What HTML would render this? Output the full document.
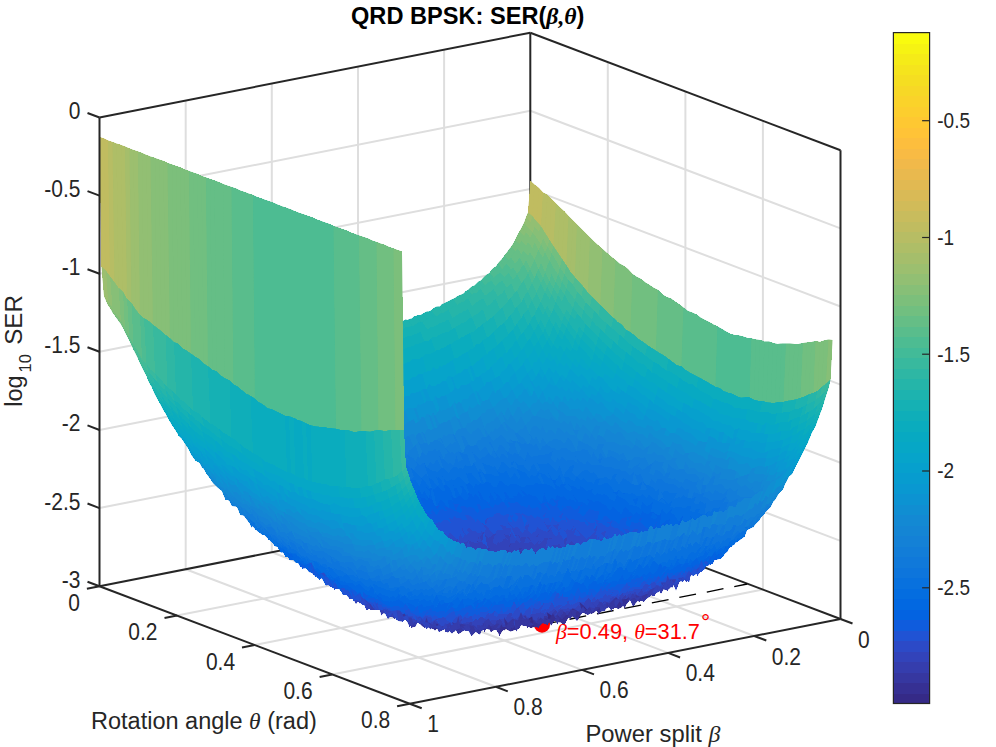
<!DOCTYPE html>
<html><head><meta charset="utf-8"><style>
html,body{margin:0;padding:0;background:#fff;width:996px;height:747px;overflow:hidden}
svg{display:block}

</style></head><body>
<svg width="996" height="747" viewBox="0 0 996 747">
<rect width="996" height="747" fill="#fff"/>
<line x1="444.1" y1="518.4" x2="444.1" y2="49.7" stroke="#dedede" stroke-width="2"/>
<line x1="358.0" y1="535.3" x2="358.0" y2="66.6" stroke="#dedede" stroke-width="2"/>
<line x1="271.8" y1="552.3" x2="271.8" y2="83.6" stroke="#dedede" stroke-width="2"/>
<line x1="185.7" y1="569.2" x2="185.7" y2="100.5" stroke="#dedede" stroke-width="2"/>
<line x1="99.5" y1="508.1" x2="530.3" y2="423.3" stroke="#dedede" stroke-width="2"/>
<line x1="99.5" y1="430.0" x2="530.3" y2="345.2" stroke="#dedede" stroke-width="2"/>
<line x1="99.5" y1="351.8" x2="530.3" y2="267.0" stroke="#dedede" stroke-width="2"/>
<line x1="99.5" y1="273.7" x2="530.3" y2="188.9" stroke="#dedede" stroke-width="2"/>
<line x1="99.5" y1="195.6" x2="530.3" y2="110.8" stroke="#dedede" stroke-width="2"/>
<line x1="607.8" y1="530.8" x2="607.8" y2="62.1" stroke="#dedede" stroke-width="2"/>
<line x1="685.4" y1="560.2" x2="685.4" y2="91.5" stroke="#dedede" stroke-width="2"/>
<line x1="762.9" y1="589.6" x2="762.9" y2="120.9" stroke="#dedede" stroke-width="2"/>
<line x1="530.3" y1="423.3" x2="840.5" y2="540.9" stroke="#dedede" stroke-width="2"/>
<line x1="530.3" y1="345.2" x2="840.5" y2="462.8" stroke="#dedede" stroke-width="2"/>
<line x1="530.3" y1="267.0" x2="840.5" y2="384.6" stroke="#dedede" stroke-width="2"/>
<line x1="530.3" y1="188.9" x2="840.5" y2="306.5" stroke="#dedede" stroke-width="2"/>
<line x1="530.3" y1="110.8" x2="840.5" y2="228.4" stroke="#dedede" stroke-width="2"/>
<line x1="444.1" y1="518.4" x2="754.3" y2="636.0" stroke="#dedede" stroke-width="2"/>
<line x1="358.0" y1="535.3" x2="668.2" y2="652.9" stroke="#dedede" stroke-width="2"/>
<line x1="271.8" y1="552.3" x2="582.0" y2="669.9" stroke="#dedede" stroke-width="2"/>
<line x1="185.7" y1="569.2" x2="495.9" y2="686.8" stroke="#dedede" stroke-width="2"/>
<line x1="607.8" y1="530.8" x2="177.0" y2="615.6" stroke="#dedede" stroke-width="2"/>
<line x1="685.4" y1="560.2" x2="254.6" y2="645.0" stroke="#dedede" stroke-width="2"/>
<line x1="762.9" y1="589.6" x2="332.1" y2="674.4" stroke="#dedede" stroke-width="2"/>
<line x1="99.5" y1="117.5" x2="530.3" y2="32.7" stroke="#262626" stroke-width="2"/>
<line x1="530.3" y1="32.7" x2="840.5" y2="150.3" stroke="#262626" stroke-width="2"/>
<line x1="530.3" y1="501.4" x2="530.3" y2="32.7" stroke="#262626" stroke-width="2"/>
<line x1="840.5" y1="619.0" x2="840.5" y2="150.3" stroke="#262626" stroke-width="2"/>
<line x1="99.5" y1="586.2" x2="530.3" y2="501.4" stroke="#262626" stroke-width="2"/>
<line x1="530.3" y1="501.4" x2="840.5" y2="619.0" stroke="#262626" stroke-width="2"/>
<line x1="542.0" y1="624.7" x2="747.2" y2="584.0" stroke="#000" stroke-width="1.3" stroke-dasharray="17 11"/>
<circle cx="542" cy="624.7" r="8" fill="#ff0000"/>
<g class="s" shape-rendering="crispEdges" transform="scale(0.5)">
<path fill="#87bf77" d="M1048 446l-5 10 9 8 4-9z"/>
<path fill="#92bf73" d="M1052 435l-4 11 8 9 5-11z"/>
<path fill="#87bf77" d="M1043 456l-4 7 9 9 4-8z"/>
<path fill="#9cbf6f" d="M1056 425l-4 10 9 9 4-12z"/>
<path fill="#7cbf7b" d="M1039 463l-4 7 8 11 5-9zM1035 470l-5 11 9 7 4-7z"/>
<path fill="#71bf80" d="M1030 481l-4 7 9 9 4-9zM1026 488l-4 6 8 8 5-5z"/>
<path fill="#65be86" d="M1022 494l-4 5 8 9 4-6zM1018 499l-5 7 9 9 4-7zM1013 506l-4 5 8 10 5-6z"/>
<path fill="#59bd8c" d="M1009 511l-4 6 8 10 4-6z"/>
<path fill="#87bf77" d="M1056 455l-4 9 8 11 5-10z"/>
<path fill="#59bd8c" d="M1005 517l-5 5 9 10 4-5z"/>
<path fill="#7cbf7b" d="M1052 464l-4 8 8 12 4-9z"/>
<path fill="#92bf73" d="M1061 444l-5 11 9 10 4-11z"/>
<path fill="#c0bc60" d="M1061 362l-5 63 9 7 4-63z"/>
<path fill="#7cbf7b" d="M1048 472l-5 9 9 11 4-8z"/>
<path fill="#92bf73" d="M1065 432l-4 12 8 10 4-12z"/>
<path fill="#71bf80" d="M1043 481l-4 7 8 13 5-9z"/>
<path fill="#59bd8c" d="M1000 522l-4 5 8 12 5-7z"/>
<path fill="#71bf80" d="M1039 488l-4 9 8 11 4-7z"/>
<path fill="#65be86" d="M1035 497l-5 5 9 13 4-7z"/>
<path fill="#4dbc92" d="M996 527l-4 6 8 11 4-5z"/>
<path fill="#65be86" d="M1030 502l-4 6 9 14 4-7z"/>
<path fill="#4dbc92" d="M992 533l-5 3 9 12 4-4z"/>
<path fill="#65be86" d="M1026 508l-4 7 8 12 5-5z"/>
<path fill="#59bd8c" d="M1022 515l-5 6 9 14 4-8z"/>
<path fill="#4dbc92" d="M987 536l-4 4 9 10 4-2z"/>
<path fill="#59bd8c" d="M1017 521l-4 6 9 12 4-4z"/>
<path fill="#4dbc92" d="M983 540l-4 6 8 9 5-5zM1013 527l-4 5 8 14 5-7z"/>
<path fill="#7cbf7b" d="M1060 475l-4 9 9 12 4-11zM1065 465l-5 10 9 10 4-10z"/>
<path fill="#71bf80" d="M1056 484l-4 8 8 13 5-9z"/>
<path fill="#87bf77" d="M1069 454l-4 11 8 10 5-11z"/>
<path fill="#71bf80" d="M1052 492l-5 9 9 11 4-7z"/>
<path fill="#4dbc92" d="M1009 532l-5 7 9 12 4-5z"/>
<path fill="#92bf73" d="M1073 442l-4 12 9 10 4-12z"/>
<path fill="#65be86" d="M1047 501l-4 7 9 13 4-9z"/>
<path fill="#42bb98" d="M979 546l-5 3 9 13 4-7z"/>
<path fill="#c0bc60" d="M1069 369l-4 63 8 10 5-66z"/>
<path fill="#65be86" d="M1043 508l-4 7 8 14 5-8z"/>
<path fill="#4dbc92" d="M1004 539l-4 5 9 10 4-3z"/>
<path fill="#59bd8c" d="M1039 515l-4 7 8 12 4-5z"/>
<path fill="#42bb98" d="M974 549l-4 3 9 11 4-1z"/>
<path fill="#59bd8c" d="M1035 522l-5 5 9 16 4-9z"/>
<path fill="#42bb98" d="M1000 544l-4 4 8 13 5-7z"/>
<path fill="#59bd8c" d="M1030 527l-4 8 8 12 5-4z"/>
<path fill="#42bb98" d="M970 552l-4 4 8 11 5-4z"/>
<path fill="#4dbc92" d="M1026 535l-4 4 8 17 4-9z"/>
<path fill="#42bb98" d="M996 548l-4 2 8 14 4-3zM966 556l-4 5 8 10 4-4z"/>
<path fill="#4dbc92" d="M1022 539l-5 7 9 13 4-3z"/>
<path fill="#71bf80" d="M1065 496l-5 9 9 14 4-9zM1069 485l-4 11 8 14 4-10z"/>
<path fill="#42bb98" d="M992 550l-5 5 9 12 4-3z"/>
<path fill="#7cbf7b" d="M1073 475l-4 10 8 15 5-11z"/>
<path fill="#65be86" d="M1060 505l-4 7 9 16 4-9z"/>
<path fill="#87bf77" d="M1078 464l-5 11 9 14 4-12z"/>
<path fill="#42bb98" d="M1017 546l-4 5 9 15 4-7z"/>
<path fill="#65be86" d="M1056 512l-4 9 8 16 5-9z"/>
<path fill="#38b99e" d="M962 561l-5 2 9 13 4-5z"/>
<path fill="#59bd8c" d="M1052 521l-5 8 9 17 4-9z"/>
<path fill="#87bf77" d="M1082 452l-4 12 8 13 4-12z"/>
<path fill="#42bb98" d="M987 555l-4 7 8 11 5-6z"/>
<path fill="#4dbc92" d="M1047 529l-4 5 9 20 4-8z"/>
<path fill="#42bb98" d="M1013 551l-4 3 8 18 5-6z"/>
<path fill="#4dbc92" d="M1043 534l-4 9 8 18 5-7z"/>
<path fill="#c0bc60" d="M1078 376l-5 66 9 10 4-67z"/>
<path fill="#38b99e" d="M957 563l-4 4 8 11 5-2zM983 562l-4 1 8 15 4-5z"/>
<path fill="#4dbc92" d="M1039 543l-5 4 9 20 4-6z"/>
<path fill="#42bb98" d="M1009 554l-5 7 9 14 4-3zM1034 547l-4 9 9 16 4-5z"/>
<path fill="#38b99e" d="M979 563l-5 4 9 15 4-4zM953 567l-4 4 8 10 4-3zM1004 561l-4 3 9 16 4-5z"/>
<path fill="#42bb98" d="M1030 556l-4 3 8 22 5-9z"/>
<path fill="#59bd8c" d="M1069 519l-4 9 8 19 4-9z"/>
<path fill="#65be86" d="M1073 510l-4 9 8 19 5-12z"/>
<path fill="#59bd8c" d="M1065 528l-5 9 9 20 4-10z"/>
<path fill="#65be86" d="M1077 500l-4 10 9 16 4-10z"/>
<path fill="#4dbc92" d="M1060 537l-4 9 8 20 5-9z"/>
<path fill="#38b99e" d="M1000 564l-4 3 8 20 5-7zM974 567l-4 4 9 13 4-2z"/>
<path fill="#42bb98" d="M1026 559l-4 7 8 18 4-3z"/>
<path fill="#38b99e" d="M949 571l-5 2 9 12 4-4z"/>
<path fill="#71bf80" d="M1082 489l-5 11 9 16 4-12z"/>
<path fill="#42bb98" d="M1056 546l-4 8 8 20 4-8z"/>
<path fill="#7cbf7b" d="M1086 477l-4 12 8 15 5-11z"/>
<path fill="#42bb98" d="M1052 554l-5 7 9 22 4-9z"/>
<path fill="#38b99e" d="M1022 566l-5 6 9 18 4-6zM996 567l-5 6 9 15 4-1z"/>
<path fill="#87bf77" d="M1090 465l-4 12 9 16 4-14z"/>
<path fill="#38b99e" d="M970 571l-4 5 8 13 5-5zM1047 561l-4 6 8 20 5-4zM944 573l-4 3 8 9 5 0zM1017 572l-4 3 8 20 5-5zM1043 567l-4 5 8 23 4-8zM991 573l-4 5 9 15 4-5zM966 576l-5 2 9 13 4-2zM1039 572l-5 9 9 22 4-8zM1013 575l-4 5 8 21 4-6z"/>
<path fill="#b7bd64" d="M1086 385l-4 67 8 13 5-75z"/>
<path fill="#38b99e" d="M940 576l-4 4 8 10 4-5z"/>
<path fill="#2eb7a4" d="M1034 581l-4 3 9 24 4-5zM987 578l-4 4 8 16 5-5z"/>
<path fill="#4dbc92" d="M1077 538l-4 9 9 20 4-10z"/>
<path fill="#42bb98" d="M1073 547l-4 10 8 18 5-8zM1069 557l-5 9 9 19 4-10z"/>
<path fill="#59bd8c" d="M1082 526l-5 12 9 19 4-13z"/>
<path fill="#38b99e" d="M1064 566l-4 8 9 20 4-9z"/>
<path fill="#2eb7a4" d="M1009 580l-5 7 9 18 4-4zM961 578l-4 3 9 16 4-6z"/>
<path fill="#65be86" d="M1086 516l-4 10 8 18 4-11z"/>
<path fill="#38b99e" d="M1060 574l-4 9 8 18 5-7z"/>
<path fill="#2eb7a4" d="M1030 584l-4 6 8 24 5-6zM936 580l-5 3 9 10 4-3z"/>
<path fill="#65be86" d="M1090 504l-4 12 8 17 5-12z"/>
<path fill="#2eb7a4" d="M983 582l-4 2 8 17 4-3zM1056 583l-5 4 9 21 4-7zM1004 587l-4 1 9 22 4-5z"/>
<path fill="#71bf80" d="M1095 493l-5 11 9 17 4-15z"/>
<path fill="#2eb7a4" d="M957 581l-4 4 8 14 5-2zM1026 590l-5 5 9 22 4-3zM1051 587l-4 8 9 23 4-10z"/>
<path fill="#25b5a9" d="M1047 595l-4 8 8 22 5-7z"/>
<path fill="#2eb7a4" d="M931 583l-4 4 9 10 4-4z"/>
<path fill="#7cbf7b" d="M1099 479l-4 14 8 13 4-14z"/>
<path fill="#2eb7a4" d="M979 584l-5 5 9 16 4-4z"/>
<path fill="#25b5a9" d="M1021 595l-4 6 9 24 4-8z"/>
<path fill="#2eb7a4" d="M1000 588l-4 5 8 21 5-4z"/>
<path fill="#25b5a9" d="M1043 603l-4 5 8 20 4-3z"/>
<path fill="#2eb7a4" d="M953 585l-5 0 9 17 4-3z"/>
<path fill="#25b5a9" d="M1017 601l-4 4 8 25 5-5z"/>
<path fill="#2eb7a4" d="M927 587l-4 2 8 10 5-2zM974 589l-4 2 8 19 5-5z"/>
<path fill="#25b5a9" d="M1039 608l-5 6 9 23 4-9z"/>
<path fill="#2eb7a4" d="M996 593l-5 5 9 20 4-4z"/>
<path fill="#42bb98" d="M1086 557l-4 10 8 17 4-11z"/>
<path fill="#38b99e" d="M1082 567l-5 8 9 18 4-9zM1077 575l-4 10 8 18 5-10z"/>
<path fill="#2eb7a4" d="M1073 585l-4 9 8 19 4-10z"/>
<path fill="#4dbc92" d="M1090 544l-4 13 8 16 5-11z"/>
<path fill="#2eb7a4" d="M1069 594l-5 7 9 19 4-7z"/>
<path fill="#25b5a9" d="M1013 605l-4 5 8 25 4-5z"/>
<path fill="#2eb7a4" d="M948 585l-4 5 9 15 4-3z"/>
<path fill="#1db3af" d="M1034 614l-4 3 8 24 5-4z"/>
<path fill="#2eb7a4" d="M970 591l-4 6 8 15 4-2z"/>
<path fill="#25b5a9" d="M1064 601l-4 7 9 22 4-10z"/>
<path fill="#59bd8c" d="M1094 533l-4 11 9 18 4-14z"/>
<path fill="#25b5a9" d="M991 598l-4 3 9 22 4-5z"/>
<path fill="#2eb7a4" d="M923 589l-5 2 9 12 4-4z"/>
<path fill="#b7bd64" d="M1095 390l-5 75 9 14 4-81z"/>
<path fill="#25b5a9" d="M1060 608l-4 10 8 18 5-6z"/>
<path fill="#59bd8c" d="M1099 521l-5 12 9 15 4-13z"/>
<path fill="#1db3af" d="M1056 618l-5 7 9 20 4-9zM1030 617l-4 8 8 22 4-6z"/>
<path fill="#25b5a9" d="M1009 610l-5 4 9 25 4-4z"/>
<path fill="#2eb7a4" d="M944 590l-4 3 8 16 5-4z"/>
<path fill="#25b5a9" d="M987 601l-4 4 8 22 5-4z"/>
<path fill="#1db3af" d="M1051 625l-4 3 9 23 4-6z"/>
<path fill="#25b5a9" d="M966 597l-5 2 9 14 4-1z"/>
<path fill="#65be86" d="M1103 506l-4 15 8 14 5-14z"/>
<path fill="#1db3af" d="M1026 625l-5 5 9 23 4-6z"/>
<path fill="#2eb7a4" d="M918 591l-4 2 9 11 4-1z"/>
<path fill="#1db3af" d="M1004 614l-4 4 8 27 5-6z"/>
<path fill="#15b1b4" d="M1047 628l-4 9 8 21 5-7zM1021 630l-4 5 9 24 4-6z"/>
<path fill="#2eb7a4" d="M940 593l-4 4 8 15 4-3z"/>
<path fill="#25b5a9" d="M983 605l-5 5 9 21 4-4z"/>
<path fill="#71bf80" d="M1107 492l-4 14 9 15 4-16z"/>
<path fill="#15b1b4" d="M1043 637l-5 4 9 23 4-6z"/>
<path fill="#25b5a9" d="M961 599l-4 3 9 17 4-6z"/>
<path fill="#1db3af" d="M1000 618l-4 5 8 26 4-4z"/>
<path fill="#2eb7a4" d="M1086 593l-5 10 9 18 4-10z"/>
<path fill="#25b5a9" d="M1081 603l-4 10 9 16 4-8z"/>
<path fill="#15b1b4" d="M1017 635l-4 4 8 24 5-4z"/>
<path fill="#2eb7a4" d="M914 593l-4 3 8 11 5-3zM1090 584l-4 9 8 18 5-13z"/>
<path fill="#1db3af" d="M1077 613l-4 7 8 19 5-10z"/>
<path fill="#25b5a9" d="M978 610l-4 2 9 24 4-5z"/>
<path fill="#38b99e" d="M1094 573l-4 11 9 14 4-9z"/>
<path fill="#1db3af" d="M1073 620l-4 10 8 18 4-9z"/>
<path fill="#15b1b4" d="M1038 641l-4 6 9 21 4-4z"/>
<path fill="#25b5a9" d="M936 597l-5 2 9 15 4-2z"/>
<path fill="#42bb98" d="M1099 562l-5 11 9 16 4-13z"/>
<path fill="#15b1b4" d="M1069 630l-5 6 9 18 4-6z"/>
<path fill="#1db3af" d="M996 623l-5 4 9 24 4-2z"/>
<path fill="#25b5a9" d="M957 602l-4 3 8 17 5-3z"/>
<path fill="#15b1b4" d="M1013 639l-5 6 9 24 4-6z"/>
<path fill="#4dbc92" d="M1103 548l-4 14 8 14 4-12z"/>
<path fill="#15b1b4" d="M1064 636l-4 9 8 17 5-8z"/>
<path fill="#0faeb9" d="M1034 647l-4 6 8 21 5-6z"/>
<path fill="#2eb7a4" d="M910 596l-4 2 8 12 4-3z"/>
<path fill="#0faeb9" d="M1060 645l-4 6 8 19 4-8z"/>
<path fill="#25b5a9" d="M974 612l-4 1 8 25 5-2z"/>
<path fill="#59bd8c" d="M1107 535l-4 13 8 16 5-15z"/>
<path fill="#1db3af" d="M991 627l-4 4 8 26 5-6z"/>
<path fill="#25b5a9" d="M931 599l-4 4 8 14 5-3z"/>
<path fill="#0faeb9" d="M1008 645l-4 4 9 25 4-5zM1030 653l-4 6 8 22 4-7z"/>
<path fill="#25b5a9" d="M953 605l-5 4 9 17 4-4z"/>
<path fill="#0faeb9" d="M1056 651l-5 7 9 19 4-7z"/>
<path fill="#b7bd64" d="M1103 398l-4 81 8 13 5-85z"/>
<path fill="#65be86" d="M1112 521l-5 14 9 14 4-14z"/>
<path fill="#0faeb9" d="M1051 658l-4 6 8 18 5-5z"/>
<path fill="#25b5a9" d="M906 598l-5 2 9 13 4-3z"/>
<path fill="#0aacbe" d="M1026 659l-5 4 9 20 4-2z"/>
<path fill="#15b1b4" d="M987 631l-4 5 8 23 4-2z"/>
<path fill="#25b5a9" d="M970 613l-4 6 8 23 4-4z"/>
<path fill="#0faeb9" d="M1004 649l-4 2 8 25 5-2z"/>
<path fill="#25b5a9" d="M927 603l-4 1 8 17 4-4zM948 609l-4 3 9 17 4-3z"/>
<path fill="#0aacbe" d="M1047 664l-4 4 8 21 4-7zM1021 663l-4 6 8 22 5-8z"/>
<path fill="#71bf80" d="M1116 505l-4 16 8 14 4-18z"/>
<path fill="#25b5a9" d="M1094 611l-4 10 8 16 5-11z"/>
<path fill="#1db3af" d="M1090 621l-4 8 8 17 4-9z"/>
<path fill="#15b1b4" d="M1081 639l-4 9 9 18 4-10z"/>
<path fill="#1db3af" d="M1086 629l-5 10 9 17 4-10zM966 619l-5 3 9 23 4-3z"/>
<path fill="#15b1b4" d="M983 636l-5 2 9 26 4-5z"/>
<path fill="#2eb7a4" d="M1099 598l-5 13 9 15 4-9z"/>
<path fill="#0faeb9" d="M1000 651l-5 6 9 25 4-6z"/>
<path fill="#25b5a9" d="M901 600l-4 3 8 11 5-1z"/>
<path fill="#0aacbe" d="M1043 668l-5 6 9 21 4-6z"/>
<path fill="#2eb7a4" d="M1103 589l-4 9 8 19 4-13z"/>
<path fill="#0faeb9" d="M1077 648l-4 6 8 18 5-6z"/>
<path fill="#0aacbe" d="M1017 669l-4 5 8 21 4-4z"/>
<path fill="#25b5a9" d="M944 612l-4 2 8 17 5-2zM923 604l-5 3 9 14 4 0z"/>
<path fill="#0faeb9" d="M1073 654l-5 8 9 19 4-9z"/>
<path fill="#38b99e" d="M1107 576l-4 13 8 15 5-14z"/>
<path fill="#0aacbe" d="M1038 674l-4 7 9 19 4-5zM1068 662l-4 8 9 17 4-6z"/>
<path fill="#15b1b4" d="M978 638l-4 4 9 26 4-4z"/>
<path fill="#1db3af" d="M961 622l-4 4 8 22 5-3z"/>
<path fill="#0faeb9" d="M995 657l-4 2 9 25 4-2z"/>
<path fill="#42bb98" d="M1111 564l-4 12 9 14 4-13z"/>
<path fill="#0aacbe" d="M1013 674l-5 2 9 25 4-6z"/>
<path fill="#25b5a9" d="M897 603l-4 1 8 13 4-3z"/>
<path fill="#0aacbe" d="M1064 670l-4 7 8 17 5-7z"/>
<path fill="#25b5a9" d="M940 614l-5 3 9 18 4-4z"/>
<path fill="#07a9c2" d="M1034 681l-4 2 8 23 5-6z"/>
<path fill="#25b5a9" d="M918 607l-4 3 9 15 4-4z"/>
<path fill="#07a9c2" d="M1060 677l-5 5 9 22 4-10z"/>
<path fill="#4dbc92" d="M1116 549l-5 15 9 13 4-14z"/>
<path fill="#15b1b4" d="M974 642l-4 3 8 28 5-5z"/>
<path fill="#0faeb9" d="M991 659l-4 5 8 26 5-6z"/>
<path fill="#1db3af" d="M957 626l-4 3 8 23 4-4z"/>
<path fill="#0aacbe" d="M1008 676l-4 6 9 23 4-4z"/>
<path fill="#07a9c2" d="M1030 683l-5 8 9 21 4-6zM1055 682l-4 7 9 20 4-5z"/>
<path fill="#25b5a9" d="M893 604l-5 3 9 13 4-3z"/>
<path fill="#59bd8c" d="M1120 535l-4 14 8 14 5-15z"/>
<path fill="#1db3af" d="M935 617l-4 4 9 15 4-1z"/>
<path fill="#aebe67" d="M1112 407l-5 85 9 13 4-90z"/>
<path fill="#25b5a9" d="M914 610l-4 3 8 13 5-1z"/>
<path fill="#0aacbe" d="M987 664l-4 4 8 26 4-4z"/>
<path fill="#07a9c2" d="M1051 689l-4 6 8 21 5-7zM1025 691l-4 4 9 21 4-4z"/>
<path fill="#15b1b4" d="M970 645l-5 3 9 27 4-2z"/>
<path fill="#07a9c2" d="M1004 682l-4 2 8 23 5-2z"/>
<path fill="#0faeb9" d="M1090 656l-4 10 8 15 4-6z"/>
<path fill="#1db3af" d="M953 629l-5 2 9 23 4-2z"/>
<path fill="#15b1b4" d="M1094 646l-4 10 8 19 5-13zM1098 637l-4 9 9 16 4-10z"/>
<path fill="#1db3af" d="M1103 626l-5 11 9 15 4-9zM1107 617l-4 9 8 17 5-12z"/>
<path fill="#0aacbe" d="M1086 666l-5 6 9 17 4-8z"/>
<path fill="#06a7c6" d="M1047 695l-4 5 8 18 4-2z"/>
<path fill="#65be86" d="M1124 517l-4 18 9 13 4-18z"/>
<path fill="#06a7c6" d="M1021 695l-4 6 8 21 5-6z"/>
<path fill="#25b5a9" d="M888 607l-4 1 8 14 5-2zM1111 604l-4 13 9 14 4-14z"/>
<path fill="#0aacbe" d="M1081 672l-4 9 8 17 5-9zM983 668l-5 5 9 23 4-2z"/>
<path fill="#1db3af" d="M931 621l-4 0 8 19 5-4z"/>
<path fill="#25b5a9" d="M910 613l-5 1 9 16 4-4z"/>
<path fill="#07a9c2" d="M1077 681l-4 6 8 19 4-8zM1000 684l-5 6 9 23 4-6z"/>
<path fill="#0faeb9" d="M965 648l-4 4 9 26 4-3z"/>
<path fill="#1db3af" d="M948 631l-4 4 9 23 4-4z"/>
<path fill="#06a7c6" d="M1043 700l-5 6 9 20 4-8z"/>
<path fill="#07a9c2" d="M1073 687l-5 7 9 21 4-9z"/>
<path fill="#2eb7a4" d="M1116 590l-5 14 9 13 4-14z"/>
<path fill="#06a7c6" d="M1017 701l-4 4 8 22 4-5zM1068 694l-4 10 9 19 4-8z"/>
<path fill="#0aacbe" d="M978 673l-4 2 8 26 5-5z"/>
<path fill="#06a7c6" d="M1038 706l-4 6 8 22 5-8z"/>
<path fill="#25b5a9" d="M884 608l-4 5 8 12 4-3z"/>
<path fill="#1db3af" d="M927 621l-4 4 8 19 4-4z"/>
<path fill="#07a9c2" d="M995 690l-4 4 9 21 4-2z"/>
<path fill="#38b99e" d="M1120 577l-4 13 8 13 5-14z"/>
<path fill="#25b5a9" d="M905 614l-4 3 9 16 4-3z"/>
<path fill="#0faeb9" d="M961 652l-4 2 8 27 5-3z"/>
<path fill="#06a7c6" d="M1064 704l-4 5 8 15 5-1z"/>
<path fill="#15b1b4" d="M944 635l-4 1 8 27 5-5z"/>
<path fill="#06a4ca" d="M1034 712l-4 4 8 21 4-3z"/>
<path fill="#06a7c6" d="M1013 705l-5 2 9 20 4 0z"/>
<path fill="#42bb98" d="M1124 563l-4 14 9 12 4-12z"/>
<path fill="#06a7c6" d="M1060 709l-5 7 9 20 4-12z"/>
<path fill="#0aacbe" d="M974 675l-4 3 8 25 4-2z"/>
<path fill="#07a9c2" d="M991 694l-4 2 8 25 5-6z"/>
<path fill="#25b5a9" d="M880 613l-5 0 9 13 4-1z"/>
<path fill="#0faeb9" d="M957 654l-4 4 8 28 4-5z"/>
<path fill="#1db3af" d="M923 625l-5 1 9 19 4-1z"/>
<path fill="#25b5a9" d="M901 617l-4 3 8 15 5-2z"/>
<path fill="#06a4ca" d="M1055 716l-4 2 9 22 4-4zM1030 716l-5 6 9 20 4-5z"/>
<path fill="#15b1b4" d="M940 636l-5 4 9 24 4-1z"/>
<path fill="#06a7c6" d="M1008 707l-4 6 8 24 5-10z"/>
<path fill="#4dbc92" d="M1129 548l-5 15 9 14 4-17z"/>
<path fill="#0faeb9" d="M1103 662l-5 13 9 14 4-12z"/>
<path fill="#0aacbe" d="M1098 675l-4 6 9 15 4-7z"/>
<path fill="#15b1b4" d="M1111 643l-4 9 9 17 4-11z"/>
<path fill="#06a7c6" d="M987 696l-5 5 9 25 4-5z"/>
<path fill="#0faeb9" d="M1107 652l-4 10 8 15 5-8z"/>
<path fill="#0aacbe" d="M970 678l-5 3 9 29 4-7z"/>
<path fill="#1db3af" d="M1116 631l-5 12 9 15 4-14z"/>
<path fill="#07a9c2" d="M1094 681l-4 8 8 15 5-8z"/>
<path fill="#aebe67" d="M1120 415l-4 90 8 12 5-94z"/>
<path fill="#06a4ca" d="M1051 718l-4 8 8 20 5-6z"/>
<path fill="#0faeb9" d="M953 658l-5 5 9 25 4-2z"/>
<path fill="#06a4ca" d="M1025 722l-4 5 9 18 4-3zM1004 713l-4 2 8 26 4-4z"/>
<path fill="#07a9c2" d="M1090 689l-5 9 9 17 4-11z"/>
<path fill="#06a7c6" d="M1085 698l-4 8 9 16 4-7z"/>
<path fill="#1db3af" d="M918 626l-4 4 8 16 5-1z"/>
<path fill="#06a0cd" d="M1047 726l-5 8 9 19 4-7z"/>
<path fill="#1db3af" d="M897 620l-5 2 9 14 4-1z"/>
<path fill="#25b5a9" d="M875 613l-4 1 9 13 4-1z"/>
<path fill="#15b1b4" d="M935 640l-4 4 9 22 4-2z"/>
<path fill="#59bd8c" d="M1133 530l-4 18 8 12 4-17z"/>
<path fill="#25b5a9" d="M1120 617l-4 14 8 13 4-14z"/>
<path fill="#06a7c6" d="M1081 706l-4 9 8 12 5-5z"/>
<path fill="#07a9c2" d="M965 681l-4 5 9 24 4 0z"/>
<path fill="#06a7c6" d="M982 701l-4 2 9 24 4-1z"/>
<path fill="#06a4ca" d="M1077 715l-4 8 8 11 4-7zM1000 715l-5 6 9 22 4-2z"/>
<path fill="#2eb7a4" d="M1124 603l-4 14 8 13 5-11z"/>
<path fill="#06a0cd" d="M1021 727l-4 0 8 23 5-5zM1042 734l-4 3 9 18 4-2z"/>
<path fill="#0faeb9" d="M948 663l-4 1 8 25 5-1z"/>
<path fill="#1db3af" d="M914 630l-4 3 8 17 4-4z"/>
<path fill="#06a4ca" d="M1073 723l-5 1 9 21 4-11z"/>
<path fill="#1db3af" d="M892 622l-4 3 9 14 4-3z"/>
<path fill="#15b1b4" d="M931 644l-4 1 8 23 5-2z"/>
<path fill="#25b5a9" d="M871 614l-4 3 8 14 5-4z"/>
<path fill="#06a7c6" d="M978 703l-4 7 8 22 5-5z"/>
<path fill="#06a4ca" d="M995 721l-4 5 8 25 5-8z"/>
<path fill="#2eb7a4" d="M1129 589l-5 14 9 16 4-15z"/>
<path fill="#06a4ca" d="M1068 724l-4 12 8 17 5-8z"/>
<path fill="#07a9c2" d="M961 686l-4 2 8 26 5-4z"/>
<path fill="#06a0cd" d="M1017 727l-5 10 9 18 4-5zM1038 737l-4 5 8 22 5-9zM1064 736l-4 4 8 19 4-6z"/>
<path fill="#0faeb9" d="M944 664l-4 2 8 30 4-7z"/>
<path fill="#06a0cd" d="M1012 737l-4 4 9 23 4-9z"/>
<path fill="#38b99e" d="M1133 577l-4 12 8 15 4-17z"/>
<path fill="#06a7c6" d="M974 710l-4 0 8 29 4-7z"/>
<path fill="#1db3af" d="M910 633l-5 2 9 17 4-2z"/>
<path fill="#06a4ca" d="M991 726l-4 1 8 26 4-2z"/>
<path fill="#06a0cd" d="M1034 742l-4 3 8 23 4-4z"/>
<path fill="#1db3af" d="M888 625l-4 1 8 15 5-2z"/>
<path fill="#25b5a9" d="M867 617l-5 4 9 11 4-1z"/>
<path fill="#06a0cd" d="M1060 740l-5 6 9 17 4-4z"/>
<path fill="#15b1b4" d="M927 645l-5 1 9 25 4-3z"/>
<path fill="#07a9c2" d="M957 688l-5 1 9 30 4-5z"/>
<path fill="#06a0cd" d="M1008 741l-4 2 8 21 5 0z"/>
<path fill="#0aacbe" d="M940 666l-5 2 9 30 4-2zM1111 677l-4 12 8 10 5-9z"/>
<path fill="#07a9c2" d="M1107 689l-4 7 8 13 4-10z"/>
<path fill="#0aacbe" d="M1116 669l-5 8 9 13 4-10z"/>
<path fill="#0faeb9" d="M1120 658l-4 11 8 11 4-11z"/>
<path fill="#42bb98" d="M1137 560l-4 17 8 10 5-17z"/>
<path fill="#06a7c6" d="M970 710l-5 4 9 26 4-1z"/>
<path fill="#07a9c2" d="M1103 696l-5 8 9 13 4-8z"/>
<path fill="#079ccf" d="M1030 745l-5 5 9 20 4-2z"/>
<path fill="#1db3af" d="M905 635l-4 1 9 19 4-3z"/>
<path fill="#06a4ca" d="M987 727l-5 5 9 23 4-2z"/>
<path fill="#079ccf" d="M1055 746l-4 7 9 8 4 2z"/>
<path fill="#15b1b4" d="M1124 644l-4 14 8 11 5-14z"/>
<path fill="#07a9c2" d="M952 689l-4 7 9 25 4-2z"/>
<path fill="#06a7c6" d="M1098 704l-4 11 8 8 5-6z"/>
<path fill="#1db3af" d="M862 621l-4 2 9 11 4-2z"/>
<path fill="#06a4ca" d="M1094 715l-4 7 8 13 4-12z"/>
<path fill="#15b1b4" d="M922 646l-4 4 9 24 4-3z"/>
<path fill="#1db3af" d="M884 626l-4 1 8 17 4-3z"/>
<path fill="#06a0cd" d="M1004 743l-5 8 9 19 4-6z"/>
<path fill="#aebe67" d="M1129 423l-5 94 9 13 4-98z"/>
<path fill="#06a4ca" d="M1090 722l-5 5 9 15 4-7z"/>
<path fill="#1db3af" d="M1128 630l-4 14 9 11 4-12z"/>
<path fill="#06a4ca" d="M965 714l-4 5 8 26 5-5z"/>
<path fill="#079ccf" d="M1025 750l-4 5 8 21 5-6zM1051 753l-4 2 8 18 5-12z"/>
<path fill="#0aacbe" d="M935 668l-4 3 8 28 5-1z"/>
<path fill="#59bd8c" d="M1141 543l-4 17 9 10 4-16z"/>
<path fill="#06a0cd" d="M982 732l-4 7 9 18 4-2z"/>
<path fill="#06a4ca" d="M1085 727l-4 7 9 15 4-7z"/>
<path fill="#07a9c2" d="M948 696l-4 2 8 26 5-3z"/>
<path fill="#1db3af" d="M901 636l-4 3 8 19 5-3z"/>
<path fill="#079ccf" d="M999 751l-4 2 9 22 4-5z"/>
<path fill="#25b5a9" d="M1133 619l-5 11 9 13 4-13z"/>
<path fill="#06a0cd" d="M1081 734l-4 11 8 12 5-8z"/>
<path fill="#079ccf" d="M1047 755l-5 9 9 13 4-4zM1021 755l-4 9 8 16 4-4z"/>
<path fill="#15b1b4" d="M918 650l-4 2 8 23 5-1z"/>
<path fill="#1db3af" d="M858 623l-4 0 8 13 5-2zM880 627l-5 4 9 14 4-1z"/>
<path fill="#079ccf" d="M1077 745l-5 8 9 8 4-4z"/>
<path fill="#2eb7a4" d="M1137 604l-4 15 8 11 5-15z"/>
<path fill="#06a4ca" d="M961 719l-4 2 8 25 4-1z"/>
<path fill="#06a0cd" d="M978 739l-4 1 8 22 5-5z"/>
<path fill="#0aacbe" d="M931 671l-4 3 8 29 4-4z"/>
<path fill="#0998d1" d="M1042 764l-4 4 9 12 4-3z"/>
<path fill="#079ccf" d="M1072 753l-4 6 9 10 4-8zM995 753l-4 2 8 23 5-3z"/>
<path fill="#15b1b4" d="M897 639l-5 2 9 20 4-3z"/>
<path fill="#07a9c2" d="M944 698l-5 1 9 29 4-4z"/>
<path fill="#0998d1" d="M1017 764l-5 0 9 17 4-1z"/>
<path fill="#15b1b4" d="M914 652l-4 3 8 24 4-4z"/>
<path fill="#079ccf" d="M1068 759l-4 4 8 13 5-7z"/>
<path fill="#38b99e" d="M1141 587l-4 17 9 11 4-15z"/>
<path fill="#1db3af" d="M875 631l-4 1 8 14 5-1z"/>
<path fill="#06a4ca" d="M957 721l-5 3 9 27 4-5z"/>
<path fill="#1db3af" d="M854 623l-4 2 8 11 4 0z"/>
<path fill="#0998d1" d="M1038 768l-4 2 8 19 5-9z"/>
<path fill="#06a0cd" d="M974 740l-5 5 9 20 4-3z"/>
<path fill="#0aacbe" d="M927 674l-5 1 9 31 4-3z"/>
<path fill="#0998d1" d="M1012 764l-4 6 9 21 4-10z"/>
<path fill="#07a9c2" d="M939 699l-4 4 9 30 4-5z"/>
<path fill="#15b1b4" d="M892 641l-4 3 9 20 4-3z"/>
<path fill="#079ccf" d="M991 755l-4 2 8 23 4-2z"/>
<path fill="#0aacbe" d="M1124 680l-4 10 8 13 5-9z"/>
<path fill="#07a9c2" d="M1115 699l-4 10 9 15 4-12zM1120 690l-5 9 9 13 4-9z"/>
<path fill="#06a7c6" d="M1111 709l-4 8 8 15 5-8z"/>
<path fill="#0aacbe" d="M1128 669l-4 11 9 14 4-14z"/>
<path fill="#0faeb9" d="M910 655l-5 3 9 22 4-1z"/>
<path fill="#0998d1" d="M1064 763l-4-2 8 18 4-3zM1034 770l-5 6 9 14 4-1z"/>
<path fill="#42bb98" d="M1146 570l-5 17 9 13 4-17z"/>
<path fill="#0998d1" d="M1008 770l-4 5 8 20 5-4z"/>
<path fill="#06a4ca" d="M952 724l-4 4 9 26 4-3zM1107 717l-5 6 9 17 4-8z"/>
<path fill="#1db3af" d="M871 632l-4 2 8 16 4-4z"/>
<path fill="#06a4ca" d="M1102 723l-4 12 9 12 4-7z"/>
<path fill="#1db3af" d="M850 625l-5 3 9 11 4-3z"/>
<path fill="#0faeb9" d="M1133 655l-5 14 9 11 4-12z"/>
<path fill="#06a0cd" d="M969 745l-4 1 9 17 4 2z"/>
<path fill="#079ccf" d="M1060 761l-5 12 9 19 4-13z"/>
<path fill="#0aacbe" d="M922 675l-4 4 9 28 4-1z"/>
<path fill="#079ccf" d="M987 757l-5 5 9 24 4-6z"/>
<path fill="#06a7c6" d="M935 703l-4 3 8 26 5 1z"/>
<path fill="#06a0cd" d="M1098 735l-4 7 8 10 5-5z"/>
<path fill="#0998d1" d="M1055 773l-4 4 8 16 5-1zM1029 776l-4 4 9 17 4-7z"/>
<path fill="#a5be6b" d="M1137 432l-4 98 8 13 5-102z"/>
<path fill="#15b1b4" d="M1137 643l-4 12 8 13 4-13zM888 644l-4 1 8 18 5 1z"/>
<path fill="#06a0cd" d="M1094 742l-4 7 8 17 4-14z"/>
<path fill="#0998d1" d="M1004 775l-5 3 9 19 4-2z"/>
<path fill="#0faeb9" d="M905 658l-4 3 8 22 5-3z"/>
<path fill="#079ccf" d="M1090 749l-5 8 9 15 4-6z"/>
<path fill="#06a4ca" d="M948 728l-4 5 8 21 5 0z"/>
<path fill="#4dbc92" d="M1150 554l-4 16 8 13 4-20z"/>
<path fill="#1db3af" d="M867 634l-5 2 9 15 4-1z"/>
<path fill="#06a0cd" d="M965 746l-4 5 8 20 5-8z"/>
<path fill="#1db3af" d="M1141 630l-4 13 8 12 5-15zM845 628l-4 2 8 11 5-2z"/>
<path fill="#079ccf" d="M1085 757l-4 4 8 17 5-6z"/>
<path fill="#0aacbe" d="M918 679l-4 1 8 31 5-4z"/>
<path fill="#0998d1" d="M982 762l-4 3 8 16 5 5z"/>
<path fill="#0c93d2" d="M1025 780l-4 1 8 18 5-2z"/>
<path fill="#06a7c6" d="M931 706l-4 1 8 31 4-6z"/>
<path fill="#0c93d2" d="M1051 777l-4 3 8 12 4 1z"/>
<path fill="#25b5a9" d="M1146 615l-5 15 9 10 4-14z"/>
<path fill="#0faeb9" d="M901 661l-4 3 8 22 4-3z"/>
<path fill="#0c93d2" d="M999 778l-4 2 9 19 4-2z"/>
<path fill="#06a0cd" d="M944 733l-5-1 9 31 4-9z"/>
<path fill="#079ccf" d="M961 751l-4 3 8 20 4-3z"/>
<path fill="#15b1b4" d="M884 645l-5 1 9 20 4-3z"/>
<path fill="#079ccf" d="M1081 761l-4 8 8 13 4-4z"/>
<path fill="#0c93d2" d="M1021 781l-4 10 8 17 4-9zM1047 780l-5 9 9 16 4-13z"/>
<path fill="#1db3af" d="M862 636l-4 0 9 18 4-3z"/>
<path fill="#0998d1" d="M1077 769l-5 7 9 15 4-9z"/>
<path fill="#1db3af" d="M841 630l-4 0 8 14 4-3z"/>
<path fill="#0aacbe" d="M914 680l-5 3 9 30 4-2z"/>
<path fill="#06a7c6" d="M927 707l-5 4 9 26 4 1z"/>
<path fill="#2eb7a4" d="M1150 600l-4 15 8 11 4-15z"/>
<path fill="#0c93d2" d="M1017 791l-5 4 9 15 4-2z"/>
<path fill="#0998d1" d="M978 765l-4-2 8 24 4-6z"/>
<path fill="#0c93d2" d="M995 780l-4 6 8 16 5-3z"/>
<path fill="#06a4ca" d="M939 732l-4 6 9 24 4 1z"/>
<path fill="#0998d1" d="M1072 776l-4 3 9 19 4-7z"/>
<path fill="#079ccf" d="M957 754l-5 0 9 24 4-4z"/>
<path fill="#0c93d2" d="M1042 789l-4 1 8 12 5 3z"/>
<path fill="#0faeb9" d="M897 664l-5-1 9 25 4-2z"/>
<path fill="#15b1b4" d="M879 646l-4 4 9 17 4-1z"/>
<path fill="#06a4ca" d="M1120 724l-5 8 9 16 4-14z"/>
<path fill="#06a7c6" d="M1128 703l-4 9 8 13 5-9z"/>
<path fill="#0c93d2" d="M1068 779l-4 13 8 13 5-7z"/>
<path fill="#07a9c2" d="M1133 694l-5 9 9 13 4-13z"/>
<path fill="#06a4ca" d="M1115 732l-4 8 9 13 4-5z"/>
<path fill="#06a7c6" d="M1124 712l-4 12 8 10 4-9z"/>
<path fill="#0aacbe" d="M1137 680l-4 14 8 9 4-7z"/>
<path fill="#06a0cd" d="M1111 740l-4 7 8 18 5-12z"/>
<path fill="#0aacbe" d="M909 683l-4 3 9 31 4-4z"/>
<path fill="#0998d1" d="M974 763l-5 8 9 26 4-10z"/>
<path fill="#108ed2" d="M1012 795l-4 2 8 18 5-5z"/>
<path fill="#1db3af" d="M858 636l-4 3 8 15 5 0z"/>
<path fill="#38b99e" d="M1154 583l-4 17 8 11 5-19z"/>
<path fill="#1db3af" d="M837 630l-5 2 9 12 4 0z"/>
<path fill="#06a7c6" d="M922 711l-4 2 8 28 5-4z"/>
<path fill="#079ccf" d="M952 754l-4 9 8 21 5-6z"/>
<path fill="#06a0cd" d="M1107 747l-5 5 9 18 4-5z"/>
<path fill="#0faeb9" d="M1141 668l-4 12 8 16 5-17z"/>
<path fill="#0c93d2" d="M1064 792l-5 1 9 12 4 0z"/>
<path fill="#06a0cd" d="M935 738l-4-1 8 29 5-4z"/>
<path fill="#0c93d2" d="M991 786l-5-5 9 25 4-4zM1038 790l-4 7 8 11 4-6z"/>
<path fill="#0998d1" d="M969 771l-4 3 9 26 4-3z"/>
<path fill="#15b1b4" d="M875 650l-4 1 8 18 5-2z"/>
<path fill="#0faeb9" d="M892 663l-4 3 8 24 5-2z"/>
<path fill="#079ccf" d="M1102 752l-4 14 9 6 4-2z"/>
<path fill="#15b1b4" d="M1145 655l-4 13 9 11 4-12z"/>
<path fill="#108ed2" d="M1008 797l-4 2 8 22 4-6z"/>
<path fill="#0aacbe" d="M905 686l-4 2 8 28 5 1z"/>
<path fill="#06a7c6" d="M918 713l-4 4 8 29 4-5z"/>
<path fill="#0998d1" d="M1098 766l-4 6 8 9 5-9z"/>
<path fill="#a5be6b" d="M1146 441l-5 102 9 11 4-105z"/>
<path fill="#108ed2" d="M1034 797l-5 2 9 14 4-5z"/>
<path fill="#1db3af" d="M854 639l-5 2 9 16 4-3z"/>
<path fill="#079ccf" d="M948 763l-4-1 8 19 4 3z"/>
<path fill="#0998d1" d="M1094 772l-5 6 9 14 4-11z"/>
<path fill="#1db3af" d="M832 632l-4 1 8 12 5-1zM1150 640l-5 15 9 12 4-14z"/>
<path fill="#4dbc92" d="M1158 563l-4 20 9 9 4-19z"/>
<path fill="#0c93d2" d="M986 781l-4 6 9 25 4-6z"/>
<path fill="#0998d1" d="M965 774l-4 4 8 23 5-1zM1089 778l-4 4 9 22 4-12z"/>
<path fill="#06a0cd" d="M931 737l-5 4 9 27 4-2z"/>
<path fill="#108ed2" d="M1004 799l-5 3 9 30 4-11z"/>
<path fill="#0c93d2" d="M1059 793l-4-1 9 16 4-3z"/>
<path fill="#15b1b4" d="M871 651l-4 3 8 17 4-2z"/>
<path fill="#0faeb9" d="M888 666l-4 1 8 26 4-3z"/>
<path fill="#108ed2" d="M1029 799l-4 9 9 7 4-2z"/>
<path fill="#0c93d2" d="M1085 782l-4 9 8 13 5 0zM982 787l-4 10 8 17 5-2z"/>
<path fill="#1db3af" d="M1154 626l-4 14 8 13 5-16z"/>
<path fill="#06a7c6" d="M914 717l-5-1 9 30 4 0z"/>
<path fill="#07a9c2" d="M901 688l-5 2 9 30 4-4z"/>
<path fill="#0c93d2" d="M1055 792l-4 13 8 12 5-9z"/>
<path fill="#1db3af" d="M849 641l-4 3 9 14 4-1z"/>
<path fill="#06a0cd" d="M926 741l-4 5 9 25 4-3z"/>
<path fill="#108ed2" d="M1025 808l-4 2 8 17 5-12z"/>
<path fill="#0998d1" d="M961 778l-5 6 9 17 4 0z"/>
<path fill="#1db3af" d="M828 633l-4 4 8 11 4-3z"/>
<path fill="#079ccf" d="M944 762l-5 4 9 19 4-4z"/>
<path fill="#0c93d2" d="M1081 791l-4 7 8 11 4-5z"/>
<path fill="#108ed2" d="M999 802l-4 4 8 16 5 10zM978 797l-4 3 8 18 4-4zM1051 805l-5-3 9 19 4-4z"/>
<path fill="#0faeb9" d="M884 667l-5 2 9 26 4-2z"/>
<path fill="#15b1b4" d="M867 654l-5 0 9 21 4-4z"/>
<path fill="#2eb7a4" d="M1158 611l-4 15 9 11 4-17z"/>
<path fill="#108ed2" d="M1021 810l-5 5 9 17 4-5zM1077 798l-5 7 9 12 4-8z"/>
<path fill="#07a9c2" d="M896 690l-4 3 9 29 4-2z"/>
<path fill="#06a7c6" d="M909 716l-4 4 9 29 4-3z"/>
<path fill="#06a4ca" d="M1128 734l-4 14 8 9 5-13z"/>
<path fill="#06a0cd" d="M1124 748l-4 5 8 10 4-6z"/>
<path fill="#06a7c6" d="M1137 716l-5 9 9 13 4-13z"/>
<path fill="#0c93d2" d="M956 784l-4-3 9 31 4-11z"/>
<path fill="#06a4ca" d="M1132 725l-4 9 9 10 4-6z"/>
<path fill="#07a9c2" d="M1141 703l-4 13 8 9 5-9z"/>
<path fill="#0998d1" d="M939 766l-4 2 8 20 5-3z"/>
<path fill="#15b1b4" d="M845 644l-4 0 8 16 5-2z"/>
<path fill="#079ccf" d="M1120 753l-5 12 9 8 4-10z"/>
<path fill="#1db3af" d="M824 637l-5 1 9 13 4-3z"/>
<path fill="#06a0cd" d="M922 746l-4 0 8 24 5 1z"/>
<path fill="#07a9c2" d="M1145 696l-4 7 9 13 4-13z"/>
<path fill="#108ed2" d="M1046 802l-4 6 9 16 4-3zM1072 805l-4 0 8 17 5-5z"/>
<path fill="#079ccf" d="M1115 765l-4 5 8 8 5-5z"/>
<path fill="#108ed2" d="M974 800l-5 1 9 17 4 0z"/>
<path fill="#1389d3" d="M1016 815l-4 6 9 9 4 2z"/>
<path fill="#38b99e" d="M1163 592l-5 19 9 9 4-15z"/>
<path fill="#108ed2" d="M995 806l-4 6 8 14 4-4z"/>
<path fill="#0aacbe" d="M1150 679l-5 17 9 7 4-11z"/>
<path fill="#0faeb9" d="M879 669l-4 2 9 24 4 0z"/>
<path fill="#15b1b4" d="M862 654l-4 3 8 16 5 2z"/>
<path fill="#07a9c2" d="M892 693l-4 2 8 31 5-4z"/>
<path fill="#0998d1" d="M1111 770l-4 2 8 19 4-13z"/>
<path fill="#06a4ca" d="M905 720l-4 2 8 30 5-3z"/>
<path fill="#0998d1" d="M935 768l-4 3 8 22 4-5z"/>
<path fill="#1389d3" d="M1012 821l-4 11 8 9 5-11z"/>
<path fill="#108ed2" d="M1042 808l-4 5 8 16 5-5zM1068 805l-4 3 8 23 4-9z"/>
<path fill="#0998d1" d="M952 781l-4 4 8 22 5 5z"/>
<path fill="#0faeb9" d="M1154 667l-4 12 8 13 4-15z"/>
<path fill="#108ed2" d="M991 812l-5 2 9 19 4-7z"/>
<path fill="#1db3af" d="M819 638l-4 2 9 11 4 0z"/>
<path fill="#15b1b4" d="M841 644l-5 1 9 16 4-1z"/>
<path fill="#0998d1" d="M1107 772l-5 9 9 11 4-1z"/>
<path fill="#06a0cd" d="M918 746l-4 3 8 21 4 0z"/>
<path fill="#0c93d2" d="M1098 792l-4 12 8 5 4-6z"/>
<path fill="#0998d1" d="M1102 781l-4 11 8 11 5-11z"/>
<path fill="#9cbf6f" d="M1154 449l-4 105 8 9 5-105z"/>
<path fill="#15b1b4" d="M1158 653l-4 14 8 10 5-13z"/>
<path fill="#1485d4" d="M1008 832l-5-10 9 26 4-7z"/>
<path fill="#108ed2" d="M969 801l-4 0 8 18 5-1z"/>
<path fill="#0faeb9" d="M875 671l-4 4 8 24 5-4z"/>
<path fill="#108ed2" d="M1064 808l-5 9 9 15 4-1z"/>
<path fill="#42bb98" d="M1167 573l-4 19 8 13 5-20z"/>
<path fill="#15b1b4" d="M858 657l-4 1 8 20 4-5z"/>
<path fill="#06a4ca" d="M901 722l-5 4 9 29 4-3z"/>
<path fill="#07a9c2" d="M888 695l-4 0 8 34 4-3z"/>
<path fill="#0998d1" d="M931 771l-5-1 9 28 4-5z"/>
<path fill="#1389d3" d="M1038 813l-4 2 8 17 4-3z"/>
<path fill="#108ed2" d="M1094 804l-5 0 9 14 4-9z"/>
<path fill="#1389d3" d="M986 814l-4 4 9 18 4-3z"/>
<path fill="#0c93d2" d="M948 785l-5 3 9 22 4-3z"/>
<path fill="#1db3af" d="M1163 637l-5 16 9 11 4-16z"/>
<path fill="#108ed2" d="M965 801l-4 11 8 15 4-8z"/>
<path fill="#1389d3" d="M1034 815l-5 12 9 14 4-9z"/>
<path fill="#06a0cd" d="M914 749l-5 3 9 25 4-7z"/>
<path fill="#15b1b4" d="M836 645l-4 3 9 16 4-3z"/>
<path fill="#1db3af" d="M815 640l-4-1 8 15 5-3z"/>
<path fill="#1389d3" d="M1059 817l-4 4 9 12 4-1zM1029 827l-4 5 8 13 5-4z"/>
<path fill="#108ed2" d="M1089 804l-4 5 9 10 4-1z"/>
<path fill="#15b1b4" d="M854 658l-5 2 9 21 4-3z"/>
<path fill="#0faeb9" d="M871 675l-5-2 9 26 4 0z"/>
<path fill="#1389d3" d="M982 818l-4 0 8 25 5-7z"/>
<path fill="#06a4ca" d="M896 726l-4 3 9 24 4 2z"/>
<path fill="#07a9c2" d="M884 695l-5 4 9 30 4 0z"/>
<path fill="#0c93d2" d="M943 788l-4 5 9 22 4-5z"/>
<path fill="#1389d3" d="M1003 822l-4 4 9 17 4 5z"/>
<path fill="#0998d1" d="M926 770l-4 0 9 28 4 0z"/>
<path fill="#1389d3" d="M1055 821l-4 3 8 18 5-9z"/>
<path fill="#108ed2" d="M961 812l-5-5 9 19 4 1z"/>
<path fill="#06a0cd" d="M909 752l-4 3 8 22 5 0z"/>
<path fill="#25b5a9" d="M1167 620l-4 17 8 11 4-18z"/>
<path fill="#15b1b4" d="M832 648l-4 3 8 15 5-2z"/>
<path fill="#108ed2" d="M1085 809l-4 8 8 5 5-3z"/>
<path fill="#06a0cd" d="M1141 738l-4 6 8 16 4-14zM1137 744l-5 13 9 9 4-6z"/>
<path fill="#079ccf" d="M1132 757l-4 6 9 13 4-10z"/>
<path fill="#06a4ca" d="M1145 725l-4 13 8 8 5-10z"/>
<path fill="#1db3af" d="M811 639l-5 3 9 12 4 0z"/>
<path fill="#06a7c6" d="M1150 716l-5 9 9 11 4-8z"/>
<path fill="#1485d4" d="M1025 832l-4-2 8 15 4 0z"/>
<path fill="#079ccf" d="M1128 763l-4 10 8 11 5-8z"/>
<path fill="#1389d3" d="M1081 817l-5 5 9 14 4-14z"/>
<path fill="#0c93d2" d="M939 793l-4 5 8 18 5-1z"/>
<path fill="#07a9c2" d="M1154 703l-4 13 8 12 4-14z"/>
<path fill="#1389d3" d="M1051 824l-5 5 9 16 4-3z"/>
<path fill="#15b1b4" d="M849 660l-4 1 9 21 4-1z"/>
<path fill="#07a9c2" d="M879 699l-4 0 8 36 5-6z"/>
<path fill="#1389d3" d="M978 818l-5 1 9 23 4 1z"/>
<path fill="#0faeb9" d="M866 673l-4 5 9 24 4-3z"/>
<path fill="#1389d3" d="M999 826l-4 7 8 14 5-4z"/>
<path fill="#0998d1" d="M1124 773l-5 5 9 12 4-6zM922 770l-4 7 8 21 5 0z"/>
<path fill="#1389d3" d="M1076 822l-4 9 9 4 4 1z"/>
<path fill="#06a4ca" d="M892 729l-4 0 8 23 5 1z"/>
<path fill="#0998d1" d="M1119 778l-4 13 9 12 4-13z"/>
<path fill="#2eb7a4" d="M1171 605l-4 15 8 10 5-17z"/>
<path fill="#1485d4" d="M1021 830l-5 11 9 18 4-14z"/>
<path fill="#07a9c2" d="M1158 692l-4 11 8 11 5-15z"/>
<path fill="#108ed2" d="M956 807l-4 3 9 22 4-6z"/>
<path fill="#15b1b4" d="M828 651l-4 0 8 17 4-2z"/>
<path fill="#079ccf" d="M905 755l-4-2 8 23 4 1z"/>
<path fill="#1485d4" d="M1016 841l-4 7 9 9 4 2z"/>
<path fill="#0c93d2" d="M1115 791l-4 1 8 11 5 0z"/>
<path fill="#1485d4" d="M995 833l-4 3 8 18 4-7z"/>
<path fill="#1389d3" d="M1046 829l-4 3 9 18 4-5z"/>
<path fill="#1db3af" d="M806 642l-4 2 9 10 4 0z"/>
<path fill="#0aacbe" d="M862 678l-4 3 8 24 5-3z"/>
<path fill="#1389d3" d="M973 819l-4 8 9 19 4-4z"/>
<path fill="#0aacbe" d="M1162 677l-4 15 9 7 4-13z"/>
<path fill="#1485d4" d="M1072 831l-4 1 8 13 5-10z"/>
<path fill="#0998d1" d="M918 777l-5 0 9 29 4-8z"/>
<path fill="#0c93d2" d="M1111 792l-5 11 9 15 4-15z"/>
<path fill="#06a4ca" d="M888 729l-5 6 9 26 4-9z"/>
<path fill="#15b1b4" d="M845 661l-4 3 8 18 5 0z"/>
<path fill="#07a9c2" d="M875 699l-4 3 8 29 4 4z"/>
<path fill="#108ed2" d="M952 810l-4 5 8 21 5-4z"/>
<path fill="#0c93d2" d="M935 798l-4 0 8 13 4 5z"/>
<path fill="#1485d4" d="M1042 832l-4 9 8 16 5-7zM991 836l-5 7 9 15 4-4z"/>
<path fill="#108ed2" d="M1106 803l-4 6 9 5 4 4z"/>
<path fill="#42bb98" d="M1176 585l-5 20 9 8 4-20z"/>
<path fill="#0faeb9" d="M1167 664l-5 13 9 9 4-14z"/>
<path fill="#9cbf6f" d="M1163 458l-5 105 9 10 4-107z"/>
<path fill="#1485d4" d="M1068 832l-4 1 8 19 4-7z"/>
<path fill="#15b1b4" d="M824 651l-5 3 9 15 4-1z"/>
<path fill="#1481d6" d="M1012 848l-4-5 8 20 5-6z"/>
<path fill="#108ed2" d="M1102 809l-4 9 8 14 5-18z"/>
<path fill="#1389d3" d="M969 827l-4-1 8 21 5-1z"/>
<path fill="#06a0cd" d="M901 753l-5-1 9 31 4-7z"/>
<path fill="#1485d4" d="M1038 841l-5 4 9 12 4 0z"/>
<path fill="#0aacbe" d="M858 681l-4 1 8 25 4-2z"/>
<path fill="#1db3af" d="M802 644l-4 1 8 13 5-4z"/>
<path fill="#06a4ca" d="M883 735l-4-4 9 30 4 0z"/>
<path fill="#1389d3" d="M1098 818l-4 1 8 15 4-2z"/>
<path fill="#108ed2" d="M948 815l-5 1 9 24 4-4z"/>
<path fill="#07a9c2" d="M871 702l-5 3 9 34 4-8z"/>
<path fill="#0faeb9" d="M841 664l-5 2 9 19 4-3z"/>
<path fill="#15b1b4" d="M1171 648l-4 16 8 8 5-15z"/>
<path fill="#0998d1" d="M913 777l-4-1 9 27 4 3z"/>
<path fill="#0c93d2" d="M931 798l-5 0 9 24 4-11z"/>
<path fill="#1485d4" d="M1064 833l-5 9 9 9 4 1zM986 843l-4-1 8 14 5 2z"/>
<path fill="#1389d3" d="M965 826l-4 6 8 25 4-10z"/>
<path fill="#06a0cd" d="M896 752l-4 9 9 22 4 0z"/>
<path fill="#15b1b4" d="M819 654l-4 0 8 18 5-3z"/>
<path fill="#0c93d2" d="M926 798l-4 8 8 19 5-3z"/>
<path fill="#1485d4" d="M1033 845l-4 0 9 16 4-4zM1008 843l-5 4 9 15 4 1z"/>
<path fill="#1389d3" d="M1094 819l-5 3 9 18 4-6z"/>
<path fill="#1db3af" d="M798 645l-4 2 8 11 4 0z"/>
<path fill="#0aacbe" d="M854 682l-5 0 9 27 4-2z"/>
<path fill="#07a9c2" d="M866 705l-4 2 9 31 4 1z"/>
<path fill="#25b5a9" d="M1175 630l-4 18 9 9 4-17z"/>
<path fill="#079ccf" d="M1145 760l-4 6 8 12 5-10z"/>
<path fill="#1485d4" d="M1059 842l-4 3 8 12 5-6z"/>
<path fill="#06a4ca" d="M879 731l-4 8 8 24 5-2z"/>
<path fill="#079ccf" d="M1141 766l-4 10 8 11 4-9z"/>
<path fill="#0faeb9" d="M836 666l-4 2 9 17 4 0z"/>
<path fill="#06a0cd" d="M1149 746l-4 14 9 8 4-14z"/>
<path fill="#0998d1" d="M909 776l-4 7 8 25 5-5zM1137 776l-5 8 9 11 4-8z"/>
<path fill="#06a4ca" d="M1158 728l-4 8 8 12 5-13z"/>
<path fill="#108ed2" d="M943 816l-4-5 9 29 4 0z"/>
<path fill="#06a4ca" d="M1154 736l-5 10 9 8 4-6z"/>
<path fill="#1485d4" d="M982 842l-4 4 8 18 4-8zM1029 845l-4 14 8 6 5-4z"/>
<path fill="#079ccf" d="M892 761l-4 0 8 27 5-5z"/>
<path fill="#1389d3" d="M1089 822l-4 14 8 2 5 2z"/>
<path fill="#06a7c6" d="M1162 714l-4 14 9 7 4-10z"/>
<path fill="#1485d4" d="M961 832l-5 4 9 11 4 10z"/>
<path fill="#0998d1" d="M1132 784l-4 6 8 13 5-8z"/>
<path fill="#1485d4" d="M1055 845l-4 5 8 18 4-11z"/>
<path fill="#0c93d2" d="M1128 790l-4 13 8 5 4-5z"/>
<path fill="#1481d6" d="M1003 847l-4 7 9 9 4-1z"/>
<path fill="#108ed2" d="M922 806l-4-3 8 23 4-1z"/>
<path fill="#15b1b4" d="M815 654l-4 0 8 17 4 1z"/>
<path fill="#06a4ca" d="M875 739l-4-1 8 31 4-6z"/>
<path fill="#07a9c2" d="M1167 699l-5 15 9 11 4-16z"/>
<path fill="#2eb7a4" d="M1180 613l-5 17 9 10 4-19z"/>
<path fill="#1485d4" d="M1085 836l-4-1 8 13 4-10z"/>
<path fill="#0aacbe" d="M849 682l-4 3 8 23 5 1z"/>
<path fill="#1481d6" d="M1025 859l-4-2 8 8 4 0z"/>
<path fill="#108ed2" d="M1124 803l-5 0 9 12 4-7z"/>
<path fill="#1481d6" d="M1051 850l-5 7 9 6 4 5z"/>
<path fill="#0faeb9" d="M832 668l-4 1 8 20 5-4z"/>
<path fill="#1485d4" d="M978 846l-5 1 9 15 4 2z"/>
<path fill="#07a9c2" d="M862 707l-4 2 8 25 5 4z"/>
<path fill="#108ed2" d="M939 811l-4 11 8 22 5-4z"/>
<path fill="#0998d1" d="M905 783l-4 0 8 19 4 6z"/>
<path fill="#079ccf" d="M888 761l-5 2 9 27 4-2z"/>
<path fill="#1485d4" d="M956 836l-4 4 8 19 5-12z"/>
<path fill="#108ed2" d="M1119 803l-4 15 9 6 4-9z"/>
<path fill="#1481d6" d="M999 854l-4 4 8 11 5-6z"/>
<path fill="#1485d4" d="M1081 835l-5 10 9 7 4-4z"/>
<path fill="#0aacbe" d="M1171 686l-4 13 8 10 5-15z"/>
<path fill="#1481d6" d="M1021 857l-5 6 9 19 4-17z"/>
<path fill="#1389d3" d="M935 822l-5 3 9 22 4-3z"/>
<path fill="#1485d4" d="M1076 845l-4 7 9 8 4-8z"/>
<path fill="#1389d3" d="M1115 818l-4-4 8 15 5-5z"/>
<path fill="#1485d4" d="M973 847l-4 10 9 13 4-8z"/>
<path fill="#15b1b4" d="M811 654l-5 4 9 14 4-1z"/>
<path fill="#108ed2" d="M918 803l-5 5 9 20 4-2z"/>
<path fill="#9cbf6f" d="M1171 466l-4 107 9 12 4-110z"/>
<path fill="#06a4ca" d="M871 738l-5-4 9 33 4 2z"/>
<path fill="#108ed2" d="M1111 814l-5 18 9 9 4-12z"/>
<path fill="#0faeb9" d="M1175 672l-4 14 9 8 4-13zM828 669l-5 3 9 16 4 1z"/>
<path fill="#38b99e" d="M1184 593l-4 20 8 8 5-19z"/>
<path fill="#0aacbe" d="M845 685l-4 0 8 24 4-1z"/>
<path fill="#1485d4" d="M952 840l-4 0 8 15 4 4z"/>
<path fill="#079ccf" d="M883 763l-4 6 9 23 4-2z"/>
<path fill="#0998d1" d="M901 783l-5 5 9 21 4-7z"/>
<path fill="#07a9c2" d="M858 709l-5-1 9 34 4-8z"/>
<path fill="#1389d3" d="M1106 832l-4 2 9 8 4-1z"/>
<path fill="#1481d6" d="M1046 857l-4 0 8 6 5 0zM995 858l-5-2 9 16 4-3zM1016 863l-4-1 8 15 5 5zM1072 852l-4-1 8 10 5-1z"/>
<path fill="#15b1b4" d="M1180 657l-5 15 9 9 4-15z"/>
<path fill="#108ed2" d="M913 808l-4-6 9 36 4-10z"/>
<path fill="#1481d6" d="M969 857l-4-10 8 27 5-4z"/>
<path fill="#1389d3" d="M930 825l-4 1 9 20 4 1z"/>
<path fill="#15b1b4" d="M806 658l-4 0 9 16 4-2z"/>
<path fill="#0998d1" d="M896 788l-4 2 8 25 5-6z"/>
<path fill="#1485d4" d="M1102 834l-4 6 8 8 5-6z"/>
<path fill="#1481d6" d="M1042 857l-4 4 8 13 4-11z"/>
<path fill="#06a4ca" d="M866 734l-4 8 8 30 5-5z"/>
<path fill="#1481d6" d="M990 856l-4 8 9 12 4-4z"/>
<path fill="#0aacbe" d="M841 685l-5 4 9 24 4-4z"/>
<path fill="#0faeb9" d="M823 672l-4-1 9 20 4-3z"/>
<path fill="#1481d6" d="M1068 851l-5 6 9 16 4-12z"/>
<path fill="#07a9c2" d="M853 708l-4 1 9 33 4 0z"/>
<path fill="#079ccf" d="M879 769l-4-2 8 24 5 1z"/>
<path fill="#1485d4" d="M948 840l-5 4 9 16 4-5z"/>
<path fill="#1481d6" d="M1063 857l-4 11 9 11 4-6z"/>
<path fill="#1db3af" d="M1184 640l-4 17 8 9 4-15z"/>
<path fill="#1481d6" d="M1012 862l-4 1 8 23 4-9z"/>
<path fill="#079ccf" d="M1154 768l-5 10 9 7 4-8z"/>
<path fill="#0998d1" d="M1149 778l-4 9 9 9 4-11z"/>
<path fill="#1485d4" d="M1098 840l-5-2 9 21 4-11z"/>
<path fill="#06a0cd" d="M1158 754l-4 14 8 9 5-7zM1162 748l-4 6 9 16 4-15z"/>
<path fill="#1481d6" d="M1038 861l-5 4 9 9 4 0z"/>
<path fill="#0998d1" d="M1145 787l-4 8 8 7 5-6z"/>
<path fill="#1389d3" d="M926 826l-4 2 8 27 5-9z"/>
<path fill="#0c93d2" d="M1141 795l-5 8 9 14 4-15zM909 802l-4 7 8 25 5 4z"/>
<path fill="#1485d4" d="M965 847l-5 12 9 15 4 0z"/>
<path fill="#0c93d2" d="M892 790l-4 2 8 23 4 0z"/>
<path fill="#06a4ca" d="M1167 735l-5 13 9 7 4-14z"/>
<path fill="#15b1b4" d="M802 658l-4 1 8 18 5-3z"/>
<path fill="#1481d6" d="M986 864l-4-2 8 16 5-2z"/>
<path fill="#06a4ca" d="M862 742l-4 0 8 29 4 1z"/>
<path fill="#0c93d2" d="M1136 803l-4 5 9 12 4-3z"/>
<path fill="#0aacbe" d="M836 689l-4-1 8 29 5-4z"/>
<path fill="#06a7c6" d="M1171 725l-4 10 8 6 4-6z"/>
<path fill="#1485d4" d="M943 844l-4 3 8 15 5-2zM1093 838l-4 10 9 11 4 0z"/>
<path fill="#079ccf" d="M875 767l-5 5 9 25 4-6z"/>
<path fill="#07a9c2" d="M1175 709l-4 16 8 10 5-13z"/>
<path fill="#1389d3" d="M922 828l-4 10 8 17 4 0z"/>
<path fill="#07a9c2" d="M849 709l-4 4 8 30 5-1z"/>
<path fill="#127dd8" d="M1059 868l-4-5 8 13 5 3z"/>
<path fill="#0faeb9" d="M819 671l-4 1 8 20 5-1z"/>
<path fill="#108ed2" d="M1132 808l-4 7 8 17 5-12z"/>
<path fill="#1481d6" d="M1008 863l-5 6 9 11 4 6z"/>
<path fill="#25b5a9" d="M1188 621l-4 19 8 11 5-20z"/>
<path fill="#127dd8" d="M1033 865l-4 0 9 19 4-10z"/>
<path fill="#1485d4" d="M1089 848l-4 4 8 15 5-8z"/>
<path fill="#108ed2" d="M1128 815l-4 9 8 7 4 1z"/>
<path fill="#1481d6" d="M982 862l-4 8 8 12 4-4z"/>
<path fill="#108ed2" d="M905 809l-5 6 9 17 4 2z"/>
<path fill="#1481d6" d="M960 859l-4-4 9 18 4 1z"/>
<path fill="#0c93d2" d="M888 792l-5-1 9 28 4-4z"/>
<path fill="#15b1b4" d="M798 659l-5 6 9 11 4 1z"/>
<path fill="#1481d6" d="M1029 865l-4 17 8 0 5 2z"/>
<path fill="#0aacbe" d="M1180 694l-5 15 9 13 4-17z"/>
<path fill="#1485d4" d="M939 847l-4-1 8 22 4-6z"/>
<path fill="#0aacbe" d="M832 688l-4 3 8 26 4 0z"/>
<path fill="#06a4ca" d="M858 742l-5 1 9 28 4 0z"/>
<path fill="#079ccf" d="M870 772l-4-1 9 25 4 1z"/>
<path fill="#1485d4" d="M918 838l-5-4 9 23 4-2z"/>
<path fill="#06a7c6" d="M845 713l-5 4 9 26 4 0z"/>
<path fill="#1389d3" d="M1124 824l-5 5 9 11 4-9z"/>
<path fill="#0faeb9" d="M815 672l-4 2 8 21 4-3z"/>
<path fill="#1481d6" d="M1085 852l-4 8 8 6 4 1z"/>
<path fill="#127dd8" d="M978 870l-5 4 9 11 4-3zM1003 869l-4 3 9 11 4-3z"/>
<path fill="#1481d6" d="M1055 863l-5 0 9 23 4-10z"/>
<path fill="#1389d3" d="M1119 829l-4 12 8 6 5-7z"/>
<path fill="#92bf73" d="M1180 475l-4 110 8 8 4-110z"/>
<path fill="#1079da" d="M1025 882l-5-5 9 13 4-8z"/>
<path fill="#0faeb9" d="M1184 681l-4 13 8 11 4-14z"/>
<path fill="#38b99e" d="M1193 602l-5 19 9 10 4-21z"/>
<path fill="#1485d4" d="M1115 841l-4 1 8 15 4-10z"/>
<path fill="#1481d6" d="M956 855l-4 5 8 21 5-8z"/>
<path fill="#0c93d2" d="M883 791l-4 6 8 22 5 0z"/>
<path fill="#1485d4" d="M935 846l-5 9 9 12 4 1z"/>
<path fill="#108ed2" d="M900 815l-4 0 9 20 4-3z"/>
<path fill="#1481d6" d="M1050 863l-4 11 9 14 4-2zM1081 860l-5 1 9 14 4-9z"/>
<path fill="#0aacbe" d="M828 691l-5 1 9 25 4 0z"/>
<path fill="#1481d6" d="M1076 861l-4 12 8 16 5-14z"/>
<path fill="#127dd8" d="M999 872l-4 4 8 13 5-6z"/>
<path fill="#06a7c6" d="M840 717l-4 0 9 31 4-5z"/>
<path fill="#15b1b4" d="M1188 666l-4 15 8 10 5-18z"/>
<path fill="#0faeb9" d="M811 674l-5 3 9 17 4 1z"/>
<path fill="#06a4ca" d="M853 743l-4 0 9 25 4 3z"/>
<path fill="#127dd8" d="M973 874l-4 0 8 10 5 1zM1020 877l-4 9 9 1 4 3z"/>
<path fill="#1485d4" d="M1111 842l-5 6 9 7 4 2z"/>
<path fill="#127dd8" d="M1072 873l-4 6 8 5 4 5z"/>
<path fill="#1481d6" d="M952 860l-5 2 9 18 4 1z"/>
<path fill="#079ccf" d="M866 771l-4 0 8 21 5 4z"/>
<path fill="#1389d3" d="M913 834l-4-2 8 25 5 0z"/>
<path fill="#108ed2" d="M896 815l-4 4 8 21 5-5z"/>
<path fill="#0c93d2" d="M879 797l-4-1 8 26 4-3z"/>
<path fill="#1481d6" d="M930 855l-4 0 9 12 4 0z"/>
<path fill="#1485d4" d="M1106 848l-4 11 9 9 4-13z"/>
<path fill="#127dd8" d="M1046 874l-4 0 8 12 5 2z"/>
<path fill="#079ccf" d="M1167 770l-5 7 9 10 4-11z"/>
<path fill="#06a0cd" d="M1171 755l-4 15 8 6 4-7z"/>
<path fill="#127dd8" d="M995 876l-5 2 9 11 4 0z"/>
<path fill="#1481d6" d="M1102 859l-4 0 8 19 5-10z"/>
<path fill="#1db3af" d="M1192 651l-4 15 9 7 4-16z"/>
<path fill="#0998d1" d="M1162 777l-4 8 8 9 5-7z"/>
<path fill="#0c93d2" d="M1154 796l-5 6 9 14 4-13z"/>
<path fill="#0998d1" d="M1158 785l-4 11 8 7 4-9z"/>
<path fill="#0aacbe" d="M823 692l-4 3 9 22 4 0z"/>
<path fill="#06a7c6" d="M836 717l-4 0 8 30 5 1z"/>
<path fill="#1481d6" d="M947 862l-4 6 9 21 4-9z"/>
<path fill="#0c93d2" d="M1149 802l-4 15 8 1 5-2z"/>
<path fill="#06a4ca" d="M849 743l-4 5 8 30 5-10zM1175 741l-4 14 8 14 5-15z"/>
<path fill="#127dd8" d="M969 874l-4-1 8 24 4-13z"/>
<path fill="#0faeb9" d="M806 677l-4-1 8 21 5-3z"/>
<path fill="#1079da" d="M1016 886l-4-6 8 14 5-7z"/>
<path fill="#108ed2" d="M1145 817l-4 3 8 11 4-13zM892 819l-5 0 9 22 4-1z"/>
<path fill="#1481d6" d="M1098 859l-5 8 9 16 4-5z"/>
<path fill="#06a4ca" d="M1179 735l-4 6 9 13 4-12z"/>
<path fill="#127dd8" d="M990 878l-4 4 9 18 4-11z"/>
<path fill="#1389d3" d="M909 832l-4 3 8 27 4-5z"/>
<path fill="#079ccf" d="M862 771l-4-3 8 35 4-11z"/>
<path fill="#1481d6" d="M926 855l-4 2 8 17 5-7z"/>
<path fill="#127dd8" d="M1042 874l-4 10 8 5 4-3zM1068 879l-5-3 9 10 4-2z"/>
<path fill="#108ed2" d="M1141 820l-5 12 9-1 4 0z"/>
<path fill="#06a7c6" d="M1184 722l-5 13 9 7 4-16z"/>
<path fill="#1481d6" d="M943 868l-4-1 8 25 5-3z"/>
<path fill="#25b5a9" d="M1197 631l-5 20 9 6 4-17z"/>
<path fill="#06a0cd" d="M845 748l-5-1 9 32 4-1z"/>
<path fill="#127dd8" d="M965 873l-5 8 9 12 4 4z"/>
<path fill="#0c93d2" d="M875 796l-5-4 9 26 4 4z"/>
<path fill="#1389d3" d="M905 835l-5 5 9 30 4-8z"/>
<path fill="#127dd8" d="M986 882l-4 3 8 19 5-4zM1012 880l-4 3 8 21 4-10z"/>
<path fill="#0aacbe" d="M819 695l-4-1 8 26 5-3z"/>
<path fill="#1079da" d="M1038 884l-5-2 9 15 4-8z"/>
<path fill="#1389d3" d="M1136 832l-4-1 9 10 4-10z"/>
<path fill="#0faeb9" d="M802 676l-4 4 8 19 4-2z"/>
<path fill="#1481d6" d="M1093 867l-4-1 9 16 4 1z"/>
<path fill="#079ccf" d="M858 768l-5 10 9 23 4 2z"/>
<path fill="#06a7c6" d="M832 717l-4 0 8 32 4-2z"/>
<path fill="#07a9c2" d="M1188 705l-4 17 8 4 5-11z"/>
<path fill="#127dd8" d="M1063 876l-4 10 9 6 4-6z"/>
<path fill="#108ed2" d="M887 819l-4 3 9 23 4-4z"/>
<path fill="#1481d6" d="M922 857l-5 0 9 15 4 2z"/>
<path fill="#1389d3" d="M1132 831l-4 9 8 10 5-9z"/>
<path fill="#127dd8" d="M1033 882l-4 8 8 18 5-11z"/>
<path fill="#1485d4" d="M1128 840l-5 7 9 15 4-12zM1123 847l-4 10 9 9 4-4zM900 840l-4 1 9 27 4 2z"/>
<path fill="#127dd8" d="M1008 883l-5 6 9 12 4 3z"/>
<path fill="#1079da" d="M1059 886l-4 2 8 8 5-4z"/>
<path fill="#0aacbe" d="M1192 691l-4 14 9 10 4-16z"/>
<path fill="#127dd8" d="M960 881l-4-1 9 17 4-4z"/>
<path fill="#0998d1" d="M870 792l-4 11 9 22 4-7z"/>
<path fill="#1481d6" d="M939 867l-4 0 8 24 4 1z"/>
<path fill="#92bf73" d="M1188 483l-4 110 9 9 4-111z"/>
<path fill="#1481d6" d="M1089 866l-4 9 8 13 5-6z"/>
<path fill="#0aacbe" d="M815 694l-5 3 9 28 4-5z"/>
<path fill="#06a0cd" d="M840 747l-4 2 9 28 4 2z"/>
<path fill="#2eb7a4" d="M1201 610l-4 21 8 9 5-22z"/>
<path fill="#0998d1" d="M853 778l-4 1 8 24 5-2z"/>
<path fill="#127dd8" d="M1085 875l-5 14 9 4 4-5z"/>
<path fill="#0faeb9" d="M798 680l-5 0 9 20 4-1z"/>
<path fill="#06a7c6" d="M828 717l-5 3 9 33 4-4z"/>
<path fill="#1079da" d="M982 885l-5-1 9 14 4 6zM1029 890l-4-3 8 21 4 0z"/>
<path fill="#0c93d2" d="M866 803l-4-2 8 30 5-6z"/>
<path fill="#108ed2" d="M883 822l-4-4 8 26 5 1z"/>
<path fill="#1481d6" d="M1119 857l-4-2 8 14 5-3z"/>
<path fill="#127dd8" d="M956 880l-4 9 8 13 5-5z"/>
<path fill="#0faeb9" d="M1197 673l-5 18 9 8 4-16z"/>
<path fill="#1481d6" d="M917 857l-4 5 9 9 4 1z"/>
<path fill="#1079da" d="M1003 889l-4 0 8 19 5-7zM1055 888l-5-2 9 14 4-4z"/>
<path fill="#127dd8" d="M977 884l-4 13 9 14 4-13z"/>
<path fill="#1079da" d="M1080 889l-4-5 9 8 4 1z"/>
<path fill="#0aacbe" d="M810 697l-4 2 9 25 4 1z"/>
<path fill="#1481d6" d="M1115 855l-4 13 8 11 4-10z"/>
<path fill="#1485d4" d="M896 841l-4 4 8 22 5 1z"/>
<path fill="#1481d6" d="M935 867l-5 7 9 17 4 0z"/>
<path fill="#06a0cd" d="M836 749l-4 4 8 29 5-5z"/>
<path fill="#1481d6" d="M913 862l-4 8 8 16 5-15z"/>
<path fill="#06a7c6" d="M823 720l-4 5 8 28 5 0z"/>
<path fill="#1481d6" d="M1111 868l-5 10 9 1 4 0z"/>
<path fill="#079ccf" d="M1175 776l-4 11 8 9 5-9zM1179 769l-4 7 9 11 4-12z"/>
<path fill="#0998d1" d="M1171 787l-5 7 9 11 4-9zM849 779l-4-2 8 24 4 2z"/>
<path fill="#1079da" d="M999 889l-4 11 8 8 4 0zM1025 887l-5 7 9 12 4 2z"/>
<path fill="#0c93d2" d="M1162 803l-4 13 8 9 5-12z"/>
<path fill="#108ed2" d="M1158 816l-5 2 9 18 4-11z"/>
<path fill="#15b1b4" d="M1201 657l-4 16 8 10 4-17z"/>
<path fill="#0c93d2" d="M1166 794l-4 9 9 10 4-8z"/>
<path fill="#108ed2" d="M879 818l-4 7 8 22 4-3z"/>
<path fill="#1079da" d="M973 897l-4-4 8 13 5 5zM952 889l-5 3 9 1 4 9z"/>
<path fill="#06a0cd" d="M1184 754l-5 15 9 6 4-14z"/>
<path fill="#127dd8" d="M909 870l-4-2 8 18 4 0z"/>
<path fill="#0c93d2" d="M862 801l-5 2 9 21 4 7z"/>
<path fill="#127dd8" d="M1106 878l-4 5 8 5 5-9z"/>
<path fill="#108ed2" d="M1153 818l-4 13 9 9 4-4z"/>
<path fill="#1079da" d="M1050 886l-4 3 9 15 4-4zM995 900l-5 4 9 13 4-9z"/>
<path fill="#06a0cd" d="M832 753l-5 0 9 31 4-2z"/>
<path fill="#06a4ca" d="M1188 742l-4 12 8 7 4-10z"/>
<path fill="#127dd8" d="M1076 884l-4 2 8 15 5-9z"/>
<path fill="#0aacbe" d="M806 699l-4 1 8 27 5-3z"/>
<path fill="#1079da" d="M1046 889l-4 8 8 21 5-14z"/>
<path fill="#06a7c6" d="M819 725l-4-1 8 32 4-3z"/>
<path fill="#1485d4" d="M892 845l-5-1 9 25 4-2z"/>
<path fill="#1079da" d="M1020 894l-4 10 9 6 4-4z"/>
<path fill="#127dd8" d="M930 874l-4-2 8 18 5 1z"/>
<path fill="#1079da" d="M1042 897l-5 11 9 14 4-4z"/>
<path fill="#1389d3" d="M1149 831l-4 0 8 15 5-6z"/>
<path fill="#108ed2" d="M875 825l-5 6 9 16 4 0z"/>
<path fill="#127dd8" d="M1102 883l-4-1 8 13 4-7z"/>
<path fill="#1079da" d="M1072 886l-4 6 8 19 4-10z"/>
<path fill="#06a7c6" d="M1192 726l-4 16 8 9 5-17z"/>
<path fill="#079ccf" d="M845 777l-5 5 9 23 4-4z"/>
<path fill="#0d75dc" d="M1016 904l-4-3 8 26 5-17z"/>
<path fill="#25b5a9" d="M1205 640l-4 17 8 9 5-19z"/>
<path fill="#1389d3" d="M1145 831l-4 10 8 19 4-14z"/>
<path fill="#1079da" d="M947 892l-4-1 9 12 4-10z"/>
<path fill="#1485d4" d="M1141 841l-5 9 9 8 4 2z"/>
<path fill="#1079da" d="M969 893l-4 4 8 14 4-5z"/>
<path fill="#0c93d2" d="M857 803l-4-2 9 31 4-8z"/>
<path fill="#1079da" d="M1068 892l-5 4 9 17 4-2z"/>
<path fill="#06a0cd" d="M827 753l-4 3 9 29 4-1z"/>
<path fill="#0d75dc" d="M990 904l-4-6 8 16 5 3z"/>
<path fill="#07a9c2" d="M1197 715l-5 11 9 8 4-11z"/>
<path fill="#1485d4" d="M1136 850l-4 12 8 8 5-12z"/>
<path fill="#06a7c6" d="M815 724l-5 3 9 32 4-3z"/>
<path fill="#1481d6" d="M905 868l-5-1 9 16 4 3z"/>
<path fill="#1485d4" d="M887 844l-4 3 9 25 4-3z"/>
<path fill="#127dd8" d="M1098 882l-5 6 9 7 4 0z"/>
<path fill="#0d75dc" d="M1037 908l-4 0 9 5 4 9z"/>
<path fill="#0aacbe" d="M802 700l-4-1 8 28 4 0z"/>
<path fill="#1481d6" d="M1132 862l-4 4 8 9 4-5z"/>
<path fill="#1389d3" d="M870 831l-4-7 8 32 5-9z"/>
<path fill="#0998d1" d="M840 782l-4 2 9 23 4-2z"/>
<path fill="#127dd8" d="M926 872l-4-1 8 23 4-4z"/>
<path fill="#1079da" d="M1012 901l-5 7 9 8 4 11z"/>
<path fill="#0aacbe" d="M1201 699l-4 16 8 8 4-15z"/>
<path fill="#1079da" d="M965 897l-5 5 9 11 4-2zM943 891l-4 0 8 16 5-4z"/>
<path fill="#1481d6" d="M922 871l-5 15 9 21 4-13z"/>
<path fill="#92bf73" d="M1197 491l-4 111 8 8 4-112z"/>
<path fill="#1079da" d="M1093 888l-4 5 8 14 5-12z"/>
<path fill="#2eb7a4" d="M1210 618l-5 22 9 7 4-20z"/>
<path fill="#1481d6" d="M1128 866l-5 3 9 13 4-7z"/>
<path fill="#1079da" d="M1063 896l-4 4 8 12 5 1z"/>
<path fill="#06a0cd" d="M823 756l-4 3 8 27 5-1z"/>
<path fill="#0c93d2" d="M853 801l-4 4 8 23 5 4z"/>
<path fill="#1079da" d="M986 898l-4 13 8 5 4-2z"/>
<path fill="#127dd8" d="M917 886l-4 0 9 19 4 2z"/>
<path fill="#06a7c6" d="M810 727l-4 0 9 32 4 0z"/>
<path fill="#108ed2" d="M866 824l-4 8 8 24 4 0z"/>
<path fill="#1481d6" d="M900 867l-4 2 8 19 5-5z"/>
<path fill="#0faeb9" d="M1205 683l-4 16 8 9 5-16z"/>
<path fill="#0d75dc" d="M1033 908l-4-2 8 24 5-17z"/>
<path fill="#0998d1" d="M836 784l-4 1 8 26 5-4z"/>
<path fill="#1485d4" d="M883 847l-4 0 8 23 5 2z"/>
<path fill="#1481d6" d="M1123 869l-4 10 9 8 4-5z"/>
<path fill="#1079da" d="M1089 893l-4-1 8 16 4-1z"/>
<path fill="#0d75dc" d="M1007 908l-4 0 9 9 4-1z"/>
<path fill="#127dd8" d="M1119 879l-4 0 8 17 5-9z"/>
<path fill="#1079da" d="M960 902l-4-9 8 22 5-2zM1059 900l-4 4 8 11 4-3zM939 891l-5-1 9 11 4 6z"/>
<path fill="#108ed2" d="M1166 825l-4 11 9 6 4-10z"/>
<path fill="#0d75dc" d="M982 911l-5-5 9 10 4 0z"/>
<path fill="#079ccf" d="M1188 775l-4 12 8 6 4-9z"/>
<path fill="#0d75dc" d="M1029 906l-4 4 8 16 4 4z"/>
<path fill="#1485d4" d="M879 847l-5 9 9 22 4-8z"/>
<path fill="#0998d1" d="M1184 787l-5 9 9 4 4-7z"/>
<path fill="#15b1b4" d="M1209 666l-4 17 9 9 4-16z"/>
<path fill="#06a0cd" d="M819 759l-4 0 8 27 4 0z"/>
<path fill="#108ed2" d="M1171 813l-5 12 9 7 4-11z"/>
<path fill="#1389d3" d="M1162 836l-4 4 8 8 5-6z"/>
<path fill="#0c93d2" d="M849 805l-4 2 8 20 4 1zM1179 796l-4 9 8 4 5-9z"/>
<path fill="#1481d6" d="M896 869l-4 3 8 14 4 2z"/>
<path fill="#0c93d2" d="M1175 805l-4 8 8 8 4-12z"/>
<path fill="#1389d3" d="M862 832l-5-4 9 30 4-2z"/>
<path fill="#06a7c6" d="M806 727l-4 3 8 30 5-1z"/>
<path fill="#1079da" d="M1085 892l-5 9 9 8 4-1z"/>
<path fill="#06a0cd" d="M1192 761l-4 14 8 9 5-13z"/>
<path fill="#0d75dc" d="M1055 904l-5 14 9 0 4-3z"/>
<path fill="#127dd8" d="M1115 879l-5 9 9 12 4-4z"/>
<path fill="#0998d1" d="M832 785l-5 1 9 22 4 3z"/>
<path fill="#0d75dc" d="M1003 908l-4 9 8 7 5-7z"/>
<path fill="#127dd8" d="M913 886l-4-3 8 19 5 3z"/>
<path fill="#1389d3" d="M1158 840l-5 6 9 11 4-9z"/>
<path fill="#06a0cd" d="M1196 751l-4 10 9 10 4-15z"/>
<path fill="#1079da" d="M956 893l-4 10 8 17 4-5z"/>
<path fill="#1485d4" d="M874 856l-4 0 9 19 4 3z"/>
<path fill="#0d75dc" d="M1050 918l-4 4 8-3 5-1z"/>
<path fill="#1079da" d="M1080 901l-4 10 9-2 4 0z"/>
<path fill="#127dd8" d="M1110 888l-4 7 9 6 4-1z"/>
<path fill="#1485d4" d="M1153 846l-4 14 9-1 4-2z"/>
<path fill="#0d75dc" d="M1025 910l-5 17 9-7 4 6z"/>
<path fill="#0c93d2" d="M845 807l-5 4 9 25 4-9z"/>
<path fill="#0d75dc" d="M977 906l-4 5 9 10 4-5z"/>
<path fill="#1079da" d="M934 890l-4 4 9 12 4-5z"/>
<path fill="#06a7c6" d="M1201 734l-5 17 9 5 4-9z"/>
<path fill="#06a0cd" d="M815 759l-5 1 9 32 4-6z"/>
<path fill="#1db3af" d="M1214 647l-5 19 9 10 4-21z"/>
<path fill="#1481d6" d="M1149 860l-4-2 8 16 5-15z"/>
<path fill="#0d75dc" d="M999 917l-5-3 9 10 4 0z"/>
<path fill="#06a7c6" d="M802 730l-5-2 9 35 4-3z"/>
<path fill="#1481d6" d="M892 872l-5-2 9 21 4-5z"/>
<path fill="#0998d1" d="M827 786l-4 0 9 29 4-7z"/>
<path fill="#108ed2" d="M857 828l-4-1 9 33 4-2z"/>
<path fill="#0d75dc" d="M1076 911l-4 2 8 4 5-8z"/>
<path fill="#1079da" d="M930 894l-4 13 8 1 5-2z"/>
<path fill="#06a7c6" d="M1205 723l-4 11 8 13 5-15z"/>
<path fill="#1079da" d="M952 903l-5 4 9 9 4 4z"/>
<path fill="#0d75dc" d="M973 911l-4 2 8 17 5-9z"/>
<path fill="#1079da" d="M1106 895l-4 0 8 14 5-8z"/>
<path fill="#1485d4" d="M1145 858l-5 12 9 1 4 3z"/>
<path fill="#127dd8" d="M909 883l-5 5 9 16 4-2z"/>
<path fill="#0871de" d="M1020 927l-4-11 8 17 5-13z"/>
<path fill="#1485d4" d="M870 856l-4 2 8 21 5-4z"/>
<path fill="#0c93d2" d="M840 811l-4-3 8 25 5 3z"/>
<path fill="#1481d6" d="M1140 870l-4 5 9 10 4-14zM887 870l-4 8 8 18 5-5z"/>
<path fill="#06a0cd" d="M810 760l-4 3 8 28 5 1z"/>
<path fill="#0d75dc" d="M1072 913l-5-1 9 15 4-10z"/>
<path fill="#0871de" d="M1046 922l-4-9 8 9 4-3z"/>
<path fill="#0d75dc" d="M926 907l-4-2 8 10 4-7z"/>
<path fill="#07a9c2" d="M1209 708l-4 15 9 9 4-18z"/>
<path fill="#0d75dc" d="M994 914l-4 2 9 19 4-11z"/>
<path fill="#127dd8" d="M1136 875l-4 7 8 9 5-6z"/>
<path fill="#0998d1" d="M823 786l-4 6 8 23 5 0z"/>
<path fill="#87bf77" d="M1205 498l-4 112 9 8 4-112z"/>
<path fill="#0d75dc" d="M969 913l-5 2 9 15 4 0z"/>
<path fill="#2eb7a4" d="M1218 627l-4 20 8 8 5-20z"/>
<path fill="#108ed2" d="M853 827l-4 9 8 22 5 2z"/>
<path fill="#1079da" d="M1102 895l-5 12 9-6 4 8z"/>
<path fill="#127dd8" d="M904 888l-4-2 9 22 4-4zM1132 882l-4 5 8 12 4-8z"/>
<path fill="#0d75dc" d="M1016 916l-4 1 8 20 4-4zM947 907l-4-6 9 22 4-7zM1042 913l-5 17 9-1 4-7zM990 916l-4 0 8 26 5-7z"/>
<path fill="#1485d4" d="M866 858l-4 2 8 19 4 0z"/>
<path fill="#0c93d2" d="M836 808l-4 7 8 25 4-7z"/>
<path fill="#0aacbe" d="M1214 692l-5 16 9 6 4-15z"/>
<path fill="#0d75dc" d="M1097 907l-4 1 9 8 4-15zM922 905l-5-3 9 17 4-4z"/>
<path fill="#0871de" d="M1037 930l-4-4 9 10 4-7z"/>
<path fill="#127dd8" d="M883 878l-4-3 8 15 4 6z"/>
<path fill="#0d75dc" d="M1067 912l-4 3 9 5 4 7z"/>
<path fill="#06a0cd" d="M806 763l-4 0 8 29 4-1z"/>
<path fill="#127dd8" d="M1128 887l-5 9 9 0 4 3z"/>
<path fill="#0998d1" d="M819 792l-5-1 9 24 4 0z"/>
<path fill="#0d75dc" d="M1093 908l-4 1 8 16 5-9zM964 915l-4 5 9 8 4 2z"/>
<path fill="#1389d3" d="M849 836l-5-3 9 26 4-1z"/>
<path fill="#0c93d2" d="M1183 809l-4 12 9 13 4-8z"/>
<path fill="#0998d1" d="M1196 784l-4 9 9 10 4-10z"/>
<path fill="#108ed2" d="M832 815l-5 0 9 29 4-4z"/>
<path fill="#0d75dc" d="M1012 917l-5 7 9 10 4 3z"/>
<path fill="#079ccf" d="M1201 771l-5 13 9 9 4-9z"/>
<path fill="#108ed2" d="M1179 821l-4 11 8 7 5-5z"/>
<path fill="#1079da" d="M943 901l-4 5 8 19 5-2z"/>
<path fill="#127dd8" d="M900 886l-4 5 8 13 5 4z"/>
<path fill="#0c93d2" d="M1188 800l-5 9 9 17 4-16z"/>
<path fill="#15b1b4" d="M1218 676l-4 16 8 7 5-18z"/>
<path fill="#0998d1" d="M1192 793l-4 7 8 10 5-7z"/>
<path fill="#1389d3" d="M1175 832l-4 10 8 5 4-8z"/>
<path fill="#1079da" d="M1123 896l-4 4 8 8 5-12z"/>
<path fill="#1389d3" d="M1171 842l-5 6 9 10 4-11z"/>
<path fill="#0d75dc" d="M986 916l-4 5 8 10 4 11z"/>
<path fill="#1485d4" d="M862 860l-5-2 9 25 4-4zM1166 848l-4 9 8 8 5-7z"/>
<path fill="#06a0cd" d="M1205 756l-4 15 8 13 4-18z"/>
<path fill="#1079da" d="M917 902l-4 2 8 18 5-3z"/>
<path fill="#06a0cd" d="M802 763l-5 2 9 31 4-4z"/>
<path fill="#0d75dc" d="M1063 915l-4 3 8 9 5-7zM1089 909l-4 0 8 18 4-2z"/>
<path fill="#1389d3" d="M844 833l-4 7 9 28 4-9z"/>
<path fill="#0871de" d="M1033 926l-4-6 8 20 5-4z"/>
<path fill="#1079da" d="M1119 900l-4 1 8 12 4-5zM939 906l-5 2 9 25 4-8z"/>
<path fill="#1485d4" d="M1162 857l-4 2 8 16 4-10z"/>
<path fill="#0871de" d="M1007 924l-4 0 9 17 4-7z"/>
<path fill="#0998d1" d="M814 791l-4 1 9 23 4 0z"/>
<path fill="#1485d4" d="M1158 859l-5 15 9 9 4-8z"/>
<path fill="#0c93d2" d="M827 815l-4 0 8 31 5-2z"/>
<path fill="#1481d6" d="M879 875l-5 4 9 7 4 4z"/>
<path fill="#06a4ca" d="M1209 747l-4 9 8 10 5-13z"/>
<path fill="#127dd8" d="M896 891l-5 5 9 10 4-2z"/>
<path fill="#1079da" d="M1115 901l-5 8 9 16 4-12z"/>
<path fill="#0d75dc" d="M960 920l-4-4 8 9 5 3z"/>
<path fill="#1db3af" d="M1222 655l-4 21 9 5 4-19z"/>
<path fill="#0d75dc" d="M1059 918l-5 1 9 13 4-5zM982 921l-5 9 9 4 4-3z"/>
<path fill="#06a7c6" d="M1214 732l-5 15 9 6 4-13z"/>
<path fill="#1389d3" d="M840 840l-4 4 8 19 5 5z"/>
<path fill="#0871de" d="M1003 924l-4 11 8 10 5-4z"/>
<path fill="#0d75dc" d="M934 908l-4 7 9 18 4 0z"/>
<path fill="#1079da" d="M913 904l-4 4 8 15 4-1z"/>
<path fill="#1485d4" d="M857 858l-4 1 8 25 5-1z"/>
<path fill="#0d75dc" d="M1085 909l-5 8 9 11 4-1z"/>
<path fill="#1481d6" d="M1153 874l-4-3 8 11 5 1z"/>
<path fill="#0d75dc" d="M1029 920l-5 13 9 5 4 2z"/>
<path fill="#127dd8" d="M1145 885l-5 6 9 12 4-1z"/>
<path fill="#0871de" d="M977 930l-4 0 8 17 5-13z"/>
<path fill="#127dd8" d="M874 879l-4 0 9 20 4-13z"/>
<path fill="#1481d6" d="M1149 871l-4 14 8 17 4-20z"/>
<path fill="#0d75dc" d="M1054 919l-4 3 9 21 4-11z"/>
<path fill="#0998d1" d="M810 792l-4 4 8 21 5-2z"/>
<path fill="#0871de" d="M999 935l-5 7 9 4 4-1z"/>
<path fill="#0d75dc" d="M956 916l-4 7 8 14 4-12z"/>
<path fill="#07a9c2" d="M1218 714l-4 18 8 8 4-16z"/>
<path fill="#0d75dc" d="M1080 917l-4 10 8 1 5 0z"/>
<path fill="#1485d4" d="M853 859l-4 9 8 23 4-7z"/>
<path fill="#0871de" d="M1024 933l-4 4 9 8 4-7z"/>
<path fill="#1079da" d="M891 896l-4-6 9 16 4 0z"/>
<path fill="#0d75dc" d="M930 915l-4 4 8 13 5 1z"/>
<path fill="#87bf77" d="M1214 506l-4 112 8 9 4-114z"/>
<path fill="#0c93d2" d="M823 815l-4 0 8 23 4 8z"/>
<path fill="#0d75dc" d="M952 923l-5 2 9 18 4-6z"/>
<path fill="#127dd8" d="M870 879l-4 4 8 20 5-4zM1140 891l-4 8 9 6 4-2z"/>
<path fill="#1389d3" d="M836 844l-5 2 9 21 4-4z"/>
<path fill="#25b5a9" d="M1227 635l-5 20 9 7 4-19z"/>
<path fill="#0d75dc" d="M1050 922l-4 7 8 11 5 3z"/>
<path fill="#0871de" d="M973 930l-4-2 8 20 4-1z"/>
<path fill="#0998d1" d="M806 796l-4-1 8 27 4-5z"/>
<path fill="#0871de" d="M1020 937l-4-3 8 19 5-8zM1076 927l-4-7 8 19 4-11z"/>
<path fill="#0aacbe" d="M1222 699l-4 15 8 10 5-16z"/>
<path fill="#1079da" d="M909 908l-5-4 9 8 4 11z"/>
<path fill="#0871de" d="M947 925l-4 8 8 14 5-4z"/>
<path fill="#046de0" d="M994 942l-4-11 9 22 4-7z"/>
<path fill="#0d75dc" d="M1102 916l-5 9 9 10 4-10z"/>
<path fill="#1481d6" d="M849 868l-5-5 9 24 4 4z"/>
<path fill="#0871de" d="M1046 929l-4 7 8 9 4-5z"/>
<path fill="#1079da" d="M1106 901l-4 15 8 9 5-10z"/>
<path fill="#108ed2" d="M1192 826l-4 8 8 9 4-14z"/>
<path fill="#1389d3" d="M1188 834l-5 5 9 11 4-7z"/>
<path fill="#1079da" d="M1136 899l-4-3 8 10 5-1z"/>
<path fill="#0d75dc" d="M926 919l-5 3 9 8 4 2z"/>
<path fill="#0998d1" d="M1205 793l-4 10 8 8 4-9z"/>
<path fill="#127dd8" d="M866 883l-5 1 9 13 4 6z"/>
<path fill="#0871de" d="M1016 934l-4 7 8 15 4-3z"/>
<path fill="#0c93d2" d="M1196 810l-4 16 8 3 5-10z"/>
<path fill="#0d75dc" d="M1072 920l-5 7 9 17 4-5z"/>
<path fill="#079ccf" d="M1209 784l-4 9 8 9 5-15z"/>
<path fill="#0c93d2" d="M1201 803l-5 7 9 9 4-8z"/>
<path fill="#0871de" d="M1097 925l-4 2 9 8 4 0z"/>
<path fill="#0c93d2" d="M819 815l-5 2 9 23 4-2z"/>
<path fill="#127dd8" d="M887 890l-4-4 8 23 5-3z"/>
<path fill="#1389d3" d="M831 846l-4-8 9 28 4 1z"/>
<path fill="#0faeb9" d="M1227 681l-5 18 9 9 4-18z"/>
<path fill="#1389d3" d="M1183 839l-4 8 9 8 4-5z"/>
<path fill="#0998d1" d="M802 795l-5-1 9 29 4-1z"/>
<path fill="#1079da" d="M1132 896l-5 12 9 12 4-14z"/>
<path fill="#1485d4" d="M1175 858l-5 7 9 10 4-8z"/>
<path fill="#0871de" d="M969 928l-5-3 9 23 4 0z"/>
<path fill="#1481d6" d="M1170 865l-4 10 9 13 4-13z"/>
<path fill="#1389d3" d="M1179 847l-4 11 8 9 5-12z"/>
<path fill="#0871de" d="M1042 936l-5 4 9 4 4 1z"/>
<path fill="#06a0cd" d="M1213 766l-4 18 9 3 4-9z"/>
<path fill="#0871de" d="M1067 927l-4 5 9 20 4-8z"/>
<path fill="#1079da" d="M1127 908l-4 5 9 9 4-2zM904 904l-4 2 9 20 4-14z"/>
<path fill="#1481d6" d="M1166 875l-4 8 8 4 5 1z"/>
<path fill="#0871de" d="M990 931l-4 3 8 18 5 1z"/>
<path fill="#127dd8" d="M883 886l-4 13 8 18 4-8z"/>
<path fill="#0871de" d="M943 933l-4 0 8-1 4 15z"/>
<path fill="#0d75dc" d="M921 922l-4 1 9 15 4-8z"/>
<path fill="#046de0" d="M1012 941l-5 4 9 10 4 1z"/>
<path fill="#0871de" d="M1093 927l-4 1 8 18 5-11z"/>
<path fill="#1485d4" d="M844 863l-4 4 9 18 4 2z"/>
<path fill="#0871de" d="M1063 932l-4 11 8 9 5 0z"/>
<path fill="#127dd8" d="M861 884l-4 7 9 10 4-4z"/>
<path fill="#0c93d2" d="M814 817l-4 5 9 20 4-2z"/>
<path fill="#06a4ca" d="M1218 753l-5 13 9 12 4-19z"/>
<path fill="#1079da" d="M900 906l-4 0 8 29 5-9zM879 899l-5 4 9 15 4-1z"/>
<path fill="#0d75dc" d="M1123 913l-4 12 8-5 5 2zM964 925l-4 12 9 11 4 0z"/>
<path fill="#046de0" d="M1037 940l-4-2 8 15 5-9z"/>
<path fill="#127dd8" d="M1162 883l-5-1 9 16 4-11z"/>
<path fill="#1389d3" d="M827 838l-4 2 8 34 5-8z"/>
<path fill="#1db3af" d="M1231 662l-4 19 8 9 4-21z"/>
<path fill="#0871de" d="M986 934l-5 13 9 6 4-1z"/>
<path fill="#127dd8" d="M1157 882l-4 20 9-1 4-3z"/>
<path fill="#06a7c6" d="M1222 740l-4 13 8 6 5-12z"/>
<path fill="#1079da" d="M1153 902l-4 1 8 3 5-5z"/>
<path fill="#0871de" d="M1089 928l-5 0 9 13 4 5z"/>
<path fill="#108ed2" d="M810 822l-4 1 8 22 5-3z"/>
<path fill="#0871de" d="M1033 938l-4 7 8 13 4-5z"/>
<path fill="#127dd8" d="M857 891l-4-4 8 14 5 0z"/>
<path fill="#0871de" d="M939 933l-5-1 9 15 4-15z"/>
<path fill="#1481d6" d="M840 867l-4-1 8 23 5-4z"/>
<path fill="#046de0" d="M1007 945l-4 1 8 8 5 1zM1059 943l-5-3 9 9 4 3zM981 947l-4 1 9 7 4-2z"/>
<path fill="#0d75dc" d="M917 923l-4-11 8 23 5 3z"/>
<path fill="#0871de" d="M960 937l-4 6 8 0 5 5z"/>
<path fill="#07a9c2" d="M1226 724l-4 16 9 7 4-17z"/>
<path fill="#0d75dc" d="M1119 925l-4-10 8 11 4-6z"/>
<path fill="#1079da" d="M896 906l-5 3 9 15 4 11z"/>
<path fill="#87bf77" d="M1222 513l-4 114 9 8 4-115z"/>
<path fill="#1389d3" d="M823 840l-4 2 8 25 4 7z"/>
<path fill="#1079da" d="M1149 903l-4 2 8 12 4-11z"/>
<path fill="#046de0" d="M1003 946l-4 7 8 13 4-12z"/>
<path fill="#0871de" d="M1084 928l-4 11 9 10 4-8z"/>
<path fill="#1079da" d="M874 903l-4-6 8 13 5 8z"/>
<path fill="#046de0" d="M1029 945l-5 8 9-1 4 6z"/>
<path fill="#25b5a9" d="M1235 643l-4 19 8 7 5-20z"/>
<path fill="#108ed2" d="M806 823l-5 3 9 23 4-4z"/>
<path fill="#0871de" d="M934 932l-4-2 8 16 5 1z"/>
<path fill="#1481d6" d="M836 866l-5 8 9 13 4 2z"/>
<path fill="#0871de" d="M1054 940l-4 5 9 11 4-7z"/>
<path fill="#046de0" d="M956 943l-5 4 9 0 4-4z"/>
<path fill="#0d75dc" d="M1115 915l-5 10 9 6 4-5z"/>
<path fill="#0aacbe" d="M1231 708l-5 16 9 6 4-17z"/>
<path fill="#0d75dc" d="M1110 925l-4 10 8 8 5-12z"/>
<path fill="#0871de" d="M1080 939l-4 5 8 3 5 2z"/>
<path fill="#046de0" d="M977 948l-4 0 8 10 5-3zM1024 953l-4 3 9 14 4-18z"/>
<path fill="#0d75dc" d="M913 912l-4 14 8 11 4-2z"/>
<path fill="#127dd8" d="M853 887l-4-2 8 17 4-1z"/>
<path fill="#1079da" d="M891 909l-4 8 9 11 4-4z"/>
<path fill="#046de0" d="M999 953l-5-1 9 10 4 4z"/>
<path fill="#0c93d2" d="M1209 811l-4 8 8 13 5-11zM1205 819l-5 10 9 12 4-9z"/>
<path fill="#1079da" d="M1145 905l-5 1 9 2 4 9z"/>
<path fill="#0998d1" d="M1213 802l-4 9 9 10 4-16z"/>
<path fill="#1485d4" d="M1188 855l-5 12 9 14 4-12z"/>
<path fill="#108ed2" d="M1200 829l-4 14 9 0 4-2z"/>
<path fill="#1389d3" d="M819 842l-5 3 9 23 4-1zM1196 843l-4 7 8 3 5-10z"/>
<path fill="#1485d4" d="M1192 850l-4 5 8 14 4-16z"/>
<path fill="#1481d6" d="M1183 867l-4 8 8 6 5 0z"/>
<path fill="#0d75dc" d="M909 926l-5 9 9-1 4 3z"/>
<path fill="#0871de" d="M1106 935l-4 0 8 4 4 4z"/>
<path fill="#046de0" d="M1050 945l-4-1 8 15 5-3z"/>
<path fill="#108ed2" d="M801 826l-4-2 9 25 4 0z"/>
<path fill="#0871de" d="M930 930l-4 8 8 10 4-2z"/>
<path fill="#046de0" d="M1020 956l-4-1 8 13 5 2z"/>
<path fill="#1079da" d="M870 897l-4 4 8 18 4-9z"/>
<path fill="#079ccf" d="M1218 787l-5 15 9 3 4-9z"/>
<path fill="#0faeb9" d="M1235 690l-4 18 8 5 5-15z"/>
<path fill="#1481d6" d="M1179 875l-4 13 8 6 4-13z"/>
<path fill="#046de0" d="M1076 944l-4 8 8-6 4 1z"/>
<path fill="#079ccf" d="M1222 778l-4 9 8 9 5-12z"/>
<path fill="#0871de" d="M1102 935l-5 11 9 15 4-22z"/>
<path fill="#127dd8" d="M849 885l-5 4 9 22 4-9z"/>
<path fill="#0d75dc" d="M887 917l-4 1 8 8 5 2zM1136 920l-4 2 8 10 4-13z"/>
<path fill="#127dd8" d="M1175 888l-5-1 9 12 4-5z"/>
<path fill="#1079da" d="M1140 906l-4 14 8-1 5-11z"/>
<path fill="#1481d6" d="M831 874l-4-7 9 17 4 3z"/>
<path fill="#046de0" d="M1046 944l-5 9 9 12 4-6z"/>
<path fill="#06a4ca" d="M1226 759l-4 19 9 6 4-12z"/>
<path fill="#1079da" d="M866 901l-5 0 9 23 4-5z"/>
<path fill="#046de0" d="M1097 946l-4-5 8 16 5 4z"/>
<path fill="#1389d3" d="M814 845l-4 4 8 22 5-3z"/>
<path fill="#046de0" d="M994 952l-4 1 8 10 5-1z"/>
<path fill="#0d75dc" d="M1132 922l-5-2 9 21 4-9z"/>
<path fill="#046de0" d="M1072 952l-5 0 9 2 4-8z"/>
<path fill="#127dd8" d="M1170 887l-4 11 9 3 4-2z"/>
<path fill="#0871de" d="M926 938l-5-3 9 7 4 6z"/>
<path fill="#15b1b4" d="M1239 669l-4 21 9 8 4-21z"/>
<path fill="#127dd8" d="M844 889l-4-2 8 21 5 3z"/>
<path fill="#046de0" d="M1016 955l-5-1 9 15 4-1z"/>
<path fill="#06a4ca" d="M1231 747l-5 12 9 13 4-18z"/>
<path fill="#046de0" d="M1041 953l-4 5 9 2 4 5z"/>
<path fill="#0d75dc" d="M883 918l-5-8 9 27 4-11z"/>
<path fill="#1079da" d="M1166 898l-4 3 8 8 5-8zM861 901l-4 1 9 27 4-5z"/>
<path fill="#0871de" d="M947 932l-4 15 8 10 5-12z"/>
<path fill="#046de0" d="M990 953l-4 2 8 18 4-10z"/>
<path fill="#0d75dc" d="M1127 920l-4 6 9 16 4-1z"/>
<path fill="#046de0" d="M1067 952l-4-3 8 16 5-11z"/>
<path fill="#1389d3" d="M810 849l-4 0 8 23 4-1z"/>
<path fill="#1485d4" d="M827 867l-4 1 8 22 5-6z"/>
<path fill="#046de0" d="M969 948l-5-5 9 20 4-15z"/>
<path fill="#0871de" d="M1093 941l-4 8 8 7 4 1z"/>
<path fill="#046de0" d="M943 947l-5-1 9 10 4 1z"/>
<path fill="#06a7c6" d="M1235 730l-4 17 8 7 4-14z"/>
<path fill="#046de0" d="M1011 954l-4 12 9 7 4-4z"/>
<path fill="#0d75dc" d="M1123 926l-4 5 8 22 5-11z"/>
<path fill="#1079da" d="M1162 901l-5 5 9 6 4-3z"/>
<path fill="#046de0" d="M1063 949l-4 7 8 13 4-4z"/>
<path fill="#7cbf7b" d="M1231 520l-4 115 8 8 4-116z"/>
<path fill="#046de0" d="M986 955l-5 3 9 15 4 0z"/>
<path fill="#1079da" d="M878 910l-4 9 9 16 4 2z"/>
<path fill="#046de0" d="M1037 958l-4-6 8 21 5-13z"/>
<path fill="#1079da" d="M1157 906l-4 11 9 7 4-12z"/>
<path fill="#0871de" d="M921 935l-4 2 9 10 4-5z"/>
<path fill="#1079da" d="M857 902l-4 9 8 12 5 6z"/>
<path fill="#25b5a9" d="M1244 649l-5 20 9 8 4-18z"/>
<path fill="#1485d4" d="M823 868l-5 3 9 23 4-4z"/>
<path fill="#0871de" d="M964 943l-4 4 8 20 5-4z"/>
<path fill="#1389d3" d="M806 849l-5 3 9 25 4-5z"/>
<path fill="#046de0" d="M1089 949l-5-2 9 22 4-13z"/>
<path fill="#0268e1" d="M1007 966l-4-4 8 18 5-7z"/>
<path fill="#0871de" d="M1119 931l-5 12 9 4 4 6z"/>
<path fill="#0d75dc" d="M900 924l-4 4 8 9 4-3z"/>
<path fill="#0aacbe" d="M1239 713l-4 17 8 10 5-17z"/>
<path fill="#046de0" d="M1033 952l-4 18 8 1 4 2z"/>
<path fill="#127dd8" d="M840 887l-4-3 8 18 4 6z"/>
<path fill="#0d75dc" d="M874 919l-4 5 8 18 5-7z"/>
<path fill="#046de0" d="M1059 956l-5 3 9 12 4-2z"/>
<path fill="#0d75dc" d="M1153 917l-4-9 8 21 5-5z"/>
<path fill="#1481d6" d="M1196 869l-4 12 8 6 5-13z"/>
<path fill="#046de0" d="M938 946l-4 2 9 10 4-2z"/>
<path fill="#108ed2" d="M1213 832l-4 9 9 9 4-19z"/>
<path fill="#0871de" d="M917 937l-4-3 8 22 5-9z"/>
<path fill="#1389d3" d="M1209 841l-4 2 8 14 5-7zM1200 853l-4 16 9 5 4-5z"/>
<path fill="#0c93d2" d="M1218 821l-5 11 9-1 4-4z"/>
<path fill="#1481d6" d="M818 871l-4 1 9 26 4-4z"/>
<path fill="#1079da" d="M853 911l-5-3 9 22 4-7z"/>
<path fill="#046de0" d="M960 947l-4-2 8 26 4-4z"/>
<path fill="#1481d6" d="M1192 881l-5 0 9 8 4-2z"/>
<path fill="#1389d3" d="M1205 843l-5 10 9 16 4-12z"/>
<path fill="#0998d1" d="M1222 805l-4 16 8 6 4-13z"/>
<path fill="#046de0" d="M1084 947l-4-1 9 22 4 1z"/>
<path fill="#0d75dc" d="M896 928l-5-2 9 16 4-5zM870 924l-4 5 8 15 4-2z"/>
<path fill="#1389d3" d="M801 852l-4-1 9 26 4 0z"/>
<path fill="#0998d1" d="M1226 796l-4 9 8 9 5-8z"/>
<path fill="#046de0" d="M1054 959l-4 6 9 10 4-4z"/>
<path fill="#0268e1" d="M1029 970l-5-2 9 0 4 3z"/>
<path fill="#0871de" d="M1114 943l-4-4 9 10 4-2z"/>
<path fill="#0faeb9" d="M1244 698l-5 15 9 10 4-19z"/>
<path fill="#1481d6" d="M836 884l-5 6 9 26 4-14z"/>
<path fill="#046de0" d="M981 958l-4-10 9 25 4 0z"/>
<path fill="#0268e1" d="M1003 962l-5 1 9 15 4 2z"/>
<path fill="#1481d6" d="M1187 881l-4 13 9 7 4-12z"/>
<path fill="#079ccf" d="M1231 784l-5 12 9 10 4-17z"/>
<path fill="#127dd8" d="M1183 894l-4 5 8 5 5-3z"/>
<path fill="#0871de" d="M1110 939l-4 22 8-3 5-9z"/>
<path fill="#0268e1" d="M1106 961l-5-4 9 11 4-10z"/>
<path fill="#1079da" d="M1149 908l-5 11 9 6 4 4z"/>
<path fill="#1481d6" d="M814 872l-4 5 8 24 5-3z"/>
<path fill="#0d75dc" d="M891 926l-4 11 9 9 4-4z"/>
<path fill="#046de0" d="M934 948l-4-6 8 22 5-6z"/>
<path fill="#06a0cd" d="M1235 772l-4 12 8 5 4-9z"/>
<path fill="#127dd8" d="M831 890l-4 4 8 19 5 3z"/>
<path fill="#0871de" d="M913 934l-5 0 9 20 4 2zM956 945l-5 12 9 9 4 5zM1140 932l-4 9 8 4 5-15z"/>
<path fill="#0d75dc" d="M1144 919l-4 13 9-2 4-5z"/>
<path fill="#0871de" d="M1080 946l-4 8 8 13 5 1z"/>
<path fill="#1079da" d="M848 908l-4-6 9 32 4-4z"/>
<path fill="#127dd8" d="M1179 899l-4 2 8 13 4-10z"/>
<path fill="#0268e1" d="M1024 968l-4 1 8 7 5-8z"/>
<path fill="#15b1b4" d="M1248 677l-4 21 8 6 4-19z"/>
<path fill="#0d75dc" d="M866 929l-5-6 9 18 4 3z"/>
<path fill="#1481d6" d="M810 877l-4 0 8 32 4-8z"/>
<path fill="#0268e1" d="M998 963l-4 10 9-1 4 6z"/>
<path fill="#06a4ca" d="M1239 754l-4 18 8 8 5-21z"/>
<path fill="#046de0" d="M977 948l-4 15 8 4 5 6z"/>
<path fill="#0871de" d="M887 937l-4-2 8 11 5 0zM1136 941l-4 1 8-3 4 6z"/>
<path fill="#127dd8" d="M827 894l-4 4 8 25 4-10z"/>
<path fill="#0871de" d="M930 942l-4 5 8 23 4-6z"/>
<path fill="#1079da" d="M1175 901l-5 8 9 7 4-2z"/>
<path fill="#0268e1" d="M1020 969l-4 4 8 18 4-15z"/>
<path fill="#046de0" d="M1076 954l-5 11 9 4 4-2zM951 957l-4-1 9 16 4-6zM1101 957l-4-1 9 8 4 4z"/>
<path fill="#0871de" d="M908 934l-4 3 9 18 4-1z"/>
<path fill="#0268e1" d="M973 963l-5 4 9 9 4-9zM994 973l-4 0 8 13 5-14z"/>
<path fill="#0871de" d="M1132 942l-5 11 9 0 4-14z"/>
<path fill="#0268e1" d="M1071 965l-4 4 9 7 4-7z"/>
<path fill="#0871de" d="M883 935l-5 7 9 15 4-11z"/>
<path fill="#1079da" d="M844 902l-4 14 8 9 5 9z"/>
<path fill="#06a7c6" d="M1243 740l-4 14 9 5 4-13z"/>
<path fill="#1079da" d="M1170 909l-4 3 8 10 5-6z"/>
<path fill="#0871de" d="M926 947l-5 9 9 8 4 6z"/>
<path fill="#0268e1" d="M1016 973l-5 7 9 0 4 11z"/>
<path fill="#1481d6" d="M806 877l-5 3 9 22 4 7z"/>
<path fill="#127dd8" d="M823 898l-5 3 9 16 4 6z"/>
<path fill="#046de0" d="M1046 960l-5 13 9 0 4-3z"/>
<path fill="#0d75dc" d="M861 923l-4 7 8 14 5-3z"/>
<path fill="#046de0" d="M1097 956l-4 13 8 2 5-7zM1127 953l-4-6 8 12 5-6z"/>
<path fill="#1db3af" d="M1252 659l-4 18 8 8 5-21z"/>
<path fill="#7cbf7b" d="M1239 527l-4 116 9 6 4-117z"/>
<path fill="#1079da" d="M1166 912l-4 12 8 5 4-7z"/>
<path fill="#0d75dc" d="M1162 924l-5 5 9 13 4-13z"/>
<path fill="#0268e1" d="M968 967l-4 4 9 6 4-1z"/>
<path fill="#0871de" d="M904 937l-4 5 8 18 5-5z"/>
<path fill="#046de0" d="M947 956l-4 2 8 9 5 5z"/>
<path fill="#0268e1" d="M1067 969l-4 2 8 7 5-2z"/>
<path fill="#07a9c2" d="M1248 723l-5 17 9 6 4-16z"/>
<path fill="#0268e1" d="M1041 973l-4-2 9 11 4-9zM990 973l-4 0 8 8 4 5z"/>
<path fill="#0871de" d="M878 942l-4 2 9 4 4 9z"/>
<path fill="#0268e1" d="M1093 969l-4-1 8 3 4 0z"/>
<path fill="#0d75dc" d="M1157 929l-4-4 8 21 5-4z"/>
<path fill="#1079da" d="M840 916l-5-3 9 13 4-1z"/>
<path fill="#046de0" d="M921 956l-4-2 8 17 5-7z"/>
<path fill="#1389d3" d="M1218 850l-5 7 9 6 4-10z"/>
<path fill="#0871de" d="M1123 947l-4 2 8 20 4-10z"/>
<path fill="#0d75dc" d="M857 930l-4 4 8 5 4 5z"/>
<path fill="#1485d4" d="M1213 857l-4 12 8 0 5-6z"/>
<path fill="#0871de" d="M900 942l-4 4 8 15 4-1z"/>
<path fill="#127dd8" d="M818 901l-4 8 9 6 4 2z"/>
<path fill="#1485d4" d="M1209 869l-4 5 8 9 4-14z"/>
<path fill="#1481d6" d="M1205 874l-5 13 9 1 4-5z"/>
<path fill="#108ed2" d="M1222 831l-4 19 8 3 4-10z"/>
<path fill="#046de0" d="M943 958l-5 6 9 13 4-10z"/>
<path fill="#108ed2" d="M1226 827l-4 4 8 12 5-8z"/>
<path fill="#0c93d2" d="M1230 814l-4 13 9 8 4-16z"/>
<path fill="#127dd8" d="M1200 887l-4 2 8 10 5-11z"/>
<path fill="#0363e1" d="M1011 980l-4-2 9 0 4 2z"/>
<path fill="#0aacbe" d="M1252 704l-4 19 8 7 5-19z"/>
<path fill="#046de0" d="M1119 949l-5 9 9 9 4 2z"/>
<path fill="#0998d1" d="M1235 806l-5 8 9 5 4-11z"/>
<path fill="#127dd8" d="M1196 889l-4 12 8 4 4-6z"/>
<path fill="#0268e1" d="M1037 971l-4-3 8 12 5 2z"/>
<path fill="#127dd8" d="M1192 901l-5 3 9 16 4-15z"/>
<path fill="#1079da" d="M835 913l-4 10 9 7 4-4z"/>
<path fill="#0268e1" d="M1089 968l-5-1 9 10 4-6z"/>
<path fill="#0d75dc" d="M1153 925l-4 5 8 21 4-5z"/>
<path fill="#046de0" d="M917 954l-4 1 8 17 4-1z"/>
<path fill="#0268e1" d="M986 973l-5-6 9 18 4-4z"/>
<path fill="#079ccf" d="M1239 789l-4 17 8 2 5-15z"/>
<path fill="#0871de" d="M896 946l-5 0 9 19 4-4zM874 944l-4-3 8 13 5-6z"/>
<path fill="#0268e1" d="M938 964l-4 6 9-1 4 8z"/>
<path fill="#046de0" d="M1114 958l-4 10 9 6 4-7z"/>
<path fill="#0871de" d="M853 934l-5-9 9 30 4-16z"/>
<path fill="#0d75dc" d="M1149 930l-5 15 9 8 4-2z"/>
<path fill="#1079da" d="M814 909l-4-7 8 18 5-5z"/>
<path fill="#079ccf" d="M1243 780l-4 9 9 4 4-7z"/>
<path fill="#1079da" d="M1187 904l-4 10 9-1 4 7z"/>
<path fill="#0268e1" d="M1110 968l-4-4 8 18 5-8z"/>
<path fill="#0871de" d="M1144 945l-4-6 9 26 4-12z"/>
<path fill="#15b1b4" d="M1256 685l-4 19 9 7 4-19z"/>
<path fill="#0268e1" d="M1033 968l-5 8 9 7 4-3z"/>
<path fill="#06a4ca" d="M1248 759l-5 21 9 6 4-17z"/>
<path fill="#0d75dc" d="M831 923l-4-6 8 13 5 0z"/>
<path fill="#0871de" d="M891 946l-4 11 8 6 5 2z"/>
<path fill="#0268e1" d="M1007 978l-4-6 8 12 5-6zM1028 976l-4 15 9 2 4-10z"/>
<path fill="#1079da" d="M1183 914l-4 2 8 14 5-17z"/>
<path fill="#0268e1" d="M960 966l-4 6 8 8 4-11zM1084 967l-4 2 8 6 5 2z"/>
<path fill="#0871de" d="M870 941l-5 3 9 13 4-3z"/>
<path fill="#0268e1" d="M934 970l-4-6 8 21 5-16zM981 967l-4 9 8 4 5 5z"/>
<path fill="#046de0" d="M913 955l-5 5 9 6 4 6z"/>
<path fill="#0d75dc" d="M848 925l-4 1 9 22 4 7z"/>
<path fill="#1079da" d="M1179 916l-5 6 9 7 4 1z"/>
<path fill="#0268e1" d="M1080 969l-4 7 8 12 4-13z"/>
<path fill="#0871de" d="M1140 939l-4 14 8 7 5 5z"/>
<path fill="#0363e1" d="M1024 991l-4-11 8 15 5-2z"/>
<path fill="#0268e1" d="M956 972l-5-5 9 17 4-4z"/>
<path fill="#046de0" d="M930 964l-5 7 9 18 4-4z"/>
<path fill="#127dd8" d="M810 902l-5-4 9 22 4 0z"/>
<path fill="#0268e1" d="M1003 972l-5 14 9-3 4 1z"/>
<path fill="#046de0" d="M1106 964l-5 7 9 7 4 4z"/>
<path fill="#06a7c6" d="M1252 746l-4 13 8 10 4-16z"/>
<path fill="#046de0" d="M1136 953l-5 6 9 13 4-12zM887 957l-4-9 8 21 4-6z"/>
<path fill="#0268e1" d="M1054 970l-4 3 8 15 5-17z"/>
<path fill="#7cbf7b" d="M1248 532l-4 117 8 10 4-121z"/>
<path fill="#0d75dc" d="M1174 922l-4 7 9 6 4-6z"/>
<path fill="#046de0" d="M908 960l-4 1 9 16 4-11z"/>
<path fill="#1db3af" d="M1261 664l-5 21 9 7 4-22z"/>
<path fill="#1079da" d="M827 917l-4-2 8 20 4-5z"/>
<path fill="#0268e1" d="M977 976l-4 1 8 9 4-6zM1050 973l-4 9 8 8 4-2z"/>
<path fill="#0d75dc" d="M1170 929l-4 13 8-3 5-4z"/>
<path fill="#046de0" d="M1131 959l-4 10 9-1 4 4z"/>
<path fill="#07a9c2" d="M1256 730l-4 16 8 7 5-17z"/>
<path fill="#0d75dc" d="M844 926l-4 4 8 20 5-2z"/>
<path fill="#0363e1" d="M998 986l-4-5 9 3 4-1z"/>
<path fill="#0268e1" d="M951 967l-4 10 8 3 5 4z"/>
<path fill="#0871de" d="M1166 942l-5 4 9 0 4-7z"/>
<path fill="#1389d3" d="M1230 843l-4 10 9 10 4-10z"/>
<path fill="#0268e1" d="M1101 971l-4 0 9 9 4-2z"/>
<path fill="#108ed2" d="M1235 835l-5 8 9 10 4-12z"/>
<path fill="#0268e1" d="M925 971l-4 1 9 7 4 10z"/>
<path fill="#046de0" d="M904 961l-4 4 8 10 5 2z"/>
<path fill="#1389d3" d="M1226 853l-4 10 8 6 5-6z"/>
<path fill="#1079da" d="M823 915l-5 5 9 20 4-5z"/>
<path fill="#1481d6" d="M1209 888l-5 11 9 16 4-15z"/>
<path fill="#127dd8" d="M805 898l-4 0 9 26 4-4z"/>
<path fill="#0268e1" d="M973 977l-5-8 9 29 4-12z"/>
<path fill="#0871de" d="M883 948l-5 6 9 18 4-3z"/>
<path fill="#1485d4" d="M1222 863l-5 6 9 14 4-14z"/>
<path fill="#0871de" d="M1161 946l-4 5 9 5 4-10z"/>
<path fill="#127dd8" d="M1204 899l-4 6 9 11 4-1z"/>
<path fill="#1485d4" d="M1217 869l-4 14 9 2 4-2z"/>
<path fill="#0363e1" d="M1046 982l-5-2 9 12 4-2z"/>
<path fill="#0c93d2" d="M1239 819l-4 16 8 6 4-12z"/>
<path fill="#0268e1" d="M1020 980l-4-2 8 18 4-1z"/>
<path fill="#1481d6" d="M1213 883l-4 5 8 12 5-15z"/>
<path fill="#0268e1" d="M1097 971l-4 6 8 18 5-15z"/>
<path fill="#0871de" d="M861 939l-4 16 8 5 5-13z"/>
<path fill="#0268e1" d="M1127 969l-4-2 8 2 5-1z"/>
<path fill="#0aacbe" d="M1261 711l-5 19 9 6 4-18z"/>
<path fill="#0d75dc" d="M840 930l-5 0 9 26 4-6z"/>
<path fill="#0998d1" d="M1243 808l-4 11 8 10 5-13z"/>
<path fill="#0268e1" d="M1071 978l-4-4 9 24 4-27z"/>
<path fill="#0871de" d="M1157 951l-4 2 8 8 5-5z"/>
<path fill="#1079da" d="M1200 905l-4 15 8-4 5 0z"/>
<path fill="#0268e1" d="M994 981l-4 4 8 6 5-7zM947 977l-4-8 8 18 4-7z"/>
<path fill="#046de0" d="M857 955l-4-7 8 12 4 0zM1153 953l-4 12 8 5 4-9z"/>
<path fill="#079ccf" d="M1248 793l-5 15 9 8 4-13z"/>
<path fill="#1079da" d="M818 920l-4 0 8 16 5 4z"/>
<path fill="#0268e1" d="M1041 980l-4 3 8 10 5-1zM1016 978l-5 6 9 13 4-1z"/>
<path fill="#0d75dc" d="M1196 920l-4-7 8 16 4-13z"/>
<path fill="#0268e1" d="M968 969l-4 11 9 3 4 15z"/>
<path fill="#079ccf" d="M1252 786l-4 7 8 10 4-12z"/>
<path fill="#0d75dc" d="M835 930l-4 5 9 22 4-1z"/>
<path fill="#0268e1" d="M943 969l-5 16 9 9 4-7z"/>
<path fill="#046de0" d="M878 954l-4 3 8 1 5 14z"/>
<path fill="#0268e1" d="M1123 967l-4 7 8-1 4-4zM1067 974l-4-3 8 22 5 5zM1093 977l-5-2 9 6 4 14zM921 972l-4-6 8 14 5-1z"/>
<path fill="#0363e1" d="M990 985l-5-5 9 13 4-2z"/>
<path fill="#0faeb9" d="M1265 692l-4 19 8 7 4-20z"/>
<path fill="#1079da" d="M1192 913l-5 17 9 1 4-2z"/>
<path fill="#06a0cd" d="M1256 769l-4 17 8 5 5-18z"/>
<path fill="#0268e1" d="M1119 974l-5 8 9-6 4-3z"/>
<path fill="#0363e1" d="M938 985l-4 4 8-2 5 7zM1037 983l-4 10 8 1 4-1z"/>
<path fill="#0268e1" d="M964 980l-4 4 8 15 5-16z"/>
<path fill="#0363e1" d="M1011 984l-4-1 8 20 5-6z"/>
<path fill="#0d75dc" d="M1187 930l-4-1 8 7 5-5z"/>
<path fill="#046de0" d="M917 966l-4 11 8 14 4-11z"/>
<path fill="#1079da" d="M814 920l-4 4 8 10 4 2z"/>
<path fill="#0268e1" d="M1063 971l-5 17 9 4 4 1z"/>
<path fill="#0871de" d="M853 948l-5 2 9 5 4 5z"/>
<path fill="#0363e1" d="M960 984l-5-4 9 26 4-7z"/>
<path fill="#0d75dc" d="M831 935l-4 5 8 7 5 10z"/>
<path fill="#0268e1" d="M985 980l-4 6 9 15 4-8zM1088 975l-4 13 9-3 4-4z"/>
<path fill="#06a7c6" d="M1260 753l-4 16 9 4 4-15z"/>
<path fill="#0268e1" d="M1114 982l-4-4 8 4 5-6z"/>
<path fill="#0363e1" d="M981 986l-4 12 8 10 5-7z"/>
<path fill="#046de0" d="M895 963l-4 6 9 8 4-19z"/>
<path fill="#7cbf7b" d="M1256 538l-4 121 9 5 4-116z"/>
<path fill="#0268e1" d="M913 977l-5-2 9 16 4 0z"/>
<path fill="#046de0" d="M1144 960l-4 12 8 1 5-8z"/>
<path fill="#0363e1" d="M1058 988l-4 2 9 9 4-7zM1033 993l-5 2 9-2 4 1z"/>
<path fill="#046de0" d="M874 957l-4-10 8 22 4-11z"/>
<path fill="#0d75dc" d="M1183 929l-4 6 8 8 4-7z"/>
<path fill="#1db3af" d="M1269 670l-4 22 8 6 5-20z"/>
<path fill="#0268e1" d="M891 969l-4 3 8 3 5 2z"/>
<path fill="#0871de" d="M848 950l-4 6 8 10 5-11z"/>
<path fill="#0268e1" d="M1140 972l-4-4 8 11 4-6zM1007 983l-4 1 8 12 4 7z"/>
<path fill="#07a9c2" d="M1265 736l-5 17 9 5 4-15z"/>
<path fill="#0d75dc" d="M810 924l-5 3 9 7 4 0z"/>
<path fill="#0363e1" d="M934 989l-4-10 8 13 4-5z"/>
<path fill="#0871de" d="M827 940l-5-4 9 28 4-17z"/>
<path fill="#0d75dc" d="M1179 935l-5 4 9 8 4-4z"/>
<path fill="#0871de" d="M870 947l-5 13 9 12 4-3z"/>
<path fill="#0268e1" d="M1110 978l-4 2 8 10 4-8zM955 980l-4 7 9 12 4 7z"/>
<path fill="#1389d3" d="M1239 853l-4 10 8 2 4-6z"/>
<path fill="#0268e1" d="M1106 980l-5 15 9 7 4-12z"/>
<path fill="#0363e1" d="M1054 990l-4 2 8 7 5 0zM1028 995l-4 1 9 7 4-10z"/>
<path fill="#108ed2" d="M1243 841l-4 12 8 6 5-12z"/>
<path fill="#0363e1" d="M1084 988l-4-17 8 17 5-3z"/>
<path fill="#1079da" d="M1213 915l-4 1 8 9 5-13z"/>
<path fill="#1485d4" d="M1230 869l-4 14 8 4 5-14z"/>
<path fill="#127dd8" d="M1217 900l-4 15 9-3 4-10z"/>
<path fill="#0c93d2" d="M1247 829l-4 12 9 6 4-8z"/>
<path fill="#0363e1" d="M1076 998l-5-5 9 14 4 0z"/>
<path fill="#1485d4" d="M1235 863l-5 6 9 4 4-8z"/>
<path fill="#0268e1" d="M1080 971l-4 27 8 9 4-19z"/>
<path fill="#0871de" d="M1174 939l-4 7 9 7 4-6z"/>
<path fill="#046de0" d="M844 956l-4 1 8 4 4 5zM865 960l-4 0 9 18 4-6z"/>
<path fill="#1481d6" d="M1226 883l-4 2 8 1 4 1z"/>
<path fill="#0c93d2" d="M1252 816l-5 13 9 10 4-14z"/>
<path fill="#0871de" d="M1170 946l-4 10 8 8 5-11z"/>
<path fill="#0268e1" d="M1003 984l-5 7 9 13 4-8z"/>
<path fill="#0aacbe" d="M1269 718l-4 18 8 7 5-17z"/>
<path fill="#0363e1" d="M1050 992l-5 1 9 21 4-15z"/>
<path fill="#046de0" d="M1136 968l-5 1 9 13 4-3z"/>
<path fill="#1481d6" d="M1222 885l-5 15 9 2 4-16z"/>
<path fill="#046de0" d="M1166 956l-5 5 9 7 4-4z"/>
<path fill="#0363e1" d="M1024 996l-4 1 8 9 5-3z"/>
<path fill="#0268e1" d="M908 975l-4-17 8 38 5-5zM930 979l-5 1 9 20 4-8zM887 972l-5-14 9 23 4-6z"/>
<path fill="#1079da" d="M1209 916l-5 0 9 7 4 2z"/>
<path fill="#0998d1" d="M1256 803l-4 13 8 9 5-15z"/>
<path fill="#0363e1" d="M951 987l-4 7 8 4 5 1z"/>
<path fill="#0d75dc" d="M822 936l-4-2 9 20 4 10zM805 927l-4-8 9 18 4-3z"/>
<path fill="#046de0" d="M1161 961l-4 9 9 5 4-7z"/>
<path fill="#0363e1" d="M998 991l-4 2 9 11 4 0z"/>
<path fill="#079ccf" d="M1260 791l-4 12 9 7 4-12z"/>
<path fill="#0268e1" d="M925 980l-4 11 9 10 4-1z"/>
<path fill="#1079da" d="M1204 916l-4 13 9 4 4-10z"/>
<path fill="#046de0" d="M861 960l-4-5 8 24 5-1z"/>
<path fill="#0268e1" d="M973 983l-5 16 9 8 4-7z"/>
<path fill="#0363e1" d="M1020 997l-5 6 9 4 4-1z"/>
<path fill="#046de0" d="M1131 969l-4 4 9 7 4 2z"/>
<path fill="#0363e1" d="M1045 993l-4 1 9 8 4 12zM1071 993l-4-1 8 10 5 5z"/>
<path fill="#0d75dc" d="M1200 929l-4 2 8 8 5-6z"/>
<path fill="#0faeb9" d="M1273 698l-4 20 9 8 4-22z"/>
<path fill="#046de0" d="M904 958l-4 19 8 20 4-1z"/>
<path fill="#0363e1" d="M947 994l-5-7 9 21 4-10z"/>
<path fill="#046de0" d="M882 958l-4 11 9 13 4-1z"/>
<path fill="#0363e1" d="M994 993l-4 8 8 9 5-6z"/>
<path fill="#06a0cd" d="M1265 773l-5 18 9 7 4-20z"/>
<path fill="#0268e1" d="M1157 970l-4-5 8 10 5 0z"/>
<path fill="#0363e1" d="M968 999l-4 7 8-5 5 6z"/>
<path fill="#046de0" d="M840 957l-5-10 9 12 4 2z"/>
<path fill="#0363e1" d="M921 991l-4 0 8 12 5-2z"/>
<path fill="#0d75dc" d="M818 934l-4 0 8 26 5-6z"/>
<path fill="#0268e1" d="M1127 973l-4 3 8 13 5-9zM900 977l-5-2 9 19 4 3z"/>
<path fill="#0871de" d="M857 955l-5 11 9 12 4 1z"/>
<path fill="#0363e1" d="M990 1001l-5 7 9 2 4 0z"/>
<path fill="#0d75dc" d="M1196 931l-5 5 9 1 4 2z"/>
<path fill="#0268e1" d="M1097 981l-4 4 8 12 4-1z"/>
<path fill="#0f5cdd" d="M1015 1003l-4-7 9 18 4-7z"/>
<path fill="#0871de" d="M835 947l-4 17 8 9 5-14z"/>
<path fill="#0363e1" d="M1041 994l-4-1 8 27 5-18z"/>
<path fill="#046de0" d="M878 969l-4 3 8 8 5 2z"/>
<path fill="#71bf80" d="M1265 548l-4 116 8 6 5-116z"/>
<path fill="#06a4ca" d="M1269 758l-4 15 8 5 5-13z"/>
<path fill="#0363e1" d="M1067 992l-4 7 8 3 4 0z"/>
<path fill="#0d75dc" d="M1191 936l-4 7 9 12 4-18z"/>
<path fill="#0268e1" d="M1123 976l-5 6 9 10 4-3z"/>
<path fill="#046de0" d="M1153 965l-5 8 9 6 4-4z"/>
<path fill="#1db3af" d="M1278 678l-5 20 9 6 4-21z"/>
<path fill="#0871de" d="M1187 943l-4 4 8 12 5-4z"/>
<path fill="#0363e1" d="M917 991l-5 5 9 7 4 0zM942 987l-4 5 9 7 4 9z"/>
<path fill="#0268e1" d="M1093 985l-5 3 9 18 4-9z"/>
<path fill="#0363e1" d="M1037 993l-4 10 8 8 4 9z"/>
<path fill="#0d75dc" d="M814 934l-4 3 8 20 4 3z"/>
<path fill="#0363e1" d="M1063 999l-5 0 9 17 4-14z"/>
<path fill="#06a7c6" d="M1273 743l-4 15 9 7 4-14z"/>
<path fill="#0363e1" d="M1011 996l-4 8 8 11 5-1z"/>
<path fill="#0268e1" d="M1148 973l-4 6 9 3 4-3zM874 972l-4 6 8 9 4-7zM1118 982l-4 8 9 5 4-3z"/>
<path fill="#0363e1" d="M1088 988l-4 19 9-3 4 2z"/>
<path fill="#046de0" d="M852 966l-4-5 9 17 4 0z"/>
<path fill="#0871de" d="M1183 947l-4 6 8 15 4-9z"/>
<path fill="#0363e1" d="M1058 999l-4 15 9 6 4-4z"/>
<path fill="#1389d3" d="M1247 859l-4 6 9 14 4-13z"/>
<path fill="#1485d4" d="M1243 865l-4 8 8 16 5-10zM1239 873l-5 14 9 5 4-3z"/>
<path fill="#108ed2" d="M1252 847l-5 12 9 7 4-14z"/>
<path fill="#0268e1" d="M895 975l-4 6 9 4 4 9z"/>
<path fill="#0363e1" d="M1114 990l-4 12 8-3 5-4z"/>
<path fill="#108ed2" d="M1256 839l-4 8 8 5 4-9z"/>
<path fill="#1481d6" d="M1234 887l-4-1 9 23 4-17z"/>
<path fill="#0268e1" d="M1144 979l-4 3 8 10 5-10z"/>
<path fill="#0f5cdd" d="M1084 1007l-4 0 8 1 5-4z"/>
<path fill="#0871de" d="M1179 953l-5 11 9-1 4 5z"/>
<path fill="#0c93d2" d="M1260 825l-4 14 8 4 5-15z"/>
<path fill="#0363e1" d="M938 992l-4 8 8-3 5 2z"/>
<path fill="#0f5cdd" d="M1033 1003l-5 3 9 9 4-4z"/>
<path fill="#0268e1" d="M870 978l-5 1 9 8 4 0z"/>
<path fill="#1481d6" d="M1230 886l-4 16 8 4 5 3z"/>
<path fill="#1079da" d="M1222 912l-5 13 9 2 4-11z"/>
<path fill="#0363e1" d="M960 999l-5-1 9 22 4-20zM912 996l-4 1 9-1 4 7z"/>
<path fill="#0aacbe" d="M1278 726l-5 17 9 8 4-23z"/>
<path fill="#0f5cdd" d="M1110 1002l-5-6 9 16 4-13z"/>
<path fill="#127dd8" d="M1226 902l-4 10 8 4 4-10z"/>
<path fill="#0f5cdd" d="M1007 1004l-4 0 8 8 4 3z"/>
<path fill="#046de0" d="M1174 964l-4 4 8 12 5-17z"/>
<path fill="#1079da" d="M1217 925l-4-2 8 10 5-6z"/>
<path fill="#0268e1" d="M891 981l-4 1 8 19 5-16z"/>
<path fill="#046de0" d="M1170 968l-4 7 8 8 4-3z"/>
<path fill="#0998d1" d="M1265 810l-5 15 9 3 4-16z"/>
<path fill="#0363e1" d="M981 1000l-4 7 8 10 5-10zM934 1000l-4 1 8 5 4-9z"/>
<path fill="#0f5cdd" d="M1028 1006l-4 1 8 18 5-10z"/>
<path fill="#0363e1" d="M955 998l-4 10 9 0 4 12z"/>
<path fill="#0871de" d="M827 954l-5 6 9 1 4 5z"/>
<path fill="#0268e1" d="M1140 982l-4-2 8 6 4 6z"/>
<path fill="#0f5cdd" d="M1080 1007l-5-5 9 13 4-7z"/>
<path fill="#046de0" d="M848 961l-4-2 8 15 5 4z"/>
<path fill="#079ccf" d="M1269 798l-4 12 8 2 4-10z"/>
<path fill="#0363e1" d="M908 997l-4-3 8 18 5-16z"/>
<path fill="#0268e1" d="M865 979l-4-1 8 12 5-3z"/>
<path fill="#0363e1" d="M1105 996l-4 1 9 14 4 1z"/>
<path fill="#1079da" d="M1213 923l-4 10 8 1 4-1z"/>
<path fill="#0268e1" d="M1166 975l-5 0 9 14 4-6z"/>
<path fill="#0d75dc" d="M1209 933l-5 6 9 15 4-20z"/>
<path fill="#0f5cdd" d="M1003 1004l-5 6 9 4 4-2z"/>
<path fill="#0363e1" d="M930 1001l-5 2 9 10 4-7z"/>
<path fill="#0faeb9" d="M1282 704l-4 22 8 2 4-17z"/>
<path fill="#0f5cdd" d="M977 1007l-5-6 9 15 4 1z"/>
<path fill="#0268e1" d="M887 982l-5-2 9 9 4 12z"/>
<path fill="#06a0cd" d="M1273 778l-4 20 8 4 5-14z"/>
<path fill="#0d75dc" d="M1204 939l-4-2 8 18 5-1z"/>
<path fill="#046de0" d="M844 959l-5 14 9 8 4-7z"/>
<path fill="#0268e1" d="M1136 980l-5 9 9 9 4-12z"/>
<path fill="#0f5cdd" d="M1024 1007l-4 7 8-4 4 15z"/>
<path fill="#0363e1" d="M1075 1002l-4 0 9 19 4-6zM1050 1002l-5 18 9-3 4-9z"/>
<path fill="#046de0" d="M822 960l-4-3 9 11 4-7z"/>
<path fill="#0f5cdd" d="M951 1008l-4-9 8 18 5-9z"/>
<path fill="#0268e1" d="M1131 989l-4 3 8 8 5-2z"/>
<path fill="#0f5cdd" d="M998 1010l-4 0 8 9 5-5z"/>
<path fill="#0363e1" d="M1101 997l-4 9 8 5 5 0z"/>
<path fill="#046de0" d="M839 973l-4-7 9 24 4-9z"/>
<path fill="#0268e1" d="M1161 975l-4 4 9 8 4 2z"/>
<path fill="#0d75dc" d="M1200 937l-4 18 8 2 4-2z"/>
<path fill="#06a4ca" d="M1278 765l-5 13 9 10 4-15z"/>
<path fill="#0363e1" d="M904 994l-4-9 8 23 4 4z"/>
<path fill="#71bf80" d="M1274 554l-5 116 9 8 4-120z"/>
<path fill="#0268e1" d="M882 980l-4 7 9 17 4-15z"/>
<path fill="#0871de" d="M818 957l-4-1 8 26 5-14z"/>
<path fill="#0363e1" d="M1127 992l-4 3 8 18 4-13zM1071 1002l-4 14 8-2 5 7z"/>
<path fill="#0871de" d="M1196 955l-5 4 9-1 4-1z"/>
<path fill="#1db3af" d="M1286 683l-4 21 8 7 5-21z"/>
<path fill="#0f5cdd" d="M1067 1016l-4 4 8 17 4-23zM1097 1006l-4-2 8 16 4-9zM1020 1014l-5 1 9 8 4-13z"/>
<path fill="#06a7c6" d="M1282 751l-4 14 8 8 4-18z"/>
<path fill="#1485d4" d="M1252 879l-5 10 9 3 4-11z"/>
<path fill="#0363e1" d="M972 1001l-4-1 9 16 4 0z"/>
<path fill="#0f5cdd" d="M994 1010l-4-3 8 19 4-7z"/>
<path fill="#0268e1" d="M1157 979l-4 3 8 9 5-4z"/>
<path fill="#046de0" d="M1191 959l-4 9 9 1 4-11z"/>
<path fill="#0268e1" d="M878 987l-4 0 8 12 5 5z"/>
<path fill="#0f5cdd" d="M1015 1015l-4-3 9 23 4-12z"/>
<path fill="#1389d3" d="M1256 866l-4 13 8 2 4-17z"/>
<path fill="#0268e1" d="M1153 982l-5 10 9 11 4-12z"/>
<path fill="#1481d6" d="M1247 889l-4 3 8 0 5 0z"/>
<path fill="#108ed2" d="M1264 843l-4 9 9 10 4-10z"/>
<path fill="#127dd8" d="M1239 909l-5-3 9 12 4-13z"/>
<path fill="#108ed2" d="M1260 852l-4 14 8-2 5-2z"/>
<path fill="#1481d6" d="M1243 892l-4 17 8-4 4-13z"/>
<path fill="#0363e1" d="M1123 995l-5 4 9 2 4 12zM968 1000l-4 20 8-4 5 0z"/>
<path fill="#046de0" d="M1187 968l-4-5 8 13 5-7z"/>
<path fill="#0268e1" d="M900 985l-5 16 9-1 4 8z"/>
<path fill="#0363e1" d="M1093 1004l-5 4 9 11 4 1z"/>
<path fill="#0f5cdd" d="M1041 1011l-4 4 8 11 5-12z"/>
<path fill="#0c93d2" d="M1269 828l-5 15 9 9 4-14z"/>
<path fill="#046de0" d="M835 966l-4-5 8 19 5 10z"/>
<path fill="#0363e1" d="M947 999l-5-2 9 3 4 17z"/>
<path fill="#0f5cdd" d="M990 1007l-5 10 9 9 4 0zM1037 1015l-5 10 9 5 4-4z"/>
<path fill="#0aacbe" d="M1286 728l-4 23 8 4 5-18z"/>
<path fill="#127dd8" d="M1234 906l-4 10 9 7 4-5z"/>
<path fill="#0f5cdd" d="M964 1020l-4-12 8 25 4-17z"/>
<path fill="#0363e1" d="M1148 992l-4-6 9 19 4-2zM921 1003l-4-7 8 15 4-9z"/>
<path fill="#046de0" d="M1183 963l-5 17 9-3 4-1z"/>
<path fill="#0268e1" d="M857 978l-5-4 9 10 4-9z"/>
<path fill="#0363e1" d="M1118 999l-4 13 9 0 4-11z"/>
<path fill="#0268e1" d="M874 987l-5 3 9 13 4-4z"/>
<path fill="#1079da" d="M1230 916l-4 11 8-3 5-1z"/>
<path fill="#0998d1" d="M1273 812l-4 16 8 10 5-15z"/>
<path fill="#0f5cdd" d="M1011 1012l-4 2 8 14 5 7z"/>
<path fill="#0268e1" d="M1178 980l-4 3 9 1 4-7z"/>
<path fill="#0363e1" d="M895 1001l-4-12 8 26 5-15z"/>
<path fill="#1079da" d="M1226 927l-5 6 9 6 4-15z"/>
<path fill="#0d75dc" d="M1217 934l-4 20 8 8 5-12z"/>
<path fill="#0f5cdd" d="M1088 1008l-4 7 8 4 5 0z"/>
<path fill="#0363e1" d="M917 996l-5 16 9 2 4-3z"/>
<path fill="#0f5cdd" d="M985 1017l-4-1 8 12 5-2z"/>
<path fill="#046de0" d="M852 974l-4 7 9 15 4-12z"/>
<path fill="#0d75dc" d="M1221 933l-4 1 9 16 4-11z"/>
<path fill="#0363e1" d="M942 997l-4 9 9 10 4-16z"/>
<path fill="#0871de" d="M1213 954l-5 1 9 3 4 4z"/>
<path fill="#079ccf" d="M1277 802l-4 10 9 11 4-14z"/>
<path fill="#0268e1" d="M1174 983l-4 6 8 4 5-9z"/>
<path fill="#0f5cdd" d="M1084 1015l-4 6 8 7 4-9zM960 1008l-5 9 9 6 4 10z"/>
<path fill="#0363e1" d="M938 1006l-4 7 8 1 5 2z"/>
<path fill="#0268e1" d="M891 989l-4 15 8 11 4 0z"/>
<path fill="#046de0" d="M831 961l-4 7 8 13 4-1z"/>
<path fill="#0268e1" d="M1144 986l-4 12 8 3 5 4z"/>
<path fill="#0faeb9" d="M1290 711l-4 17 9 9 4-20z"/>
<path fill="#0268e1" d="M848 981l-4 9 8 0 5 6z"/>
<path fill="#046de0" d="M827 968l-5 14 9 7 4-8z"/>
<path fill="#0268e1" d="M869 990l-4-15 9 39 4-11z"/>
<path fill="#06a0cd" d="M1282 788l-5 14 9 7 4-18z"/>
<path fill="#0f5cdd" d="M1058 1008l-4 9 8 13 5-6zM1007 1014l-5 5 9 10 4-1zM981 1016l-4 0 8 19 4-7z"/>
<path fill="#0268e1" d="M1170 989l-4-2 8 11 4-5z"/>
<path fill="#0871de" d="M1208 955l-4 2 9 8 4-7z"/>
<path fill="#0363e1" d="M1140 998l-5 2 9 5 4-4z"/>
<path fill="#0f5cdd" d="M1080 1021l-5-7 9 18 4-4z"/>
<path fill="#0363e1" d="M887 1004l-5-5 9 15 4 1z"/>
<path fill="#06a4ca" d="M1286 773l-4 15 8 3 5-14z"/>
<path fill="#0f5cdd" d="M1110 1011l-5 0 9 2 4-6zM1054 1017l-4-3 8 18 4-2zM1002 1019l-4 7 9 6 4-3z"/>
<path fill="#0363e1" d="M1135 1000l-4 13 9-1 4-7z"/>
<path fill="#71bf80" d="M1282 558l-4 120 8 5 5-118z"/>
<path fill="#0f5cdd" d="M934 1013l-5-11 9 15 4-3z"/>
<path fill="#0268e1" d="M844 990l-5-10 9 16 4-6z"/>
<path fill="#0f5cdd" d="M1105 1011l-4 9 9 5 4-12z"/>
<path fill="#046de0" d="M865 975l-4 9 8 30 5 0z"/>
<path fill="#15b1b4" d="M1295 690l-5 21 9 6 4-22z"/>
<path fill="#0f5cdd" d="M1028 1010l-4 13 8 4 5-1z"/>
<path fill="#0268e1" d="M1166 987l-5 4 9 4 4 3z"/>
<path fill="#0f5cdd" d="M1075 1014l-4 23 9-11 4 6z"/>
<path fill="#0871de" d="M1204 957l-4 1 8 9 5-2z"/>
<path fill="#0f5cdd" d="M977 1016l-5 0 9 17 4 2z"/>
<path fill="#06a7c6" d="M1290 755l-4 18 9 4 4-13z"/>
<path fill="#0f5cdd" d="M908 1008l-4-8 8 22 5-13zM955 1017l-4-17 8 23 5 0z"/>
<path fill="#1485d4" d="M1260 881l-4 11 8 6 5-8z"/>
<path fill="#0f5cdd" d="M1131 1013l-4-12 8 19 5-8zM1024 1023l-4 12 8-9 4 1zM1101 1020l-4-1 8 5 5 1zM1050 1014l-5 12 9 5 4 1z"/>
<path fill="#127dd8" d="M1247 905l-4 13 8 4 5 3z"/>
<path fill="#0268e1" d="M1161 991l-4 12 8 1 5-9z"/>
<path fill="#108ed2" d="M1273 852l-4 10 8 5 5-14z"/>
<path fill="#2053d4" d="M998 1026l-4 0 8 3 5 3z"/>
<path fill="#1389d3" d="M1264 864l-4 17 9 9 4-14z"/>
<path fill="#1481d6" d="M1251 892l-4 13 9 20 4-22zM1256 892l-5 0 9 11 4-5z"/>
<path fill="#1389d3" d="M1269 862l-5 2 9 12 4-9z"/>
<path fill="#0871de" d="M1200 958l-4 11 8 0 4-2z"/>
<path fill="#0f5cdd" d="M972 1016l-4 17 9 1 4-1z"/>
<path fill="#0363e1" d="M882 999l-4 4 8 8 5 3zM904 1000l-5 15 9 6 4 1z"/>
<path fill="#0268e1" d="M861 984l-4 12 8 4 4 14z"/>
<path fill="#0363e1" d="M1157 1003l-4 2 8 4 4-5z"/>
<path fill="#0c93d2" d="M1277 838l-4 14 9 1 4-13z"/>
<path fill="#1079da" d="M1243 918l-4 5 8 8 4-9z"/>
<path fill="#0363e1" d="M929 1002l-4 9 9 4 4 2z"/>
<path fill="#07a9c2" d="M1295 737l-5 18 9 9 4-19z"/>
<path fill="#046de0" d="M1196 969l-5 7 9-1 4-6z"/>
<path fill="#0268e1" d="M839 980l-4 1 9 15 4 0z"/>
<path fill="#2053d4" d="M1045 1026l-4 4 8 2 5-1zM1020 1035l-5-7 9 9 4-11z"/>
<path fill="#0363e1" d="M951 1000l-4 16 8 10 4-3z"/>
<path fill="#0f5cdd" d="M1097 1019l-5 0 9 17 4-12z"/>
<path fill="#0998d1" d="M1282 823l-5 15 9 2 4-10z"/>
<path fill="#1079da" d="M1239 923l-5 1 9 17 4-10z"/>
<path fill="#0f5cdd" d="M925 1011l-4 3 8 16 5-15z"/>
<path fill="#0363e1" d="M878 1003l-4 11 8 3 4-6zM1127 1001l-4 11 8 4 4 4z"/>
<path fill="#046de0" d="M1191 976l-4 1 8 9 5-11z"/>
<path fill="#0f5cdd" d="M899 1015l-4 0 9 5 4 1z"/>
<path fill="#2053d4" d="M994 1026l-5 2 9 6 4-5z"/>
<path fill="#079ccf" d="M1286 809l-4 14 8 7 4-12z"/>
<path fill="#1079da" d="M1234 924l-4 15 8-1 5 3z"/>
<path fill="#0363e1" d="M1153 1005l-5-4 9 12 4-4zM857 996l-5-6 9 20 4-10z"/>
<path fill="#0871de" d="M1226 950l-5 12 9-5 4-10z"/>
<path fill="#046de0" d="M1187 977l-4 7 8 7 4-5z"/>
<path fill="#0f5cdd" d="M1067 1024l-5 6 9 7 4-5zM947 1016l-5-2 9 11 4 1z"/>
<path fill="#0d75dc" d="M1230 939l-4 11 8-3 4-9z"/>
<path fill="#0268e1" d="M835 981l-4 8 8 3 5 4zM1183 984l-5 9 9 11 4-13z"/>
<path fill="#0faeb9" d="M1299 717l-4 20 8 8 4-21z"/>
<path fill="#2053d4" d="M989 1028l-4 7 9 2 4-3z"/>
<path fill="#0f5cdd" d="M1092 1019l-4 9 9-7 4 15zM921 1014l-4-5 8 12 4 9z"/>
<path fill="#0871de" d="M1221 962l-4-4 9 4 4-5z"/>
<path fill="#06a0cd" d="M1290 791l-4 18 8 9 5-19z"/>
<path fill="#0f5cdd" d="M1123 1012l-5-5 9 8 4 1z"/>
<path fill="#0268e1" d="M1178 993l-4 5 9 2 4 4z"/>
<path fill="#0f5cdd" d="M895 1015l-4-1 8 9 5-3z"/>
<path fill="#0268e1" d="M831 989l-5-3 9 23 4-17z"/>
<path fill="#0363e1" d="M1148 1001l-4 4 8 13 5-5z"/>
<path fill="#2053d4" d="M1062 1030l-4 2 9 5 4 0z"/>
<path fill="#0268e1" d="M852 990l-4 6 8 5 5 9z"/>
<path fill="#0871de" d="M1217 958l-4 7 8 7 5-10z"/>
<path fill="#0f5cdd" d="M964 1023l-5 0 9 21 4-20z"/>
<path fill="#2053d4" d="M1037 1026l-5 1 9 19 4-17z"/>
<path fill="#0f5cdd" d="M942 1014l-4 3 8 6 5 2z"/>
<path fill="#2053d4" d="M985 1035l-4-2 8 4 5 0z"/>
<path fill="#06a4ca" d="M1295 777l-5 14 9 8 4-16z"/>
<path fill="#046de0" d="M1213 965l-5 2 9 16 4-11z"/>
<path fill="#0363e1" d="M1144 1005l-4 7 8 8 4-2z"/>
<path fill="#2053d4" d="M1011 1029l-4 3 8 10 4-15zM1088 1028l-4 4 8-7 5-4z"/>
<path fill="#71bf80" d="M1291 565l-5 118 9 7 4-120z"/>
<path fill="#0363e1" d="M917 1009l-5 13 9 4 4-5zM1118 1007l-4 6 8 10 5-8z"/>
<path fill="#15b1b4" d="M1303 695l-4 22 8 7 5-23z"/>
<path fill="#0f5cdd" d="M1114 1013l-4 12 8 7 4-9zM869 1014l-4-14 9 23 4-13z"/>
<path fill="#0363e1" d="M1174 998l-4-3 8 9 5-4z"/>
<path fill="#0f5cdd" d="M1140 1012l-5 8 9 7 4-7z"/>
<path fill="#2053d4" d="M1058 1032l-4-1 8 7 5-1z"/>
<path fill="#0f5cdd" d="M891 1014l-5-3 9 11 4 1zM938 1017l-4-2 8 23 4-15z"/>
<path fill="#1481d6" d="M1269 890l-5 8 9 6 4-10z"/>
<path fill="#06a7c6" d="M1299 764l-4 13 8 6 4-18z"/>
<path fill="#0f5cdd" d="M959 1023l-4 3 9 3 4 15z"/>
<path fill="#1481d6" d="M1260 903l-4 22 8-5 5-7z"/>
<path fill="#0f5cdd" d="M912 1022l-4-1 8 8 5-3z"/>
<path fill="#2053d4" d="M1007 1032l-5-3 9 13 4 0z"/>
<path fill="#1485d4" d="M1273 876l-4 14 8 4 4-12z"/>
<path fill="#0363e1" d="M848 996l-4 0 8 11 4-6z"/>
<path fill="#046de0" d="M1208 967l-4 2 9 9 4 5z"/>
<path fill="#1481d6" d="M1264 898l-4 5 9 10 4-9z"/>
<path fill="#2053d4" d="M1084 1032l-4-6 8 10 4-11zM1032 1027l-4-1 9 8 4 12zM981 1033l-4 1 8 7 4-4z"/>
<path fill="#0268e1" d="M1170 995l-5 9 9 8 4-8z"/>
<path fill="#0f5cdd" d="M1110 1025l-5-1 9 1 4 7z"/>
<path fill="#1389d3" d="M1277 867l-4 9 8 6 5-14z"/>
<path fill="#0f5cdd" d="M934 1015l-5 15 9 1 4 7z"/>
<path fill="#108ed2" d="M1282 853l-5 14 9 1 4-11z"/>
<path fill="#07a9c2" d="M1303 745l-4 19 8 1 5-17z"/>
<path fill="#0f5cdd" d="M1080 1026l-5 6 9 11 4-7z"/>
<path fill="#1079da" d="M1247 931l-4 10 8 1 5-7z"/>
<path fill="#0c93d2" d="M1286 840l-4 13 8 4 4-7z"/>
<path fill="#0f5cdd" d="M1105 1024l-4 12 9 6 4-17z"/>
<path fill="#0363e1" d="M865 1000l-4 10 8 0 5 13z"/>
<path fill="#2053d4" d="M1054 1031l-5 1 9 8 4-2z"/>
<path fill="#1079da" d="M1251 922l-4 9 9 4 4-15z"/>
<path fill="#0c93d2" d="M1290 830l-4 10 8 10 5-12z"/>
<path fill="#0f5cdd" d="M908 1021l-4-1 8 16 4-7z"/>
<path fill="#046de0" d="M1204 969l-4 6 8 12 5-9z"/>
<path fill="#0363e1" d="M886 1011l-4 6 9 6 4-1zM1165 1004l-4 5 9-3 4 6zM844 996l-5-4 9 21 4-6z"/>
<path fill="#0f5cdd" d="M955 1026l-4-1 8 19 5-15z"/>
<path fill="#2053d4" d="M1002 1029l-4 5 9 9 4-1z"/>
<path fill="#0f5cdd" d="M1028 1026l-4 11 8 7 5-10z"/>
<path fill="#046de0" d="M1200 975l-5 11 9 6 4-5z"/>
<path fill="#0d75dc" d="M1243 941l-5-3 9 18 4-14z"/>
<path fill="#0998d1" d="M1294 818l-4 12 9 8 4-19z"/>
<path fill="#2053d4" d="M929 1030l-4-9 9 18 4-8zM977 1034l-5-10 9 18 4-1z"/>
<path fill="#0d75dc" d="M1238 938l-4 9 9 15 4-6z"/>
<path fill="#2053d4" d="M1024 1037l-5-10 9 29 4-12z"/>
<path fill="#0268e1" d="M839 992l-4 17 9 1 4 3z"/>
<path fill="#2053d4" d="M1075 1032l-4 5 8-4 5 10zM998 1034l-4 3 8 13 5-7z"/>
<path fill="#0d75dc" d="M1234 947l-4 10 8 12 5-7z"/>
<path fill="#0268e1" d="M1195 986l-4 5 9-3 4 4z"/>
<path fill="#0aacbe" d="M1307 724l-4 21 9 3 4-20z"/>
<path fill="#0363e1" d="M1161 1009l-4 4 8-3 5-4z"/>
<path fill="#0f5cdd" d="M904 1020l-5 3 9 9 4 4z"/>
<path fill="#2053d4" d="M1049 1032l-4-3 9 12 4-1z"/>
<path fill="#0f5cdd" d="M882 1017l-4-7 8 16 5-3zM1131 1016l-4-1 8 11 5-3zM951 1025l-5-2 9 15 4 6z"/>
<path fill="#079ccf" d="M1299 799l-5 19 9 1 4-12z"/>
<path fill="#0363e1" d="M861 1010l-5-9 9 17 4-8z"/>
<path fill="#0268e1" d="M1191 991l-4 13 8-3 5-13z"/>
<path fill="#0f5cdd" d="M1045 1029l-4 17 8 7 5-12z"/>
<path fill="#0871de" d="M1230 957l-4 5 8 3 4 4z"/>
<path fill="#0363e1" d="M1187 1004l-4-4 8 9 4-8z"/>
<path fill="#0f5cdd" d="M925 1021l-4 5 8 13 5 0zM972 1024l-4 20 8-9 5 7zM1019 1027l-4 15 9 3 4 11zM1157 1013l-5 5 9-5 4-3z"/>
<path fill="#046de0" d="M1221 972l-4 11 8 1 5 1z"/>
<path fill="#0871de" d="M1226 962l-5 10 9 13 4-20z"/>
<path fill="#2053d4" d="M1071 1037l-4 0 8 6 4-10z"/>
<path fill="#0f5cdd" d="M1127 1015l-5 8 9 9 4-6z"/>
<path fill="#2053d4" d="M994 1037l-5 0 9 10 4 3z"/>
<path fill="#0363e1" d="M835 1009l-4-13 8 16 5-2z"/>
<path fill="#0f5cdd" d="M899 1023l-4-1 9 22 4-12zM946 1023l-4 15 9 7 4-7z"/>
<path fill="#06a4ca" d="M1303 783l-4 16 8 8 5-17z"/>
<path fill="#0363e1" d="M856 1001l-4 6 9 18 4-7z"/>
<path fill="#0f5cdd" d="M1152 1018l-4 2 9 5 4-12z"/>
<path fill="#0363e1" d="M878 1010l-4 13 8-4 4 7z"/>
<path fill="#71bf80" d="M1299 570l-4 120 8 5 5-119z"/>
<path fill="#0363e1" d="M1183 1000l-5 4 9 8 4-3z"/>
<path fill="#0f5cdd" d="M1097 1021l-5 4 9 20 4-11z"/>
<path fill="#15b1b4" d="M1312 701l-5 23 9 4 4-22z"/>
<path fill="#2c4ac7" d="M968 1044l-4-15 8 21 4-15z"/>
<path fill="#0f5cdd" d="M921 1026l-5 3 9 12 4-2z"/>
<path fill="#2053d4" d="M1067 1037l-5 1 9 10 4-5z"/>
<path fill="#0f5cdd" d="M1122 1023l-4 9 9-9 4 9z"/>
<path fill="#1481d6" d="M1277 894l-4 10 8 13 5-17z"/>
<path fill="#2053d4" d="M1015 1042l-4 0 8 7 5-4z"/>
<path fill="#0f5cdd" d="M1148 1020l-4 7 8 0 5-2z"/>
<path fill="#2053d4" d="M989 1037l-4 4 9 15 4-9z"/>
<path fill="#1485d4" d="M1281 882l-4 12 9 6 4-4z"/>
<path fill="#0363e1" d="M1178 1004l-4 8 8 9 5-9z"/>
<path fill="#1481d6" d="M1273 904l-4 9 8 0 4 4z"/>
<path fill="#06a7c6" d="M1307 765l-4 18 9 7 4-17z"/>
<path fill="#0f5cdd" d="M895 1022l-4 1 8 13 5 8z"/>
<path fill="#0363e1" d="M852 1007l-4 6 8 3 5 9z"/>
<path fill="#1389d3" d="M1286 868l-5 14 9 14 4-18z"/>
<path fill="#0f5cdd" d="M1092 1025l-4 11 9 0 4 9z"/>
<path fill="#127dd8" d="M1269 913l-5 7 9 11 4-18z"/>
<path fill="#0f5cdd" d="M964 1029l-5 15 9 5 4 1zM916 1029l-4 7 9-1 4 6z"/>
<path fill="#127dd8" d="M1264 920l-4 0 8 12 5-1z"/>
<path fill="#2053d4" d="M1118 1032l-4-7 8 15 5-17zM1062 1038l-4 2 9 8 4 0z"/>
<path fill="#0f5cdd" d="M874 1023l-5-13 9 13 4-4z"/>
<path fill="#108ed2" d="M1290 857l-4 11 8 10 5-13z"/>
<path fill="#2053d4" d="M1088 1036l-4 7 8 6 5-13z"/>
<path fill="#046de0" d="M1213 978l-5 9 9 7 4-14z"/>
<path fill="#0f5cdd" d="M1114 1025l-4 17 8 2 4-4z"/>
<path fill="#108ed2" d="M1294 850l-4 7 9 8 4-13z"/>
<path fill="#0363e1" d="M1174 1012l-4-6 8 12 4 3z"/>
<path fill="#2053d4" d="M1011 1042l-4 1 8 2 4 4z"/>
<path fill="#0c93d2" d="M1299 838l-5 12 9 2 4-10z"/>
<path fill="#0d75dc" d="M1251 942l-4 14 8 5 5-11z"/>
<path fill="#2053d4" d="M985 1041l-4 1 8 3 5 11z"/>
<path fill="#07a9c2" d="M1312 748l-5 17 9 8 4-19z"/>
<path fill="#1079da" d="M1256 935l-5 7 9 8 4-12z"/>
<path fill="#0268e1" d="M1208 987l-4 5 8 1 5 1z"/>
<path fill="#0871de" d="M1247 956l-4 6 8 1 4-2z"/>
<path fill="#127dd8" d="M1260 920l-4 15 8 3 4-6z"/>
<path fill="#2053d4" d="M938 1031l-4 8 8 9 4-12z"/>
<path fill="#0363e1" d="M848 1013l-4-3 8 15 4-9z"/>
<path fill="#2053d4" d="M1037 1034l-5 10 9 0 4-6zM1032 1044l-4 12 8-2 5-10zM1110 1042l-5-8 9 12 4-2z"/>
<path fill="#0998d1" d="M1303 819l-4 19 8 4 4-20z"/>
<path fill="#0363e1" d="M869 1010l-4 8 8 12 5-7z"/>
<path fill="#0f5cdd" d="M891 1023l-5 3 9 1 4 9z"/>
<path fill="#2053d4" d="M912 1036l-4-4 8 8 5-5zM1058 1040l-4 1 8 6 5 1z"/>
<path fill="#0871de" d="M1243 962l-5 7 9-3 4-3z"/>
<path fill="#2053d4" d="M1007 1043l-5 7 9 2 4-7zM934 1039l-5 0 9 5 4 4z"/>
<path fill="#0f5cdd" d="M1140 1023l-5 3 9 12 4-16z"/>
<path fill="#0871de" d="M1238 969l-4-4 9 23 4-22z"/>
<path fill="#0aacbe" d="M1316 728l-4 20 8 6 5-19z"/>
<path fill="#0363e1" d="M1170 1006l-5 4 9 13 4-5z"/>
<path fill="#0268e1" d="M1204 992l-4-4 8 11 4-6z"/>
<path fill="#0f5cdd" d="M865 1018l-4 7 8 4 4 1z"/>
<path fill="#2053d4" d="M955 1038l-4 7 8 14 5-13z"/>
<path fill="#0f5cdd" d="M1135 1026l-4 6 8 8 5-2z"/>
<path fill="#079ccf" d="M1307 807l-4 12 8 3 5-11z"/>
<path fill="#0871de" d="M1234 965l-4 20 8-5 5 8z"/>
<path fill="#0363e1" d="M844 1010l-5 2 9 6 4 7z"/>
<path fill="#2c4ac7" d="M1002 1050l-4-3 8 12 5-7z"/>
<path fill="#2053d4" d="M1105 1034l-4 11 8 6 5-5zM1054 1041l-5 12 9-5 4-1zM981 1042l-5-7 9 14 4-4zM908 1032l-4 12 8-7 4 3z"/>
<path fill="#0268e1" d="M1200 988l-5 13 9 6 4-8z"/>
<path fill="#0363e1" d="M1195 1001l-4 8 9 6 4-8zM1165 1010l-4 3 9 16 4-6z"/>
<path fill="#06a0cd" d="M1312 790l-5 17 9 4 4-15z"/>
<path fill="#0268e1" d="M1230 985l-5-1 9 6 4-10z"/>
<path fill="#2053d4" d="M1079 1033l-4 10 9 5 4-5zM976 1035l-4 15 9 12 4-13zM929 1039l-4 2 8 5 5-2z"/>
<path fill="#0f5cdd" d="M886 1026l-4-7 9 13 4-5z"/>
<path fill="#2c4ac7" d="M1049 1053l-4-15 9 31 4-21z"/>
<path fill="#2053d4" d="M998 1047l-4 9 8 5 4-2z"/>
<path fill="#0363e1" d="M1161 1013l-4 12 8 8 5-4z"/>
<path fill="#71bf80" d="M1308 576l-5 119 9 6 4-121z"/>
<path fill="#2053d4" d="M1075 1043l-4 5 8 9 5-9zM1131 1032l-4-9 8 23 4-6z"/>
<path fill="#0363e1" d="M1191 1009l-4 3 8-1 5 4z"/>
<path fill="#2053d4" d="M1024 1045l-5 4 9 8 4-3z"/>
<path fill="#15b1b4" d="M1320 706l-4 22 9 7 4-24z"/>
<path fill="#2053d4" d="M1101 1045l-4-9 8 14 4 1z"/>
<path fill="#1481d6" d="M1286 900l-5 17 9-3 4-6z"/>
<path fill="#0f5cdd" d="M861 1025l-5-9 9 12 4 1z"/>
<path fill="#2c4ac7" d="M972 1050l-4-1 8 6 5 7z"/>
<path fill="#046de0" d="M1225 984l-4-4 9 20 4-10z"/>
<path fill="#06a4ca" d="M1316 773l-4 17 8 6 4-17z"/>
<path fill="#1481d6" d="M1290 896l-4 4 8 8 4-16z"/>
<path fill="#127dd8" d="M1281 917l-4-4 9 11 4-10z"/>
<path fill="#0f5cdd" d="M1157 1025l-5 2 9 5 4 1z"/>
<path fill="#1389d3" d="M1294 878l-4 18 8-4 5-8z"/>
<path fill="#0363e1" d="M1187 1012l-5 9 9 1 4-11z"/>
<path fill="#0f5cdd" d="M882 1019l-4 4 8 18 5-9z"/>
<path fill="#046de0" d="M1221 980l-4 14 8 13 5-7z"/>
<path fill="#2053d4" d="M1071 1048l-4 0 8 6 4 3zM1045 1038l-4 6 8 16 5 9z"/>
<path fill="#1389d3" d="M1299 865l-5 13 9 6 4-11z"/>
<path fill="#0f5cdd" d="M1127 1023l-5 17 9 1 4 5z"/>
<path fill="#127dd8" d="M1277 913l-4 18 8-7 5 0z"/>
<path fill="#2c4ac7" d="M994 1056l-5-11 9 14 4 2z"/>
<path fill="#2053d4" d="M925 1041l-4-6 8 9 4 2z"/>
<path fill="#0f5cdd" d="M878 1023l-5 7 9 16 4-5z"/>
<path fill="#108ed2" d="M1303 852l-4 13 8 8 4-11z"/>
<path fill="#2053d4" d="M1097 1036l-5 13 9 2 4-1z"/>
<path fill="#2c4ac7" d="M1019 1049l-4-4 9 10 4 2z"/>
<path fill="#1079da" d="M1273 931l-5 1 9 1 4-9z"/>
<path fill="#07a9c2" d="M1320 754l-4 19 8 6 5-20z"/>
<path fill="#2053d4" d="M946 1036l-4 12 9 3 4-1z"/>
<path fill="#0363e1" d="M856 1016l-4 9 9 3 4 0z"/>
<path fill="#1079da" d="M1268 932l-4 6 9 12 4-17z"/>
<path fill="#0268e1" d="M1217 994l-5-1 9 6 4 8z"/>
<path fill="#0f5cdd" d="M1152 1027l-4-5 9 17 4-7z"/>
<path fill="#2053d4" d="M1041 1044l-5 10 9 14 4-8z"/>
<path fill="#2c4ac7" d="M968 1049l-4-3 8 12 4-3z"/>
<path fill="#2053d4" d="M1122 1040l-4 4 9-4 4 1zM899 1036l-4-9 8 22 5-9z"/>
<path fill="#0871de" d="M1255 961l-4 2 9 8 4-3z"/>
<path fill="#0c93d2" d="M1307 842l-4 10 8 10 5-22z"/>
<path fill="#0d75dc" d="M1260 950l-5 11 9 7 4-24z"/>
<path fill="#1079da" d="M1264 938l-4 12 8-6 5 6z"/>
<path fill="#2053d4" d="M1067 1048l-5-1 9 16 4-9z"/>
<path fill="#2c4ac7" d="M1092 1049l-4-6 8 17 5-9z"/>
<path fill="#2053d4" d="M1118 1044l-4 2 8 17 5-23z"/>
<path fill="#0f5cdd" d="M873 1030l-4-1 9 14 4 3zM852 1025l-4-7 8 25 5-15z"/>
<path fill="#2053d4" d="M942 1048l-4-4 8 14 5-7zM921 1035l-5 5 9 9 4-5zM964 1046l-5 13 9 8 4-9zM1015 1045l-4 7 8 12 5-9z"/>
<path fill="#0f5cdd" d="M1148 1022l-4 16 8 2 5-1z"/>
<path fill="#2c4ac7" d="M1036 1054l-4 0 9 12 4 2z"/>
<path fill="#0f5cdd" d="M1178 1018l-4 5 8 2 5-4z"/>
<path fill="#2053d4" d="M989 1045l-4 4 8 13 5-3z"/>
<path fill="#0998d1" d="M1311 822l-4 20 9-2 4-11z"/>
<path fill="#2053d4" d="M1144 1038l-5 2 9 11 4-11z"/>
<path fill="#0aacbe" d="M1325 735l-5 19 9 5 4-18z"/>
<path fill="#2053d4" d="M1088 1043l-4 5 8 21 4-9z"/>
<path fill="#0268e1" d="M1212 993l-4 6 9 4 4-4z"/>
<path fill="#2053d4" d="M1062 1047l-4 1 8 17 5-2z"/>
<path fill="#0871de" d="M1247 966l-4 22 8-3 4-18z"/>
<path fill="#2053d4" d="M1114 1046l-5 5 9-4 4 16z"/>
<path fill="#0871de" d="M1251 963l-4 3 8 1 5 4z"/>
<path fill="#2053d4" d="M985 1049l-4 13 8 8 4-8zM916 1040l-4-3 9 23 4-11z"/>
<path fill="#0268e1" d="M1243 988l-5-8 9 9 4-4z"/>
<path fill="#0f5cdd" d="M895 1027l-4 5 8 13 4 4z"/>
<path fill="#2c4ac7" d="M1011 1052l-5 7 9-3 4 8z"/>
<path fill="#079ccf" d="M1316 811l-5 11 9 7 4-12z"/>
<path fill="#0268e1" d="M1208 999l-4 8 8 4 5-8z"/>
<path fill="#0f5cdd" d="M1174 1023l-4 6 8 0 4-4z"/>
<path fill="#2053d4" d="M1058 1048l-4 21 8-1 4-3zM1139 1040l-4 6 9 6 4-1z"/>
<path fill="#0363e1" d="M1204 1007l-4 8 8 4 4-8z"/>
<path fill="#2053d4" d="M1084 1048l-5 9 9 6 4 6z"/>
<path fill="#0363e1" d="M848 1018l-5 1 9 15 4 9z"/>
<path fill="#2053d4" d="M938 1044l-5 2 9 7 4 5z"/>
<path fill="#06a0cd" d="M1320 796l-4 15 8 6 5-16z"/>
<path fill="#0f5cdd" d="M1170 1029l-5 4 9 8 4-12z"/>
<path fill="#2c4ac7" d="M1032 1054l-4 3 8 8 5 1zM981 1062l-5-7 9 14 4 1z"/>
<path fill="#0f5cdd" d="M869 1029l-4-1 8 7 5 8z"/>
<path fill="#046de0" d="M1238 980l-4 10 8 5 5-6z"/>
<path fill="#2c4ac7" d="M1006 1059l-4 2 9 9 4-14z"/>
<path fill="#0363e1" d="M1200 1015l-5-4 9 20 4-12z"/>
<path fill="#65be86" d="M1316 580l-4 121 8 5 5-117z"/>
<path fill="#0268e1" d="M1234 990l-4 10 8 3 4-8z"/>
<path fill="#2c4ac7" d="M1109 1051l-4-1 9 13 4-16z"/>
<path fill="#2053d4" d="M1135 1046l-4-5 8 22 5-11z"/>
<path fill="#0f5cdd" d="M891 1032l-5 9 9-2 4 6z"/>
<path fill="#15b1b4" d="M1329 711l-4 24 8 6 4-24z"/>
<path fill="#2053d4" d="M912 1037l-4 3 8 8 5 12z"/>
<path fill="#127dd8" d="M1290 914l-4 10 8 8 4-1z"/>
<path fill="#1481d6" d="M1294 908l-4 6 8 17 5-23z"/>
<path fill="#06a4ca" d="M1324 779l-4 17 9 5 4-16z"/>
<path fill="#0f5cdd" d="M1165 1033l-4-1 8 5 5 4z"/>
<path fill="#2053d4" d="M886 1041l-4 5 8 11 5-18z"/>
<path fill="#0268e1" d="M1230 1000l-5 7 9-8 4 4z"/>
<path fill="#2053d4" d="M955 1050l-4 1 8 21 4-10z"/>
<path fill="#1485d4" d="M1298 892l-4 16 9 0 4-5z"/>
<path fill="#2c4ac7" d="M1079 1057l-4-3 9 7 4 2zM1002 1061l-4-2 8 8 5 3z"/>
<path fill="#0363e1" d="M1195 1011l-4 11 8 0 5 9z"/>
<path fill="#2053d4" d="M933 1046l-4-2 9 11 4-2z"/>
<path fill="#0f5cdd" d="M865 1028l-4 0 8 21 4-14z"/>
<path fill="#1485d4" d="M1303 884l-5 8 9 11 4-17z"/>
<path fill="#2c4ac7" d="M1028 1057l-4-2 8 10 4 0z"/>
<path fill="#127dd8" d="M1286 924l-5 0 9 13 4-5z"/>
<path fill="#2c4ac7" d="M976 1055l-4 3 9 15 4-4z"/>
<path fill="#1389d3" d="M1307 873l-4 11 8 2 5-8z"/>
<path fill="#2053d4" d="M1105 1050l-4 1 8 3 5 9z"/>
<path fill="#0f5cdd" d="M1161 1032l-4 7 8 11 4-13z"/>
<path fill="#2053d4" d="M1131 1041l-4-1 8 18 4 5z"/>
<path fill="#108ed2" d="M1311 862l-4 11 9 5 4-18z"/>
<path fill="#2053d4" d="M882 1046l-4-3 8 8 4 6z"/>
<path fill="#2c4ac7" d="M1049 1060l-4 8 9 1 4-6z"/>
<path fill="#2053d4" d="M908 1040l-5 9 9 1 4-2z"/>
<path fill="#07a9c2" d="M1329 759l-5 20 9 6 4-20z"/>
<path fill="#2053d4" d="M951 1051l-5 7 9 8 4 6z"/>
<path fill="#0f5cdd" d="M1191 1022l-4-1 8 18 4-17zM861 1028l-5 15 9-5 4 11z"/>
<path fill="#2c4ac7" d="M998 1059l-5 3 9 19 4-14z"/>
<path fill="#1079da" d="M1268 944l-4 24 9 3 4-1z"/>
<path fill="#2c4ac7" d="M972 1058l-4 9 8 9 5-3z"/>
<path fill="#0d75dc" d="M1273 950l-5-6 9 26 4-22z"/>
<path fill="#127dd8" d="M1281 924l-4 9 8 7 5-3z"/>
<path fill="#2053d4" d="M929 1044l-4 5 8 11 5-5z"/>
<path fill="#1079da" d="M1277 933l-4 17 8-2 4-8z"/>
<path fill="#2c4ac7" d="M1024 1055l-5 9 9 7 4-6z"/>
<path fill="#0871de" d="M1264 968l-4 3 8 5 5-5z"/>
<path fill="#0c93d2" d="M1316 840l-5 22 9-2 4-5z"/>
<path fill="#0363e1" d="M1225 1007l-4-8 9 4 4-4z"/>
<path fill="#2053d4" d="M1127 1040l-5 23 9-1 4-4z"/>
<path fill="#2c4ac7" d="M1075 1054l-4 9 8-6 5 4z"/>
<path fill="#2053d4" d="M1157 1039l-5 1 9 4 4 6z"/>
<path fill="#0f5cdd" d="M1187 1021l-5 4 9 14 4 0z"/>
<path fill="#2053d4" d="M903 1049l-4-4 9 13 4-8zM1101 1051l-5 9 9-7 4 1z"/>
<path fill="#3243ba" d="M1045 1068l-4-2 8 1 5 2z"/>
<path fill="#2c4ac7" d="M993 1062l-4 8 9-2 4 13z"/>
<path fill="#0998d1" d="M1320 829l-4 11 8 15 5-20z"/>
<path fill="#2053d4" d="M925 1049l-4 11 8-6 4 6z"/>
<path fill="#0871de" d="M1260 971l-5-4 9 18 4-9z"/>
<path fill="#3243ba" d="M968 1067l-5-5 9 13 4 1z"/>
<path fill="#2c4ac7" d="M1071 1063l-5 2 9 1 4-9z"/>
<path fill="#0aacbe" d="M1333 741l-4 18 8 6 5-21z"/>
<path fill="#0268e1" d="M1221 999l-4 4 8 10 5-10z"/>
<path fill="#2c4ac7" d="M1096 1060l-4 9 9-12 4-4z"/>
<path fill="#2053d4" d="M856 1043l-4-9 8 6 5-2z"/>
<path fill="#0268e1" d="M1217 1003l-5 8 9 14 4-12z"/>
<path fill="#2053d4" d="M1152 1040l-4 11 8-5 5-2z"/>
<path fill="#0871de" d="M1255 967l-4 18 9 4 4-4z"/>
<path fill="#079ccf" d="M1324 817l-4 12 9 6 4-12z"/>
<path fill="#0f5cdd" d="M1182 1025l-4 4 9 10 4 0z"/>
<path fill="#2c4ac7" d="M1066 1065l-4 3 9 5 4-7z"/>
<path fill="#0363e1" d="M1212 1011l-4 8 9 1 4 5z"/>
<path fill="#2053d4" d="M1148 1051l-4 1 8 4 4-10z"/>
<path fill="#3243ba" d="M1092 1069l-4-6 8 6 5-12z"/>
<path fill="#046de0" d="M1251 985l-4 4 8-3 5 3z"/>
<path fill="#2c4ac7" d="M1041 1066l-5-1 9 9 4-7z"/>
<path fill="#06a0cd" d="M1329 801l-5 16 9 6 4-13z"/>
<path fill="#0f5cdd" d="M1178 1029l-4 12 8 6 5-8z"/>
<path fill="#2c4ac7" d="M921 1060l-5-12 9 12 4-6z"/>
<path fill="#0363e1" d="M1208 1019l-4 12 8 0 5-11z"/>
<path fill="#65be86" d="M1325 589l-5 117 9 5 4-117z"/>
<path fill="#2c4ac7" d="M963 1062l-4 10 9-1 4 4z"/>
<path fill="#046de0" d="M1247 989l-5 6 9 4 4-13z"/>
<path fill="#2053d4" d="M1144 1052l-5 11 9-12 4 5z"/>
<path fill="#0faeb9" d="M1337 717l-4 24 9 3 4-20z"/>
<path fill="#2053d4" d="M1174 1041l-5-4 9 12 4-2z"/>
<path fill="#2c4ac7" d="M1015 1056l-4 14 8 1 4-15z"/>
<path fill="#06a4ca" d="M1333 785l-4 16 8 9 4-20z"/>
<path fill="#1481d6" d="M1303 908l-5 23 9-7 4-4z"/>
<path fill="#0268e1" d="M1242 995l-4 8 9 1 4-5z"/>
<path fill="#1079da" d="M1298 931l-4 1 9 1 4-9z"/>
<path fill="#2053d4" d="M1118 1047l-4 16 8-7 4 0z"/>
<path fill="#1481d6" d="M1307 903l-4 5 8 12 4-11z"/>
<path fill="#2053d4" d="M942 1053l-4 2 8 8 5-1z"/>
<path fill="#3243ba" d="M1011 1070l-5-3 9 12 4-8z"/>
<path fill="#2c4ac7" d="M1036 1065l-4 0 9 10 4-1z"/>
<path fill="#0f5cdd" d="M873 1035l-4 14 9-6 4 4zM1204 1031l-5-9 9 11 4-2z"/>
<path fill="#2053d4" d="M895 1039l-5 18 9 0 4-9z"/>
<path fill="#1079da" d="M1294 932l-4 5 8 9 5-13z"/>
<path fill="#1485d4" d="M1311 886l-4 17 8 6 5-15z"/>
<path fill="#2c4ac7" d="M1088 1063l-4-2 8 2 4 6z"/>
<path fill="#3243ba" d="M985 1069l-4 4 8 0 4-5z"/>
<path fill="#0f5cdd" d="M1169 1037l-4 13 9 3 4-4z"/>
<path fill="#2c4ac7" d="M1139 1063l-4-5 9 5 4-12z"/>
<path fill="#0268e1" d="M1238 1003l-4-4 8 9 5-4z"/>
<path fill="#1389d3" d="M1316 878l-5 8 9 8 4-12z"/>
<path fill="#2c4ac7" d="M1114 1063l-5-9 9 8 4-6z"/>
<path fill="#1079da" d="M1290 937l-5 3 9 9 4-3z"/>
<path fill="#2c4ac7" d="M1006 1067l-4 14 9-5 4 3z"/>
<path fill="#2053d4" d="M869 1049l-4-11 8 23 5-18z"/>
<path fill="#2c4ac7" d="M938 1055l-5 5 9 9 4-6z"/>
<path fill="#0d75dc" d="M1281 948l-4 22 8-8 5 6z"/>
<path fill="#0363e1" d="M1199 1022l-4 17 9 0 4-6z"/>
<path fill="#2053d4" d="M916 1048l-4 2 8 3 5 7z"/>
<path fill="#1079da" d="M1285 940l-4 8 9 20 4-19z"/>
<path fill="#0871de" d="M1277 970l-4 1 8 8 4-17z"/>
<path fill="#06a7c6" d="M1337 765l-4 20 8 5 5-19z"/>
<path fill="#108ed2" d="M1320 860l-4 18 8 4 4-12z"/>
<path fill="#3243ba" d="M981 1073l-5 3 9-1 4-2z"/>
<path fill="#2c4ac7" d="M1058 1063l-4 6 8 2 4-1zM1032 1065l-4 6 8-2 5 6z"/>
<path fill="#0f5cdd" d="M1195 1039l-4 0 8 3 5-3z"/>
<path fill="#2c4ac7" d="M1135 1058l-4 4 8 3 5-2z"/>
<path fill="#108ed2" d="M1324 855l-4 5 8 10 5-13z"/>
<path fill="#0871de" d="M1273 971l-5 5 9 4 4-1z"/>
<path fill="#2053d4" d="M912 1050l-4 8 8 14 4-19z"/>
<path fill="#2c4ac7" d="M1084 1061l-5-4 9 18 4-12z"/>
<path fill="#0998d1" d="M1329 835l-5 20 9 2 4-14z"/>
<path fill="#2053d4" d="M1109 1054l-4-1 9 19 4-10z"/>
<path fill="#0f5cdd" d="M865 1038l-5 2 9 19 4 2z"/>
<path fill="#0871de" d="M1268 976l-4 9 8 6 5-11z"/>
<path fill="#0268e1" d="M1234 999l-4 4 8 3 4 2z"/>
<path fill="#3243ba" d="M1002 1081l-4-13 8 13 5-5z"/>
<path fill="#0363e1" d="M1225 1013l-4 12 8 7 5-10z"/>
<path fill="#2c4ac7" d="M933 1060l-4-6 9 11 4 4zM1079 1057l-4 9 8 16 5-7z"/>
<path fill="#046de0" d="M1264 985l-4 4 8 10 4-8z"/>
<path fill="#3243ba" d="M976 1076l-4-1 8 5 5-5z"/>
<path fill="#0268e1" d="M1230 1003l-5 10 9 9 4-16z"/>
<path fill="#2c4ac7" d="M1054 1069l-5-2 9 8 4-4z"/>
<path fill="#2053d4" d="M1191 1039l-4 0 8 7 4-4z"/>
<path fill="#2c4ac7" d="M955 1066l-4-4 8 14 4-10z"/>
<path fill="#0aacbe" d="M1342 744l-5 21 9 6 4-22z"/>
<path fill="#2c4ac7" d="M1131 1062l-5-6 9 15 4-6z"/>
<path fill="#079ccf" d="M1333 823l-4 12 8 8 4-15z"/>
<path fill="#2053d4" d="M886 1051l-4-4 8 11 5-8zM1105 1053l-4 4 8 14 5 1z"/>
<path fill="#3243ba" d="M1028 1071l-5-15 9 17 4-4z"/>
<path fill="#06a0cd" d="M1337 810l-4 13 8 5 5-16z"/>
<path fill="#046de0" d="M1260 989l-5-3 9 11 4 2z"/>
<path fill="#2c4ac7" d="M1075 1066l-4 7 8-8 4 17z"/>
<path fill="#2053d4" d="M1161 1044l-5 2 9 4 4-5zM929 1054l-4 6 8 11 5-6z"/>
<path fill="#3243ba" d="M972 1075l-4-4 8 15 4-6z"/>
<path fill="#0f5cdd" d="M1187 1039l-5 8 9-3 4 2z"/>
<path fill="#2c4ac7" d="M1049 1067l-4 7 8-1 5 2zM998 1068l-5 0 9 16 4-3zM951 1062l-5 1 9 9 4 4zM1101 1057l-5 12 9 1 4 1z"/>
<path fill="#2053d4" d="M1126 1056l-4 0 9 20 4-5zM1023 1056l-4 15 9 16 4-14zM1156 1046l-4 10 9 2 4-8z"/>
<path fill="#65be86" d="M1333 594l-4 117 8 6 5-120z"/>
<path fill="#2053d4" d="M1182 1047l-4 2 8 14 5-19zM882 1047l-4-4 8 19 4-4z"/>
<path fill="#046de0" d="M1255 986l-4 13 8 10 5-12z"/>
<path fill="#2053d4" d="M903 1048l-4 9 9 22 4-23z"/>
<path fill="#0363e1" d="M1217 1020l-5 11 9 9 4-20z"/>
<path fill="#0faeb9" d="M1346 724l-4 20 8 5 4-19z"/>
<path fill="#0f5cdd" d="M1212 1031l-4 2 9 11 4-4z"/>
<path fill="#3243ba" d="M1045 1074l-4 1 8 10 4-12z"/>
<path fill="#06a4ca" d="M1341 790l-4 20 9 2 4-17z"/>
<path fill="#0268e1" d="M1251 999l-4 5 8 5 4 0z"/>
<path fill="#1481d6" d="M1315 909l-4 11 9 5 4-16z"/>
<path fill="#2c4ac7" d="M946 1063l-4 6 8 21 5-18z"/>
<path fill="#127dd8" d="M1311 920l-4 4 8 5 5-4z"/>
<path fill="#2053d4" d="M1122 1056l-4 6 8 21 5-7z"/>
<path fill="#2c4ac7" d="M993 1068l-4 5 9 14 4-3z"/>
<path fill="#2053d4" d="M878 1043l-5 18 9 4 4-3zM1152 1056l-4-5 8 11 5-4z"/>
<path fill="#127dd8" d="M1303 933l-5 13 9 5 4-11z"/>
<path fill="#2c4ac7" d="M925 1060l-5-7 9 16 4 2z"/>
<path fill="#2053d4" d="M1178 1049l-4 4 8-1 4 11z"/>
<path fill="#1079da" d="M1294 949l-4 19 8 3 4-13z"/>
<path fill="#1485d4" d="M1320 894l-5 15 9 0 4-9z"/>
<path fill="#3243ba" d="M1071 1073l-5-3 9 4 4-9z"/>
<path fill="#1079da" d="M1298 946l-4 3 8 9 5-7z"/>
<path fill="#127dd8" d="M1307 924l-4 9 8 7 4-11z"/>
<path fill="#2053d4" d="M899 1057l-4-7 8 18 5 11z"/>
<path fill="#0871de" d="M1290 968l-5-6 9 16 4-7z"/>
<path fill="#1389d3" d="M1324 882l-4 12 8 6 5-7z"/>
<path fill="#2c4ac7" d="M942 1069l-4-4 8 24 4 1z"/>
<path fill="#3243ba" d="M1041 1075l-5-6 9 23 4-7z"/>
<path fill="#2c4ac7" d="M968 1071l-5-5 9 14 4 6z"/>
<path fill="#0268e1" d="M1247 1004l-5 4 9 6 4-5z"/>
<path fill="#0f5cdd" d="M1208 1033l-4 6 8 4 5 1z"/>
<path fill="#2053d4" d="M920 1053l-4 19 9 9 4-12z"/>
<path fill="#108ed2" d="M1328 870l-4 12 9 11 4-21z"/>
<path fill="#2c4ac7" d="M1066 1070l-4 1 9 18 4-15zM1118 1062l-4 10 8-3 4 14z"/>
<path fill="#06a7c6" d="M1346 771l-5 19 9 5 4-19z"/>
<path fill="#0d75dc" d="M1285 962l-4 17 9 1 4-2z"/>
<path fill="#2053d4" d="M1148 1051l-4 12 8-7 4 6z"/>
<path fill="#0c93d2" d="M1333 857l-5 13 9 2 4-6z"/>
<path fill="#3243ba" d="M1015 1079l-4-3 8 8 4-21z"/>
<path fill="#0871de" d="M1281 979l-4 1 8 7 5-7z"/>
<path fill="#2c4ac7" d="M1092 1063l-4 12 8 2 5-12zM1062 1071l-4 4 8 16 5-2z"/>
<path fill="#0268e1" d="M1242 1008l-4-2 9 13 4-5z"/>
<path fill="#3243ba" d="M1088 1075l-5 7 9-1 4-4z"/>
<path fill="#2c4ac7" d="M1036 1069l-4 4 8 21 5-2z"/>
<path fill="#3243ba" d="M1011 1076l-5 5 9 13 4-10z"/>
<path fill="#0f5cdd" d="M1204 1039l-5 3 9 2 4-1z"/>
<path fill="#0998d1" d="M1337 843l-4 14 8 9 5-20z"/>
<path fill="#2053d4" d="M1174 1053l-5-8 9 15 4-8z"/>
<path fill="#0268e1" d="M1238 1006l-4 16 8 8 5-11z"/>
<path fill="#2c4ac7" d="M1144 1063l-5 2 9 4 4-13z"/>
<path fill="#0871de" d="M1277 980l-5 11 9 2 4-6z"/>
<path fill="#2c4ac7" d="M938 1065l-5 6 9 12 4 6z"/>
<path fill="#2053d4" d="M895 1050l-5 8 9 8 4 2z"/>
<path fill="#2c4ac7" d="M1114 1072l-5-1 9 9 4-11z"/>
<path fill="#0363e1" d="M1234 1022l-5 10 9-9 4 7z"/>
<path fill="#046de0" d="M1272 991l-4 8 9-4 4-2z"/>
<path fill="#0aacbe" d="M1350 749l-4 22 8 5 5-21z"/>
<path fill="#2c4ac7" d="M1139 1065l-4 6 8-3 5 1zM1032 1073l-4 14 8 0 4 7z"/>
<path fill="#3243ba" d="M985 1075l-5 5 9-9 4 18z"/>
<path fill="#0998d1" d="M1341 828l-4 15 9 3 4-13z"/>
<path fill="#2c4ac7" d="M963 1066l-4 10 9-14 4 18z"/>
<path fill="#3243ba" d="M1006 1081l-4 3 8 4 5 6z"/>
<path fill="#0f5cdd" d="M1199 1042l-4 4 9 1 4-3z"/>
<path fill="#2053d4" d="M890 1058l-4 4 9 12 4-8z"/>
<path fill="#0268e1" d="M1268 999l-4-2 8 14 5-16z"/>
<path fill="#3243ba" d="M1058 1075l-5-2 9 11 4 7z"/>
<path fill="#2053d4" d="M912 1056l-4 23 8 6 4-18z"/>
<path fill="#2c4ac7" d="M1109 1071l-4-1 8 7 5 3z"/>
<path fill="#046de0" d="M1264 997l-5 12 9 3 4-1z"/>
<path fill="#3243ba" d="M959 1076l-4-4 8 20 5-30z"/>
<path fill="#06a0cd" d="M1346 812l-5 16 9 5 4-16z"/>
<path fill="#2053d4" d="M1169 1045l-4 5 9-1 4 11z"/>
<path fill="#2c4ac7" d="M1135 1071l-4 5 8-2 4-6z"/>
<path fill="#2053d4" d="M1195 1046l-4-2 8 15 5-12z"/>
<path fill="#2c4ac7" d="M933 1071l-4-2 8 11 5 3z"/>
<path fill="#3243ba" d="M980 1080l-4 6 9 0 4-15z"/>
<path fill="#2c4ac7" d="M955 1072l-5 18 9-14 4 16z"/>
<path fill="#65be86" d="M1342 597l-5 120 9 7 4-121z"/>
<path fill="#2c4ac7" d="M886 1062l-4 3 8 6 5 3z"/>
<path fill="#0268e1" d="M1259 1009l-4 0 9 7 4-4z"/>
<path fill="#0faeb9" d="M1354 730l-4 19 9 6 4-23z"/>
<path fill="#0f5cdd" d="M1191 1044l-5 19 9-14 4 10z"/>
<path fill="#3243ba" d="M1131 1076l-5 7 9-9 4 0zM1002 1084l-4 3 8-3 4 4z"/>
<path fill="#0f5cdd" d="M1221 1040l-4 4 8-2 4-1z"/>
<path fill="#2c4ac7" d="M1053 1073l-4 12 9 0 4-1z"/>
<path fill="#0363e1" d="M1225 1020l-4 20 8 1 5-14z"/>
<path fill="#2053d4" d="M1165 1050l-4 8 8 4 5-13z"/>
<path fill="#06a4ca" d="M1350 795l-4 17 8 5 4-15z"/>
<path fill="#2053d4" d="M1161 1058l-5 4 9 8 4-8z"/>
<path fill="#2c4ac7" d="M929 1069l-4 12 8 5 4-6z"/>
<path fill="#1079da" d="M1307 951l-5 7 9 8 4-9z"/>
<path fill="#1481d6" d="M1324 909l-4 16 8-2 5-4z"/>
<path fill="#0d75dc" d="M1302 958l-4 13 9 4 4-9z"/>
<path fill="#1079da" d="M1311 940l-4 11 8 6 5-15z"/>
<path fill="#127dd8" d="M1320 925l-5 4 9 5 4-11z"/>
<path fill="#0871de" d="M1298 971l-4 7 8 3 5-6z"/>
<path fill="#1485d4" d="M1328 900l-4 9 9 10 4-14z"/>
<path fill="#353dad" d="M950 1090l-4-1 9-4 4-9z"/>
<path fill="#3243ba" d="M1049 1085l-4 7 8-6 5-1z"/>
<path fill="#2c4ac7" d="M1079 1065l-4 9 8 11 5-7z"/>
<path fill="#1485d4" d="M1333 893l-5 7 9 5 4-12z"/>
<path fill="#127dd8" d="M1315 929l-4 11 9 2 4-8z"/>
<path fill="#0268e1" d="M1255 1009l-4 5 8 9 5-7z"/>
<path fill="#2c4ac7" d="M1186 1063l-4-11 9 14 4-17zM1105 1070l-4-5 8 12 4 0z"/>
<path fill="#2053d4" d="M1217 1044l-5-1 9 7 4-8z"/>
<path fill="#3243ba" d="M1126 1083l-4-14 9 21 4-16z"/>
<path fill="#108ed2" d="M1337 872l-4 21 8 0 4-9z"/>
<path fill="#0363e1" d="M1251 1014l-4 5 8 16 4-12z"/>
<path fill="#3243ba" d="M998 1087l-5 2 9 1 4-6z"/>
<path fill="#0871de" d="M1294 978l-4 2 8 8 4-7z"/>
<path fill="#2c4ac7" d="M1075 1074l-4 15 8-9 4 5z"/>
<path fill="#06a7c6" d="M1354 776l-4 19 8 7 5-20z"/>
<path fill="#0363e1" d="M1247 1019l-5 11 9 10 4-5z"/>
<path fill="#2c4ac7" d="M903 1068l-4-2 8 18 5-8zM1156 1062l-4-6 9 15 4-1z"/>
<path fill="#108ed2" d="M1341 866l-4 6 8 12 5-17z"/>
<path fill="#3243ba" d="M925 1081l-5-14 9 18 4 1z"/>
<path fill="#0871de" d="M1290 980l-5 7 9 10 4-9z"/>
<path fill="#2053d4" d="M1182 1052l-4 8 8 7 5-1z"/>
<path fill="#3243ba" d="M1071 1089l-5 2 9-3 4-8z"/>
<path fill="#0f5cdd" d="M1212 1043l-4 1 8 13 5-7z"/>
<path fill="#3243ba" d="M946 1089l-4-6 8 3 5-1z"/>
<path fill="#2c4ac7" d="M1023 1063l-4 21 9 7 4-11zM1101 1065l-5 12 9-1 4 1z"/>
<path fill="#0998d1" d="M1346 846l-5 20 9 1 4-11z"/>
<path fill="#3243ba" d="M1019 1084l-4 10 8-9 5 6z"/>
<path fill="#2c4ac7" d="M1122 1069l-4 11 8 2 5 8z"/>
<path fill="#046de0" d="M1285 987l-4 6 8 3 5 1z"/>
<path fill="#2053d4" d="M1152 1056l-4 13 8 4 5-2z"/>
<path fill="#2c4ac7" d="M899 1066l-4 8 8 4 4 6z"/>
<path fill="#3243ba" d="M972 1080l-4-18 8 34 4-15z"/>
<path fill="#0f5cdd" d="M1242 1030l-4-7 8 13 5 4z"/>
<path fill="#2c4ac7" d="M920 1067l-4 18 9 8 4-8z"/>
<path fill="#07a9c2" d="M1359 755l-5 21 9 6 4-21z"/>
<path fill="#3243ba" d="M1096 1077l-4 4 8-2 5-3z"/>
<path fill="#2053d4" d="M968 1062l-5 30 9 5 4-1z"/>
<path fill="#0998d1" d="M1350 833l-4 13 8 10 4-18z"/>
<path fill="#0f5cdd" d="M1208 1044l-4 3 8 6 4 4z"/>
<path fill="#2053d4" d="M1178 1060l-4-11 8 22 4-4z"/>
<path fill="#3243ba" d="M1066 1091l-4-7 8 6 5-2z"/>
<path fill="#046de0" d="M1277 995l-5 16 9 7 4-14zM1281 993l-4 2 8 9 4-8z"/>
<path fill="#2c4ac7" d="M1148 1069l-5-1 9 9 4-4z"/>
<path fill="#353dad" d="M1015 1094l-5-6 9 6 4-9z"/>
<path fill="#3243ba" d="M942 1083l-5-3 9 9 4-3z"/>
<path fill="#0268e1" d="M1272 1011l-4 1 9 2 4 4z"/>
<path fill="#079ccf" d="M1354 817l-4 16 8 5 5-14z"/>
<path fill="#2053d4" d="M1204 1047l-5 12 9-1 4-5zM1174 1049l-5 13 9 17 4-8z"/>
<path fill="#2c4ac7" d="M895 1074l-5-3 9 9 4-2z"/>
<path fill="#3243ba" d="M1062 1084l-4 1 8 23 4-18z"/>
<path fill="#65be86" d="M1350 603l-4 121 8 6 5-121z"/>
<path fill="#3243ba" d="M1010 1088l-4-4 9 27 4-17z"/>
<path fill="#0363e1" d="M1238 1023l-4 4 8 11 4-2z"/>
<path fill="#2c4ac7" d="M1143 1068l-4 6 9 7 4-4z"/>
<path fill="#2053d4" d="M1169 1062l-4 8 8 7 5 2z"/>
<path fill="#0363e1" d="M1234 1027l-5 14 9 7 4-10z"/>
<path fill="#0faeb9" d="M1363 732l-4 23 8 6 4-22z"/>
<path fill="#0268e1" d="M1268 1012l-4 4 8 8 5-10z"/>
<path fill="#2c4ac7" d="M989 1071l-4 15 8 4 4-6z"/>
<path fill="#06a4ca" d="M1358 802l-4 15 9 7 4-18z"/>
<path fill="#0d75dc" d="M1311 966l-4 9 8 12 4-14z"/>
<path fill="#0f5cdd" d="M1229 1041l-4 1 9 14 4-8z"/>
<path fill="#3243ba" d="M937 1080l-4 6 9 3 4 0z"/>
<path fill="#2053d4" d="M1199 1059l-4-10 8 17 5-8z"/>
<path fill="#0d75dc" d="M1315 957l-4 9 8 7 5-14z"/>
<path fill="#3243ba" d="M1088 1078l-5 7 9 8 4-17z"/>
<path fill="#127dd8" d="M1324 934l-4 8 8 11 4-6z"/>
<path fill="#0268e1" d="M1264 1016l-5 7 9 7 4-6z"/>
<path fill="#1485d4" d="M1337 905l-4 14 8 0 4-4z"/>
<path fill="#1079da" d="M1320 942l-5 15 9 2 4-6z"/>
<path fill="#3243ba" d="M1058 1085l-5 1 9 9 4 13z"/>
<path fill="#0871de" d="M1307 975l-5 6 9 3 4 3z"/>
<path fill="#1481d6" d="M1328 923l-4 11 8 13 5-19z"/>
<path fill="#3243ba" d="M1006 1084l-4 6 8 11 5 10z"/>
<path fill="#2c4ac7" d="M1139 1074l-4 0 8 8 5-1z"/>
<path fill="#3243ba" d="M985 1086l-5-5 9 17 4-8z"/>
<path fill="#1481d6" d="M1333 919l-5 4 9 5 4-9z"/>
<path fill="#1389d3" d="M1341 893l-4 12 8 10 5-17z"/>
<path fill="#2053d4" d="M1195 1049l-4 17 8 6 4-6z"/>
<path fill="#2c4ac7" d="M1113 1077l-4 0 9 10 4-15z"/>
<path fill="#3243ba" d="M1036 1087l-4-7 8 6 5-3z"/>
<path fill="#0f5cdd" d="M1225 1042l-4 8 8 6 5 0z"/>
<path fill="#0363e1" d="M1259 1023l-4 12 9-4 4-1z"/>
<path fill="#2c4ac7" d="M1165 1070l-4 1 8 6 4 0z"/>
<path fill="#3243ba" d="M1083 1085l-4-5 9 17 4-4z"/>
<path fill="#2c4ac7" d="M912 1076l-5 8 9-7 4 13z"/>
<path fill="#0871de" d="M1302 981l-4 7 9 10 4-14z"/>
<path fill="#1389d3" d="M1345 884l-4 9 9 5 4-10z"/>
<path fill="#0f5cdd" d="M1255 1035l-4 5 8 2 5-11z"/>
<path fill="#2c4ac7" d="M1135 1074l-4 16 8-3 4-5z"/>
<path fill="#06a7c6" d="M1363 782l-5 20 9 4 4-21z"/>
<path fill="#3243ba" d="M980 1081l-4 15 9 0 4 2zM1032 1080l-4 11 8 6 4-11z"/>
<path fill="#2c4ac7" d="M1109 1077l-4-1 8 15 5-4z"/>
<path fill="#046de0" d="M1298 988l-4 9 8-3 5 4z"/>
<path fill="#2053d4" d="M1221 1050l-5 7 9 4 4-5z"/>
<path fill="#108ed2" d="M1350 867l-5 17 9 4 4-17z"/>
<path fill="#2c4ac7" d="M959 1076l-4 9 8-1 4 3z"/>
<path fill="#3243ba" d="M1131 1090l-5-8 9 17 4-12z"/>
<path fill="#2c4ac7" d="M1161 1071l-5 2 9 8 4-4z"/>
<path fill="#3243ba" d="M907 1084l-4-6 9 19 4-20zM1053 1086l-4 3 9 8 4-2z"/>
<path fill="#046de0" d="M1294 997l-5-1 9 14 4-16z"/>
<path fill="#3243ba" d="M1002 1090l-5-6 9 20 4-3z"/>
<path fill="#0c93d2" d="M1354 856l-4 11 8 4 5-14z"/>
<path fill="#2c4ac7" d="M1079 1080l-4 8 8-2 5 11z"/>
<path fill="#3243ba" d="M929 1085l-4 8 8-1 4-10zM955 1085l-5 1 9 3 4-5z"/>
<path fill="#046de0" d="M1289 996l-4 8 9 9 4-3z"/>
<path fill="#2c4ac7" d="M1105 1076l-5 3 9 11 4 1z"/>
<path fill="#07a9c2" d="M1367 761l-4 21 8 3 5-18z"/>
<path fill="#0998d1" d="M1358 838l-4 18 9 1 4-11z"/>
<path fill="#2c4ac7" d="M903 1078l-4 2 8 17 5 0z"/>
<path fill="#3243ba" d="M1019 1094l-4 17 8 2 4-3z"/>
<path fill="#2c4ac7" d="M1156 1073l-4 4 9 5 4-1z"/>
<path fill="#3243ba" d="M925 1093l-5-3 9 12 4-10z"/>
<path fill="#2c4ac7" d="M1186 1067l-4 4 9-2 4-13z"/>
<path fill="#0268e1" d="M1285 1004l-4 14 8-7 5 2z"/>
<path fill="#3243ba" d="M1075 1088l-5 2 9 12 4-16zM1023 1085l-4 9 8 16 5-22z"/>
<path fill="#2c4ac7" d="M1182 1071l-4 8 8-5 5-5z"/>
<path fill="#3243ba" d="M1126 1082l-4-10 8 19 5 8zM950 1086l-4 3 9 3 4-3z"/>
<path fill="#353dad" d="M972 1097l-5-10 9 19 4-11z"/>
<path fill="#079ccf" d="M1363 824l-5 14 9 8 4-20z"/>
<path fill="#0f5cdd" d="M1246 1036l-4 2 9 11 4-16z"/>
<path fill="#3243ba" d="M1070 1090l-4 18 9-17 4 11zM997 1084l-4 6 9 4 4 10z"/>
<path fill="#0268e1" d="M1281 1018l-4-4 8 8 4-11z"/>
<path fill="#0f5cdd" d="M1242 1038l-4 10 8 4 5-3z"/>
<path fill="#65be86" d="M1359 609l-5 121 9 2 4-117z"/>
<path fill="#2c4ac7" d="M1100 1079l-4-3 9 14 4 0zM1152 1077l-4 4 8-1 5 2z"/>
<path fill="#2053d4" d="M1212 1053l-4 5 8 5 5-9z"/>
<path fill="#0f5cdd" d="M1238 1048l-4 8 8 8 4-12z"/>
<path fill="#0faeb9" d="M1371 739l-4 22 9 6 4-22z"/>
<path fill="#0268e1" d="M1277 1014l-5 10 9 6 4-8z"/>
<path fill="#0363e1" d="M1272 1024l-4 6 8 10 5-10z"/>
<path fill="#2053d4" d="M1234 1056l-5 0 9 12 4-4z"/>
<path fill="#2c4ac7" d="M1096 1076l-4 17 8 6 5-9z"/>
<path fill="#06a0cd" d="M1367 806l-4 18 8 2 5-16z"/>
<path fill="#3243ba" d="M946 1089l-4 0 8 3 5 0z"/>
<path fill="#0d75dc" d="M1319 973l-4 14 9-1 4-14z"/>
<path fill="#2c4ac7" d="M1122 1072l-4 15 8 11 4-7z"/>
<path fill="#2053d4" d="M1208 1058l-5 8 9-5 4 2z"/>
<path fill="#1079da" d="M1332 947l-4 6 9 2 4-11z"/>
<path fill="#3243ba" d="M1092 1093l-4 4 8 7 4-5z"/>
<path fill="#1079da" d="M1328 953l-4 6 8 7 5-11z"/>
<path fill="#2c4ac7" d="M1148 1081l-5 1 9 9 4-11z"/>
<path fill="#0d75dc" d="M1324 959l-5 14 9-1 4-6z"/>
<path fill="#127dd8" d="M1337 928l-5 19 9-3 4-9z"/>
<path fill="#2c4ac7" d="M1203 1066l-4 6 9 5 4-16z"/>
<path fill="#1485d4" d="M1350 898l-5 17 9 0 4-9z"/>
<path fill="#1481d6" d="M1345 915l-4 4 9 4 4-8z"/>
<path fill="#3243ba" d="M993 1090l-4 8 8-8 5 4z"/>
<path fill="#1481d6" d="M1341 919l-4 9 8 7 5-12z"/>
<path fill="#0363e1" d="M1268 1030l-4 1 8 7 4 2z"/>
<path fill="#3243ba" d="M1118 1087l-5 4 9 2 4 5zM1045 1083l-5 3 9 6 4-3z"/>
<path fill="#2c4ac7" d="M1173 1077l-4 0 9 11 4-17z"/>
<path fill="#1389d3" d="M1354 888l-4 10 8 8 4-17z"/>
<path fill="#3243ba" d="M1143 1082l-4 5 9 5 4-1zM942 1089l-5-7 9 23 4-13z"/>
<path fill="#06a7c6" d="M1371 785l-4 21 9 4 4-18z"/>
<path fill="#2053d4" d="M1229 1056l-4 5 8 2 5 5z"/>
<path fill="#0871de" d="M1311 984l-4 14 8 6 4-29z"/>
<path fill="#2c4ac7" d="M916 1077l-4 20 8 5 4-6z"/>
<path fill="#0363e1" d="M1264 1031l-5 11 9 3 4-7z"/>
<path fill="#3243ba" d="M1040 1086l-4 11 9-2 4-3z"/>
<path fill="#108ed2" d="M1358 871l-4 17 8 1 5-10z"/>
<path fill="#353dad" d="M1010 1101l-4 3 9 5 4-9z"/>
<path fill="#3243ba" d="M1139 1087l-4 12 8-2 5-5z"/>
<path fill="#2c4ac7" d="M1169 1077l-4 4 8-3 5 10zM937 1082l-4 10 9 16 4-3z"/>
<path fill="#3243ba" d="M1113 1091l-4-1 9 5 4-2z"/>
<path fill="#0c93d2" d="M1363 857l-5 14 9 8 4-15z"/>
<path fill="#0268e1" d="M1298 1010l-4 3 8 11 4-20z"/>
<path fill="#046de0" d="M1302 994l-4 16 8-6 5-4z"/>
<path fill="#353dad" d="M1036 1097l-4-9 8 13 5-6z"/>
<path fill="#3243ba" d="M933 1092l-4 10 8 6 5 0zM963 1084l-4 5 8 11 5-9z"/>
<path fill="#0f5cdd" d="M1259 1042l-4-9 8 12 5 0z"/>
<path fill="#3243ba" d="M985 1096l-5-1 9 15 4-18zM1032 1088l-5 22 9 5 4-14z"/>
<path fill="#0998d1" d="M1367 846l-4 11 8 7 4-15z"/>
<path fill="#3243ba" d="M1083 1086l-4 16 8 3 5-1z"/>
<path fill="#0268e1" d="M1294 1013l-5-2 9 16 4-3z"/>
<path fill="#07a9c2" d="M1376 767l-5 18 9 7 4-25z"/>
<path fill="#3243ba" d="M980 1095l-4 11 8 4 5 0z"/>
<path fill="#2c4ac7" d="M1165 1081l-4 1 8 2 4-6z"/>
<path fill="#3243ba" d="M959 1089l-4 3 8 11 4-3zM1109 1090l-4 0 8 12 5-7z"/>
<path fill="#0363e1" d="M1255 1033l-4 16 8 5 4-9z"/>
<path fill="#2053d4" d="M1195 1056l-4 13 8 10 4-12z"/>
<path fill="#079ccf" d="M1371 826l-4 20 8 3 5-14z"/>
<path fill="#0f5cdd" d="M1251 1049l-5 3 9 7 4-5z"/>
<path fill="#0268e1" d="M1289 1011l-4 11 9 7 4-2z"/>
<path fill="#59bd8c" d="M1367 615l-4 117 8 7 5-117z"/>
<path fill="#2053d4" d="M1221 1054l-5 9 9 8 4-10z"/>
<path fill="#0363e1" d="M1285 1022l-4 8 8 6 5-7z"/>
<path fill="#2c4ac7" d="M1191 1069l-5 5 9-4 4 9z"/>
<path fill="#3243ba" d="M1105 1090l-5 9 9 0 4 3zM1130 1091l-4 7 9 2 4-6z"/>
<path fill="#2053d4" d="M1216 1063l-4-2 9 25 4-15z"/>
<path fill="#0f5cdd" d="M1246 1052l-4 12 9-6 4 1z"/>
<path fill="#2c4ac7" d="M1161 1082l-5-2 9 5 4-1z"/>
<path fill="#0faeb9" d="M1380 745l-4 22 8 0 4-18z"/>
<path fill="#3243ba" d="M955 1092l-5 0 9 6 4 5z"/>
<path fill="#06a0cd" d="M1376 810l-5 16 9 9 4-19z"/>
<path fill="#0363e1" d="M1281 1030l-5 10 9-6 4 2z"/>
<path fill="#1481d6" d="M1350 923l-5 12 9 6 4-2z"/>
<path fill="#127dd8" d="M1345 935l-4 9 8 12 5-15zM1341 944l-4 11 8 4 4-3z"/>
<path fill="#3243ba" d="M1053 1089l-4 3 8 19 5-20zM1075 1091l-5 6 9 23 4-17z"/>
<path fill="#1079da" d="M1337 955l-5 11 9 2 4-9z"/>
<path fill="#1485d4" d="M1354 915l-4 8 8 16 4-22z"/>
<path fill="#2c4ac7" d="M1156 1080l-4 11 8 1 5-7zM1186 1074l-4-3 8 17 5-18z"/>
<path fill="#2053d4" d="M1212 1061l-4 16 8-6 5 15z"/>
<path fill="#1389d3" d="M1362 889l-4 17 9 5 4-6z"/>
<path fill="#0d75dc" d="M1332 966l-4 6 9 5 4-9z"/>
<path fill="#3243ba" d="M1002 1094l-5-4 9 12 4 0z"/>
<path fill="#1485d4" d="M1358 906l-4 9 8 2 5-6z"/>
<path fill="#3243ba" d="M950 1092l-4 13 8 1 5-8z"/>
<path fill="#2c4ac7" d="M1182 1071l-4 17 8-1 4 1z"/>
<path fill="#0d75dc" d="M1328 972l-4 14 8-5 5-4z"/>
<path fill="#0f5cdd" d="M1276 1040l-4-2 9 5 4-9z"/>
<path fill="#3243ba" d="M1049 1092l-4 3 8 14 4 2z"/>
<path fill="#06a7c6" d="M1380 792l-4 18 8 6 4-19z"/>
<path fill="#108ed2" d="M1367 879l-5 10 9 16 4-24z"/>
<path fill="#0871de" d="M1324 986l-5-11 9 23 4-17z"/>
<path fill="#3243ba" d="M972 1091l-5 9 9 20 4-16z"/>
<path fill="#0d75dc" d="M1319 975l-4 29 9-8 4 2z"/>
<path fill="#3243ba" d="M1070 1097l-4-2 9 11 4 14z"/>
<path fill="#0363e1" d="M1272 1038l-4 7 8 0 5-2z"/>
<path fill="#046de0" d="M1315 1004l-4-4 8 3 5-7z"/>
<path fill="#2c4ac7" d="M1208 1077l-5-10 9 12 4-8z"/>
<path fill="#3243ba" d="M1122 1093l-4 2 8 9 4-5zM1019 1100l-4 9 8-2 4-4zM997 1090l-4 2 9 10 4 0z"/>
<path fill="#0c93d2" d="M1371 864l-4 15 8 2 5-15z"/>
<path fill="#0f5cdd" d="M1268 1045l-5 0 9 16 4-16z"/>
<path fill="#3243ba" d="M1045 1095l-5 6 9 3 4 5z"/>
<path fill="#046de0" d="M1306 1004l-4 20 9 4 4-18z"/>
<path fill="#3243ba" d="M993 1092l-4 18 8 3 5-11z"/>
<path fill="#0363e1" d="M1302 1024l-4 3 8-3 5 4z"/>
<path fill="#353dad" d="M1040 1101l-4 14 8 0 5-11z"/>
<path fill="#3243ba" d="M1118 1095l-5 7 9 10 4-8z"/>
<path fill="#0998d1" d="M1375 849l-4 15 9 2 4-8z"/>
<path fill="#0f5cdd" d="M1263 1045l-4 9 9 5 4 2z"/>
<path fill="#046de0" d="M1311 1000l-5 4 9 6 4-7z"/>
<path fill="#07a9c2" d="M1384 767l-4 25 8 5 5-22z"/>
<path fill="#2053d4" d="M1233 1063l-4-2 9 15 4-14z"/>
<path fill="#2c4ac7" d="M1173 1078l-4 6 9 5 4 9z"/>
<path fill="#2053d4" d="M1203 1067l-4 12 9-2 4 2z"/>
<path fill="#079ccf" d="M1380 835l-5 14 9 9 4-19z"/>
<path fill="#0363e1" d="M1298 1027l-4 2 8 6 4-11z"/>
<path fill="#0f5cdd" d="M1259 1054l-4 5 8 6 5-6z"/>
<path fill="#2053d4" d="M1229 1061l-4 10 8 3 5 2z"/>
<path fill="#3243ba" d="M1066 1095l-4-4 8 15 5 0z"/>
<path fill="#2c4ac7" d="M1199 1079l-4-9 8 28 5-21z"/>
<path fill="#59bd8c" d="M1376 622l-5 117 9 6 4-120z"/>
<path fill="#2053d4" d="M1225 1071l-4 15 8-8 4-4z"/>
<path fill="#0363e1" d="M1294 1029l-5 7 9 0 4-1z"/>
<path fill="#3243ba" d="M1062 1091l-5 20 9 4 4-9z"/>
<path fill="#2053d4" d="M1255 1059l-4-1 8 11 4-4z"/>
<path fill="#0faeb9" d="M1388 749l-4 18 9 8 4-21z"/>
<path fill="#06a0cd" d="M1384 816l-4 19 8 4 5-21z"/>
<path fill="#1079da" d="M1349 956l-4 3 9 7 4-3z"/>
<path fill="#2053d4" d="M1195 1070l-5 18 9-5 4 15z"/>
<path fill="#127dd8" d="M1354 941l-5 15 9 7 4-24zM1358 939l-4 2 8-2 5-1z"/>
<path fill="#1485d4" d="M1362 917l-4 22 9-1 4-14z"/>
<path fill="#0363e1" d="M1289 1036l-4-2 8 9 5-7z"/>
<path fill="#1485d4" d="M1371 905l-4 6 8 3 5-9z"/>
<path fill="#2c4ac7" d="M1165 1085l-5 7 9 1 4 5z"/>
<path fill="#1079da" d="M1345 959l-4 9 8 1 5-3z"/>
<path fill="#0d75dc" d="M1341 968l-4 9 8 8 4-16z"/>
<path fill="#1485d4" d="M1367 911l-5 6 9 7 4-10z"/>
<path fill="#0871de" d="M1332 981l-4 17 8 10 5-21z"/>
<path fill="#046de0" d="M1328 998l-4-2 8 11 4 1z"/>
<path fill="#0363e1" d="M1285 1034l-4 9 8 9 4-9z"/>
<path fill="#0d75dc" d="M1337 977l-5 4 9 6 4-2z"/>
<path fill="#2053d4" d="M1251 1058l-5-2 9 14 4-1z"/>
<path fill="#108ed2" d="M1375 881l-4 24 9 0 4-19z"/>
<path fill="#0f5cdd" d="M1281 1043l-5 2 9 18 4-11z"/>
<path fill="#06a4ca" d="M1388 797l-4 19 9 2 4-17z"/>
<path fill="#2053d4" d="M1216 1071l-4 8 8 12 5-9z"/>
<path fill="#0f5cdd" d="M1276 1045l-4 16 9-7 4 9z"/>
<path fill="#0871de" d="M1324 996l-5 7 9 4 4 0z"/>
<path fill="#0c93d2" d="M1380 866l-5 15 9 5 4-13z"/>
<path fill="#046de0" d="M1315 1010l-4 18 8 4 5-15z"/>
<path fill="#0f5cdd" d="M1246 1056l-4 6 8 7 5 1z"/>
<path fill="#0363e1" d="M1311 1028l-5-4 9 10 4-2z"/>
<path fill="#07a9c2" d="M1393 775l-5 22 9 4 4-19z"/>
<path fill="#046de0" d="M1319 1003l-4 7 9 7 4-10z"/>
<path fill="#0998d1" d="M1384 858l-4 8 8 7 4-15z"/>
<path fill="#2053d4" d="M1242 1062l-4 14 8-1 4-6z"/>
<path fill="#353dad" d="M1075 1106l-5 0 9 10 4-17z"/>
<path fill="#079ccf" d="M1388 839l-4 19 8 0 5-15z"/>
<path fill="#2053d4" d="M1268 1059l-5 6 9 12 4-20z"/>
<path fill="#0268e1" d="M1306 1024l-4 11 9 4 4-5z"/>
<path fill="#0363e1" d="M1302 1035l-4 1 8 22 5-19z"/>
<path fill="#353dad" d="M1070 1106l-4 9 8 2 5-1z"/>
<path fill="#59bd8c" d="M1384 625l-4 120 8 4 5-120z"/>
<path fill="#0363e1" d="M1298 1036l-5 7 9 8 4 7z"/>
<path fill="#0aacbe" d="M1397 754l-4 21 8 7 4-24z"/>
<path fill="#1079da" d="M1358 963l-4 3 8 6 4-6z"/>
<path fill="#127dd8" d="M1362 939l-4 24 8 3 5-9z"/>
<path fill="#1481d6" d="M1371 924l-4 14 8 10 4-11z"/>
<path fill="#127dd8" d="M1367 938l-5 1 9 18 4-9z"/>
<path fill="#06a0cd" d="M1393 818l-5 21 9 4 4-20z"/>
<path fill="#1485d4" d="M1375 914l-4 10 8 13 5-15z"/>
<path fill="#0363e1" d="M1293 1043l-4 9 9 7 4-8z"/>
<path fill="#1079da" d="M1354 966l-5 3 9 9 4-6z"/>
<path fill="#0f5cdd" d="M1289 1052l-4 11 8 4 5-8z"/>
<path fill="#0d75dc" d="M1349 969l-4 16 9 0 4-7z"/>
<path fill="#1389d3" d="M1380 905l-5 9 9 8 4-19z"/>
<path fill="#0871de" d="M1345 985l-4 2 8 10 5-12zM1341 987l-5 21 9-9 4-2z"/>
<path fill="#046de0" d="M1336 1008l-4-1 9 6 4-14z"/>
<path fill="#06a4ca" d="M1397 801l-4 17 8 5 4-18z"/>
<path fill="#108ed2" d="M1384 886l-4 19 8-2 4-11z"/>
<path fill="#046de0" d="M1332 1007l-4 0 8 18 5-12z"/>
<path fill="#3243ba" d="M1014 1104l-4 4 9 3 4 1z"/>
<path fill="#046de0" d="M1328 1007l-4 10 8 11 4-3z"/>
<path fill="#0c93d2" d="M1388 873l-4 13 8 6 5-10z"/>
<path fill="#0268e1" d="M1324 1017l-5 15 9-3 4-1z"/>
<path fill="#07a9c2" d="M1401 782l-4 19 8 4 5-19z"/>
<path fill="#0998d1" d="M1392 858l-4 15 9 9 4-20z"/>
<path fill="#0f5cdd" d="M1281 1054l-5 3 9 27 4-27zM1276 1057l-4 20 8-4 5 11z"/>
<path fill="#3243ba" d="M984 1102l-4 8 9-1 4 13z"/>
<path fill="#0363e1" d="M1315 1034l-4 5 8 14 4-26zM1311 1039l-5 19 9-18 4 13z"/>
<path fill="#079ccf" d="M1397 843l-5 15 9 4 4-19z"/>
<path fill="#59bd8c" d="M1393 629l-5 120 9 5 4-119z"/>
<path fill="#1079da" d="M1371 957l-5 9 9 4 4-10z"/>
<path fill="#127dd8" d="M1375 948l-4 9 8 3 5-13z"/>
<path fill="#0aacbe" d="M1405 758l-4 24 9 4 4-23z"/>
<path fill="#0f5cdd" d="M1306 1058l-4-7 8 6 5-17z"/>
<path fill="#1079da" d="M1366 966l-4 6 9 7 4-9z"/>
<path fill="#1481d6" d="M1379 937l-4 11 9-1 4-12z"/>
<path fill="#0d75dc" d="M1362 972l-4 6 8 12 5-11z"/>
<path fill="#1485d4" d="M1384 922l-5 15 9-2 4-8z"/>
<path fill="#06a0cd" d="M1401 823l-4 20 8 0 5-14z"/>
<path fill="#0d75dc" d="M1358 978l-4 7 8 11 4-6z"/>
<path fill="#0f5cdd" d="M1302 1051l-4 8 8-4 4 2z"/>
<path fill="#1389d3" d="M1388 903l-4 19 8 5 5-17z"/>
<path fill="#0d75dc" d="M1354 985l-5 12 9-3 4 2z"/>
<path fill="#0871de" d="M1349 997l-4 2 8 14 5-19zM1345 999l-4 14 8 3 4-3z"/>
<path fill="#06a4ca" d="M1405 805l-4 18 9 6 4-18z"/>
<path fill="#046de0" d="M1341 1013l-5 12 9-8 4-1z"/>
<path fill="#108ed2" d="M1392 892l-4 11 9 7 4-17z"/>
<path fill="#0268e1" d="M1336 1025l-4 3 9-3 4-8z"/>
<path fill="#108ed2" d="M1397 882l-5 10 9 1 4-10z"/>
<path fill="#0268e1" d="M1332 1028l-4 1 8 13 5-17z"/>
<path fill="#0f5cdd" d="M1289 1057l-4 27 8-12 5-1z"/>
<path fill="#07a9c2" d="M1410 786l-5 19 9 6 4-21z"/>
<path fill="#0998d1" d="M1401 862l-4 20 8 1 4-15z"/>
<path fill="#0268e1" d="M1328 1029l-5-2 9 14 4 1zM1323 1027l-4 26 9-7 4-5z"/>
<path fill="#079ccf" d="M1405 843l-4 19 8 6 5-13z"/>
<path fill="#59bd8c" d="M1401 635l-4 119 8 4 5-118z"/>
<path fill="#0f5cdd" d="M1319 1053l-4-13 8 16 5-10z"/>
<path fill="#0aacbe" d="M1414 763l-4 23 8 4 4-22z"/>
<path fill="#1079da" d="M1379 960l-4 10 9 1 4-6z"/>
<path fill="#0d75dc" d="M1371 979l-5 11 9 6 4-19z"/>
<path fill="#0871de" d="M1366 990l-4 6 9-3 4 3z"/>
<path fill="#127dd8" d="M1384 947l-5 13 9 5 4-17z"/>
<path fill="#1079da" d="M1375 970l-4 9 8-2 5-6z"/>
<path fill="#06a0cd" d="M1410 829l-5 14 9 12 4-22z"/>
<path fill="#0363e1" d="M1315 1040l-5 17 9 1 4-2z"/>
<path fill="#1481d6" d="M1388 935l-4 12 8 1 4-5z"/>
<path fill="#1485d4" d="M1392 927l-4 8 8 8 5-18z"/>
<path fill="#0871de" d="M1362 996l-4-2 8 11 5-12z"/>
<path fill="#0f5cdd" d="M1310 1057l-4-2 9 3 4 0z"/>
<path fill="#0871de" d="M1358 994l-5 19 9 1 4-9z"/>
<path fill="#046de0" d="M1353 1013l-4 3 9 5 4-7z"/>
<path fill="#1389d3" d="M1397 910l-5 17 9-2 4-13z"/>
<path fill="#06a4ca" d="M1414 811l-4 18 8 4 4-17z"/>
<path fill="#0f5cdd" d="M1306 1055l-4 8 8 11 5-16z"/>
<path fill="#108ed2" d="M1401 893l-4 17 8 2 4-12z"/>
<path fill="#046de0" d="M1349 1016l-4 1 8 4 5 0z"/>
<path fill="#0268e1" d="M1341 1025l-5 17 9 8 4-20z"/>
<path fill="#108ed2" d="M1405 883l-4 10 8 7 5-16z"/>
<path fill="#07a9c2" d="M1418 790l-4 21 8 5 5-19z"/>
<path fill="#046de0" d="M1345 1017l-4 8 8 5 4-9z"/>
<path fill="#0998d1" d="M1409 868l-4 15 9 1 4-12zM1414 855l-5 13 9 4 4-17z"/>
<path fill="#0363e1" d="M1328 1046l-5 10 9 8 4-7zM1332 1041l-4 5 8 11 4-19z"/>
<path fill="#59bd8c" d="M1410 640l-5 118 9 5 4-119z"/>
<path fill="#0aacbe" d="M1422 768l-4 22 9 7 4-24z"/>
<path fill="#06a0cd" d="M1418 833l-4 22 8 0 5-14z"/>
<path fill="#1079da" d="M1379 977l-4 19 8 1 5-13z"/>
<path fill="#127dd8" d="M1392 948l-4 17 8-3 5-2z"/>
<path fill="#1481d6" d="M1396 943l-4 5 9 12 4-15z"/>
<path fill="#0871de" d="M1375 996l-4-3 8 9 4-5z"/>
<path fill="#1079da" d="M1388 965l-4 6 8 1 4-10zM1384 971l-5 6 9 7 4-12z"/>
<path fill="#1485d4" d="M1401 925l-5 18 9 2 4-13z"/>
<path fill="#0871de" d="M1371 993l-5 12 9 7 4-10zM1366 1005l-4 9 8 3 5-5z"/>
<path fill="#1389d3" d="M1405 912l-4 13 8 7 5-11z"/>
<path fill="#06a4ca" d="M1422 816l-4 17 9 8 4-23z"/>
<path fill="#046de0" d="M1362 1014l-4 7 8 0 4-4z"/>
<path fill="#108ed2" d="M1409 900l-4 12 9 9 4-14z"/>
<path fill="#0268e1" d="M1349 1030l-4 20 8 1 5-7z"/>
<path fill="#046de0" d="M1358 1021l-5 0 9 13 4-13z"/>
<path fill="#0c93d2" d="M1414 884l-5 16 9 7 4-12z"/>
<path fill="#046de0" d="M1353 1021l-4 9 9 14 4-10z"/>
<path fill="#06a7c6" d="M1427 797l-5 19 9 2 4-19z"/>
<path fill="#0c93d2" d="M1418 872l-4 12 8 11 5-20z"/>
<path fill="#59bd8c" d="M1418 644l-4 119 8 5 5-119z"/>
<path fill="#079ccf" d="M1422 855l-4 17 9 3 4-17z"/>
<path fill="#0268e1" d="M1340 1038l-4 19 9-2 4-12z"/>
<path fill="#0aacbe" d="M1431 773l-4 24 8 2 5-23z"/>
<path fill="#06a0cd" d="M1427 841l-5 14 9 3 4-17z"/>
<path fill="#1079da" d="M1392 972l-4 12 8 3 5 1z"/>
<path fill="#127dd8" d="M1396 962l-4 10 9 16 4-19z"/>
<path fill="#1481d6" d="M1405 945l-4 15 8-7 4-5z"/>
<path fill="#0d75dc" d="M1388 984l-5 13 9-4 4-6z"/>
<path fill="#127dd8" d="M1401 960l-5 2 9 7 4-16z"/>
<path fill="#0871de" d="M1383 997l-4 5 9 4 4-13zM1379 1002l-4 10 8 1 5-7z"/>
<path fill="#1485d4" d="M1409 932l-4 13 8 3 5-17z"/>
<path fill="#046de0" d="M1375 1012l-5 5 9 4 4-8z"/>
<path fill="#06a4ca" d="M1431 818l-4 23 8 0 4-14z"/>
<path fill="#1485d4" d="M1414 921l-5 11 9-1 4-9z"/>
<path fill="#1389d3" d="M1418 907l-4 14 8 1 4-9z"/>
<path fill="#046de0" d="M1370 1017l-4 4 9 5 4-5z"/>
<path fill="#108ed2" d="M1422 895l-4 12 8 6 5-15z"/>
<path fill="#046de0" d="M1366 1021l-4 13 8-4 5-4z"/>
<path fill="#0268e1" d="M1362 1034l-4 10 8-13 4-1z"/>
<path fill="#0363e1" d="M1358 1044l-5 7 9 0 4-20z"/>
<path fill="#0c93d2" d="M1427 875l-5 20 9 3 4-15z"/>
<path fill="#06a7c6" d="M1435 799l-4 19 8 9 5-23z"/>
<path fill="#0268e1" d="M1349 1043l-4 12 8 12 4-11z"/>
<path fill="#59bd8c" d="M1427 649l-5 119 9 5 4-120z"/>
<path fill="#079ccf" d="M1431 858l-4 17 8 8 4-19z"/>
<path fill="#0aacbe" d="M1440 776l-5 23 9 5 4-22z"/>
<path fill="#0d75dc" d="M1401 988l-5-1 9 7 4-9z"/>
<path fill="#1079da" d="M1405 969l-4 19 8-3 4-16z"/>
<path fill="#06a0cd" d="M1435 841l-4 17 8 6 5-17z"/>
<path fill="#0d75dc" d="M1396 987l-4 6 8 9 5-8z"/>
<path fill="#1481d6" d="M1413 948l-4 5 9 11 4-8z"/>
<path fill="#0d75dc" d="M1392 993l-4 13 8 3 4-7z"/>
<path fill="#1485d4" d="M1418 931l-5 17 9 8 4-13z"/>
<path fill="#1481d6" d="M1409 953l-4 16 8 0 5-5z"/>
<path fill="#0871de" d="M1388 1006l-5 7 9 5 4-9zM1383 1013l-4 8 9 4 4-7z"/>
<path fill="#06a4ca" d="M1439 827l-4 14 9 6 4-17z"/>
<path fill="#1389d3" d="M1422 922l-4 9 8 12 5-13zM1426 913l-4 9 9 8 4-14z"/>
<path fill="#046de0" d="M1379 1021l-4 5 8 9 5-10z"/>
<path fill="#108ed2" d="M1431 898l-5 15 9 3 4-14z"/>
<path fill="#046de0" d="M1375 1026l-5 4 9 1 4 4z"/>
<path fill="#06a7c6" d="M1444 804l-5 23 9 3 4-24z"/>
<path fill="#0c93d2" d="M1435 883l-4 15 8 4 5-17z"/>
<path fill="#046de0" d="M1370 1030l-4 1 9 16 4-16zM1366 1031l-4 20 8-8 5 4z"/>
<path fill="#0363e1" d="M1362 1051l-5 5 9 3 4-16z"/>
<path fill="#4dbc92" d="M1435 653l-4 120 9 3 4-118z"/>
<path fill="#0998d1" d="M1439 864l-4 19 9 2 4-20z"/>
<path fill="#0aacbe" d="M1448 782l-4 22 8 2 5-21z"/>
<path fill="#06a0cd" d="M1444 847l-5 17 9 1 4-16z"/>
<path fill="#0d75dc" d="M1405 994l-5 8 9 5 4-12z"/>
<path fill="#1079da" d="M1409 985l-4 9 8 1 5-13z"/>
<path fill="#127dd8" d="M1422 956l-4 8 8 6 5-20z"/>
<path fill="#0871de" d="M1400 1002l-4 7 9 4 4-6z"/>
<path fill="#1481d6" d="M1426 943l-4 13 9-6 4-1z"/>
<path fill="#127dd8" d="M1418 964l-5 5 9 3 4-2z"/>
<path fill="#1485d4" d="M1431 930l-5 13 9 6 4-15z"/>
<path fill="#127dd8" d="M1413 969l-4 16 9-3 4-10z"/>
<path fill="#0871de" d="M1396 1009l-4 9 8-1 5-4z"/>
<path fill="#06a4ca" d="M1448 830l-4 17 8 2 4-18z"/>
<path fill="#046de0" d="M1388 1025l-5 10 9 4 4-13zM1392 1018l-4 7 8 1 4-9z"/>
<path fill="#1389d3" d="M1435 916l-4 14 8 4 4-19z"/>
<path fill="#0268e1" d="M1383 1035l-4-4 8 13 5-5z"/>
<path fill="#108ed2" d="M1439 902l-4 14 8-1 5-9z"/>
<path fill="#046de0" d="M1379 1031l-4 16 8-1 4-2z"/>
<path fill="#06a7c6" d="M1452 806l-4 24 8 1 5-22z"/>
<path fill="#0c93d2" d="M1444 885l-5 17 9 4 4-21z"/>
<path fill="#4dbc92" d="M1444 658l-4 118 8 6 4-119z"/>
<path fill="#079ccf" d="M1448 865l-4 20 8 0 4-13z"/>
<path fill="#0268e1" d="M1370 1043l-4 16 9-6 4-11z"/>
<path fill="#0aacbe" d="M1457 785l-5 21 9 3 4-22z"/>
<path fill="#06a0cd" d="M1452 849l-4 16 8 7 5-23z"/>
<path fill="#0d75dc" d="M1413 995l-4 12 8-1 5-4z"/>
<path fill="#127dd8" d="M1426 970l-4 2 8 8 5-11z"/>
<path fill="#1079da" d="M1418 982l-5 13 9 7 4-14z"/>
<path fill="#1481d6" d="M1431 950l-5 20 9-1 4-12z"/>
<path fill="#127dd8" d="M1422 972l-4 10 8 6 4-8z"/>
<path fill="#1485d4" d="M1439 934l-4 15 8-7 5-4z"/>
<path fill="#1481d6" d="M1435 949l-4 1 8 7 4-15z"/>
<path fill="#0871de" d="M1409 1007l-4 6 8-9 4 2zM1405 1013l-5 4 9 13 4-26zM1400 1017l-4 9 9 3 4 1z"/>
<path fill="#0268e1" d="M1392 1039l-5 5 9 7 4-8z"/>
<path fill="#046de0" d="M1396 1026l-4 13 8 4 5-14z"/>
<path fill="#1389d3" d="M1443 915l-4 19 9 4 4-18z"/>
<path fill="#06a4ca" d="M1456 831l-4 18 9 0 4-14z"/>
<path fill="#108ed2" d="M1448 906l-5 9 9 5 4-18z"/>
<path fill="#06a7c6" d="M1461 809l-5 22 9 4 4-19z"/>
<path fill="#0c93d2" d="M1452 885l-4 21 8-4 5-15z"/>
<path fill="#4dbc92" d="M1452 663l-4 119 9 3 4-117z"/>
<path fill="#0998d1" d="M1456 872l-4 13 9 2 4-9z"/>
<path fill="#0aacbe" d="M1465 787l-4 22 8 7 5-24z"/>
<path fill="#06a0cd" d="M1461 849l-5 23 9 6 4-19z"/>
<path fill="#0d75dc" d="M1422 1002l-5 4 9 10 4-16z"/>
<path fill="#1079da" d="M1430 980l-4 8 9 1 4-4zM1426 988l-4 14 8-2 5-11z"/>
<path fill="#127dd8" d="M1435 969l-5 11 9 5 4-17z"/>
<path fill="#0d75dc" d="M1417 1006l-4-2 9 21 4-9z"/>
<path fill="#1481d6" d="M1439 957l-4 12 8-1 5-11z"/>
<path fill="#0d75dc" d="M1413 1004l-4 26 8-9 5 4z"/>
<path fill="#1485d4" d="M1443 942l-4 15 9 0 4-12zM1448 938l-5 4 9 3 4-8z"/>
<path fill="#046de0" d="M1409 1030l-4-1 8 1 4-9zM1405 1029l-5 14 9 4 4-17z"/>
<path fill="#06a4ca" d="M1465 835l-4 14 8 10 4-24z"/>
<path fill="#1389d3" d="M1452 920l-4 18 8-1 4-24z"/>
<path fill="#06a7c6" d="M1469 816l-4 19 8 0 5-20z"/>
<path fill="#0c93d2" d="M1456 902l-4 18 8-7 5-10z"/>
<path fill="#4dbc92" d="M1461 668l-4 117 8 2 4-117z"/>
<path fill="#0998d1" d="M1461 887l-5 15 9 1 4-13zM1465 878l-4 9 8 3 4-17z"/>
<path fill="#0aacbe" d="M1474 792l-5 24 9-1 4-20z"/>
<path fill="#079ccf" d="M1469 859l-4 19 8-5 5-17z"/>
<path fill="#1079da" d="M1439 985l-4 4 8 11 4-12z"/>
<path fill="#0871de" d="M1426 1016l-4 9 8-5 5-3z"/>
<path fill="#127dd8" d="M1443 968l-4 17 8 3 5-9z"/>
<path fill="#0d75dc" d="M1430 1000l-4 16 9 1 4-17z"/>
<path fill="#1079da" d="M1435 989l-5 11 9 0 4 0z"/>
<path fill="#0871de" d="M1422 1025l-5-4 9 10 4-11z"/>
<path fill="#1481d6" d="M1448 957l-5 11 9 11 4-19z"/>
<path fill="#1485d4" d="M1452 945l-4 12 8 3 4-7zM1456 937l-4 8 8 8 5-14z"/>
<path fill="#0871de" d="M1417 1021l-4 9 9 8 4-7z"/>
<path fill="#06a4ca" d="M1473 835l-4 24 9-3 4-18z"/>
<path fill="#046de0" d="M1413 1030l-4 17 8-10 5 1z"/>
<path fill="#108ed2" d="M1460 913l-4 24 9 2 4-21z"/>
<path fill="#06a7c6" d="M1478 815l-5 20 9 3 4-19z"/>
<path fill="#0c93d2" d="M1465 903l-5 10 9 5 4-11z"/>
<path fill="#4dbc92" d="M1469 670l-4 117 9 5 4-121z"/>
<path fill="#0998d1" d="M1469 890l-4 13 8 4 5-20z"/>
<path fill="#079ccf" d="M1473 873l-4 17 9-3 4-7z"/>
<path fill="#0aacbe" d="M1482 795l-4 20 8 4 5-25z"/>
<path fill="#06a0cd" d="M1478 856l-5 17 9 7 4-19z"/>
<path fill="#0d75dc" d="M1443 1000l-4 0 8 5 5-12z"/>
<path fill="#127dd8" d="M1452 979l-5 9 9-10 4-2z"/>
<path fill="#1079da" d="M1447 988l-4 12 9-7 4-15z"/>
<path fill="#0d75dc" d="M1439 1000l-4 17 8-5 4-7z"/>
<path fill="#1481d6" d="M1456 960l-4 19 8-3 5-16z"/>
<path fill="#0871de" d="M1435 1017l-5 3 9-2 4-6z"/>
<path fill="#1485d4" d="M1460 953l-4 7 9 0 4-2zM1465 939l-5 14 9 5 4-16z"/>
<path fill="#0871de" d="M1430 1020l-4 11 8-4 5-9z"/>
<path fill="#06a4ca" d="M1482 838l-4 18 8 5 5-23z"/>
<path fill="#108ed2" d="M1469 918l-4 21 8 3 4-15z"/>
<path fill="#0c93d2" d="M1473 907l-4 11 8 9 5-16z"/>
<path fill="#06a7c6" d="M1486 819l-4 19 9 0 4-21z"/>
<path fill="#4dbc92" d="M1478 671l-4 121 8 3 4-122z"/>
<path fill="#0998d1" d="M1478 887l-5 20 9 4 4-15zM1482 880l-4 7 8 9 4-16z"/>
<path fill="#0aacbe" d="M1491 794l-5 25 9-2 4-23z"/>
<path fill="#06a0cd" d="M1486 861l-4 19 8 0 5-20z"/>
<path fill="#1079da" d="M1452 993l-5 12 9-1 4 1z"/>
<path fill="#0d75dc" d="M1447 1005l-4 7 9 6 4-14z"/>
<path fill="#1389d3" d="M1473 942l-4 16 8-3 5-2z"/>
<path fill="#127dd8" d="M1460 976l-4 2 8 7 5-2zM1456 978l-4 15 8 12 4-20z"/>
<path fill="#1481d6" d="M1465 960l-5 16 9 7 4-20z"/>
<path fill="#0d75dc" d="M1443 1012l-4 6 8 4 5-4zM1439 1018l-5 9 9 13 4-18z"/>
<path fill="#1481d6" d="M1469 958l-4 2 8 3 4-8z"/>
<path fill="#108ed2" d="M1477 927l-4 15 9 11 4-24z"/>
<path fill="#06a4ca" d="M1491 838l-5 23 9-1 4-17z"/>
<path fill="#0c93d2" d="M1482 911l-5 16 9 2 4-15z"/>
<path fill="#07a9c2" d="M1495 817l-4 21 8 5 4-23z"/>
<path fill="#0998d1" d="M1486 896l-4 15 8 3 5-19z"/>
<path fill="#4dbc92" d="M1486 673l-4 122 9-1 4-118z"/>
<path fill="#079ccf" d="M1490 880l-4 16 9-1 4-11z"/>
<path fill="#0aacbe" d="M1499 794l-4 23 8 3 5-21z"/>
<path fill="#06a0cd" d="M1495 860l-5 20 9 4 4-19z"/>
<path fill="#1079da" d="M1460 1005l-4-1 8 5 5-9z"/>
<path fill="#127dd8" d="M1464 985l-4 20 9-5 4-12z"/>
<path fill="#1485d4" d="M1482 953l-5 2 9 8 4-13z"/>
<path fill="#1079da" d="M1456 1004l-4 14 8 3 4-12z"/>
<path fill="#0d75dc" d="M1452 1018l-5 4 9 7 4-8z"/>
<path fill="#0871de" d="M1447 1022l-4 18 8-3 5-8z"/>
<path fill="#1481d6" d="M1473 963l-4 20 8-7 5-2z"/>
<path fill="#127dd8" d="M1469 983l-5 2 9 3 4-12z"/>
<path fill="#1485d4" d="M1477 955l-4 8 9 11 4-11z"/>
<path fill="#108ed2" d="M1486 929l-4 24 8-3 5-25z"/>
<path fill="#06a4ca" d="M1499 843l-4 17 8 5 5-20z"/>
<path fill="#0c93d2" d="M1490 914l-4 15 9-4 4-10z"/>
<path fill="#07a9c2" d="M1503 820l-4 23 9 2 4-23z"/>
<path fill="#0998d1" d="M1495 895l-5 19 9 1 4-18z"/>
<path fill="#4dbc92" d="M1495 676l-4 118 8 0 4-117z"/>
<path fill="#079ccf" d="M1499 884l-4 11 8 2 4-16z"/>
<path fill="#0aacbe" d="M1508 799l-5 21 9 2 4-21z"/>
<path fill="#06a0cd" d="M1503 865l-4 19 8-3 5-15z"/>
<path fill="#1485d4" d="M1486 963l-4 11 8-4 4-10z"/>
<path fill="#127dd8" d="M1473 988l-4 12 8-3 5-3z"/>
<path fill="#1481d6" d="M1482 974l-5 2 9 5 4-11zM1477 976l-4 12 9 6 4-13z"/>
<path fill="#1079da" d="M1464 1009l-4 12 9-2 4-13z"/>
<path fill="#1485d4" d="M1490 950l-4 13 8-3 5-13z"/>
<path fill="#1079da" d="M1469 1000l-5 9 9-3 4-9z"/>
<path fill="#06a4ca" d="M1508 845l-5 20 9 1 4-21z"/>
<path fill="#108ed2" d="M1495 925l-5 25 9-3 4-10z"/>
<path fill="#0c93d2" d="M1499 915l-4 10 8 12 4-18z"/>
<path fill="#07a9c2" d="M1512 822l-4 23 8 0 4-20z"/>
<path fill="#0998d1" d="M1503 897l-4 18 8 4 5-17z"/>
<path fill="#59bd8c" d="M1503 677l-4 117 9 5 4-120z"/>
<path fill="#079ccf" d="M1507 881l-4 16 9 5 4-19z"/>
<path fill="#0aacbe" d="M1516 801l-4 21 8 3 5-24z"/>
<path fill="#1481d6" d="M1490 970l-4 11 8 4 5-6zM1486 981l-4 13 8 0 4-9z"/>
<path fill="#06a0cd" d="M1512 866l-5 15 9 2 4-17z"/>
<path fill="#1485d4" d="M1494 960l-4 10 9 9 4-12z"/>
<path fill="#1079da" d="M1473 1006l-4 13 8 5 4-10z"/>
<path fill="#127dd8" d="M1482 994l-5 3 9-1 4-2z"/>
<path fill="#1389d3" d="M1499 947l-5 13 9 7 4-21z"/>
<path fill="#127dd8" d="M1477 997l-4 9 8 8 5-18z"/>
<path fill="#06a7c6" d="M1516 845l-4 21 8 0 5-15z"/>
<path fill="#1389d3" d="M1503 937l-4 10 8-1 5-12z"/>
<path fill="#71bf80" d="M238 643l-5-7 9 12 4 5z"/>
<path fill="#0c93d2" d="M1507 919l-4 18 9-3 4-18z"/>
<path fill="#07a9c2" d="M1520 825l-4 20 9 6 4-27z"/>
<path fill="#0998d1" d="M1512 902l-5 17 9-3 4-11z"/>
<path fill="#59bd8c" d="M1512 679l-4 120 8 2 4-121z"/>
<path fill="#71bf80" d="M233 636l-4-6 9 11 4 7z"/>
<path fill="#079ccf" d="M1516 883l-4 19 8 3 4-18z"/>
<path fill="#0faeb9" d="M1525 801l-5 24 9-1 4-20z"/>
<path fill="#06a0cd" d="M1520 866l-4 17 8 4 5-20z"/>
<path fill="#1485d4" d="M1503 967l-4 12 8-6 4-12z"/>
<path fill="#1481d6" d="M1499 979l-5 6 9-6 4-6z"/>
<path fill="#127dd8" d="M1486 996l-5 18 9 5 4-18z"/>
<path fill="#1481d6" d="M1494 985l-4 9 9 1 4-16z"/>
<path fill="#127dd8" d="M1490 994l-4 2 8 5 5-6z"/>
<path fill="#7cbf7b" d="M229 630l-4-5 8 9 5 7z"/>
<path fill="#1389d3" d="M1507 946l-4 21 8-6 5-12z"/>
<path fill="#06a4ca" d="M1525 851l-5 15 9 1 4-23z"/>
<path fill="#108ed2" d="M1512 934l-5 12 9 3 4-18z"/>
<path fill="#0c93d2" d="M396 918l-4-3 8 8 4 12z"/>
<path fill="#71bf80" d="M242 648l-4-7 8 13 4 8z"/>
<path fill="#0c93d2" d="M1516 916l-4 18 8-3 4-15z"/>
<path fill="#07a9c2" d="M1529 824l-4 27 8-7 4-19z"/>
<path fill="#0998d1" d="M1520 905l-4 11 8 0 5-10z"/>
<path fill="#59bd8c" d="M1520 680l-4 121 9 0 4-118z"/>
<path fill="#7cbf7b" d="M225 625l-4-8 8 11 4 6z"/>
<path fill="#079ccf" d="M1524 887l-4 18 9 1 4-22z"/>
<path fill="#0faeb9" d="M1533 804l-4 20 8 1 5-20z"/>
<path fill="#06a0cd" d="M1529 867l-5 20 9-3 4-16z"/>
<path fill="#87bf77" d="M221 617l-5-7 9 10 4 8z"/>
<path fill="#1481d6" d="M1503 979l-4 16 8-2 4-7z"/>
<path fill="#108ed2" d="M404 935l-4-12 9 13 4 4z"/>
<path fill="#127dd8" d="M1499 995l-5 6 9-3 4-5z"/>
<path fill="#1485d4" d="M1507 973l-4 6 8 7 5-18zM1511 961l-4 12 9-5 4-3z"/>
<path fill="#1389d3" d="M1516 949l-5 12 9 4 4-17z"/>
<path fill="#06a7c6" d="M1533 844l-4 23 8 1 5-18z"/>
<path fill="#7cbf7b" d="M233 634l-4-6 9 13 4 7z"/>
<path fill="#108ed2" d="M1520 931l-4 18 8-1 5-14z"/>
<path fill="#0c93d2" d="M1524 916l-4 15 9 3 4-19z"/>
<path fill="#87bf77" d="M216 610l-4-9 8 11 5 8z"/>
<path fill="#07a9c2" d="M1537 825l-4 19 9 6 4-21z"/>
<path fill="#59bd8c" d="M1529 683l-4 118 8 3 5-121z"/>
<path fill="#0998d1" d="M1529 906l-5 10 9-1 4-14z"/>
<path fill="#7cbf7b" d="M229 628l-4-8 8 14 5 7z"/>
<path fill="#06a0cd" d="M1533 884l-4 22 8-5 5-16z"/>
<path fill="#0faeb9" d="M1542 805l-5 20 9 4 4-24z"/>
<path fill="#3243ba" d="M1335 1150l-4 23 8-14 5 17z"/>
<path fill="#06a4ca" d="M1537 868l-4 16 9 1 4-17z"/>
<path fill="#92bf73" d="M212 601l-4-9 8 11 4 9z"/>
<path fill="#1481d6" d="M1511 986l-4 7 9 5 4-18z"/>
<path fill="#06a0cd" d="M362 875l-5-4 9 8 4 8z"/>
<path fill="#1485d4" d="M1516 968l-5 18 9-6 4-15z"/>
<path fill="#1389d3" d="M1524 948l-4 17 8-9 5-6z"/>
<path fill="#06a7c6" d="M1542 850l-5 18 9 0 4-19z"/>
<path fill="#1485d4" d="M1520 965l-4 3 8-3 4-9z"/>
<path fill="#87bf77" d="M225 620l-5-8 9 13 4 9z"/>
<path fill="#108ed2" d="M1529 934l-5 14 9 2 4-19z"/>
<path fill="#71bf80" d="M238 641l-5-7 9 11 4 11z"/>
<path fill="#079ccf" d="M374 891l-4-4 9 12 4 11z"/>
<path fill="#0998d1" d="M1533 915l-4 19 8-3 4-15z"/>
<path fill="#07a9c2" d="M1546 829l-4 21 8-1 4-23z"/>
<path fill="#59bd8c" d="M1538 683l-5 121 9 1 4-119z"/>
<path fill="#06a4ca" d="M357 871l-4-12 9 16 4 4z"/>
<path fill="#079ccf" d="M1537 901l-4 14 8 1 5-19z"/>
<path fill="#87bf77" d="M220 612l-4-9 9 12 4 10z"/>
<path fill="#0faeb9" d="M1550 805l-4 24 8-3 5-23z"/>
<path fill="#06a0cd" d="M1542 885l-5 16 9-4 4-14zM370 887l-4-8 8 14 5 6z"/>
<path fill="#7cbf7b" d="M233 634l-4-9 8 12 5 8z"/>
<path fill="#71bf80" d="M246 656l-4-11 8 19 5 8z"/>
<path fill="#353dad" d="M1344 1176l-5-17 9 0 4 0z"/>
<path fill="#59bd8c" d="M259 679l-4-7 8 18 4 9z"/>
<path fill="#06a4ca" d="M1546 868l-4 17 8-2 4-17z"/>
<path fill="#2eb7a4" d="M285 736l-5-10 9 17 4 9z"/>
<path fill="#0c93d2" d="M400 927l-4-9 8 13 5 6z"/>
<path fill="#0998d1" d="M383 910l-4-11 8 11 4 11z"/>
<path fill="#25b5a9" d="M297 761l-4-9 9 18 4 9z"/>
<path fill="#1485d4" d="M430 967l-4-1 8 3 5 9zM1520 980l-4 18 8-12 4-17z"/>
<path fill="#9cbf6f" d="M208 592l-5-59 9 8 4 62z"/>
<path fill="#06a7c6" d="M1550 849l-4 19 8-2 5-21z"/>
<path fill="#07a9c2" d="M336 836l-4-9 8 13 4 10z"/>
<path fill="#06a0cd" d="M366 879l-4-4 8 8 4 10z"/>
<path fill="#1389d3" d="M1524 965l-4 15 8-11 5-8zM1528 956l-4 9 9-4 4-13z"/>
<path fill="#87bf77" d="M229 625l-4-10 8 14 4 8z"/>
<path fill="#108ed2" d="M1533 950l-5 6 9-8 4-13z"/>
<path fill="#0c93d2" d="M1537 931l-4 19 8-15 5-7z"/>
<path fill="#06a7c6" d="M349 857l-5-7 9 12 4 8z"/>
<path fill="#59bd8c" d="M1546 686l-4 119 8 0 5-117z"/>
<path fill="#4dbc92" d="M267 699l-4-9 9 18 4 9z"/>
<path fill="#0998d1" d="M1541 916l-4 15 9-3 4-15z"/>
<path fill="#0aacbe" d="M1554 826l-4 23 9-4 4-19z"/>
<path fill="#0faeb9" d="M319 805l-5-9 9 14 4 10z"/>
<path fill="#079ccf" d="M1546 897l-5 19 9-3 4-16z"/>
<path fill="#0aacbe" d="M332 827l-5-7 9 14 4 6z"/>
<path fill="#0998d1" d="M391 921l-4-11 9 12 4 4z"/>
<path fill="#353dad" d="M1326 1178l-4-13 9 0 4 16z"/>
<path fill="#0faeb9" d="M1559 803l-5 23 9 0 4-23z"/>
<path fill="#06a0cd" d="M1550 883l-4 14 8 0 5-16z"/>
<path fill="#1485d4" d="M439 978l-5-9 9 10 4 4z"/>
<path fill="#06a7c6" d="M344 850l-4-10 9 14 4 8z"/>
<path fill="#92bf73" d="M216 603l-4-62 8 11 5 63z"/>
<path fill="#079ccf" d="M374 893l-4-10 9 13 4 10z"/>
<path fill="#7cbf7b" d="M237 637l-4-8 9 14 4 11z"/>
<path fill="#65be86" d="M250 664l-4-10 9 15 4 12z"/>
<path fill="#59bd8c" d="M263 690l-4-9 8 17 5 10z"/>
<path fill="#42bb98" d="M276 717l-4-9 8 18 4 8z"/>
<path fill="#2eb7a4" d="M289 743l-5-9 9 17 4 11z"/>
<path fill="#1db3af" d="M302 770l-5-8 9 16 4 11z"/>
<path fill="#2053d4" d="M1387 1136l-5-6 9 11 4 10z"/>
<path fill="#06a4ca" d="M1554 866l-4 17 9-2 4-19z"/>
<path fill="#0c93d2" d="M404 931l-4-5 8 6 5 15z"/>
<path fill="#06a4ca" d="M357 870l-4-8 8 11 5 7z"/>
<path fill="#15b1b4" d="M314 796l-4-7 9 10 4 11z"/>
<path fill="#1481d6" d="M451 996l-4-13 9 12 4 8z"/>
<path fill="#0aacbe" d="M327 820l-4-10 8 13 5 11z"/>
<path fill="#07a9c2" d="M1559 845l-5 21 9-4 4-18z"/>
<path fill="#1389d3" d="M1528 969l-4 17 9-2 4-11zM1533 961l-5 8 9 4 4-10z"/>
<path fill="#353dad" d="M1313 1173l-4 4 9-1 4 11z"/>
<path fill="#07a9c2" d="M340 840l-4-6 8 10 5 10z"/>
<path fill="#108ed2" d="M1537 948l-4 13 8 2 5-12z"/>
<path fill="#59bd8c" d="M1555 688l-5 117 9-2 4-116z"/>
<path fill="#0c93d2" d="M1541 935l-4 13 9 3 4-11z"/>
<path fill="#4dbc92" d="M272 708l-5-10 9 16 4 12z"/>
<path fill="#0c93d2" d="M1546 928l-5 7 9 5 4-17z"/>
<path fill="#38b99e" d="M284 734l-4-8 9 16 4 9z"/>
<path fill="#71bf80" d="M246 654l-4-11 8 16 5 10z"/>
<path fill="#59bd8c" d="M259 681l-4-12 8 16 4 13z"/>
<path fill="#0aacbe" d="M1563 826l-4 19 8-1 4-21z"/>
<path fill="#25b5a9" d="M297 762l-4-11 8 14 5 13z"/>
<path fill="#2053d4" d="M1408 1126l-4 2 8-7 4 11z"/>
<path fill="#06a7c6" d="M353 862l-4-8 8 10 4 9z"/>
<path fill="#87bf77" d="M225 615l-5-63 9 12 4 65z"/>
<path fill="#0871de" d="M516 1059l-5 1 9-3 4-5z"/>
<path fill="#0998d1" d="M1550 913l-4 15 8-5 4-13z"/>
<path fill="#079ccf" d="M383 906l-4-10 8 11 4 11z"/>
<path fill="#15b1b4" d="M310 789l-4-11 8 13 5 8z"/>
<path fill="#079ccf" d="M1554 897l-4 16 8-3 5-15z"/>
<path fill="#0faeb9" d="M323 810l-4-11 8 14 4 10z"/>
<path fill="#108ed2" d="M413 947l-5-15 9 15 4 11z"/>
<path fill="#353dad" d="M1335 1181l-4-16 8 4 4 3z"/>
<path fill="#06a0cd" d="M366 880l-5-7 9 8 4 11z"/>
<path fill="#15b1b4" d="M1567 803l-4 23 8-3 5-22z"/>
<path fill="#1079da" d="M494 1033l-4-1 8 5 5 18z"/>
<path fill="#07a9c2" d="M336 834l-5-11 9 13 4 8z"/>
<path fill="#06a0cd" d="M1559 881l-5 16 9-2 4-16z"/>
<path fill="#0871de" d="M511 1060l-4-15 8 12 5 0z"/>
<path fill="#1389d3" d="M426 966l-5-8 9 9 4 7z"/>
<path fill="#1079da" d="M477 1019l-4-6 8 7 5 3z"/>
<path fill="#2c4ac7" d="M1395 1151l-4-10 8-7 5 5z"/>
<path fill="#42bb98" d="M280 726l-4-12 8 16 5 12z"/>
<path fill="#06a0cd" d="M379 896l-5-4 9 9 4 6z"/>
<path fill="#4dbc92" d="M267 698l-4-13 9 17 4 12z"/>
<path fill="#06a7c6" d="M349 854l-5-10 9 10 4 10z"/>
<path fill="#65be86" d="M255 669l-5-10 9 16 4 10z"/>
<path fill="#3243ba" d="M1361 1163l-5-7 9-1 4 2z"/>
<path fill="#2eb7a4" d="M293 751l-4-9 8 15 4 8z"/>
<path fill="#06a7c6" d="M1563 862l-4 19 8-2 4-18z"/>
<path fill="#1db3af" d="M306 778l-5-13 9 16 4 10z"/>
<path fill="#87bf77" d="M233 629l-4-65 8 11 5 68z"/>
<path fill="#15b1b4" d="M319 799l-5-8 9 13 4 9z"/>
<path fill="#06a4ca" d="M361 873l-4-9 9 11 4 6z"/>
<path fill="#0998d1" d="M391 918l-4-11 9 14 4 5z"/>
<path fill="#1481d6" d="M456 995l-5-11 9 17 4 11z"/>
<path fill="#07a9c2" d="M1567 844l-4 18 8-1 5-17z"/>
<path fill="#1485d4" d="M438 976l-4-2 9 6 4 5z"/>
<path fill="#0aacbe" d="M331 823l-4-10 9 11 4 12z"/>
<path fill="#353dad" d="M1322 1187l-4-11 8-3 5-1z"/>
<path fill="#1389d3" d="M1541 963l-4 10 8-9 5-7z"/>
<path fill="#108ed2" d="M1546 951l-5 12 9-6 4-13z"/>
<path fill="#59bd8c" d="M1563 687l-4 116 8 0 5-116z"/>
<path fill="#1389d3" d="M421 958l-4-11 9 10 4 10z"/>
<path fill="#0c93d2" d="M1550 940l-4 11 8-7 4-14z"/>
<path fill="#06a0cd" d="M374 892l-4-11 8 15 5 5z"/>
<path fill="#3243ba" d="M1348 1170l-5 2 9-4 4-2z"/>
<path fill="#0aacbe" d="M1571 823l-4 21 9 0 4-21z"/>
<path fill="#07a9c2" d="M344 844l-4-8 8 10 5 8z"/>
<path fill="#0998d1" d="M1554 923l-4 17 8-10 5-10z"/>
<path fill="#2053d4" d="M1416 1132l-4-11 9 9 4-10z"/>
<path fill="#0363e1" d="M1455 1098l-4-2 8-5 5 1z"/>
<path fill="#38b99e" d="M289 742l-5-12 9 13 4 14z"/>
<path fill="#42bb98" d="M276 714l-4-12 8 13 4 15z"/>
<path fill="#59bd8c" d="M263 685l-4-10 8 15 5 12z"/>
<path fill="#0871de" d="M503 1055l-5-18 9 8 4 1z"/>
<path fill="#079ccf" d="M1558 910l-4 13 9-3 4-17z"/>
<path fill="#25b5a9" d="M301 765l-4-8 9 13 4 11z"/>
<path fill="#1389d3" d="M434 974l-4-7 8 7 5 6z"/>
<path fill="#079ccf" d="M387 907l-4-6 8 11 5 9z"/>
<path fill="#06a7c6" d="M357 864l-4-10 8 12 5 9z"/>
<path fill="#1db3af" d="M314 791l-4-10 9 12 4 11z"/>
<path fill="#06a0cd" d="M1563 895l-5 15 9-7 4-11z"/>
<path fill="#3243ba" d="M1343 1172l-4-3 9-4 4 3z"/>
<path fill="#15b1b4" d="M1576 801l-5 22 9 0 4-23z"/>
<path fill="#7cbf7b" d="M242 643l-5-68 9 8 4 76z"/>
<path fill="#0faeb9" d="M327 813l-4-9 8 10 5 10z"/>
<path fill="#06a4ca" d="M1567 879l-4 16 8-3 5-17zM370 881l-4-6 8 10 4 11z"/>
<path fill="#127dd8" d="M464 1012l-4-11 8 9 5 3z"/>
<path fill="#2c4ac7" d="M1374 1153l-5 4 9-16 4 10z"/>
<path fill="#0998d1" d="M400 926l-4-5 8 8 4 6z"/>
<path fill="#0aacbe" d="M340 836l-4-12 8 12 4 10z"/>
<path fill="#06a7c6" d="M1571 861l-4 18 9-4 4-14z"/>
<path fill="#1389d3" d="M430 967l-4-10 8 14 4 3z"/>
<path fill="#079ccf" d="M383 901l-5-5 9 8 4 8z"/>
<path fill="#42bb98" d="M284 730l-4-15 9 18 4 10z"/>
<path fill="#2eb7a4" d="M297 757l-4-14 8 15 5 12z"/>
<path fill="#07a9c2" d="M353 854l-5-8 9 13 4 7z"/>
<path fill="#4dbc92" d="M272 702l-5-12 9 12 4 13z"/>
<path fill="#2c4ac7" d="M1365 1155l-4 5 8-3 4 7z"/>
<path fill="#07a9c2" d="M1576 844l-5 17 9 0 4-22z"/>
<path fill="#1db3af" d="M310 781l-4-11 8 10 5 13z"/>
<path fill="#363093" d="M1163 1220l-4-16 8 7 5 18z"/>
<path fill="#1485d4" d="M443 980l-5-6 9 12 4 13z"/>
<path fill="#0268e1" d="M1472 1085l-4-7 9 3 4-2z"/>
<path fill="#65be86" d="M1572 687l-5 116 9-2 4-114z"/>
<path fill="#15b1b4" d="M323 804l-4-11 8 11 4 10z"/>
<path fill="#06a4ca" d="M366 875l-5-9 9 12 4 7z"/>
<path fill="#0998d1" d="M396 921l-5-9 9 9 4 8z"/>
<path fill="#1481d6" d="M460 1001l-5-5 9 0 4 14z"/>
<path fill="#71bf80" d="M250 659l-4-76 8 14 5 78z"/>
<path fill="#1389d3" d="M1545 964l-4 13 9-5 4-10z"/>
<path fill="#108ed2" d="M1550 957l-5 7 9-2 4-10z"/>
<path fill="#0c93d2" d="M1554 944l-4 13 8-5 5-9z"/>
<path fill="#108ed2" d="M426 957l-5-1 9 3 4 12z"/>
<path fill="#0faeb9" d="M1580 823l-4 21 8-5 5-21zM336 824l-5-10 9 11 4 11z"/>
<path fill="#0998d1" d="M1558 930l-4 14 9-1 4-18z"/>
<path fill="#046de0" d="M1468 1078l-4 14 8-14 5 3z"/>
<path fill="#06a0cd" d="M378 896l-4-11 9 15 4 4z"/>
<path fill="#0f5cdd" d="M1425 1120l-4 10 8-15 5 4z"/>
<path fill="#0998d1" d="M1563 920l-5 10 9-5 4-10z"/>
<path fill="#3243ba" d="M1356 1166l-4 2 8-12 5 2z"/>
<path fill="#0c93d2" d="M408 935l-4-6 9 7 4 12z"/>
<path fill="#07a9c2" d="M348 846l-4-10 9 9 4 14z"/>
<path fill="#079ccf" d="M1567 903l-4 17 8-5 4-13z"/>
<path fill="#2053d4" d="M618 1140l-4-11 9-4 4 24z"/>
<path fill="#127dd8" d="M473 1013l-5-3 9 3 4 7z"/>
<path fill="#38b99e" d="M293 743l-4-10 8 12 4 13z"/>
<path fill="#4dbc92" d="M280 715l-4-13 8 16 5 15z"/>
<path fill="#1389d3" d="M438 974l-4-3 9 9 4 6z"/>
<path fill="#2053d4" d="M1386 1141l-4 10 9-9 4 6z"/>
<path fill="#0f5cdd" d="M1421 1130l-5-4 9-5 4-6z"/>
<path fill="#06a0cd" d="M1571 892l-4 11 8-1 5-15z"/>
<path fill="#25b5a9" d="M306 770l-5-12 9 12 4 10z"/>
<path fill="#15b1b4" d="M1584 800l-4 23 9-5 4-20z"/>
<path fill="#06a7c6" d="M361 866l-4-7 9 9 4 10z"/>
<path fill="#0268e1" d="M1459 1091l-4 2 9-3 4 0z"/>
<path fill="#079ccf" d="M391 912l-4-8 8 9 5 8z"/>
<path fill="#108ed2" d="M421 956l-4-8 8 7 5 4z"/>
<path fill="#1db3af" d="M319 793l-5-13 9 11 4 13z"/>
<path fill="#06a4ca" d="M1576 875l-5 17 9-5 4-16z"/>
<path fill="#2c4ac7" d="M1382 1151l-4-10 8 11 5-10z"/>
<path fill="#363093" d="M1227 1217l-4-5 9 4 4-8z"/>
<path fill="#1481d6" d="M451 999l-4-13 8 11 5 2z"/>
<path fill="#0d75dc" d="M503 1047l-5-16 9 23 4 5z"/>
<path fill="#06a4ca" d="M374 885l-4-7 8 9 5 13z"/>
<path fill="#65be86" d="M259 675l-5-78 9 8 4 85z"/>
<path fill="#0faeb9" d="M331 814l-4-10 9 9 4 12z"/>
<path fill="#06a7c6" d="M1580 861l-4 14 8-4 4-17z"/>
<path fill="#0998d1" d="M404 929l-4-8 8 8 5 7z"/>
<path fill="#2053d4" d="M1378 1141l-5 23 9-19 4 7z"/>
<path fill="#046de0" d="M537 1079l-4-6 8 2 4 10z"/>
<path fill="#1481d6" d="M468 1010l-4-14 9 15 4 2z"/>
<path fill="#0268e1" d="M554 1090l-4 2 8 2 4 11z"/>
<path fill="#0f5cdd" d="M1412 1126l-4 10 8-12 5 4z"/>
<path fill="#0871de" d="M1494 1060l-5-6 9 0 4 2z"/>
<path fill="#2c4ac7" d="M1343 1159l-4 12 9-3 4 13z"/>
<path fill="#3243ba" d="M1373 1164l-4-7 9 7 4-19z"/>
<path fill="#0aacbe" d="M344 836l-4-11 8 12 5 8z"/>
<path fill="#1389d3" d="M434 971l-4-12 8 12 5 9z"/>
<path fill="#352a87" d="M1172 1229l-5-18 9 11 4-11z"/>
<path fill="#06a0cd" d="M387 904l-4-4 8 8 4 5z"/>
<path fill="#3637a0" d="M1279 1204l-4-3 8 0 4-11z"/>
<path fill="#363093" d="M1223 1212l-4 2 8-6 5 8z"/>
<path fill="#0aacbe" d="M1584 839l-4 22 8-7 5-19z"/>
<path fill="#65be86" d="M1580 687l-4 114 8-1 5-112z"/>
<path fill="#06a7c6" d="M357 859l-4-14 8 13 5 10z"/>
<path fill="#42bb98" d="M289 733l-5-15 9 10 4 17z"/>
<path fill="#0c93d2" d="M417 948l-4-12 8 10 4 9z"/>
<path fill="#2eb7a4" d="M301 758l-4-13 9 9 4 16z"/>
<path fill="#2053d4" d="M1403 1143l-4-5 9 1 4-5z"/>
<path fill="#2c4ac7" d="M1369 1157l-4 1 8-1 5 7z"/>
<path fill="#046de0" d="M1481 1079l-4 2 8-12 4 4z"/>
<path fill="#1485d4" d="M447 986l-4-6 8 6 4 11z"/>
<path fill="#25b5a9" d="M314 780l-4-10 8 6 5 15z"/>
<path fill="#108ed2" d="M1558 952l-4 10 8-4 5-15z"/>
<path fill="#06a4ca" d="M370 878l-4-10 8 10 4 9z"/>
<path fill="#0c93d2" d="M1563 943l-5 9 9-9 4-6z"/>
<path fill="#0268e1" d="M550 1092l-5-7 9 3 4 6z"/>
<path fill="#2053d4" d="M627 1149l-4-24 8 22 4-6z"/>
<path fill="#0998d1" d="M400 921l-5-8 9 9 4 7z"/>
<path fill="#0faeb9" d="M1589 818l-5 21 9-4 4-18z"/>
<path fill="#0998d1" d="M1567 925l-4 18 8-6 4-14z"/>
<path fill="#2053d4" d="M1399 1138l-4 10 8-10 5 1z"/>
<path fill="#3637a0" d="M1275 1201l-5-12 9 4 4 8z"/>
<path fill="#15b1b4" d="M327 804l-4-13 8 11 5 11z"/>
<path fill="#c0bc60" d="M203 533l-4-259 9 3 4 264z"/>
<path fill="#046de0" d="M1477 1081l-5-3 9 0 4-9z"/>
<path fill="#0871de" d="M511 1059l-4-5 8 8 5 2z"/>
<path fill="#0363e1" d="M1434 1119l-5-4 9 0 4 2z"/>
<path fill="#59bd8c" d="M267 690l-4-85 8 13 5 84z"/>
<path fill="#079ccf" d="M1571 915l-4 10 8-2 5-14z"/>
<path fill="#06a0cd" d="M383 900l-5-13 9 8 4 13z"/>
<path fill="#2c4ac7" d="M1365 1158l-5-2 9 0 4 1z"/>
<path fill="#06a0cd" d="M1575 902l-4 13 9-6 4-8z"/>
<path fill="#0faeb9" d="M340 825l-4-12 8 9 4 15z"/>
<path fill="#2c4ac7" d="M644 1158l-4-11 8-2 4 6z"/>
<path fill="#2053d4" d="M1395 1148l-4-6 8 3 4-7z"/>
<path fill="#3243ba" d="M1330 1178l-4-2 9-4 4 5z"/>
<path fill="#046de0" d="M1472 1078l-4 12 8-14 5 2z"/>
<path fill="#06a4ca" d="M1580 887l-5 15 9-1 4-15z"/>
<path fill="#353dad" d="M1300 1190l-4-5 9-8 4 15z"/>
<path fill="#1481d6" d="M460 999l-5-2 9 2 4 6z"/>
<path fill="#1db3af" d="M1593 798l-4 20 8-1 4-22z"/>
<path fill="#0871de" d="M528 1069l-4-7 8 6 5 10z"/>
<path fill="#07a9c2" d="M353 845l-5-8 9 10 4 11z"/>
<path fill="#1389d3" d="M443 980l-5-9 9 15 4 0z"/>
<path fill="#353dad" d="M1240 1194l-4 14 8-9 5 18z"/>
<path fill="#06a7c6" d="M1584 871l-4 16 8-1 5-18z"/>
<path fill="#0268e1" d="M562 1105l-4-11 9 4 4 6zM1468 1090l-4 0 8-13 4-1z"/>
<path fill="#38b99e" d="M297 745l-4-17 8 11 5 15z"/>
<path fill="#079ccf" d="M395 913l-4-5 9 1 4 13z"/>
<path fill="#06a7c6" d="M366 868l-5-10 9 10 4 10z"/>
<path fill="#363093" d="M957 1217l-4-6 8 23 5-15z"/>
<path fill="#0d75dc" d="M507 1054l-5-9 9 11 4 6z"/>
<path fill="#108ed2" d="M425 955l-4-9 9 6 4 17z"/>
<path fill="#25b5a9" d="M310 770l-4-16 8 9 4 13z"/>
<path fill="#1079da" d="M490 1034l-5-5 9 3 4 13z"/>
<path fill="#0363e1" d="M1425 1121l-4 7 8-18 4 5z"/>
<path fill="#1481d6" d="M473 1011l-5-6 9 9 4 16z"/>
<path fill="#07a9c2" d="M1588 854l-4 17 9-3 4-18z"/>
<path fill="#363093" d="M1232 1216l-5-8 9 10 4-4z"/>
<path fill="#3243ba" d="M1352 1181l-4-13 8-5 4-3z"/>
<path fill="#1db3af" d="M323 791l-5-15 9 12 4 14z"/>
<path fill="#3637a0" d="M953 1211l-5 13 9 0 4 10z"/>
<path fill="#1485d4" d="M455 997l-4-11 9 12 4 1z"/>
<path fill="#0998d1" d="M408 929l-4-7 9 14 4 8z"/>
<path fill="#2053d4" d="M1386 1152l-4-7 8-9 5 10z"/>
<path fill="#0d75dc" d="M1502 1056l-4-2 8-6 5-1z"/>
<path fill="#06a4ca" d="M378 887l-4-9 9 8 4 9z"/>
<path fill="#0f5cdd" d="M1421 1128l-5-4 9 4 4-18z"/>
<path fill="#1389d3" d="M438 971l-4-2 8 6 5 11z"/>
<path fill="#65be86" d="M1589 688l-5 112 9-2 4-110z"/>
<path fill="#3243ba" d="M1322 1170l-4 7 8-4 4 7z"/>
<path fill="#59bd8c" d="M276 702l-5-84 9 11 4 89z"/>
<path fill="#15b1b4" d="M336 813l-5-11 9 8 4 12z"/>
<path fill="#0aacbe" d="M1593 835l-5 19 9-4 4-17z"/>
<path fill="#c0bc60" d="M212 541l-4-264 8 4 4 271z"/>
<path fill="#0363e1" d="M575 1114l-4-10 9 4 4 9z"/>
<path fill="#353dad" d="M1257 1192l-4 16 9-11 4 16z"/>
<path fill="#0aacbe" d="M348 837l-4-15 9 9 4 16z"/>
<path fill="#0f5cdd" d="M1416 1124l-4 10 8-20 5 14z"/>
<path fill="#046de0" d="M1455 1092l-4 12 8-18 4 7z"/>
<path fill="#1079da" d="M502 1045l-4 0 9 2 4 9z"/>
<path fill="#3637a0" d="M1283 1201l-4-8 8 11 5-6z"/>
<path fill="#06a0cd" d="M391 908l-4-13 8 8 5 6z"/>
<path fill="#0c93d2" d="M421 946l-4-2 8 4 5 4z"/>
<path fill="#07a9c2" d="M361 858l-4-11 8 7 5 14z"/>
<path fill="#0363e1" d="M592 1118l-4-6 9 10 4 12z"/>
<path fill="#046de0" d="M537 1078l-5-10 9 14 4 3z"/>
<path fill="#0faeb9" d="M1597 817l-4 18 8-2 5-20z"/>
<path fill="#3243ba" d="M1313 1182l-4 10 8-19 5 9z"/>
<path fill="#2c4ac7" d="M1378 1164l-5-7 9-11 4-16z"/>
<path fill="#3637a0" d="M1253 1208l-4 9 8-22 5 2z"/>
<path fill="#1389d3" d="M451 986l-4 0 8-2 5 14z"/>
<path fill="#3637a0" d="M1227 1208l-4-5 9-9 4 24z"/>
<path fill="#079ccf" d="M1575 923l-4 14 9-5 4-14z"/>
<path fill="#0363e1" d="M1446 1110l-4 7 9-24 4 10z"/>
<path fill="#0c93d2" d="M1567 943l-5 15 9-8 4-14z"/>
<path fill="#0998d1" d="M1571 937l-4 6 8-7 5-4z"/>
<path fill="#046de0" d="M554 1088l-4 3 8-4 4 15z"/>
<path fill="#2053d4" d="M1408 1139l-5-1 9-5 4-5z"/>
<path fill="#079ccf" d="M404 922l-4-13 8 18 5 9z"/>
<path fill="#0871de" d="M1489 1073l-4-4 9-11 4-8z"/>
<path fill="#38b99e" d="M306 754l-5-15 9 7 4 17z"/>
<path fill="#108ed2" d="M434 969l-4-17 8 19 4 4z"/>
<path fill="#06a0cd" d="M1580 909l-5 14 9-5 4-13z"/>
<path fill="#06a7c6" d="M374 878l-4-10 8 8 5 10z"/>
<path fill="#0d75dc" d="M515 1062l-4-6 9 9 4 4z"/>
<path fill="#0363e1" d="M1442 1117l-4-2 8-2 5-20z"/>
<path fill="#25b5a9" d="M318 776l-4-13 9 11 4 14z"/>
<path fill="#2c4ac7" d="M1373 1157l-4-1 9-10 4 0z"/>
<path fill="#353dad" d="M1279 1193l-4 0 8-1 4 12z"/>
<path fill="#06a0cd" d="M1584 901l-4 8 8-4 5-14z"/>
<path fill="#127dd8" d="M481 1030l-4-16 8 14 5 3z"/>
<path fill="#363093" d="M966 1219l-5 15 9-6 4-8z"/>
<path fill="#1db3af" d="M1601 795l-4 22 9-4 4-21z"/>
<path fill="#0f5cdd" d="M1403 1138l-4 7 9-11 4-1z"/>
<path fill="#1079da" d="M498 1045l-4-13 8 12 5 3z"/>
<path fill="#3243ba" d="M1339 1177l-4-5 8-10 4 6z"/>
<path fill="#06a4ca" d="M1588 886l-4 15 9-10 4-14z"/>
<path fill="#1db3af" d="M331 802l-4-14 8 8 5 14z"/>
<path fill="#0c93d2" d="M417 944l-4-8 8 5 4 7z"/>
<path fill="#363093" d="M1249 1217l-5-18 9-1 4-3z"/>
<path fill="#353dad" d="M1309 1192l-4-15 8-2 4-2z"/>
<path fill="#4dbc92" d="M284 718l-4-89 8 7 5 92z"/>
<path fill="#0363e1" d="M1438 1115l-5 0 9-10 4 8z"/>
<path fill="#0871de" d="M1481 1078l-5-2 9-10 4-4z"/>
<path fill="#06a0cd" d="M387 895l-4-9 8 7 4 10z"/>
<path fill="#352a87" d="M961 1234l-4-10 8 7 5-3z"/>
<path fill="#0871de" d="M532 1068l-4-2 9 5 4 11z"/>
<path fill="#0faeb9" d="M344 822l-4-12 8 11 5 10z"/>
<path fill="#06a7c6" d="M1593 868l-5 18 9-9 4-16z"/>
<path fill="#046de0" d="M550 1091l-5-6 9 1 4 1z"/>
<path fill="#1389d3" d="M447 986l-5-11 9 5 4 4z"/>
<path fill="#2c4ac7" d="M1365 1164l-5-4 9-1 4-4z"/>
<path fill="#127dd8" d="M1524 1031l-5-8 9 0 4 0z"/>
<path fill="#3243ba" d="M1335 1172l-5 8 9-18 4 0z"/>
<path fill="#2053d4" d="M1399 1145l-4 1 8-26 5 14z"/>
<path fill="#0aacbe" d="M357 847l-4-16 8 10 4 13z"/>
<path fill="#b7bd64" d="M220 552l-4-271 9 3 4 280z"/>
<path fill="#0d75dc" d="M511 1056l-4-9 8 13 5 5z"/>
<path fill="#3637a0" d="M1189 1211l-5-5 9 10 4 13z"/>
<path fill="#06a0cd" d="M400 909l-5-6 9 14 4 10z"/>
<path fill="#0aacbe" d="M1597 850l-4 18 8-7 4-16z"/>
<path fill="#0c93d2" d="M430 952l-5-4 9 5 4 18z"/>
<path fill="#65be86" d="M1597 688l-4 110 8-3 5-109z"/>
<path fill="#06a7c6" d="M370 868l-5-14 9 11 4 11z"/>
<path fill="#0f5cdd" d="M601 1134l-4-12 8 15 4-5z"/>
<path fill="#0363e1" d="M1433 1115l-4-5 9-2 4-3z"/>
<path fill="#3243ba" d="M1300 1183l-4-2 8 3 5 3z"/>
<path fill="#1481d6" d="M477 1014l-5-3 9 1 4 16z"/>
<path fill="#363093" d="M957 1224l-4 7 8-12 4 12z"/>
<path fill="#1485d4" d="M460 998l-5-14 9 16 4 9z"/>
<path fill="#3637a0" d="M1266 1213l-4-16 8-1 4 7z"/>
<path fill="#2c4ac7" d="M1360 1160l-4 3 9-14 4 10z"/>
<path fill="#046de0" d="M545 1085l-4-3 8 0 5 4z"/>
<path fill="#0998d1" d="M413 936l-5-9 9 2 4 12z"/>
<path fill="#3243ba" d="M1330 1180l-4-7 9-14 4 3z"/>
<path fill="#0faeb9" d="M1601 833l-4 17 8-5 5-17z"/>
<path fill="#2eb7a4" d="M314 763l-4-17 8 10 5 18z"/>
<path fill="#1389d3" d="M442 975l-4-4 9 5 4 4z"/>
<path fill="#0268e1" d="M562 1102l-4-15 9 12 4 5z"/>
<path fill="#06a4ca" d="M383 886l-5-10 9 9 4 8z"/>
<path fill="#2053d4" d="M1395 1146l-5-10 9-9 4-7z"/>
<path fill="#363093" d="M953 1231l-5 2 9-1 4-13z"/>
<path fill="#353dad" d="M1292 1198l-5 6 9-17 4 6z"/>
<path fill="#25b5a9" d="M327 788l-4-14 8 6 4 16z"/>
<path fill="#363093" d="M1236 1218l-4-24 8 9 4 11z"/>
<path fill="#0f5cdd" d="M1425 1128l-5-14 9 3 4-6z"/>
<path fill="#1079da" d="M507 1047l-5-3 9 5 4 11z"/>
<path fill="#127dd8" d="M490 1031l-5-3 9 0 4 13z"/>
<path fill="#15b1b4" d="M340 810l-5-14 9 8 4 17z"/>
<path fill="#0871de" d="M524 1069l-4-4 8 0 4 5z"/>
<path fill="#046de0" d="M1463 1093l-4-7 9-5 4 0z"/>
<path fill="#15b1b4" d="M1606 813l-5 20 9-5 4-20z"/>
<path fill="#0363e1" d="M597 1122l-5-3 9 7 4 11z"/>
<path fill="#42bb98" d="M293 728l-5-92 9 5 4 98z"/>
<path fill="#0c93d2" d="M425 948l-4-7 9 11 4 1z"/>
<path fill="#2c4ac7" d="M1352 1169l-5-1 9-6 4-1z"/>
<path fill="#1481d6" d="M472 1011l-4-2 9 2 4 1z"/>
<path fill="#06a0cd" d="M395 903l-4-10 9 7 4 17z"/>
<path fill="#0faeb9" d="M353 831l-5-10 9 8 4 12z"/>
<path fill="#0871de" d="M541 1082l-4-11 8 13 4-2z"/>
<path fill="#3243ba" d="M1322 1182l-5-9 9-4 4 6z"/>
<path fill="#0998d1" d="M1575 936l-4 14 8-8 5-9zM1580 932l-5 4 9-3 4-14z"/>
<path fill="#079ccf" d="M1584 918l-4 14 8-13 4-9z"/>
<path fill="#353dad" d="M1262 1197l-5-2 9 0 4 1z"/>
<path fill="#3637a0" d="M1287 1204l-4-12 9-3 4-2z"/>
<path fill="#1389d3" d="M455 984l-4-4 8 7 5 13z"/>
<path fill="#07a9c2" d="M365 854l-4-13 9 11 4 13z"/>
<path fill="#0363e1" d="M1416 1128l-4 5 8-13 5 4z"/>
<path fill="#06a0cd" d="M1588 905l-4 13 8-8 5-14z"/>
<path fill="#079ccf" d="M408 927l-4-10 8 4 5 8z"/>
<path fill="#0268e1" d="M1455 1103l-4-10 8-1 4-6z"/>
<path fill="#1db3af" d="M1610 792l-4 21 8-5 4-20z"/>
<path fill="#aebe67" d="M229 564l-4-280 8 3 4 288z"/>
<path fill="#108ed2" d="M438 971l-4-18 8 12 5 11z"/>
<path fill="#06a4ca" d="M1593 891l-5 14 9-9 4-14z"/>
<path fill="#0d75dc" d="M520 1065l-5-5 9 3 4 2z"/>
<path fill="#2c4ac7" d="M1347 1168l-4-6 9 2 4-2z"/>
<path fill="#06a7c6" d="M378 876l-4-11 8 6 5 14z"/>
<path fill="#363093" d="M1197 1229l-4-13 8-3 5 6z"/>
<path fill="#2053d4" d="M1382 1146l-4 0 8-12 4-1z"/>
<path fill="#06a7c6" d="M1597 877l-4 14 8-9 4-11z"/>
<path fill="#1079da" d="M502 1044l-4-3 9-6 4 14z"/>
<path fill="#0f5cdd" d="M1412 1133l-4 1 8-8 4-6z"/>
<path fill="#0d75dc" d="M1494 1058l-5 4 9-10 4 1z"/>
<path fill="#1481d6" d="M468 1009l-4-9 8 6 5 5z"/>
<path fill="#127dd8" d="M485 1028l-4-16 8 15 5 1z"/>
<path fill="#353dad" d="M1283 1192l-4 5 8-10 5 2z"/>
<path fill="#0268e1" d="M1446 1113l-4-8 8-9 5 2z"/>
<path fill="#07a9c2" d="M1601 861l-4 16 8-6 5-14z"/>
<path fill="#2eb7a4" d="M323 774l-5-18 9 9 4 15z"/>
<path fill="#0998d1" d="M421 941l-4-12 8 9 5 14z"/>
<path fill="#0268e1" d="M571 1104l-4-5 8 9 4 11z"/>
<path fill="#363093" d="M965 1231l-4-12 9 21 4-12z"/>
<path fill="#06a4ca" d="M391 893l-4-8 8 8 5 7z"/>
<path fill="#2053d4" d="M1373 1155l-4 4 8-10 5-5z"/>
<path fill="#1db3af" d="M335 796l-4-16 9 11 4 13z"/>
<path fill="#2c4ac7" d="M1343 1162l-4 0 8 0 5 2z"/>
<path fill="#71bf80" d="M1606 686l-5 109 9-3 4-107z"/>
<path fill="#127dd8" d="M1532 1023l-4 0 8-14 5 5z"/>
<path fill="#0aacbe" d="M1605 845l-4 16 9-4 4-16z"/>
<path fill="#15b1b4" d="M348 821l-4-17 8 9 5 16z"/>
<path fill="#353dad" d="M1249 1203l-5 11 9-15 4 2z"/>
<path fill="#3243ba" d="M1309 1187l-5-3 9-14 4 14z"/>
<path fill="#0f5cdd" d="M1408 1134l-5-14 9 8 4-2z"/>
<path fill="#3637a0" d="M961 1219l-4 13 8 3 5 5z"/>
<path fill="#0d75dc" d="M515 1060l-4-11 8 5 5 9z"/>
<path fill="#0268e1" d="M1442 1105l-4 3 8-4 4-8z"/>
<path fill="#079ccf" d="M404 917l-4-17 8 13 4 8z"/>
<path fill="#42bb98" d="M301 739l-4-98 9 8 4 97z"/>
<path fill="#0aacbe" d="M361 841l-4-12 8 8 5 15z"/>
<path fill="#0f5cdd" d="M605 1137l-4-11 8 5 5 5z"/>
<path fill="#353dad" d="M1274 1203l-4-7 9-2 4-1z"/>
<path fill="#0871de" d="M549 1082l-4 2 9 3 4 12z"/>
<path fill="#0faeb9" d="M1610 828l-5 17 9-4 4-18z"/>
<path fill="#1079da" d="M498 1041l-4-13 8 6 5 1z"/>
<path fill="#3637a0" d="M1189 1217l-5 11 9-15 4 8zM1244 1214l-4-11 9 6 4-10z"/>
<path fill="#1485d4" d="M464 1000l-5-13 9 13 4 6z"/>
<path fill="#2053d4" d="M1369 1159l-4-10 8-9 4 9z"/>
<path fill="#0268e1" d="M1438 1108l-5 3 9-7 4 0z"/>
<path fill="#07a9c2" d="M374 865l-4-13 8 8 4 11z"/>
<path fill="#3243ba" d="M1304 1184l-4 9 9-18 4-5z"/>
<path fill="#3637a0" d="M1214 1213l-4 2 9-2 4 5z"/>
<path fill="#108ed2" d="M447 976l-5-11 9 8 4 17z"/>
<path fill="#079ccf" d="M417 929l-5-8 9 10 4 7z"/>
<path fill="#363093" d="M1184 1228l-4-2 8-1 5-12zM957 1232l-4-9 8 5 4 7zM1159 1231l-5-11 9 4 4-1z"/>
<path fill="#1db3af" d="M1614 808l-4 20 8-5 5-18z"/>
<path fill="#aebe67" d="M237 575l-4-288 9 3 4 293z"/>
<path fill="#0268e1" d="M1433 1111l-4 6 9-11 4-2z"/>
<path fill="#06a7c6" d="M387 885l-5-14 9 10 4 12z"/>
<path fill="#0871de" d="M1472 1081l-4 0 8-6 5 2z"/>
<path fill="#353dad" d="M1300 1193l-4-6 8-6 5-6z"/>
<path fill="#0d75dc" d="M528 1065l-4-2 8 5 5 9z"/>
<path fill="#1079da" d="M1511 1048l-5 7 9-16 4 1z"/>
<path fill="#353dad" d="M1270 1196l-4-1 8-11 5 10z"/>
<path fill="#1481d6" d="M477 1011l-5-5 9 6 4 12z"/>
<path fill="#0363e1" d="M1429 1117l-4 7 8-13 5-5z"/>
<path fill="#0c93d2" d="M430 952l-5-14 9 12 4 11z"/>
<path fill="#2c4ac7" d="M1330 1175l-4-6 8-3 5-1z"/>
<path fill="#353dad" d="M1240 1203l-4-6 8 6 5 6z"/>
<path fill="#25b5a9" d="M331 780l-4-15 8 9 5 17z"/>
<path fill="#3637a0" d="M953 1223l-5 12 9 5 4-12z"/>
<path fill="#0f5cdd" d="M1395 1136l-5-3 9 4 4-6z"/>
<path fill="#3637a0" d="M1210 1215l-4 4 8-15 5 9z"/>
<path fill="#2053d4" d="M1360 1161l-4 1 8-7 5-14z"/>
<path fill="#1389d3" d="M459 987l-4 3 9 1 4 9z"/>
<path fill="#06a0cd" d="M1592 910l-4 9 9-6 4-9z"/>
<path fill="#0998d1" d="M1584 933l-5 9 9-8 4-19z"/>
<path fill="#1db3af" d="M344 804l-4-13 8 10 4 12z"/>
<path fill="#25b5a9" d="M1618 788l-4 20 9-3 4-20z"/>
<path fill="#3243ba" d="M1296 1187l-4 2 8-4 4-4z"/>
<path fill="#06a4ca" d="M400 900l-5-7 9 7 4 13z"/>
<path fill="#1079da" d="M1506 1055l-4-2 9-7 4-7z"/>
<path fill="#0363e1" d="M579 1119l-4-11 9-1 4 13z"/>
<path fill="#079ccf" d="M1588 919l-4 14 8-18 5-2z"/>
<path fill="#363093" d="M1180 1226l-4-9 8 0 4 8z"/>
<path fill="#06a4ca" d="M1597 896l-5 14 9-6 4-13z"/>
<path fill="#0c93d2" d="M1571 958l-4 10 8-15 4-1z"/>
<path fill="#0faeb9" d="M357 829l-5-16 9 10 4 14z"/>
<path fill="#0871de" d="M1463 1086l-4 6 9-14 4 6z"/>
<path fill="#2c4ac7" d="M1326 1169l-4 9 8-13 4 1z"/>
<path fill="#06a7c6" d="M1601 882l-4 14 8-5 5-14z"/>
<path fill="#2053d4" d="M1356 1162l-4 2 8-15 4 6z"/>
<path fill="#0363e1" d="M1425 1124l-5-4 9-17 4 8z"/>
<path fill="#079ccf" d="M412 921l-4-8 9 11 4 7z"/>
<path fill="#0f5cdd" d="M1390 1133l-4 1 9-1 4 4z"/>
<path fill="#1079da" d="M1502 1053l-4-1 8-1 5-5z"/>
<path fill="#07a9c2" d="M1605 871l-4 11 9-5 4-11z"/>
<path fill="#0aacbe" d="M370 852l-5-15 9 8 4 15z"/>
<path fill="#0d75dc" d="M524 1063l-5-9 9 14 4 0z"/>
<path fill="#1389d3" d="M1554 992l-5 9 9-15 4-5z"/>
<path fill="#38b99e" d="M310 746l-4-97 8 6 4 101z"/>
<path fill="#3243ba" d="M1292 1189l-5-2 9-5 4 3z"/>
<path fill="#2c4ac7" d="M1322 1178l-5 6 9-16 4-3z"/>
<path fill="#0aacbe" d="M1610 857l-5 14 9-5 4-16z"/>
<path fill="#046de0" d="M1459 1092l-4 6 8-16 5-4zM558 1099l-4-12 8 10 4-2z"/>
<path fill="#71bf80" d="M1614 685l-4 107 8-4 5-104z"/>
<path fill="#353dad" d="M1262 1199l-5 2 9-15 4 7z"/>
<path fill="#1485d4" d="M472 1006l-4-6 9 3 4 9z"/>
<path fill="#07a9c2" d="M382 871l-4-11 9 6 4 15z"/>
<path fill="#1485d4" d="M1549 1001l-4 1 9-17 4 1z"/>
<path fill="#0998d1" d="M425 938l-4-7 8 9 5 10z"/>
<path fill="#1389d3" d="M455 990l-4-17 8 9 5 9z"/>
<path fill="#0faeb9" d="M1614 841l-4 16 8-7 4-16z"/>
<path fill="#1079da" d="M1498 1052l-5-2 9-3 4 4z"/>
<path fill="#0f5cdd" d="M1382 1144l-5 5 9-15 4 10z"/>
<path fill="#0363e1" d="M1416 1126l-4 2 8-11 5-2z"/>
<path fill="#2c4ac7" d="M1352 1164l-5-2 9-21 4 8z"/>
<path fill="#046de0" d="M1455 1098l-5-2 9-13 4-1z"/>
<path fill="#3243ba" d="M1317 1184l-4-14 9 5 4-7z"/>
<path fill="#363093" d="M1090 1232l-5 13 9-20 4 21z"/>
<path fill="#06a4ca" d="M395 893l-4-12 8 9 5 10z"/>
<path fill="#aebe67" d="M246 583l-4-293 8 3 4 304z"/>
<path fill="#3637a0" d="M1197 1221l-4-8 8 6 5 3z"/>
<path fill="#1481d6" d="M1541 1014l-5-5 9-4 4-7z"/>
<path fill="#363093" d="M965 1235l-4-7 9 5 4 9z"/>
<path fill="#1079da" d="M519 1054l-4 0 9 3 4 11z"/>
<path fill="#353dad" d="M1257 1201l-4-2 8-12 5-1z"/>
<path fill="#0871de" d="M537 1077l-5-9 9 2 4 15z"/>
<path fill="#0c93d2" d="M438 961l-4-11 8 7 5 13z"/>
<path fill="#15b1b4" d="M1618 823l-4 18 8-7 5-16z"/>
<path fill="#1481d6" d="M485 1024l-4-12 8 6 5 13z"/>
<path fill="#0363e1" d="M1412 1128l-5 4 9-10 4-5z"/>
<path fill="#25b5a9" d="M340 791l-5-17 9 7 4 20z"/>
<path fill="#0363e1" d="M609 1131l-4-1 9-1 4 15z"/>
<path fill="#046de0" d="M1450 1096l-4 8 9-19 4-2z"/>
<path fill="#3637a0" d="M1223 1218l-4-5 8-13 4 15z"/>
<path fill="#0871de" d="M554 1087l-5-3 9 7 4 6z"/>
<path fill="#06a0cd" d="M408 913l-4-13 8 10 5 14z"/>
<path fill="#2053d4" d="M1347 1162l-4 7 9-21 4-7z"/>
<path fill="#1485d4" d="M1536 1009l-4 12 9-17 4 1z"/>
<path fill="#15b1b4" d="M352 813l-4-12 9 4 4 18z"/>
<path fill="#0871de" d="M1485 1074l-4 3 8-15 4-2z"/>
<path fill="#0f5cdd" d="M1377 1149l-4-9 9 2 4-8z"/>
<path fill="#1485d4" d="M468 1000l-4-9 8 6 5 6z"/>
<path fill="#1481d6" d="M1532 1021l-4 8 8-18 5-7z"/>
<path fill="#3637a0" d="M961 1228l-4 12 8-2 5-5z"/>
<path fill="#0363e1" d="M1407 1132l-4-1 9-6 4-3z"/>
<path fill="#1db3af" d="M1623 805l-5 18 9-5 4-18z"/>
<path fill="#0faeb9" d="M365 837l-4-14 9 9 4 13z"/>
<path fill="#2c4ac7" d="M1343 1169l-4-4 8-9 5-8z"/>
<path fill="#3243ba" d="M1279 1194l-5-10 9 8 4 5z"/>
<path fill="#046de0" d="M1446 1104l-4 0 8-21 5 2z"/>
<path fill="#127dd8" d="M1528 1029l-5 4 9-16 4-6z"/>
<path fill="#353dad" d="M1249 1209l-5-6 9-3 4-4z"/>
<path fill="#079ccf" d="M421 931l-4-7 8 5 4 11z"/>
<path fill="#108ed2" d="M451 973l-4-3 8 5 4 7z"/>
<path fill="#0268e1" d="M588 1120l-4-13 8 0 4 19z"/>
<path fill="#07a9c2" d="M378 860l-4-15 8 10 5 11z"/>
<path fill="#3637a0" d="M1163 1224l-5-3 9 3 4 3z"/>
<path fill="#38b99e" d="M318 756l-4-101 9 7 4 103z"/>
<path fill="#127dd8" d="M1523 1033l-4 7 9-17 4-6z"/>
<path fill="#0871de" d="M1481 1077l-5-2 9-14 4 1z"/>
<path fill="#1079da" d="M515 1054l-4-8 8 4 5 7z"/>
<path fill="#2053d4" d="M1339 1165l-5 1 9-3 4-7z"/>
<path fill="#3637a0" d="M1188 1225l-4-8 9 3 4-2z"/>
<path fill="#0f5cdd" d="M1373 1140l-4 1 8 1 5 0z"/>
<path fill="#046de0" d="M1442 1104l-4 2 8-8 4-15z"/>
<path fill="#25b5a9" d="M1627 785l-4 20 8-5 4-19z"/>
<path fill="#2c4ac7" d="M1304 1181l-4 4 9-11 4 8z"/>
<path fill="#06a7c6" d="M391 881l-4-15 8 10 4 14z"/>
<path fill="#1485d4" d="M481 1012l-4-9 8 11 4 4z"/>
<path fill="#0998d1" d="M1584 948l-5 4 9-14 4-7z"/>
<path fill="#0268e1" d="M1438 1106l-5 5 9-15 4 2z"/>
<path fill="#353dad" d="M1244 1203l-4 4 8-15 5 8z"/>
<path fill="#0998d1" d="M434 950l-5-10 9 5 4 12z"/>
<path fill="#0871de" d="M1476 1075l-4 9 8-18 5-5z"/>
<path fill="#127dd8" d="M1519 1040l-4-1 8-19 5 3z"/>
<path fill="#06a4ca" d="M1605 891l-4 13 8-14 5-8zM1601 904l-4 9 8-14 4-9z"/>
<path fill="#06a0cd" d="M1592 915l-4 19 9-12 4-11z"/>
<path fill="#353dad" d="M1214 1204l-4 1 8 3 5 15z"/>
<path fill="#1389d3" d="M464 991l-5-9 9 9 4 6z"/>
<path fill="#0f5cdd" d="M1399 1137l-4-4 8-11 4 8z"/>
<path fill="#06a0cd" d="M1597 913l-5 2 9-4 4-12z"/>
<path fill="#2053d4" d="M1334 1166l-4-1 9-10 4 8z"/>
<path fill="#0998d1" d="M1579 952l-4 1 9-7 4-8z"/>
<path fill="#06a4ca" d="M404 900l-5-10 9 6 4 14z"/>
<path fill="#3637a0" d="M1184 1217l-4 6 8-6 5 3z"/>
<path fill="#06a7c6" d="M1610 877l-5 14 9-9 4-15z"/>
<path fill="#a5be6b" d="M254 597l-4-304 9 4 4 308z"/>
<path fill="#71bf80" d="M1623 684l-5 104 9-3 4-103z"/>
<path fill="#0d75dc" d="M528 1068l-4-11 8 11 4 2z"/>
<path fill="#0c93d2" d="M1575 953l-4 13 8-16 5-4z"/>
<path fill="#0871de" d="M1472 1084l-4-6 8-10 4-2z"/>
<path fill="#046de0" d="M562 1097l-4-6 8 10 5 12z"/>
<path fill="#127dd8" d="M494 1031l-5-13 9 9 4 16z"/>
<path fill="#07a9c2" d="M1614 866l-4 11 8-10 4-14z"/>
<path fill="#3243ba" d="M1300 1185l-4-3 8-6 5-2z"/>
<path fill="#108ed2" d="M447 970l-5-13 9 8 4 10z"/>
<path fill="#353dad" d="M1240 1207l-4 3 8-13 4-5z"/>
<path fill="#2053d4" d="M1364 1155l-4-6 9-15 4 10z"/>
<path fill="#0871de" d="M545 1085l-4-15 8 22 5-14z"/>
<path fill="#3243ba" d="M1270 1193l-4-7 8 7 5-8z"/>
<path fill="#1079da" d="M1511 1046l-5 5 9-18 4 0z"/>
<path fill="#1db3af" d="M348 801l-4-20 8 9 5 15z"/>
<path fill="#0268e1" d="M1433 1111l-4-8 8-3 5-4z"/>
<path fill="#079ccf" d="M417 924l-5-14 9 7 4 12z"/>
<path fill="#0c93d2" d="M1571 966l-5 2 9-11 4-7z"/>
<path fill="#15b1b4" d="M361 823l-4-18 8 11 5 16z"/>
<path fill="#0aacbe" d="M1618 850l-4 16 8-13 5-12z"/>
<path fill="#0363e1" d="M1395 1133l-5 11 9-26 4 4z"/>
<path fill="#352a87" d="M1098 1246l-4-21 9 6 4 5z"/>
<path fill="#353dad" d="M1236 1210l-5 5 9-13 4-5z"/>
<path fill="#3637a0" d="M1206 1222l-5-3 9-7 4 4z"/>
<path fill="#0f5cdd" d="M618 1144l-4-15 8-1 4 18z"/>
<path fill="#1485d4" d="M477 1003l-5-6 9 9 4 8z"/>
<path fill="#0faeb9" d="M374 845l-4-13 8 7 4 16z"/>
<path fill="#1079da" d="M1506 1051l-4-4 8 0 5-14z"/>
<path fill="#0871de" d="M1468 1078l-5 4 9-9 4-5z"/>
<path fill="#0faeb9" d="M1622 834l-4 16 9-9 4-14z"/>
<path fill="#0f5cdd" d="M635 1147l-4 7 8-5 5 8z"/>
<path fill="#2c4ac7" d="M1296 1182l-5 4 9-15 4 5z"/>
<path fill="#1389d3" d="M1558 986l-4-1 8-10 4 3z"/>
<path fill="#363093" d="M1176 1230l-5-3 9-6 4-4z"/>
<path fill="#108ed2" d="M459 982l-4-7 9 7 4 9z"/>
<path fill="#127dd8" d="M506 1043l-4 0 9-4 4 16z"/>
<path fill="#0363e1" d="M596 1126l-4-19 9 23 4-1z"/>
<path fill="#07a9c2" d="M387 866l-5-11 9 8 4 13z"/>
<path fill="#0998d1" d="M429 940l-4-11 9 4 4 12z"/>
<path fill="#0871de" d="M1463 1082l-4 1 8-3 5-7z"/>
<path fill="#38b99e" d="M327 765l-4-103 8 7 4 105z"/>
<path fill="#1079da" d="M1502 1047l-4 10 8-18 4 8z"/>
<path fill="#15b1b4" d="M1627 818l-5 16 9-7 4-17z"/>
<path fill="#0268e1" d="M1425 1115l-5 2 9-17 4 5z"/>
<path fill="#2c4ac7" d="M1322 1175l-5 3 9-8 4-4z"/>
<path fill="#0f5cdd" d="M1390 1144l-4-10 8-11 5-5z"/>
<path fill="#0d75dc" d="M541 1070l-5 0 9 5 4 17z"/>
<path fill="#3243ba" d="M1291 1186l-4 11 9-22 4-4z"/>
<path fill="#1079da" d="M524 1057l-5-7 9 6 4 12z"/>
<path fill="#1389d3" d="M1549 998l-4 7 8-13 5-11z"/>
<path fill="#353dad" d="M1231 1215l-4-15 9-2 4 4z"/>
<path fill="#0871de" d="M558 1091l-4-13 8 16 4 7z"/>
<path fill="#06a7c6" d="M399 890l-4-14 9 6 4 14z"/>
<path fill="#0f5cdd" d="M1356 1141l-4 7 8-2 4 6zM631 1154l-5-8 9 9 4-6z"/>
<path fill="#363093" d="M965 1238l-4 5 8 3 5-12z"/>
<path fill="#1481d6" d="M489 1018l-4-4 9 6 4 7z"/>
<path fill="#0871de" d="M1459 1083l-4 2 8-5 4 0z"/>
<path fill="#0268e1" d="M1420 1117l-4 5 9-11 4-11z"/>
<path fill="#2c4ac7" d="M1317 1178l-4 4 8-8 5-4z"/>
<path fill="#25b5a9" d="M1631 800l-4 18 8-8 5-17z"/>
<path fill="#1079da" d="M1498 1057l-5 3 9-17 4-4z"/>
<path fill="#0c93d2" d="M442 957l-4-12 8 9 5 11z"/>
<path fill="#3637a0" d="M1171 1227l-4-3 8-5 5 2z"/>
<path fill="#1485d4" d="M1545 1005l-4-1 8-10 4-2z"/>
<path fill="#3243ba" d="M1287 1197l-4-5 8-11 5-6z"/>
<path fill="#1389d3" d="M472 997l-4-6 8 9 5 6z"/>
<path fill="#0268e1" d="M1416 1122l-4 3 8-12 5-2z"/>
<path fill="#06a0cd" d="M412 910l-4-14 9 8 4 13z"/>
<path fill="#3637a0" d="M1197 1218l-4 2 8-5 4 2z"/>
<path fill="#0f5cdd" d="M1382 1142l-5 0 9-8 4-3z"/>
<path fill="#1079da" d="M1493 1060l-4 2 9-11 4-8z"/>
<path fill="#2053d4" d="M1347 1156l-4 7 8-10 5 8z"/>
<path fill="#9cbf6f" d="M263 605l-4-308 8 3 4 318z"/>
<path fill="#0268e1" d="M571 1113l-5-12 9 4 4 8z"/>
<path fill="#108ed2" d="M455 975l-4-10 8 12 5 5z"/>
<path fill="#0871de" d="M1455 1085l-5-2 9-1 4-2z"/>
<path fill="#1485d4" d="M1541 1004l-5 7 9-15 4-2z"/>
<path fill="#363093" d="M961 1243l-4-2 8-13 4 18z"/>
<path fill="#1db3af" d="M357 805l-5-15 9 9 4 17z"/>
<path fill="#2eb7a4" d="M1635 781l-4 19 9-7 4-20z"/>
<path fill="#2c4ac7" d="M1313 1182l-4-8 8-4 4 4z"/>
<path fill="#3243ba" d="M1283 1192l-4-7 8 1 4-5z"/>
<path fill="#127dd8" d="M502 1043l-4-16 8 1 5 11z"/>
<path fill="#15b1b4" d="M370 832l-5-16 9 7 4 16z"/>
<path fill="#3637a0" d="M1111 1231l-4 5 8-7 5 17z"/>
<path fill="#0363e1" d="M1412 1125l-5 5 9-18 4 1z"/>
<path fill="#079ccf" d="M425 929l-4-12 8 8 5 8z"/>
<path fill="#3243ba" d="M1253 1200l-5-8 9 3 4 3z"/>
<path fill="#1079da" d="M1489 1062l-4-1 8-9 5-1z"/>
<path fill="#3637a0" d="M1223 1223l-5-15 9-7 4-5z"/>
<path fill="#0f5cdd" d="M1377 1142l-4 2 9-8 4-2zM626 1146l-4-18 9 23 4 4z"/>
<path fill="#3637a0" d="M1193 1220l-5-3 9-3 4 1z"/>
<path fill="#0aacbe" d="M382 855l-4-16 9 7 4 17z"/>
<path fill="#1485d4" d="M485 1014l-4-8 8 3 5 11zM1532 1017l-4 6 8-15 5-3z"/>
<path fill="#7cbf7b" d="M1631 682l-4 103 8-4 5-97z"/>
<path fill="#046de0" d="M1446 1098l-4-2 8-5 5 0z"/>
<path fill="#363093" d="M957 1241l-5-3 9 19 4-29z"/>
<path fill="#3637a0" d="M1163 1225l-5 5 9-10 4 5z"/>
<path fill="#2053d4" d="M1343 1163l-4-8 8-6 4 4zM644 1157l-5-8 9 12 4-2z"/>
<path fill="#3637a0" d="M1133 1229l-5 13 9-14 4 10z"/>
<path fill="#0363e1" d="M1407 1130l-4-8 9-5 4-5z"/>
<path fill="#2c4ac7" d="M1279 1185l-5 8 9-13 4 6z"/>
<path fill="#07a9c2" d="M395 876l-4-13 8 6 5 13z"/>
<path fill="#1079da" d="M1485 1061l-5 5 9-12 4-2z"/>
<path fill="#1389d3" d="M468 991l-4-9 8 1 4 17z"/>
<path fill="#06a7c6" d="M1614 882l-5 8 9-13 4-9z"/>
<path fill="#0998d1" d="M438 945l-4-12 8 9 4 12z"/>
<path fill="#0871de" d="M549 1092l-4-17 8 11 5 4z"/>
<path fill="#2eb7a4" d="M335 774l-4-105 9 7 4 105z"/>
<path fill="#06a7c6" d="M1609 890l-4 9 9-11 4-11z"/>
<path fill="#06a0cd" d="M1597 922l-5 9 9-22 4-3z"/>
<path fill="#2c4ac7" d="M1309 1174l-5 2 9-7 4 1z"/>
<path fill="#07a9c2" d="M1618 867l-4 15 8-14 5-13z"/>
<path fill="#1079da" d="M515 1055l-4-16 8 7 5 10z"/>
<path fill="#1481d6" d="M1528 1023l-5-3 9-13 4 1z"/>
<path fill="#046de0" d="M566 1101l-4-7 9 9 4 2z"/>
<path fill="#3243ba" d="M1248 1192l-4 5 9-9 4 7z"/>
<path fill="#0268e1" d="M584 1117l-5-4 9 3 4 10z"/>
<path fill="#079ccf" d="M1592 931l-4 7 8-21 5-8z"/>
<path fill="#0f5cdd" d="M1373 1144l-4-10 8-1 5 3z"/>
<path fill="#0d75dc" d="M532 1068l-4-12 8 6 5 10z"/>
<path fill="#3243ba" d="M1274 1193l-4-3 8 5 5-15z"/>
<path fill="#0d75dc" d="M1480 1066l-4 2 9-7 4-7z"/>
<path fill="#0aacbe" d="M1622 853l-4 14 9-12 4-11z"/>
<path fill="#079ccf" d="M1588 938l-4 8 8-19 4-10z"/>
<path fill="#0871de" d="M1442 1096l-5 4 9-16 4 7z"/>
<path fill="#353dad" d="M1214 1216l-4-4 8 1 5-6z"/>
<path fill="#06a7c6" d="M408 896l-4-14 8 7 5 15z"/>
<path fill="#0c93d2" d="M451 965l-5-11 9 9 4 14z"/>
<path fill="#1481d6" d="M498 1027l-4-7 8 9 4-1z"/>
<path fill="#0998d1" d="M1584 946l-5 4 9-17 4-6z"/>
<path fill="#3637a0" d="M1051 1231l-4 2 8 6 5 17z"/>
<path fill="#0faeb9" d="M1627 841l-5 12 9-9 4-15z"/>
<path fill="#1485d4" d="M481 1006l-5-6 9 8 4 1z"/>
<path fill="#0268e1" d="M1403 1122l-4-4 8 1 5-2z"/>
<path fill="#1481d6" d="M1519 1033l-4 0 8-15 5-3z"/>
<path fill="#06a0cd" d="M421 917l-4-13 8 8 4 13z"/>
<path fill="#0363e1" d="M601 1130l-5-12 9 10 4 6z"/>
<path fill="#3243ba" d="M1270 1190l-4 4 8-3 4 4z"/>
<path fill="#2c4ac7" d="M1304 1176l-4-5 8-2 5 0z"/>
<path fill="#0998d1" d="M1579 950l-4 7 9-18 4-6z"/>
<path fill="#15b1b4" d="M1631 827l-4 14 8-12 5-14z"/>
<path fill="#046de0" d="M1437 1100l-4 5 9-13 4-8z"/>
<path fill="#0363e1" d="M1369 1134l-5 18 9-20 4 1z"/>
<path fill="#9cbf6f" d="M271 618l-4-318 9 3 4 326z"/>
<path fill="#353dad" d="M1210 1212l-5 5 9-8 4 4z"/>
<path fill="#1481d6" d="M1515 1033l-5 14 9-21 4-8z"/>
<path fill="#0998d1" d="M1575 957l-4 7 8-18 5-7z"/>
<path fill="#0c93d2" d="M1571 964l-5 14 9-23 4-9z"/>
<path fill="#0f5cdd" d="M1364 1152l-4-6 9 0 4-14z"/>
<path fill="#108ed2" d="M464 982l-5-5 9 8 4-2z"/>
<path fill="#1db3af" d="M365 816l-4-17 8 5 5 19z"/>
<path fill="#0d75dc" d="M1472 1073l-5 7 9-20 4 5z"/>
<path fill="#1db3af" d="M1635 810l-4 17 9-12 4-14z"/>
<path fill="#0d75dc" d="M545 1075l-4-3 8 8 4 6z"/>
<path fill="#046de0" d="M1433 1105l-4-5 8-4 5-4z"/>
<path fill="#0268e1" d="M579 1113l-4-8 8 7 5 4z"/>
<path fill="#0faeb9" d="M378 839l-4-16 8 7 5 16z"/>
<path fill="#2053d4" d="M1330 1166l-4 4 8-19 5 6z"/>
<path fill="#079ccf" d="M434 933l-5-8 9 7 4 10z"/>
<path fill="#108ed2" d="M1566 978l-4-3 9-20 4 0z"/>
<path fill="#127dd8" d="M1510 1047l-4-8 9-10 4-3z"/>
<path fill="#0f5cdd" d="M635 1155l-4-4 8 8 4-10zM1360 1146l-4 15 8-19 5 4z"/>
<path fill="#127dd8" d="M511 1039l-5-11 9 16 4 2z"/>
<path fill="#1079da" d="M528 1056l-4 0 8-5 4 11z"/>
<path fill="#3243ba" d="M1266 1194l-5 4 9-16 4 9z"/>
<path fill="#0aacbe" d="M391 863l-4-17 8 7 4 16z"/>
<path fill="#25b5a9" d="M1640 793l-5 17 9-9 4-16z"/>
<path fill="#363093" d="M1120 1246l-5-17 9 14 4-9z"/>
<path fill="#1485d4" d="M494 1020l-5-11 9 6 4 14z"/>
<path fill="#0d75dc" d="M1467 1080l-4 0 9-16 4-4z"/>
<path fill="#353dad" d="M1205 1217l-4-2 9-12 4 6z"/>
<path fill="#3243ba" d="M1236 1198l-5-2 9-4 4 17z"/>
<path fill="#2053d4" d="M1296 1175l-5 6 9-13 4 11z"/>
<path fill="#108ed2" d="M1562 975l-4 6 8-18 5-8z"/>
<path fill="#3637a0" d="M1145 1231l-4 7 9-19 4 23z"/>
<path fill="#2053d4" d="M1326 1170l-5 4 9-18 4-5z"/>
<path fill="#0998d1" d="M446 954l-4-12 9 8 4 13z"/>
<path fill="#108ed2" d="M1558 981l-5 11 9-21 4-8z"/>
<path fill="#07a9c2" d="M404 882l-5-13 9 9 4 11z"/>
<path fill="#2053d4" d="M1356 1161l-5-8 9-8 4-3z"/>
<path fill="#127dd8" d="M1506 1039l-4 4 8-10 5-4z"/>
<path fill="#2eb7a4" d="M344 781l-4-105 8 8 4 106z"/>
<path fill="#1389d3" d="M476 1000l-4-17 9 8 4 17z"/>
<path fill="#0363e1" d="M1390 1131l-4 3 8-18 5 11z"/>
<path fill="#0f5cdd" d="M673 1158l-4 8 9-2 4 20z"/>
<path fill="#38b99e" d="M1644 773l-4 20 8-8 4-18z"/>
<path fill="#0871de" d="M558 1090l-5-4 9 1 4 15z"/>
<path fill="#0d75dc" d="M1463 1080l-4 2 8-12 5-6z"/>
<path fill="#1389d3" d="M1553 992l-4 2 9-21 4-2z"/>
<path fill="#0d75dc" d="M541 1072l-5-10 9 16 4 2z"/>
<path fill="#3243ba" d="M1261 1198l-4-3 9-6 4-7z"/>
<path fill="#3637a0" d="M965 1228l-4 29 8-20 5-1z"/>
<path fill="#108ed2" d="M459 977l-4-14 9 8 4 14z"/>
<path fill="#046de0" d="M575 1105l-4-2 8 2 4 7zM1425 1111l-5 2 9-26 4 12z"/>
<path fill="#127dd8" d="M1502 1043l-4 8 8-17 4-1z"/>
<path fill="#7cbf7b" d="M1640 684l-5 97 9-8 4-92z"/>
<path fill="#06a4ca" d="M417 904l-5-15 9 8 4 15z"/>
<path fill="#2053d4" d="M1321 1174l-4-4 9-9 4-5z"/>
<path fill="#3637a0" d="M1171 1225l-4-5 8 10 5-15z"/>
<path fill="#0d75dc" d="M1459 1082l-4 9 8-16 4-5z"/>
<path fill="#1079da" d="M524 1056l-5-10 9 8 4-3z"/>
<path fill="#0f5cdd" d="M631 1151l-5-18 9 15 4 11z"/>
<path fill="#352a87" d="M1060 1256l-5-17 9-6 4 21z"/>
<path fill="#1481d6" d="M506 1028l-4 1 9-8 4 23z"/>
<path fill="#2c4ac7" d="M1287 1186l-4-6 8 4 5-6z"/>
<path fill="#06a0cd" d="M429 925l-4-13 9 9 4 11z"/>
<path fill="#1389d3" d="M1549 994l-4 2 8-21 5-2z"/>
<path fill="#0268e1" d="M592 1126l-4-10 8-3 5 4z"/>
<path fill="#0f5cdd" d="M1351 1153l-4-4 9-5 4 1z"/>
<path fill="#0363e1" d="M609 1134l-4-6 8 10 5-3zM1386 1134l-4 2 8-18 4-2z"/>
<path fill="#0871de" d="M1455 1091l-5 0 9-15 4-1z"/>
<path fill="#127dd8" d="M1498 1051l-5 1 9-19 4 1z"/>
<path fill="#1485d4" d="M489 1009l-4-1 8 0 5 7z"/>
<path fill="#3243ba" d="M1257 1195l-4-7 8-2 5 3z"/>
<path fill="#046de0" d="M1420 1113l-4-1 8-14 5-11z"/>
<path fill="#363093" d="M1141 1238l-4-10 8-11 5 2z"/>
<path fill="#92bf73" d="M280 629l-4-326 8 3 4 330z"/>
<path fill="#2053d4" d="M1317 1170l-4-1 8-8 5 0z"/>
<path fill="#1389d3" d="M1545 996l-4 9 8-24 4-6z"/>
<path fill="#3637a0" d="M1111 1237l-4-6 8 1 5 11z"/>
<path fill="#353dad" d="M1167 1220l-4-3 8 6 4 7z"/>
<path fill="#1db3af" d="M374 823l-5-19 9 8 4 18z"/>
<path fill="#3243ba" d="M1223 1207l-5 6 9-8 4 1z"/>
<path fill="#046de0" d="M571 1103l-5-1 9-1 4 4z"/>
<path fill="#0871de" d="M553 1086l-4-6 9 6 4 1z"/>
<path fill="#0faeb9" d="M387 846l-5-16 9 9 4 14z"/>
<path fill="#108ed2" d="M472 983l-4 2 8-2 5 8z"/>
<path fill="#127dd8" d="M519 1046l-4-2 8 4 5 6z"/>
<path fill="#1389d3" d="M1541 1005l-5 3 9-23 4-4z"/>
<path fill="#2053d4" d="M665 1169l-4 4 8-15 4 19z"/>
<path fill="#127dd8" d="M1493 1052l-4 2 8-15 5-6z"/>
<path fill="#046de0" d="M1416 1112l-4 5 8-18 4-1z"/>
<path fill="#079ccf" d="M442 942l-4-10 8 5 5 13z"/>
<path fill="#0363e1" d="M1382 1136l-5-3 9-10 4-5z"/>
<path fill="#0f5cdd" d="M1347 1149l-4 5 8-11 5 1z"/>
<path fill="#1079da" d="M536 1062l-4-11 9 11 4 16z"/>
<path fill="#0aacbe" d="M399 869l-4-16 9 10 4 15zM1627 855l-5 13 9-16 4-11z"/>
<path fill="#07a9c2" d="M1618 877l-4 11 8-19 4-10z"/>
<path fill="#06a7c6" d="M1614 888l-5 8 9-19 4-8z"/>
<path fill="#363093" d="M957 1243l-5-9 9 6 4-1z"/>
<path fill="#0871de" d="M1450 1091l-4-7 8-8 5 0z"/>
<path fill="#353dad" d="M1193 1218l-5-14 9 1 4 18z"/>
<path fill="#06a7c6" d="M1609 896l-4 10 9-19 4-10z"/>
<path fill="#3243ba" d="M1278 1195l-4-4 9-13 4 6z"/>
<path fill="#0faeb9" d="M1631 844l-4 11 8-14 4-11z"/>
<path fill="#2053d4" d="M1313 1169l-5 0 9-6 4-2z"/>
<path fill="#3243ba" d="M1248 1202l-4 7 9-17 4-3z"/>
<path fill="#1079da" d="M1489 1054l-4 7 8-21 4-1z"/>
<path fill="#06a4ca" d="M1605 906l-4 3 8-15 5-7z"/>
<path fill="#1481d6" d="M502 1029l-4-14 8 16 5-10z"/>
<path fill="#0268e1" d="M1412 1117l-5 2 9-13 4-7zM605 1128l-4-11 8 16 4 5z"/>
<path fill="#353dad" d="M1218 1213l-4-4 9-7 4 3z"/>
<path fill="#0c93d2" d="M455 963l-4-13 8 8 5 13z"/>
<path fill="#15b1b4" d="M1635 829l-4 15 8-14 5-13z"/>
<path fill="#1389d3" d="M1536 1008l-4-1 8-22 5 0z"/>
<path fill="#0363e1" d="M1377 1133l-4-1 8-3 5-6z"/>
<path fill="#06a7c6" d="M412 889l-4-11 8 7 5 12z"/>
<path fill="#1389d3" d="M485 1008l-4-17 8 17 4 0z"/>
<path fill="#25b5a9" d="M352 790l-4-106 9 3 4 112z"/>
<path fill="#06a4ca" d="M1601 909l-5 8 9-18 4-5z"/>
<path fill="#2053d4" d="M661 1173l-5-8 9 10 4-17z"/>
<path fill="#363093" d="M1102 1241l-4 4 9-12 4 8z"/>
<path fill="#1db3af" d="M1640 815l-5 14 9-12 4-13z"/>
<path fill="#2c4ac7" d="M682 1184l-4-20 8 21 5-20z"/>
<path fill="#06a0cd" d="M1596 917l-4 10 9-21 4-7z"/>
<path fill="#0d75dc" d="M1446 1084l-4 8 8-13 4-3z"/>
<path fill="#1389d3" d="M1532 1007l-4 8 8-19 4-11z"/>
<path fill="#1079da" d="M1485 1061l-5 4 9-28 4 3z"/>
<path fill="#0268e1" d="M1373 1132l-4 14 8-19 4 2z"/>
<path fill="#0d75dc" d="M549 1080l-4-2 8-5 5 13z"/>
<path fill="#06a4ca" d="M425 912l-4-15 8 6 5 18z"/>
<path fill="#046de0" d="M566 1102l-4-15 9 6 4 8z"/>
<path fill="#0268e1" d="M1407 1119l-4-1 8-16 5 4z"/>
<path fill="#25b5a9" d="M1644 801l-4 14 8-11 4-13z"/>
<path fill="#06a0cd" d="M1592 927l-4 6 8-23 5-4z"/>
<path fill="#353dad" d="M1244 1209l-4-17 8-4 5 4z"/>
<path fill="#2c4ac7" d="M1274 1191l-4-9 8 3 5-7z"/>
<path fill="#0f5cdd" d="M639 1159l-4-11 8 7 5-3z"/>
<path fill="#108ed2" d="M468 985l-4-14 8-1 4 13z"/>
<path fill="#0871de" d="M1442 1092l-5 4 9-16 4-1z"/>
<path fill="#0f5cdd" d="M1339 1157l-5-6 9-8 4 7z"/>
<path fill="#079ccf" d="M1588 933l-4 6 8-17 4-12z"/>
<path fill="#363093" d="M1154 1242l-4-23 8 5 4 5z"/>
<path fill="#1485d4" d="M1528 1015l-5 3 9-28 4 6z"/>
<path fill="#353dad" d="M1184 1219l-4-4 8-1 4 6z"/>
<path fill="#3243ba" d="M1214 1209l-4-6 8 3 5-4z"/>
<path fill="#127dd8" d="M515 1044l-4-23 8 19 4 8z"/>
<path fill="#2c4ac7" d="M1304 1179l-4-11 8-4 5 4z"/>
<path fill="#2eb7a4" d="M1648 785l-4 16 8-10 5-15z"/>
<path fill="#06a0cd" d="M438 932l-4-11 8 9 4 7z"/>
<path fill="#363093" d="M1098 1245l-4 6 8-19 5 1z"/>
<path fill="#079ccf" d="M1584 939l-5 7 9-20 4-4z"/>
<path fill="#0363e1" d="M1369 1146l-5-4 9-16 4 1z"/>
<path fill="#2053d4" d="M656 1165l-4-5 8 6 5 9z"/>
<path fill="#1079da" d="M1480 1065l-4-5 9-15 4-8z"/>
<path fill="#1485d4" d="M498 1015l-5-7 9 9 4 14z"/>
<path fill="#363093" d="M1068 1254l-4-21 8 20 5 2z"/>
<path fill="#0871de" d="M1437 1096l-4 3 9-10 4-9z"/>
<path fill="#079ccf" d="M1579 946l-4 9 8-25 5-4z"/>
<path fill="#1485d4" d="M1523 1018l-4 8 9-27 4-9z"/>
<path fill="#15b1b4" d="M382 830l-4-18 8 9 5 18z"/>
<path fill="#7cbf7b" d="M1648 681l-4 92 8-6 5-88z"/>
<path fill="#38b99e" d="M1652 767l-4 18 9-9 4-17z"/>
<path fill="#92bf73" d="M288 636l-4-330 9 4 4 331z"/>
<path fill="#363093" d="M1120 1243l-5-11 9 7 4 12z"/>
<path fill="#0363e1" d="M618 1135l-5 3 9-8 4 9z"/>
<path fill="#2c4ac7" d="M1270 1182l-4 7 8-12 4 8z"/>
<path fill="#108ed2" d="M481 991l-5-8 9 11 4 14z"/>
<path fill="#0faeb9" d="M395 853l-4-14 8 5 5 19z"/>
<path fill="#1079da" d="M1476 1060l-4 4 8-14 5-5z"/>
<path fill="#1481d6" d="M1519 1026l-4 3 8-26 5-4z"/>
<path fill="#0268e1" d="M1399 1127l-5-11 9-4 4-2z"/>
<path fill="#0998d1" d="M1575 955l-4 0 8-20 4-5z"/>
<path fill="#127dd8" d="M528 1054l-5-6 9 6 4 10z"/>
<path fill="#3243ba" d="M1210 1203l-5 3 9-6 4 6z"/>
<path fill="#0998d1" d="M451 950l-5-13 9 8 4 13z"/>
<path fill="#363093" d="M1094 1251l-5-14 9 1 4-6z"/>
<path fill="#0d75dc" d="M545 1078l-4-16 8 7 4 4z"/>
<path fill="#0363e1" d="M1364 1142l-4 3 9-18 4-1z"/>
<path fill="#2053d4" d="M1300 1168l-4 10 8-17 4 3z"/>
<path fill="#07a9c2" d="M408 878l-4-15 8 5 4 17z"/>
<path fill="#3637a0" d="M1175 1230l-4-7 9-9 4 11z"/>
<path fill="#2053d4" d="M673 1177l-4-19 9 20 4 0z"/>
<path fill="#1079da" d="M1472 1064l-5 6 9-18 4-2z"/>
<path fill="#0871de" d="M1433 1099l-4-12 8-5 5 7z"/>
<path fill="#0998d1" d="M1571 955l-5 8 9-25 4-3z"/>
<path fill="#2053d4" d="M1296 1178l-5 6 9-14 4-9z"/>
<path fill="#1481d6" d="M1515 1029l-5 4 9-32 4 2z"/>
<path fill="#0f5cdd" d="M1330 1156l-4 5 8-21 4 8z"/>
<path fill="#0998d1" d="M1566 963l-4 8 8-24 5-9z"/>
<path fill="#353dad" d="M1201 1223l-4-18 8 6 5 11z"/>
<path fill="#2c4ac7" d="M1266 1189l-5-3 9-9 4 0z"/>
<path fill="#3243ba" d="M1231 1206l-4-1 8-4 5 1z"/>
<path fill="#06a7c6" d="M421 897l-5-12 9 5 4 13z"/>
<path fill="#0363e1" d="M1360 1145l-4-1 8-10 5-7z"/>
<path fill="#1389d3" d="M493 1008l-4 0 9 2 4 7z"/>
<path fill="#0c93d2" d="M464 971l-5-13 9 5 4 7z"/>
<path fill="#25b5a9" d="M361 799l-4-112 8 9 4 108z"/>
<path fill="#0363e1" d="M613 1138l-4-5 9-5 4 2z"/>
<path fill="#1079da" d="M1467 1070l-4 5 9-24 4 1z"/>
<path fill="#046de0" d="M1394 1116l-4 2 9-11 4 5z"/>
<path fill="#2c4ac7" d="M1291 1184l-4 0 8-15 5 1z"/>
<path fill="#3637a0" d="M1115 1232l-4 9 8-10 5 8z"/>
<path fill="#1481d6" d="M1510 1033l-4 1 9-24 4-9z"/>
<path fill="#06a0cd" d="M434 921l-5-18 9 9 4 18z"/>
<path fill="#3637a0" d="M1141 1234l-4 1 8-2 4-3z"/>
<path fill="#0c93d2" d="M1562 971l-4 2 8-28 4 2z"/>
<path fill="#0f5cdd" d="M1326 1161l-5 0 9-7 4-14z"/>
<path fill="#0d75dc" d="M558 1086l-5-13 9 13 4 8z"/>
<path fill="#0871de" d="M575 1101l-4-8 8 10 4 9z"/>
<path fill="#0f5cdd" d="M631 1153l-5-14 9 7 4-2z"/>
<path fill="#0d75dc" d="M1429 1087l-5 11 9-15 4-1z"/>
<path fill="#2c4ac7" d="M1261 1186l-4 3 8-7 5-5z"/>
<path fill="#353dad" d="M1171 1223l-4-2 8-8 5 1z"/>
<path fill="#127dd8" d="M523 1048l-4-8 9 7 4 7z"/>
<path fill="#0363e1" d="M1356 1144l-5-1 9-12 4 3z"/>
<path fill="#0f5cdd" d="M1321 1161l-4 2 9-6 4-3z"/>
<path fill="#108ed2" d="M476 983l-4-13 9 14 4 10z"/>
<path fill="#0d75dc" d="M1463 1075l-4 1 8-26 5 1z"/>
<path fill="#3243ba" d="M1227 1205l-4-3 8-4 4 3z"/>
<path fill="#0c93d2" d="M1558 973l-5 2 9-22 4-8z"/>
<path fill="#3637a0" d="M1111 1241l-4-8 8 10 4-12z"/>
<path fill="#079ccf" d="M446 937l-4-7 9 3 4 12z"/>
<path fill="#1481d6" d="M1506 1034l-4-1 8-27 5 4z"/>
<path fill="#0268e1" d="M609 1133l-4-2 8 2 5-5z"/>
<path fill="#046de0" d="M592 1113l-4-16 8 20 4 9z"/>
<path fill="#0871de" d="M1424 1098l-4 1 9-11 4-5z"/>
<path fill="#1481d6" d="M506 1031l-4-14 8 5 5 10z"/>
<path fill="#0268e1" d="M1386 1123l-5 6 9-10 4-4z"/>
<path fill="#3637a0" d="M1137 1235l-5 8 9-24 4 14z"/>
<path fill="#2c4ac7" d="M1287 1184l-4-6 8-10 4 1zM1257 1189l-4 3 8-11 4 1z"/>
<path fill="#0c93d2" d="M1553 975l-4 6 9-24 4-4z"/>
<path fill="#15b1b4" d="M391 839l-5-18 9 4 4 19z"/>
<path fill="#0f5cdd" d="M1317 1163l-4 5 8-12 5 1z"/>
<path fill="#1389d3" d="M489 1008l-4-14 8 7 5 9z"/>
<path fill="#2053d4" d="M665 1175l-5-9 9 2 4-1z"/>
<path fill="#0d75dc" d="M1459 1076l-5 0 9-17 4-9z"/>
<path fill="#353dad" d="M1192 1220l-4-6 9-8 4 14z"/>
<path fill="#0aacbe" d="M404 863l-5-19 9 9 4 15z"/>
<path fill="#0871de" d="M1420 1099l-4 7 8-18 5 0z"/>
<path fill="#1481d6" d="M1502 1033l-5 6 9-23 4-10z"/>
<path fill="#92bf73" d="M297 641l-4-331 8 3 5 336z"/>
<path fill="#0268e1" d="M1381 1129l-4-2 9-4 4-4z"/>
<path fill="#3637a0" d="M1132 1243l-4 8 9-21 4-11z"/>
<path fill="#0998d1" d="M459 958l-4-13 8 6 5 12z"/>
<path fill="#0c93d2" d="M1549 981l-4 4 8-25 5-3z"/>
<path fill="#3243ba" d="M1223 1202l-5 4 9-13 4 5z"/>
<path fill="#363093" d="M1077 1255l-5-2 9-18 4 11z"/>
<path fill="#3637a0" d="M1162 1229l-4-5 9 0 4-11z"/>
<path fill="#0871de" d="M571 1093l-5 1 9-3 4 12z"/>
<path fill="#1079da" d="M536 1064l-4-10 8-2 5 17z"/>
<path fill="#0f5cdd" d="M643 1155l-4-11 9 8 4 19z"/>
<path fill="#1079da" d="M553 1073l-4-4 9 9 4 8z"/>
<path fill="#1481d6" d="M1497 1039l-4 1 9-22 4-2z"/>
<path fill="#07a9c2" d="M416 885l-4-17 9 5 4 17z"/>
<path fill="#0268e1" d="M605 1131l-5-5 9-1 4 8z"/>
<path fill="#0d75dc" d="M1454 1076l-4 3 9-18 4-2z"/>
<path fill="#0363e1" d="M1347 1150l-4-7 8-11 5 11z"/>
<path fill="#2c4ac7" d="M1253 1192l-5-4 9-5 4-2z"/>
<path fill="#046de0" d="M1416 1106l-5-4 9-6 4-8z"/>
<path fill="#1481d6" d="M519 1040l-4-8 8 6 5 9z"/>
<path fill="#3637a0" d="M806 1233l-4-3 8-3 5 17z"/>
<path fill="#2053d4" d="M1313 1168l-5-4 9-12 4 4z"/>
<path fill="#108ed2" d="M1545 985l-5 0 9-20 4-5z"/>
<path fill="#87bf77" d="M1657 679l-5 88 9-8 4-79z"/>
<path fill="#06a7c6" d="M429 903l-4-13 8 11 5 11z"/>
<path fill="#363093" d="M1128 1251l-4-12 8-9 5 0z"/>
<path fill="#0c93d2" d="M472 970l-4-7 8 12 5 9z"/>
<path fill="#2c4ac7" d="M1278 1185l-4-8 9 1 4-5z"/>
<path fill="#25b5a9" d="M369 804l-4-108 9 5 4 111z"/>
<path fill="#0268e1" d="M1377 1127l-4-1 8-8 5 5z"/>
<path fill="#1485d4" d="M502 1017l-4-7 8 3 4 9z"/>
<path fill="#0d75dc" d="M1450 1079l-4 1 8-19 5 0z"/>
<path fill="#3243ba" d="M1218 1206l-4-6 8-4 5-3z"/>
<path fill="#1481d6" d="M1493 1040l-4-3 8-18 5-1z"/>
<path fill="#046de0" d="M583 1112l-4-9 9 9 4 7z"/>
<path fill="#353dad" d="M1158 1224l-4-6 8 0 5 6z"/>
<path fill="#0871de" d="M1411 1102l-4 8 9-19 4 5z"/>
<path fill="#2c4ac7" d="M1248 1188l-4 3 8-9 5 1z"/>
<path fill="#06a0cd" d="M442 930l-4-18 8 6 5 15z"/>
<path fill="#108ed2" d="M1540 985l-4 11 9-34 4 3z"/>
<path fill="#363093" d="M1072 1253l-4-10 8 5 5-13z"/>
<path fill="#353dad" d="M1184 1225l-4-11 8 3 4-2z"/>
<path fill="#3243ba" d="M759 1214l-4 0 8 3 5 11z"/>
<path fill="#2053d4" d="M656 1170l-4 1 8-9 5 12z"/>
<path fill="#0871de" d="M566 1094l-4-8 8 6 5-1z"/>
<path fill="#2053d4" d="M678 1178l-5-11 9 11 4 6z"/>
<path fill="#108ed2" d="M485 994l-4-10 8 6 4 11z"/>
<path fill="#3243ba" d="M716 1204l-4-7 8 10 5-13z"/>
<path fill="#0d75dc" d="M1446 1080l-4 9 8-23 4-5z"/>
<path fill="#3243ba" d="M1214 1200l-4 22 8-32 4 6z"/>
<path fill="#0f5cdd" d="M1308 1164l-4-3 9-7 4-2z"/>
<path fill="#0268e1" d="M1373 1126l-4 1 8-1 4-8z"/>
<path fill="#1481d6" d="M1489 1037l-4 8 8-21 4-5z"/>
<path fill="#127dd8" d="M532 1054l-4-7 8 7 4-2z"/>
<path fill="#0268e1" d="M600 1126l-4-9 9 1 4 7z"/>
<path fill="#108ed2" d="M1536 996l-4-6 8-22 5-6z"/>
<path fill="#2053d4" d="M1274 1177l-4 0 8-5 5 6z"/>
<path fill="#046de0" d="M1407 1110l-4 2 8-21 5 0z"/>
<path fill="#079ccf" d="M455 945l-4-12 8 9 4 9z"/>
<path fill="#0363e1" d="M1338 1148l-4-8 9-1 4 4z"/>
<path fill="#3637a0" d="M1068 1243l-4 6 8-5 4 4z"/>
<path fill="#353dad" d="M1210 1222l-5-11 9-5 4-16z"/>
<path fill="#1481d6" d="M515 1032l-5-10 9 10 4 6z"/>
<path fill="#3637a0" d="M1124 1239l-5-8 9-3 4 2z"/>
<path fill="#3243ba" d="M1240 1202l-5-1 9-18 4 10z"/>
<path fill="#1481d6" d="M1485 1045l-5 5 9-23 4-3z"/>
<path fill="#0d75dc" d="M1442 1089l-5-7 9-11 4-5z"/>
<path fill="#3637a0" d="M1094 1233l-5 12 9-4 4 10z"/>
<path fill="#353dad" d="M1149 1230l-4 3 9-10 4 6z"/>
<path fill="#3243ba" d="M733 1212l-4-9 9 4 4 13z"/>
<path fill="#15b1b4" d="M399 844l-4-19 8 8 5 20z"/>
<path fill="#0f5cdd" d="M1304 1161l-4 9 8-18 5 2z"/>
<path fill="#108ed2" d="M1532 990l-4 9 8-26 4-5z"/>
<path fill="#3243ba" d="M1180 1214l-5-1 9-2 4 6z"/>
<path fill="#2c4ac7" d="M712 1197l-4-4 8 9 4 5z"/>
<path fill="#1389d3" d="M498 1010l-5-9 9 7 4 5z"/>
<path fill="#0aacbe" d="M412 868l-4-15 8 5 5 15z"/>
<path fill="#0268e1" d="M1369 1127l-5 7 9-25 4 17z"/>
<path fill="#046de0" d="M1403 1112l-4-5 8-7 4-9z"/>
<path fill="#127dd8" d="M1480 1050l-4 2 8-21 5-4z"/>
<path fill="#0d75dc" d="M562 1086l-4-8 8 10 4 4z"/>
<path fill="#0998d1" d="M468 963l-5-12 9 3 4 21z"/>
<path fill="#3243ba" d="M1205 1211l-4 9 9-20 4 6z"/>
<path fill="#108ed2" d="M1528 999l-5 4 9-22 4-8z"/>
<path fill="#87bf77" d="M306 649l-5-336 9 3 4 339z"/>
<path fill="#0871de" d="M579 1103l-4-12 8 9 5 12z"/>
<path fill="#0f5cdd" d="M1300 1170l-5-1 9-9 4-8z"/>
<path fill="#07a9c2" d="M425 890l-4-17 8 7 4 21z"/>
<path fill="#2053d4" d="M1270 1177l-5 5 9-18 4 8zM690 1186l-4-2 9-5 4 18z"/>
<path fill="#0d75dc" d="M1437 1082l-4 1 8-11 5-1z"/>
<path fill="#1481d6" d="M528 1047l-5-9 9 13 4 3z"/>
<path fill="#2053d4" d="M652 1171l-4-19 8 3 4 7z"/>
<path fill="#1079da" d="M545 1069l-5-17 9 7 4 14z"/>
<path fill="#2c4ac7" d="M1235 1201l-4-3 9-8 4-7z"/>
<path fill="#0c93d2" d="M481 984l-5-9 9 6 4 9z"/>
<path fill="#0268e1" d="M613 1133l-4-8 8 7 5 6zM1364 1134l-4-3 8-4 5-18z"/>
<path fill="#06a4ca" d="M438 912l-5-11 9 2 4 15z"/>
<path fill="#0363e1" d="M1330 1154l-4 3 8-25 4 9z"/>
<path fill="#1389d3" d="M1523 1003l-4-2 8-20 5 0z"/>
<path fill="#127dd8" d="M1476 1052l-4-1 8-19 4-1z"/>
<path fill="#0871de" d="M1399 1107l-5 8 9-23 4 8z"/>
<path fill="#3637a0" d="M1115 1243l-4-12 8 0 5 6zM1145 1233l-4-14 8 1 5 3z"/>
<path fill="#25b5a9" d="M378 812l-4-111 8 6 4 114z"/>
<path fill="#0268e1" d="M1360 1131l-4 12 8-15 4-1z"/>
<path fill="#2053d4" d="M1265 1182l-4-1 9-8 4-9z"/>
<path fill="#0f5cdd" d="M1295 1169l-4-1 9-12 4 4z"/>
<path fill="#0268e1" d="M630 1139l-4-2 9 8 4 11z"/>
<path fill="#0d75dc" d="M1433 1083l-4 5 8-19 4 3z"/>
<path fill="#1485d4" d="M510 1022l-4-9 9 5 4 14z"/>
<path fill="#06a0cd" d="M451 933l-5-15 9 12 4 12z"/>
<path fill="#3637a0" d="M1085 1246l-4-11 8 6 5 8z"/>
<path fill="#353dad" d="M1201 1220l-4-14 8-11 5 5z"/>
<path fill="#2c4ac7" d="M1231 1198l-4-5 8-1 5-2z"/>
<path fill="#108ed2" d="M1519 1001l-4 9 8-27 4-2z"/>
<path fill="#046de0" d="M592 1119l-4-7 8-2 4 11zM1394 1115l-4 4 8-24 5-3z"/>
<path fill="#1079da" d="M558 1078l-5-5 9 5 4 10z"/>
<path fill="#0f5cdd" d="M1326 1157l-5-1 9-14 4-10z"/>
<path fill="#127dd8" d="M1472 1051l-5-1 9-20 4 2z"/>
<path fill="#2053d4" d="M1261 1181l-4 2 8-9 5-1z"/>
<path fill="#2c4ac7" d="M703 1191l-4 6 8 0 5 11z"/>
<path fill="#108ed2" d="M493 1001l-4-11 9-2 4 20z"/>
<path fill="#0363e1" d="M1356 1143l-5-11 9-4 4 0z"/>
<path fill="#2053d4" d="M665 1174l-5-12 9 17 4-8z"/>
<path fill="#353dad" d="M768 1228l-5-11 9 3 4-2z"/>
<path fill="#046de0" d="M1390 1119l-4 4 8-21 4-7z"/>
<path fill="#1481d6" d="M523 1038l-4-6 9 3 4 16z"/>
<path fill="#353dad" d="M1107 1231l-5 20 9-14 4 12z"/>
<path fill="#079ccf" d="M463 951l-4-9 9 7 4 5z"/>
<path fill="#363093" d="M1004 1261l-5-17 9-10 4 24z"/>
<path fill="#353dad" d="M1167 1224l-5-6 9 2 4-7z"/>
<path fill="#0d75dc" d="M1429 1088l-5 0 9-23 4 4z"/>
<path fill="#1389d3" d="M1515 1010l-5-4 9-24 4 1z"/>
<path fill="#127dd8" d="M540 1052l-4 2 9 0 4 5z"/>
<path fill="#0363e1" d="M1321 1156l-4-4 8-5 5-5z"/>
<path fill="#046de0" d="M609 1125l-4-7 8 2 4 12z"/>
<path fill="#2053d4" d="M1287 1173l-4 5 8-15 4 0z"/>
<path fill="#0faeb9" d="M408 853l-5-20 9 7 4 18z"/>
<path fill="#2c4ac7" d="M1227 1193l-5 3 9-12 4 8z"/>
<path fill="#127dd8" d="M1467 1050l-4 9 8-29 5 0z"/>
<path fill="#2053d4" d="M1257 1183l-5-1 9-6 4-2z"/>
<path fill="#046de0" d="M1386 1123l-5-5 9-11 4-5z"/>
<path fill="#0363e1" d="M643 1150l-4 6 8-1 5 6z"/>
<path fill="#0d75dc" d="M1424 1088l-4 8 9-24 4-7z"/>
<path fill="#353dad" d="M742 1220l-4-13 8 0 4 12z"/>
<path fill="#0c93d2" d="M476 975l-4-21 8 11 5 16z"/>
<path fill="#0aacbe" d="M421 873l-5-15 9 7 4 15z"/>
<path fill="#0268e1" d="M1351 1132l-4 11 8-20 5 5z"/>
<path fill="#3243ba" d="M1192 1215l-4 2 9-17 4 2z"/>
<path fill="#1389d3" d="M1510 1006l-4 10 8-28 5-6zM506 1013l-4-5 8 1 5 9z"/>
<path fill="#3637a0" d="M1076 1248l-4-4 9-8 4 11z"/>
<path fill="#0d75dc" d="M570 1092l-4-4 9-5 4 18z"/>
<path fill="#127dd8" d="M1463 1059l-4 2 8-26 4-5z"/>
<path fill="#3243ba" d="M720 1207l-4-5 9-2 4-1z"/>
<path fill="#87bf77" d="M314 655l-4-339 8 3 5 343z"/>
<path fill="#06a7c6" d="M433 901l-4-21 9 6 4 17z"/>
<path fill="#0871de" d="M588 1112l-5-12 9 7 4 3z"/>
<path fill="#1079da" d="M553 1073l-4-14 8 17 5 2z"/>
<path fill="#363093" d="M1102 1251l-4-10 8-14 5 10z"/>
<path fill="#0363e1" d="M1317 1152l-4 2 8-14 4 7z"/>
<path fill="#2c4ac7" d="M699 1197l-4-18 8 13 4 5z"/>
<path fill="#2053d4" d="M1283 1178l-5-6 9-11 4 2z"/>
<path fill="#1389d3" d="M1506 1016l-4 2 8-30 4 0z"/>
<path fill="#0871de" d="M1420 1096l-4-5 8-16 5-3z"/>
<path fill="#353dad" d="M1158 1229l-4-6 8 4 5-10z"/>
<path fill="#0f5cdd" d="M660 1162l-4-7 9 7 4 17z"/>
<path fill="#127dd8" d="M536 1054l-4-3 8-4 5 7z"/>
<path fill="#046de0" d="M1381 1118l-4 8 9-23 4 4z"/>
<path fill="#2c4ac7" d="M1222 1196l-4-6 9 2 4-8z"/>
<path fill="#0363e1" d="M1347 1143l-4-4 8-6 4-10z"/>
<path fill="#06a4ca" d="M446 918l-4-15 8 10 5 17z"/>
<path fill="#353dad" d="M1128 1228l-4 9 8-7 4 3z"/>
<path fill="#108ed2" d="M489 990l-4-9 8 2 5 5z"/>
<path fill="#2c4ac7" d="M1248 1193l-4-10 8 2 5-6z"/>
<path fill="#1db3af" d="M386 821l-4-114 9 6 4 112z"/>
<path fill="#127dd8" d="M1459 1061l-5 0 9-28 4 2z"/>
<path fill="#3243ba" d="M1188 1217l-4-6 8-10 5-1z"/>
<path fill="#0363e1" d="M639 1156l-4-11 8 6 4 4z"/>
<path fill="#06a0cd" d="M459 942l-4-12 8 1 5 18z"/>
<path fill="#2053d4" d="M1218 1190l-4 16 8-17 5 3z"/>
<path fill="#1389d3" d="M1502 1018l-5 1 9-26 4-5z"/>
<path fill="#2c4ac7" d="M716 1202l-4 6 8-15 5 7z"/>
<path fill="#0363e1" d="M1313 1154l-5-2 9-3 4-9z"/>
<path fill="#1485d4" d="M519 1032l-4-14 8 2 5 15z"/>
<path fill="#0268e1" d="M1343 1139l-5 2 9-8 4 0z"/>
<path fill="#0d75dc" d="M1416 1091l-5 0 9-14 4-2z"/>
<path fill="#353dad" d="M1154 1223l-5-3 9 3 4 4z"/>
<path fill="#3243ba" d="M1214 1206l-4-6 8 4 4-15z"/>
<path fill="#0f5cdd" d="M1278 1172l-4-8 8 2 5-5z"/>
<path fill="#0d75dc" d="M566 1088l-4-10 8 8 5-3z"/>
<path fill="#046de0" d="M1377 1126l-4-17 8-4 5-2z"/>
<path fill="#1389d3" d="M1497 1019l-4 5 9-27 4-4z"/>
<path fill="#127dd8" d="M1454 1061l-4 5 9-32 4-1z"/>
<path fill="#046de0" d="M600 1121l-4-11 9 10 4 2z"/>
<path fill="#3637a0" d="M1068 1240l-4 11 8-14 4 12zM1094 1249l-5-8 9-3 4 2z"/>
<path fill="#1389d3" d="M502 1008l-4-20 8 13 4 8z"/>
<path fill="#079ccf" d="M472 954l-4-5 8 4 4 12z"/>
<path fill="#3637a0" d="M1124 1237l-5-6 9-16 4 15z"/>
<path fill="#0363e1" d="M1308 1152l-4 8 8-24 5 13z"/>
<path fill="#0d75dc" d="M1411 1091l-4 9 9-26 4 3z"/>
<path fill="#0f5cdd" d="M673 1171l-4 8 8-8 5 9z"/>
<path fill="#127dd8" d="M549 1059l-4-5 8 2 4 20z"/>
<path fill="#0268e1" d="M617 1132l-4-12 9 10 4 14z"/>
<path fill="#1481d6" d="M532 1051l-4-16 8 4 4 8z"/>
<path fill="#127dd8" d="M1450 1066l-4 5 8-33 5-4z"/>
<path fill="#2c4ac7" d="M1210 1200l-5-5 9 9 4 0z"/>
<path fill="#3243ba" d="M712 1208l-5-11 9-3 4-1z"/>
<path fill="#0faeb9" d="M416 858l-4-18 9 7 4 18z"/>
<path fill="#1485d4" d="M1493 1024l-4 3 8-32 5 2z"/>
<path fill="#363093" d="M1012 1258l-4-24 8 14 5 15z"/>
<path fill="#0268e1" d="M1338 1141l-4-9 9-6 4 7z"/>
<path fill="#2053d4" d="M1240 1190l-5 2 9-12 4 5z"/>
<path fill="#046de0" d="M1368 1127l-4 1 9-11 4-8z"/>
<path fill="#3243ba" d="M1149 1220l-4 0 9-3 4 6z"/>
<path fill="#1079da" d="M1446 1071l-5 1 9-21 4-13z"/>
<path fill="#0c93d2" d="M485 981l-5-16 9 6 4 12z"/>
<path fill="#0aacbe" d="M429 880l-4-15 8 7 5 14z"/>
<path fill="#0f5cdd" d="M1304 1160l-4-4 8-1 4-19zM1270 1173l-5 1 9-10 4 11z"/>
<path fill="#3637a0" d="M1089 1241l-4 6 8-11 5 2z"/>
<path fill="#0f5cdd" d="M652 1161l-5-6 9 3 4 0z"/>
<path fill="#0871de" d="M1407 1100l-4-8 8-17 5-1z"/>
<path fill="#06a7c6" d="M442 903l-4-17 8 10 4 17z"/>
<path fill="#3637a0" d="M1059 1251l-4 4 8-10 5 5z"/>
<path fill="#0871de" d="M579 1101l-4-18 8 13 4 8z"/>
<path fill="#1389d3" d="M515 1018l-5-9 9 8 4 3z"/>
<path fill="#3637a0" d="M1115 1249l-4-12 8-1 5-12z"/>
<path fill="#1079da" d="M562 1078l-5-2 9-3 4 13z"/>
<path fill="#1485d4" d="M1489 1027l-5 4 9-34 4-2z"/>
<path fill="#87bf77" d="M323 662l-5-343 9 3 4 347z"/>
<path fill="#0871de" d="M596 1110l-4-3 8 2 5 11z"/>
<path fill="#046de0" d="M1364 1128l-4 0 8-10 5-1z"/>
<path fill="#2053d4" d="M669 1179l-4-17 8 11 4-2z"/>
<path fill="#1079da" d="M1441 1072l-4-3 9-20 4 2z"/>
<path fill="#0268e1" d="M630 1145l-4-1 9 2 4 3z"/>
<path fill="#0363e1" d="M1300 1156l-5 7 9-18 4 10z"/>
<path fill="#06a4ca" d="M455 930l-5-17 9 3 4 15z"/>
<path fill="#2c4ac7" d="M1235 1192l-4-8 8 7 5-11z"/>
<path fill="#3243ba" d="M1171 1220l-4-3 8-2 4 3z"/>
<path fill="#353dad" d="M1141 1231l-5 2 9-10 4 3z"/>
<path fill="#0268e1" d="M1330 1142l-5 5 9-13 4 1z"/>
<path fill="#3637a0" d="M1085 1247l-4-11 8 10 4-10z"/>
<path fill="#1481d6" d="M545 1054l-5-7 9 11 4-2z"/>
<path fill="#0c93d2" d="M498 988l-5-5 9 9 4 9z"/>
<path fill="#1db3af" d="M395 825l-4-112 8 5 4 115z"/>
<path fill="#0f5cdd" d="M1265 1174l-4 2 9-8 4-4z"/>
<path fill="#1485d4" d="M1484 1031l-4 1 9-36 4 1z"/>
<path fill="#0d75dc" d="M1403 1092l-5 3 9-17 4-3z"/>
<path fill="#363093" d="M1055 1255l-4-6 8-2 4-2z"/>
<path fill="#079ccf" d="M468 949l-5-18 9 6 4 16z"/>
<path fill="#1485d4" d="M528 1035l-5-15 9 12 4 7z"/>
<path fill="#0363e1" d="M647 1155l-4-4 9 4 4 3z"/>
<path fill="#0f5cdd" d="M1295 1163l-4 0 9-15 4-3z"/>
<path fill="#2053d4" d="M1231 1184l-4 8 8-10 4 9z"/>
<path fill="#353dad" d="M1111 1237l-5-10 9 4 4 5z"/>
<path fill="#046de0" d="M1360 1128l-5-5 9-12 4 7z"/>
<path fill="#2c4ac7" d="M725 1200l-5-7 9 5 4 22z"/>
<path fill="#127dd8" d="M1437 1069l-4-4 8-18 5 2z"/>
<path fill="#046de0" d="M609 1122l-4-2 8 4 4 10z"/>
<path fill="#353dad" d="M1136 1233l-4-3 9-3 4-4z"/>
<path fill="#0871de" d="M1394 1102l-4 5 8-19 5 2z"/>
<path fill="#0f5cdd" d="M1261 1176l-4 3 8-17 5 6z"/>
<path fill="#108ed2" d="M510 1009l-4-8 9 5 4 11z"/>
<path fill="#1485d4" d="M1480 1032l-4-2 8-28 5-6z"/>
<path fill="#0268e1" d="M626 1144l-4-14 8 13 5 3z"/>
<path fill="#0363e1" d="M1325 1147l-4-7 9-8 4 2z"/>
<path fill="#0998d1" d="M480 965l-4-12 9 8 4 10z"/>
<path fill="#1079da" d="M557 1076l-4-20 9 17 4 0z"/>
<path fill="#0f5cdd" d="M1291 1163l-4-2 8-2 5-11z"/>
<path fill="#2c4ac7" d="M1197 1200l-5 1 9-4 4 9z"/>
<path fill="#3637a0" d="M999 1251l-4-6 8 9 5 7z"/>
<path fill="#353dad" d="M1081 1236l-5 13 9-32 4 29z"/>
<path fill="#2053d4" d="M1227 1192l-5-3 9 3 4-10z"/>
<path fill="#353dad" d="M1162 1227l-4-4 8-10 5 7z"/>
<path fill="#1481d6" d="M540 1047l-4-8 9 8 4 11z"/>
<path fill="#0faeb9" d="M425 865l-4-18 8 4 4 21z"/>
<path fill="#363093" d="M1021 1263l-5-15 9 10 4 2z"/>
<path fill="#127dd8" d="M1433 1065l-4 7 8-23 4-2z"/>
<path fill="#1485d4" d="M1476 1030l-5 0 9-26 4-2z"/>
<path fill="#0aacbe" d="M438 886l-5-14 9 5 4 19z"/>
<path fill="#0363e1" d="M643 1151l-4-2 8-4 5 10zM1287 1161l-5 5 9-13 4 6z"/>
<path fill="#0c93d2" d="M493 983l-4-12 8 6 5 15z"/>
<path fill="#0871de" d="M1390 1107l-4-4 8-18 4 3z"/>
<path fill="#0268e1" d="M1321 1140l-4 9 8-16 5-1z"/>
<path fill="#2053d4" d="M1222 1189l-4 15 9-24 4 12z"/>
<path fill="#353dad" d="M1102 1240l-4-2 8-1 5-3z"/>
<path fill="#0268e1" d="M1351 1133l-4 0 8-15 5-1z"/>
<path fill="#2053d4" d="M1252 1185l-4 0 9-13 4 2z"/>
<path fill="#06a7c6" d="M450 913l-4-17 9 7 4 13z"/>
<path fill="#0871de" d="M587 1104l-4-8 9 5 4 11z"/>
<path fill="#1389d3" d="M523 1020l-4-3 8 6 5 9z"/>
<path fill="#353dad" d="M780 1231l-4-6 9 2 4 10zM1132 1230l-4-15 8 6 5 6z"/>
<path fill="#1079da" d="M1429 1072l-5 3 9-26 4 0z"/>
<path fill="#3637a0" d="M1076 1249l-4-12 9 5 4-25z"/>
<path fill="#1079da" d="M570 1086l-4-13 9 10 4 9z"/>
<path fill="#3637a0" d="M969 1256l-4-9 8 0 5 12z"/>
<path fill="#87bf77" d="M331 669l-4-347 8 4 5 350z"/>
<path fill="#046de0" d="M605 1120l-5-11 9 7 4 8z"/>
<path fill="#1485d4" d="M1471 1030l-4 5 9-30 4-1z"/>
<path fill="#0f5cdd" d="M1282 1166l-4 9 9-17 4-5zM677 1171l-4 2 9 2 4 15z"/>
<path fill="#3243ba" d="M1188 1212l-4 7 8-21 4 1zM1158 1223l-4-6 8 4 4-8z"/>
<path fill="#2c4ac7" d="M1218 1204l-4 0 8-15 5-9z"/>
<path fill="#06a4ca" d="M463 931l-4-15 9 8 4 13z"/>
<path fill="#108ed2" d="M506 1001l-4-9 8 5 5 9z"/>
<path fill="#353dad" d="M1046 1235l-4 12 9-12 4 17z"/>
<path fill="#1db3af" d="M403 833l-4-115 9 9 4 113z"/>
<path fill="#0871de" d="M1386 1103l-5 2 9-21 4 1z"/>
<path fill="#0363e1" d="M1317 1149l-5-13 9-9 4 6z"/>
<path fill="#1485d4" d="M1467 1035l-4-2 8-19 5-9z"/>
<path fill="#1079da" d="M1424 1075l-4 2 8-30 5 2z"/>
<path fill="#0268e1" d="M639 1149l-4-3 8-3 4 2z"/>
<path fill="#353dad" d="M1098 1238l-5-2 9-5 4 6z"/>
<path fill="#2053d4" d="M695 1185l-5 4 9-5 4 13zM716 1194l-4 1 8-8 4 22z"/>
<path fill="#3243ba" d="M1184 1219l-5-1 9-14 4-6z"/>
<path fill="#1485d4" d="M536 1039l-4-7 8 4 5 11z"/>
<path fill="#079ccf" d="M476 953l-4-16 8 8 5 16z"/>
<path fill="#2053d4" d="M1248 1185l-4-5 8-17 5 9z"/>
<path fill="#2c4ac7" d="M1214 1204l-5-3 9-11 4-1z"/>
<path fill="#3243ba" d="M1154 1217l-5 9 9-15 4 10z"/>
<path fill="#046de0" d="M1347 1133l-4-7 8-22 4 14z"/>
<path fill="#3637a0" d="M1068 1250l-5-5 9-8 4 3z"/>
<path fill="#3243ba" d="M733 1220l-4-22 8 7 5 11z"/>
<path fill="#0871de" d="M1381 1105l-4 4 8-17 5-8z"/>
<path fill="#0f5cdd" d="M1278 1175l-4-11 8-17 5 11z"/>
<path fill="#0d75dc" d="M583 1096l-4-4 8 5 5 4z"/>
<path fill="#3243ba" d="M1124 1224l-5 12 9-13 4 0z"/>
<path fill="#1485d4" d="M1463 1033l-4 1 8-20 4 0z"/>
<path fill="#2c4ac7" d="M755 1205l-5 6 9 0 4 20z"/>
<path fill="#3637a0" d="M862 1253l-5-4 9 2 4 10z"/>
<path fill="#0268e1" d="M1312 1136l-4 19 9-26 4-2z"/>
<path fill="#046de0" d="M617 1134l-4-10 9-2 4 16z"/>
<path fill="#1389d3" d="M519 1017l-4-11 8 5 4 12z"/>
<path fill="#127dd8" d="M566 1073l-4 0 8 2 5 8z"/>
<path fill="#3637a0" d="M960 1246l-4 14 9-10 4 13z"/>
<path fill="#1079da" d="M1420 1077l-4-3 8-26 4-1z"/>
<path fill="#3243ba" d="M1179 1218l-4-3 9-12 4 1z"/>
<path fill="#0998d1" d="M489 971l-4-10 8 0 4 16z"/>
<path fill="#2053d4" d="M690 1189l-4 1 8-1 5-5z"/>
<path fill="#0268e1" d="M635 1146l-5-3 9 3 4-3z"/>
<path fill="#3243ba" d="M1149 1226l-4-3 9 0 4-12z"/>
<path fill="#1481d6" d="M549 1058l-4-11 8 4 4 18z"/>
<path fill="#0f5cdd" d="M673 1173l-4-4 8-7 5 13z"/>
<path fill="#0871de" d="M1377 1109l-4 8 8-31 4 6z"/>
<path fill="#2c4ac7" d="M1209 1201l-4 5 9-14 4-2z"/>
<path fill="#0363e1" d="M1308 1155l-4-10 8-2 5-14z"/>
<path fill="#0faeb9" d="M433 872l-4-21 9 7 4 19z"/>
<path fill="#363093" d="M1008 1261l-5-7 9 0 4 1z"/>
<path fill="#07a9c2" d="M446 896l-4-19 8 8 5 18z"/>
<path fill="#353dad" d="M1119 1236l-4-5 8-12 5 4zM793 1232l-4 5 8-12 5 6z"/>
<path fill="#046de0" d="M1338 1135l-4-1 8-13 5-2z"/>
<path fill="#1485d4" d="M1459 1034l-5 4 9-27 4 3z"/>
<path fill="#2053d4" d="M1239 1191l-4-9 9-5 4-5z"/>
<path fill="#0363e1" d="M1274 1164l-4 4 8-10 4-11z"/>
<path fill="#1079da" d="M1416 1074l-5 1 9-15 4-12z"/>
<path fill="#0c93d2" d="M502 992l-5-15 9 8 4 12z"/>
<path fill="#0d75dc" d="M579 1092l-4-9 8 16 4-2z"/>
<path fill="#0871de" d="M1373 1117l-5 1 9-29 4-3z"/>
<path fill="#1485d4" d="M532 1032l-5-9 9 6 4 7z"/>
<path fill="#3243ba" d="M1145 1223l-4 4 8-16 5 12z"/>
<path fill="#06a7c6" d="M459 916l-4-13 8 4 5 17z"/>
<path fill="#0871de" d="M596 1112l-4-11 8 9 4 5z"/>
<path fill="#3243ba" d="M1175 1215l-4 5 8-23 5 6z"/>
<path fill="#363093" d="M1029 1260l-4-2 8-9 5 8z"/>
<path fill="#1485d4" d="M1454 1038l-4 13 8-39 5-1z"/>
<path fill="#0268e1" d="M630 1143l-4-5 8 5 5 3z"/>
<path fill="#2c4ac7" d="M1205 1206l-4-9 8-12 5 7z"/>
<path fill="#127dd8" d="M562 1073l-5-4 9 0 4 6z"/>
<path fill="#3637a0" d="M1089 1246l-4-29 8 10 5 7z"/>
<path fill="#7cbf7b" d="M340 676l-5-350 9 3 4 355z"/>
<path fill="#0268e1" d="M1300 1148l-5 11 9-13 4 1z"/>
<path fill="#1079da" d="M1411 1075l-4 3 8-25 5 7z"/>
<path fill="#2053d4" d="M686 1190l-4-15 8 2 4 12z"/>
<path fill="#0f5cdd" d="M1270 1168l-5-6 9-10 4 6z"/>
<path fill="#046de0" d="M613 1124l-4-8 8 10 5-4z"/>
<path fill="#06a4ca" d="M472 937l-4-13 8 7 4 14z"/>
<path fill="#3637a0" d="M978 1259l-5-12 9 17 4-14z"/>
<path fill="#353dad" d="M789 1237l-4-10 8 8 4-10zM1115 1231l-4 3 8-14 4-1z"/>
<path fill="#046de0" d="M1334 1134l-4-2 8-15 4 4z"/>
<path fill="#1481d6" d="M1450 1051l-4-2 8-30 4-7z"/>
<path fill="#1db3af" d="M412 840l-4-113 8 5 5 115z"/>
<path fill="#0871de" d="M1368 1118l-4-7 9-14 4-8z"/>
<path fill="#3243ba" d="M746 1216l-4 0 8-13 4 15z"/>
<path fill="#108ed2" d="M515 1006l-5-9 9 4 4 10z"/>
<path fill="#2c4ac7" d="M724 1209l-4-22 9 22 4 3z"/>
<path fill="#2053d4" d="M703 1197l-4-13 8 17 5-1z"/>
<path fill="#1079da" d="M1407 1078l-4 12 8-35 4-2z"/>
<path fill="#3637a0" d="M1055 1252l-4-17 8 4 4 12z"/>
<path fill="#0268e1" d="M647 1145l-4-2 9 6 4 17z"/>
<path fill="#3243ba" d="M1141 1227l-5-6 9-5 4-5z"/>
<path fill="#2053d4" d="M1231 1192l-4-12 8-1 4 6z"/>
<path fill="#1481d6" d="M545 1047l-5-11 9 7 4 8z"/>
<path fill="#079ccf" d="M485 961l-5-16 9 4 4 12z"/>
<path fill="#353dad" d="M1111 1234l-5 3 9-10 4-7z"/>
<path fill="#0363e1" d="M1295 1159l-4-6 8-9 5 2z"/>
<path fill="#3243ba" d="M1171 1220l-5-7 9-19 4 3z"/>
<path fill="#2053d4" d="M1201 1197l-5 2 9-4 4-10z"/>
<path fill="#3637a0" d="M973 1247l-4 16 8-15 5 16z"/>
<path fill="#046de0" d="M1330 1132l-5 1 9-7 4-9z"/>
<path fill="#3637a0" d="M1025 1258l-5-5 9-6 4 2z"/>
<path fill="#1481d6" d="M1446 1049l-5-2 9-27 4-1z"/>
<path fill="#0871de" d="M1364 1111l-4 6 8-21 5 1z"/>
<path fill="#1079da" d="M575 1083l-5-8 9 8 4 16z"/>
<path fill="#0871de" d="M609 1116l-5-1 9 1 4 10z"/>
<path fill="#0d75dc" d="M1403 1090l-5-2 9-35 4 2z"/>
<path fill="#353dad" d="M763 1231l-4-20 8 11 5-6z"/>
<path fill="#0f5cdd" d="M1261 1174l-4-2 8-15 4 3z"/>
<path fill="#1389d3" d="M527 1023l-4-12 9 6 4 12z"/>
<path fill="#046de0" d="M626 1138l-4-16 8 16 4 5z"/>
<path fill="#0998d1" d="M497 977l-4-16 9 15 4 9z"/>
<path fill="#2053d4" d="M1196 1199l-4-1 9-3 4 0z"/>
<path fill="#353dad" d="M1106 1237l-4-6 9 0 4-4z"/>
<path fill="#127dd8" d="M557 1069l-4-18 9 14 4 4z"/>
<path fill="#3243ba" d="M1136 1221l-4 2 9-5 4-2z"/>
<path fill="#2c4ac7" d="M1166 1213l-4 8 9-20 4-7z"/>
<path fill="#3243ba" d="M742 1216l-5-11 9 4 4-6z"/>
<path fill="#0268e1" d="M1291 1153l-4 5 8-12 4-2z"/>
<path fill="#0aacbe" d="M442 877l-4-19 8 7 4 20z"/>
<path fill="#0363e1" d="M660 1163l-4 3 8-6 5 13z"/>
<path fill="#1481d6" d="M1441 1047l-4 2 9-25 4-4z"/>
<path fill="#046de0" d="M1325 1133l-4-6 9-4 4 3z"/>
<path fill="#0871de" d="M1360 1117l-5 1 9-26 4 4z"/>
<path fill="#363093" d="M870 1261l-4-10 8-4 5 4z"/>
<path fill="#07a9c2" d="M455 903l-5-18 9 6 4 16z"/>
<path fill="#0f5cdd" d="M699 1184l-5 5 9-9 4 21z"/>
<path fill="#3243ba" d="M1162 1221l-4-10 8 3 5-13z"/>
<path fill="#0f5cdd" d="M1227 1180l-5 9 9-22 4 12z"/>
<path fill="#363093" d="M969 1263l-4-13 8 2 4-4z"/>
<path fill="#1079da" d="M1398 1088l-4-3 9-21 4-11z"/>
<path fill="#0c93d2" d="M510 997l-4-12 9 4 4 12z"/>
<path fill="#3637a0" d="M1020 1253l-4 2 9-18 4 10z"/>
<path fill="#3243ba" d="M1132 1223l-4 0 8-7 5 2z"/>
<path fill="#0f5cdd" d="M1257 1172l-5-9 9 1 4-7z"/>
<path fill="#1485d4" d="M540 1036l-4-7 8 6 5 8z"/>
<path fill="#06a4ca" d="M468 924l-5-17 9 6 4 18z"/>
<path fill="#0d75dc" d="M587 1097l-4 2 9-8 4 15z"/>
<path fill="#353dad" d="M1072 1237l-4 13 8-10 4 3z"/>
<path fill="#0363e1" d="M1287 1158l-5-11 9 2 4-3z"/>
<path fill="#0871de" d="M604 1115l-4-5 9 4 4 2z"/>
<path fill="#1481d6" d="M1437 1049l-4 0 8-28 5 3z"/>
<path fill="#1079da" d="M1394 1085l-4-1 8-17 5-3z"/>
<path fill="#2c4ac7" d="M1158 1211l-4 12 8-20 4 11zM1188 1204l-4-1 8-3 4-3z"/>
<path fill="#0871de" d="M622 1122l-5 4 9 3 4 9z"/>
<path fill="#3637a0" d="M1042 1250l-4 7 8-21 4 16z"/>
<path fill="#06a0cd" d="M480 945l-4-14 9 8 4 10z"/>
<path fill="#046de0" d="M1321 1127l-4 2 8-5 5-1z"/>
<path fill="#2053d4" d="M1222 1189l-4 1 8-19 5-4z"/>
<path fill="#3637a0" d="M1068 1250l-5 1 9-5 4-6z"/>
<path fill="#7cbf7b" d="M348 684l-4-355 8 3 5 355z"/>
<path fill="#0871de" d="M1355 1118l-4-14 9-2 4-10z"/>
<path fill="#127dd8" d="M570 1075l-4-6 8 3 5 11z"/>
<path fill="#15b1b4" d="M421 847l-5-115 9 7 4 112z"/>
<path fill="#108ed2" d="M523 1011l-4-10 8 9 5 7z"/>
<path fill="#0363e1" d="M1252 1163l-4 9 8-11 5 3z"/>
<path fill="#353dad" d="M1098 1234l-5-7 9 4 4 5z"/>
<path fill="#0268e1" d="M639 1146l-5-3 9-8 4 10z"/>
<path fill="#2053d4" d="M694 1189l-4-12 9 15 4-12z"/>
<path fill="#3243ba" d="M1128 1223l-5-4 9 0 4-3z"/>
<path fill="#1079da" d="M1390 1084l-5 8 9-22 4-3z"/>
<path fill="#2c4ac7" d="M733 1212l-4-3 8-2 5 1z"/>
<path fill="#0363e1" d="M656 1166l-4-17 8 7 4 4z"/>
<path fill="#2053d4" d="M1218 1190l-4 2 8-12 4-9z"/>
<path fill="#1481d6" d="M553 1051l-4-8 8 4 5 18z"/>
<path fill="#0268e1" d="M1282 1147l-4 11 9-12 4 3z"/>
<path fill="#1481d6" d="M1433 1049l-5-2 9-24 4-2z"/>
<path fill="#079ccf" d="M493 961l-4-12 8 5 5 22z"/>
<path fill="#2053d4" d="M712 1200l-5 1 9-13 4 14z"/>
<path fill="#0268e1" d="M1312 1143l-4 4 9-18 4-2z"/>
<path fill="#0d75dc" d="M600 1110l-4-4 8 6 5 2z"/>
<path fill="#2c4ac7" d="M1184 1203l-5-6 9-5 4 8z"/>
<path fill="#0f5cdd" d="M1244 1177l-5 8 9-16 4-1z"/>
<path fill="#3243ba" d="M1154 1223l-5-12 9-12 4 4z"/>
<path fill="#0d75dc" d="M583 1099l-4-16 8 3 5 5z"/>
<path fill="#046de0" d="M617 1126l-4-10 9 12 4 1z"/>
<path fill="#0871de" d="M1347 1119l-5 2 9-23 4 5z"/>
<path fill="#1389d3" d="M536 1029l-4-12 8 8 4 10z"/>
<path fill="#0363e1" d="M1278 1158l-4-6 8 2 5-8z"/>
<path fill="#0998d1" d="M506 985l-4-9 8-1 5 14z"/>
<path fill="#363093" d="M982 1264l-5-16 9 13 4-5z"/>
<path fill="#1079da" d="M1385 1092l-4-6 9-21 4 5z"/>
<path fill="#3637a0" d="M1063 1251l-4-12 9-8 4 15z"/>
<path fill="#0f5cdd" d="M690 1177l-4 5 8 1 5 9z"/>
<path fill="#3243ba" d="M1123 1219l-4 1 9-5 4 4zM814 1228l-4 11 9-2 4 18z"/>
<path fill="#2053d4" d="M1214 1192l-5-7 9-8 4 3z"/>
<path fill="#353dad" d="M1008 1248l-5 7 9-3 4 7z"/>
<path fill="#1485d4" d="M1428 1047l-4 1 9-24 4-1z"/>
<path fill="#3637a0" d="M1038 1257l-5-8 9-25 4 12z"/>
<path fill="#353dad" d="M836 1244l-4-1 8 2 4 7z"/>
<path fill="#127dd8" d="M566 1069l-4-4 8-1 4 8z"/>
<path fill="#0268e1" d="M634 1143l-4-5 9-4 4 1z"/>
<path fill="#0aacbe" d="M450 885l-4-20 9 5 4 21z"/>
<path fill="#0268e1" d="M1308 1147l-4-1 8-21 5 4z"/>
<path fill="#2c4ac7" d="M729 1209l-5-12 9 7 4 3z"/>
<path fill="#3637a0" d="M857 1250l-4-6 9 5 4 9z"/>
<path fill="#0268e1" d="M1274 1152l-5 8 9-7 4 1z"/>
<path fill="#07a9c2" d="M463 907l-4-16 8 4 5 18z"/>
<path fill="#0f5cdd" d="M1239 1185l-4-6 9-11 4 1zM669 1173l-5-13 9 7 4 4z"/>
<path fill="#0c93d2" d="M519 1001l-4-12 8 10 4 11z"/>
<path fill="#1485d4" d="M1424 1048l-4 12 8-38 5 2z"/>
<path fill="#3243ba" d="M1089 1231l-4-6 8 7 5 3z"/>
<path fill="#06a4ca" d="M476 931l-4-18 8 7 5 19z"/>
<path fill="#1485d4" d="M549 1043l-5-8 9 9 4 3z"/>
<path fill="#2053d4" d="M707 1201l-4-21 8 14 5-6z"/>
<path fill="#0871de" d="M1342 1121l-4-4 9-21 4 2z"/>
<path fill="#0d75dc" d="M596 1106l-4-15 8 17 4 4z"/>
<path fill="#2c4ac7" d="M1145 1216l-4 2 8-10 4 7z"/>
<path fill="#1079da" d="M1381 1086l-4 3 8-30 5 6z"/>
<path fill="#0f5cdd" d="M686 1182l-4-5 8 0 4 6z"/>
<path fill="#0871de" d="M613 1116l-4-2 8 4 5 10z"/>
<path fill="#363093" d="M999 1271l-4-8 8-14 4 9z"/>
<path fill="#1481d6" d="M1420 1060l-5-7 9-21 4-10z"/>
<path fill="#3243ba" d="M1115 1227l-4 4 8-16 4 3z"/>
<path fill="#0268e1" d="M1304 1146l-5-2 9-23 4 4z"/>
<path fill="#3637a0" d="M1055 1250l-5 2 9-12 4-2z"/>
<path fill="#2053d4" d="M1205 1195l-4 0 8-18 5 6z"/>
<path fill="#0363e1" d="M1269 1160l-4-3 9-9 4 5z"/>
<path fill="#046de0" d="M630 1138l-4-9 8 5 5 0z"/>
<path fill="#2053d4" d="M1175 1194l-4 7 8-6 4 8z"/>
<path fill="#1079da" d="M579 1083l-5-11 9 8 4 6z"/>
<path fill="#06a0cd" d="M489 949l-4-10 8 1 4 14z"/>
<path fill="#0871de" d="M1338 1117l-4 9 8-22 5-8z"/>
<path fill="#7cbf7b" d="M357 687l-5-355 9 3 4 361z"/>
<path fill="#108ed2" d="M532 1017l-5-7 9 2 4 13z"/>
<path fill="#1079da" d="M1377 1089l-4 8 8-29 4-9z"/>
<path fill="#15b1b4" d="M429 851l-4-112 8 3 5 116z"/>
<path fill="#353dad" d="M1080 1243l-4-3 9-1 4-8z"/>
<path fill="#1481d6" d="M562 1065l-5-18 9 12 4 5z"/>
<path fill="#3243ba" d="M1111 1231l-5 5 9-13 4-8z"/>
<path fill="#0f5cdd" d="M1235 1179l-4-12 8 1 5 0z"/>
<path fill="#3243ba" d="M1025 1237l-5 24 9-22 4 24z"/>
<path fill="#0d75dc" d="M1373 1097l-5-1 9-22 4-6z"/>
<path fill="#0998d1" d="M502 976l-5-22 9 8 4 13z"/>
<path fill="#2c4ac7" d="M1141 1218l-5-2 9-7 4-1z"/>
<path fill="#1481d6" d="M1415 1053l-4 2 9-24 4 1z"/>
<path fill="#0363e1" d="M664 1160l-4-4 9 5 4 6z"/>
<path fill="#2053d4" d="M1171 1201l-5 13 9-25 4 6z"/>
<path fill="#0268e1" d="M1299 1144l-4 2 9-21 4-4z"/>
<path fill="#2053d4" d="M1201 1195l-5 2 9-15 4-5z"/>
<path fill="#0268e1" d="M1265 1157l-4 7 8-17 5 1z"/>
<path fill="#0871de" d="M1334 1126l-4-3 8-30 4 11z"/>
<path fill="#3637a0" d="M995 1263l-5-7 9 6 4-13z"/>
<path fill="#0f5cdd" d="M682 1177l-5-6 9 4 4 2z"/>
<path fill="#2053d4" d="M720 1202l-4-14 8 17 5 2z"/>
<path fill="#0871de" d="M609 1114l-5-2 9 0 4 6z"/>
<path fill="#3637a0" d="M1050 1252l-4-16 9 4 4 0zM849 1255l-5-3 9-17 4 12zM823 1255l-4-18 8 13 4 3z"/>
<path fill="#1079da" d="M592 1091l-5-5 9 9 4 13z"/>
<path fill="#0268e1" d="M1295 1146l-4 3 8-12 5-12z"/>
<path fill="#353dad" d="M1106 1236l-4-5 8-11 5 3z"/>
<path fill="#1389d3" d="M544 1035l-4-10 9-1 4 20z"/>
<path fill="#0998d1" d="M515 989l-5-14 9 9 4 15z"/>
<path fill="#2c4ac7" d="M1166 1214l-4-11 9 0 4-14z"/>
<path fill="#2053d4" d="M699 1192l-5-9 9 2 4 6z"/>
<path fill="#3637a0" d="M1020 1261l-4-2 9-21 4 1z"/>
<path fill="#1481d6" d="M1411 1055l-4-2 8-19 5-3z"/>
<path fill="#2c4ac7" d="M1136 1216l-4 3 8-12 5 2z"/>
<path fill="#127dd8" d="M574 1072l-4-8 9 14 4 2z"/>
<path fill="#1079da" d="M1368 1096l-4-4 8-21 5 3z"/>
<path fill="#2053d4" d="M1196 1197l-4 3 9-25 4 7z"/>
<path fill="#0363e1" d="M1261 1164l-5-3 9-10 4-4z"/>
<path fill="#0aacbe" d="M459 891l-4-21 8 5 4 20z"/>
<path fill="#3637a0" d="M990 1256l-4 5 9-5 4 6z"/>
<path fill="#0363e1" d="M1231 1167l-5 4 9-13 4 10z"/>
<path fill="#0871de" d="M1330 1123l-5 1 9-15 4-16z"/>
<path fill="#07a9c2" d="M472 913l-5-18 9 6 4 19z"/>
<path fill="#108ed2" d="M527 1010l-4-11 9 6 4 7z"/>
<path fill="#0268e1" d="M1291 1149l-4-3 8-18 4 9z"/>
<path fill="#3637a0" d="M866 1258l-4-9 8 6 4-5zM844 1252l-4-7 9 3 4-13z"/>
<path fill="#1485d4" d="M557 1047l-4-3 8 2 5 13z"/>
<path fill="#0d75dc" d="M604 1112l-4-4 9 6 4-2z"/>
<path fill="#1481d6" d="M1407 1053l-4 11 8-35 4 5z"/>
<path fill="#06a4ca" d="M485 939l-5-19 9 6 4 14z"/>
<path fill="#2c4ac7" d="M1132 1219l-4-4 8 1 4-9z"/>
<path fill="#0871de" d="M1325 1124l-4 3 8-24 5 6z"/>
<path fill="#353dad" d="M1072 1246l-4-15 8 1 4 8z"/>
<path fill="#3243ba" d="M1102 1231l-4 4 8-20 4 5z"/>
<path fill="#3637a0" d="M965 1253l-5-3 9 3 4 5z"/>
<path fill="#0363e1" d="M1256 1161l-4 7 9-23 4 6z"/>
<path fill="#0871de" d="M622 1128l-5-10 9 3 4 14z"/>
<path fill="#2053d4" d="M1192 1200l-4-8 8-7 5-10z"/>
<path fill="#1079da" d="M1364 1092l-4 10 8-37 4 6z"/>
<path fill="#3637a0" d="M1016 1259l-4-7 8-10 5-4z"/>
<path fill="#0f5cdd" d="M1222 1180l-4-3 8-4 5 0z"/>
<path fill="#3637a0" d="M986 1261l-4-6 8 5 5-4z"/>
<path fill="#1481d6" d="M1403 1064l-5 3 9-37 4-1z"/>
<path fill="#06a0cd" d="M497 954l-4-14 9 11 4 11z"/>
<path fill="#1079da" d="M587 1086l-4-6 8 4 5 11z"/>
<path fill="#0268e1" d="M1287 1146l-5 8 9-21 4-5z"/>
<path fill="#0363e1" d="M1252 1168l-4 1 8-11 5-13z"/>
<path fill="#7cbf7b" d="M365 696l-4-361 8 4 5 362z"/>
<path fill="#1481d6" d="M570 1064l-4-5 8 8 5 11z"/>
<path fill="#15b1b4" d="M438 858l-5-116 9 9 4 114z"/>
<path fill="#0871de" d="M1321 1127l-4 2 8-22 4-4z"/>
<path fill="#0f5cdd" d="M694 1183l-4-6 9-4 4 12z"/>
<path fill="#3243ba" d="M1098 1235l-5-3 9-10 4-7zM1042 1224l-5 30 9-22 4 15z"/>
<path fill="#0d75dc" d="M1360 1102l-5 1 9-34 4-4z"/>
<path fill="#1389d3" d="M540 1025l-4-13 8 8 5 4z"/>
<path fill="#3637a0" d="M1037 1254l-4 9 9-21 4-10z"/>
<path fill="#0f5cdd" d="M1188 1192l-5 11 9-23 4 5z"/>
<path fill="#2053d4" d="M711 1194l-4-3 9 1 4 8z"/>
<path fill="#0268e1" d="M1282 1154l-4-1 8-16 5-4z"/>
<path fill="#3637a0" d="M909 1256l-5-12 9 5 4 19z"/>
<path fill="#079ccf" d="M510 975l-4-13 8 6 5 16z"/>
<path fill="#1481d6" d="M1398 1067l-4 3 8-38 5-2z"/>
<path fill="#0363e1" d="M1218 1177l-4 6 8-15 4 5zM1248 1169l-4-1 8-9 4-1z"/>
<path fill="#2c4ac7" d="M1153 1215l-4-7 9-5 4 1zM1123 1218l-4-3 9 1 4 1z"/>
<path fill="#3637a0" d="M982 1255l-5-3 9 0 4 8zM1007 1258l-4-9 9 4 4-1z"/>
<path fill="#0871de" d="M1317 1129l-5-4 9-13 4-5z"/>
<path fill="#0c93d2" d="M523 999l-4-15 8 10 5 11z"/>
<path fill="#3243ba" d="M1093 1232l-4-1 8-6 5-3z"/>
<path fill="#2053d4" d="M1183 1203l-4-8 9 0 4-15z"/>
<path fill="#0d75dc" d="M600 1108l-4-13 8-4 5 23zM1355 1103l-4-5 8-25 5-4z"/>
<path fill="#046de0" d="M634 1134l-4 1 9-4 4 14z"/>
<path fill="#1485d4" d="M553 1044l-4-20 8 15 4 7z"/>
<path fill="#2053d4" d="M729 1207l-5-2 9-3 4 0z"/>
<path fill="#0871de" d="M617 1118l-4-6 8 8 5 1z"/>
<path fill="#3637a0" d="M1033 1263l-4-24 8 2 5 1z"/>
<path fill="#127dd8" d="M583 1080l-4-2 8 1 4 5zM1394 1070l-4-5 8-30 4-3z"/>
<path fill="#0268e1" d="M669 1161l-5 11 9-14 4 20z"/>
<path fill="#046de0" d="M651 1145l-4-4 9 7 4 16z"/>
<path fill="#0363e1" d="M1244 1168l-5 0 9-9 4 0z"/>
<path fill="#0268e1" d="M1278 1153l-4-5 8-18 4 7z"/>
<path fill="#3243ba" d="M810 1233l-4 8 8-6 5 18zM1089 1231l-4 8 8-16 4 2z"/>
<path fill="#0aacbe" d="M467 895l-4-20 9 6 4 20z"/>
<path fill="#0f5cdd" d="M1214 1183l-5-6 9-11 4 2z"/>
<path fill="#2c4ac7" d="M767 1220l-4-4 8 4 5 18zM1119 1215l-4 8 8-10 5 3z"/>
<path fill="#2053d4" d="M1149 1208l-4 1 8-9 5 3z"/>
<path fill="#06a7c6" d="M480 920l-4-19 8 6 5 19z"/>
<path fill="#108ed2" d="M536 1012l-4-7 8 2 4 13z"/>
<path fill="#2053d4" d="M1179 1195l-4-6 8-3 5 9z"/>
<path fill="#0871de" d="M1312 1125l-4-4 9-16 4 7z"/>
<path fill="#1079da" d="M1351 1098l-4-2 8-24 4 1z"/>
<path fill="#1481d6" d="M566 1059l-5-13 9 3 4 18z"/>
<path fill="#353dad" d="M831 1253l-4-3 9-14 4-3z"/>
<path fill="#06a4ca" d="M493 940l-4-14 8 4 5 21z"/>
<path fill="#3243ba" d="M1085 1239l-5 1 9-13 4-4z"/>
<path fill="#3637a0" d="M999 1262l-4-6 8-1 4 0z"/>
<path fill="#2053d4" d="M724 1205l-4-5 9-4 4 6z"/>
<path fill="#1481d6" d="M1390 1065l-5-6 9-22 4-2z"/>
<path fill="#0d75dc" d="M613 1112l-4 2 8-7 4 13z"/>
<path fill="#2c4ac7" d="M1115 1223l-5-3 9-3 4-4z"/>
<path fill="#3243ba" d="M1055 1240l-5 7 9-10 4 3z"/>
<path fill="#06a0cd" d="M506 962l-4-11 8 4 4 13z"/>
<path fill="#1079da" d="M1347 1096l-5 8 9-27 4-5z"/>
<path fill="#0363e1" d="M664 1172l-4-8 8-3 5-3z"/>
<path fill="#2053d4" d="M1145 1209l-5-2 9-3 4-4z"/>
<path fill="#0363e1" d="M1209 1177l-4 5 8-19 5 3z"/>
<path fill="#046de0" d="M630 1135l-4-14 8 4 5 6z"/>
<path fill="#3637a0" d="M973 1258l-4-5 8-3 5 4z"/>
<path fill="#0268e1" d="M1274 1148l-5-1 9-19 4 2z"/>
<path fill="#15b1b4" d="M446 865l-4-114 8 5 5 114z"/>
<path fill="#0363e1" d="M1239 1168l-4-10 8-14 5 15z"/>
<path fill="#1079da" d="M596 1095l-5-11 9 5 4 2z"/>
<path fill="#108ed2" d="M549 1024l-5-4 9 4 4 15z"/>
<path fill="#7cbf7b" d="M374 701l-5-362 9 3 4 365z"/>
<path fill="#0871de" d="M1308 1121l-4 4 8-21 5 1z"/>
<path fill="#127dd8" d="M579 1078l-5-11 9-5 4 17z"/>
<path fill="#0363e1" d="M681 1173l-4 5 9-3 4 4z"/>
<path fill="#1481d6" d="M1385 1059l-4 9 9-27 4-4z"/>
<path fill="#353dad" d="M827 1250l-4-7 8-7 5 0z"/>
<path fill="#2053d4" d="M741 1208l-4-6 9 6 4 12z"/>
<path fill="#0998d1" d="M519 984l-5-16 9 8 4 18z"/>
<path fill="#3243ba" d="M1080 1240l-4-8 9-6 4 1z"/>
<path fill="#2053d4" d="M1171 1203l-5 2 9-18 4 5zM1140 1207l-4 9 9-11 4-1z"/>
<path fill="#3243ba" d="M780 1233l-4 5 8-9 5 4z"/>
<path fill="#353dad" d="M995 1256l-5 4 9-12 4 7z"/>
<path fill="#0d75dc" d="M1342 1104l-4-11 9-13 4-3z"/>
<path fill="#046de0" d="M1269 1147l-4 4 9-16 4-7z"/>
<path fill="#0f5cdd" d="M1205 1182l-4-7 8-5 4-7z"/>
<path fill="#353dad" d="M1050 1247l-4-15 9 6 4-1z"/>
<path fill="#3637a0" d="M917 1268l-4-19 8-1 5 14z"/>
<path fill="#1481d6" d="M1381 1068l-4 6 8-39 5 6z"/>
<path fill="#2c4ac7" d="M1110 1220l-4-5 9-12 4 14zM1136 1216l-4 1 8-7 5-5z"/>
<path fill="#1485d4" d="M561 1046l-4-7 9 9 4 1z"/>
<path fill="#2053d4" d="M720 1200l-4-8 8-5 5 9z"/>
<path fill="#0363e1" d="M1231 1173l-5 0 9-9 4-5z"/>
<path fill="#0c93d2" d="M532 1005l-5-11 9-2 4 15z"/>
<path fill="#046de0" d="M1299 1137l-4-9 9-16 4 5z"/>
<path fill="#0268e1" d="M660 1164l-4-16 8 11 4 2z"/>
<path fill="#1079da" d="M1338 1093l-4 16 8-28 5-1z"/>
<path fill="#0268e1" d="M1265 1151l-4-6 8-4 5-6z"/>
<path fill="#0871de" d="M626 1121l-5-1 9 2 4 3z"/>
<path fill="#3243ba" d="M1020 1242l-4 10 8-11 5 2z"/>
<path fill="#0d75dc" d="M609 1114l-5-23 9 14 4 2z"/>
<path fill="#046de0" d="M643 1145l-4-14 8-2 4 22z"/>
<path fill="#3243ba" d="M1076 1232l-4 8 8-16 5 2z"/>
<path fill="#2053d4" d="M1166 1205l-4-1 8-17 5 0z"/>
<path fill="#0aacbe" d="M476 901l-4-20 8 7 4 19z"/>
<path fill="#127dd8" d="M591 1084l-4-5 9 2 4 8z"/>
<path fill="#3637a0" d="M990 1260l-4-8 8-5 5 1z"/>
<path fill="#0363e1" d="M677 1178l-4-20 8 11 5 6z"/>
<path fill="#127dd8" d="M1377 1074l-5-3 9-32 4-4z"/>
<path fill="#06a7c6" d="M489 926l-5-19 9 7 4 16z"/>
<path fill="#3243ba" d="M776 1238l-5-18 9 3 4 6z"/>
<path fill="#353dad" d="M819 1253l-5-18 9 0 4 14z"/>
<path fill="#0363e1" d="M1226 1173l-4-5 9-6 4 2z"/>
<path fill="#2c4ac7" d="M1132 1217l-4-1 8-16 4 10z"/>
<path fill="#0d75dc" d="M1334 1109l-5-6 9-24 4 2z"/>
<path fill="#0f5cdd" d="M1196 1185l-4-5 8-8 5 1z"/>
<path fill="#353dad" d="M1016 1252l-4 1 8-13 4 1z"/>
<path fill="#3637a0" d="M887 1258l-4-4 8-3 5 8z"/>
<path fill="#108ed2" d="M544 1020l-4-13 9 6 4 11z"/>
<path fill="#2053d4" d="M1162 1204l-4-1 8-6 4-10z"/>
<path fill="#06a4ca" d="M502 951l-5-21 9 7 4 18z"/>
<path fill="#0363e1" d="M694 1181l-4-2 8 4 5 6z"/>
<path fill="#2c4ac7" d="M1102 1222l-5 3 9-10 4 2z"/>
<path fill="#1481d6" d="M574 1067l-4-18 9 12 4 1z"/>
<path fill="#353dad" d="M934 1256l-4 2 9-7 4 21z"/>
<path fill="#0871de" d="M1295 1128l-4 5 8-24 5 3z"/>
<path fill="#0268e1" d="M1256 1158l-4 1 9-16 4 1z"/>
<path fill="#3243ba" d="M1042 1242l-5-1 9-5 4 4z"/>
<path fill="#3637a0" d="M861 1259l-4-15 9 9 4-5z"/>
<path fill="#079ccf" d="M514 968l-4-13 9 6 4 15z"/>
<path fill="#046de0" d="M656 1148l-5 3 9-2 4 10z"/>
<path fill="#1481d6" d="M1372 1071l-4-6 9-24 4-2z"/>
<path fill="#353dad" d="M1012 1253l-5 2 9-11 4-4z"/>
<path fill="#0d75dc" d="M621 1120l-4-13 9 5 4 10z"/>
<path fill="#1389d3" d="M557 1039l-4-15 8 5 5 19z"/>
<path fill="#2053d4" d="M1158 1203l-5-3 9-4 4 1z"/>
<path fill="#2c4ac7" d="M1128 1216l-5-3 9-3 4-10z"/>
<path fill="#1079da" d="M1329 1103l-4 4 9-27 4-1z"/>
<path fill="#0f5cdd" d="M1188 1195l-5-9 9-3 4 1z"/>
<path fill="#2c4ac7" d="M1097 1225l-4-2 9-2 4-6z"/>
<path fill="#15b1b4" d="M455 870l-5-114 9 4 4 115z"/>
<path fill="#0871de" d="M1291 1133l-5 4 9-26 4-2z"/>
<path fill="#2c4ac7" d="M750 1220l-4-12 8 11 4 0z"/>
<path fill="#0363e1" d="M1222 1168l-4-2 8-4 5 0z"/>
<path fill="#0871de" d="M639 1131l-5-6 9 7 4-3z"/>
<path fill="#71bf80" d="M382 707l-4-365 8 3 5 368z"/>
<path fill="#0268e1" d="M1252 1159l-4 0 8-16 5 0z"/>
<path fill="#0998d1" d="M527 994l-4-18 8 4 5 12z"/>
<path fill="#127dd8" d="M587 1079l-4-17 8 15 5 4z"/>
<path fill="#0268e1" d="M673 1158l-5 3 9-1 4 9z"/>
<path fill="#3243ba" d="M1063 1240l-4-3 8-8 5 12z"/>
<path fill="#353dad" d="M930 1258l-4 4 8-12 5 1zM982 1254l-5-4 9-3 4 7z"/>
<path fill="#1481d6" d="M1368 1065l-4 4 8-25 5-3z"/>
<path fill="#2053d4" d="M1123 1213l-4 4 8-9 5 2z"/>
<path fill="#3243ba" d="M1037 1241l-4 2 9-15 4 8z"/>
<path fill="#353dad" d="M1007 1255l-4 0 9-16 4 5z"/>
<path fill="#0d75dc" d="M1325 1107l-4 5 8-34 5 2z"/>
<path fill="#0363e1" d="M690 1179l-4-4 8-7 4 15z"/>
<path fill="#3637a0" d="M952 1264l-5-14 9 9 4 10z"/>
<path fill="#2c4ac7" d="M1093 1223l-4 4 8-10 5 4z"/>
<path fill="#046de0" d="M1286 1137l-4-7 9-17 4-2z"/>
<path fill="#2053d4" d="M1153 1200l-4 4 9-16 4 8z"/>
<path fill="#0f5cdd" d="M1183 1186l-4 6 9-13 4 4zM729 1196l-5-9 9 9 4 17z"/>
<path fill="#2c4ac7" d="M767 1225l-4-3 8 1 5 2z"/>
<path fill="#1485d4" d="M570 1049l-4-1 8-8 5 21z"/>
<path fill="#0c93d2" d="M540 1007l-4-15 8 11 5 10z"/>
<path fill="#1481d6" d="M1364 1069l-5 4 9-29 4 0z"/>
<path fill="#0268e1" d="M1218 1166l-5-3 9-8 4 7z"/>
<path fill="#353dad" d="M1003 1255l-4-7 8 10 5-19z"/>
<path fill="#046de0" d="M651 1151l-4-22 9 16 4 4z"/>
<path fill="#0871de" d="M634 1125l-4-3 8 2 5 8z"/>
<path fill="#07a9c2" d="M484 907l-4-19 9 7 4 19z"/>
<path fill="#0268e1" d="M668 1161l-4-2 9 0 4 1z"/>
<path fill="#1079da" d="M617 1107l-4-2 8-1 5 8z"/>
<path fill="#2053d4" d="M746 1208l-5 1 9-6 4 16zM1149 1204l-4 1 8-2 5-15z"/>
<path fill="#0d75dc" d="M1321 1112l-4-7 8-25 4-2z"/>
<path fill="#2c4ac7" d="M1089 1227l-4-1 8-7 4-2z"/>
<path fill="#127dd8" d="M600 1089l-4-8 8 1 4 17z"/>
<path fill="#0268e1" d="M1248 1159l-5-15 9-10 4 9z"/>
<path fill="#06a7c6" d="M497 930l-4-16 8 6 5 17z"/>
<path fill="#3637a0" d="M926 1262l-5-14 9 1 4 1z"/>
<path fill="#3243ba" d="M1059 1237l-4 1 8-10 4 1z"/>
<path fill="#2c4ac7" d="M1119 1217l-4-14 8 7 4-2z"/>
<path fill="#0871de" d="M1282 1130l-4-2 8-14 5-1z"/>
<path fill="#2c4ac7" d="M784 1229l-4-6 8 10 5 6z"/>
<path fill="#3243ba" d="M1029 1243l-5-2 9-5 4 11z"/>
<path fill="#108ed2" d="M553 1024l-4-11 8 6 4 10z"/>
<path fill="#0f5cdd" d="M1179 1192l-4-5 8-9 5 1z"/>
<path fill="#06a0cd" d="M510 955l-4-18 8 5 5 19z"/>
<path fill="#1485d4" d="M583 1062l-4-1 8 2 4 14z"/>
<path fill="#2c4ac7" d="M763 1222l-5-3 9 4 4 0z"/>
<path fill="#1481d6" d="M1359 1073l-4-1 9-33 4 5z"/>
<path fill="#0363e1" d="M686 1175l-5-6 9 0 4-1z"/>
<path fill="#0268e1" d="M1213 1163l-4 7 9-16 4 1z"/>
<path fill="#2053d4" d="M1145 1205l-5 5 9-18 4 11z"/>
<path fill="#353dad" d="M827 1249l-4-14 8 11 5-4zM999 1248l-5-1 9-3 4 14z"/>
<path fill="#2c4ac7" d="M1085 1226l-5-2 9 3 4-8z"/>
<path fill="#0f5cdd" d="M703 1189l-5-6 9-8 4 17z"/>
<path fill="#3243ba" d="M1055 1238l-5 2 9-7 4-5z"/>
<path fill="#353dad" d="M896 1259l-5-8 9-6 4 22z"/>
<path fill="#079ccf" d="M523 976l-4-15 8 8 4 11z"/>
<path fill="#1079da" d="M1317 1105l-5-1 9-23 4-1z"/>
<path fill="#3637a0" d="M943 1272l-4-21 8 0 4 13z"/>
<path fill="#0871de" d="M1278 1128l-4 7 8-22 4 1z"/>
<path fill="#0268e1" d="M664 1159l-4-10 8 8 5 2z"/>
<path fill="#2053d4" d="M741 1209l-4 4 9-11 4 1z"/>
<path fill="#0363e1" d="M1209 1170l-4 3 8-13 5-6z"/>
<path fill="#1481d6" d="M1355 1072l-4 5 8-28 5-10z"/>
<path fill="#0d75dc" d="M630 1122l-4-10 8 9 4 3z"/>
<path fill="#0faeb9" d="M463 875l-4-115 8 8 5 113z"/>
<path fill="#1485d4" d="M566 1048l-5-19 9 8 4 3z"/>
<path fill="#1079da" d="M613 1105l-5-6 9-2 4 7z"/>
<path fill="#0871de" d="M647 1129l-4 3 8 2 5 11z"/>
<path fill="#0f5cdd" d="M1175 1187l-5 0 9-10 4 1z"/>
<path fill="#0268e1" d="M1239 1159l-4 5 8-31 5 9z"/>
<path fill="#2c4ac7" d="M758 1219l-4 0 9 1 4 3z"/>
<path fill="#1079da" d="M1312 1104l-4 13 8-34 5-2z"/>
<path fill="#0871de" d="M1274 1135l-5 6 9-23 4-5z"/>
<path fill="#2c4ac7" d="M1110 1217l-4-2 9-3 4-3z"/>
<path fill="#71bf80" d="M391 713l-5-368 9 3 4 370z"/>
<path fill="#0998d1" d="M536 992l-5-12 9 7 4 16z"/>
<path fill="#353dad" d="M917 1256l-4-8 8 6 5 6z"/>
<path fill="#3243ba" d="M1050 1240l-4-4 8-2 5-1z"/>
<path fill="#2c4ac7" d="M1080 1224l-4 1 8-4 5 6z"/>
<path fill="#127dd8" d="M1351 1077l-4 3 8-31 4 0zM596 1081l-5-4 9 0 4 5z"/>
<path fill="#2c4ac7" d="M780 1223l-4 2 8-2 4 10z"/>
<path fill="#2053d4" d="M1140 1210l-4-10 9 0 4-8z"/>
<path fill="#0f5cdd" d="M720 1189l-4-3 8 2 4 16z"/>
<path fill="#0363e1" d="M1205 1173l-5-1 9-12 4 0z"/>
<path fill="#3243ba" d="M823 1235l-5 6 9-4 4 9z"/>
<path fill="#0268e1" d="M681 1169l-4-9 9 2 4 7z"/>
<path fill="#353dad" d="M964 1258l-4 11 9-26 4 14z"/>
<path fill="#046de0" d="M1269 1141l-4 3 8-26 5 0z"/>
<path fill="#2053d4" d="M737 1213l-4-17 8 14 5-8z"/>
<path fill="#0d75dc" d="M1308 1117l-4-5 8-29 4 0z"/>
<path fill="#353dad" d="M990 1254l-4-7 8 6 5 2zM866 1253l-5 5 9-18 4 15z"/>
<path fill="#1485d4" d="M579 1061l-5-21 9 15 4 8z"/>
<path fill="#0f5cdd" d="M1166 1197l-4-1 8-13 5 7z"/>
<path fill="#2053d4" d="M1106 1215l-4 6 8-12 5 3z"/>
<path fill="#046de0" d="M660 1149l-4-4 8 8 4 4z"/>
<path fill="#0c93d2" d="M549 1013l-5-10 9-3 4 19z"/>
<path fill="#0268e1" d="M1235 1164l-4-2 8-28 4-1z"/>
<path fill="#0363e1" d="M698 1183l-4-15 9 11 4-4z"/>
<path fill="#127dd8" d="M1347 1080l-5 1 9-34 4 2z"/>
<path fill="#07a9c2" d="M493 914l-4-19 8 5 4 20z"/>
<path fill="#0871de" d="M643 1132l-5-8 9 10 4 0z"/>
<path fill="#3637a0" d="M960 1269l-4-10 8 3 5-19z"/>
<path fill="#0f5cdd" d="M1136 1200l-4 10 8-25 5 15z"/>
<path fill="#0363e1" d="M1196 1184l-4-1 8-17 5 1z"/>
<path fill="#3243ba" d="M1072 1241l-5-12 9-4 4 1z"/>
<path fill="#2c4ac7" d="M754 1219l-4-16 8 16 5 1z"/>
<path fill="#0d75dc" d="M626 1112l-5-8 9 3 4 14z"/>
<path fill="#046de0" d="M1265 1144l-4-1 8-22 4-3z"/>
<path fill="#06a7c6" d="M506 937l-5-17 9 5 4 17z"/>
<path fill="#3243ba" d="M1046 1236l-4-8 8 0 4 6z"/>
<path fill="#353dad" d="M861 1258l-4-3 9 0 4-15z"/>
<path fill="#1079da" d="M608 1099l-4-17 9 4 4 11z"/>
<path fill="#3243ba" d="M793 1239l-5-6 9 9 4-5z"/>
<path fill="#0d75dc" d="M1304 1112l-5-3 9-21 4-5z"/>
<path fill="#0268e1" d="M677 1160l-4-1 8 2 5 1z"/>
<path fill="#108ed2" d="M561 1029l-4-10 9 4 4 14z"/>
<path fill="#0268e1" d="M1231 1162l-5 0 9-25 4-3z"/>
<path fill="#06a0cd" d="M519 961l-5-19 9 4 4 23z"/>
<path fill="#1481d6" d="M591 1077l-4-14 9 5 4 9z"/>
<path fill="#3243ba" d="M1016 1244l-4-5 8-11 4 14z"/>
<path fill="#127dd8" d="M1342 1081l-4-2 8-26 5-6z"/>
<path fill="#2c4ac7" d="M771 1223l-4 0 8 5 5 5z"/>
<path fill="#3243ba" d="M986 1247l-5 9 9-18 4 15z"/>
<path fill="#2c4ac7" d="M1102 1221l-5-4 9-18 4 10z"/>
<path fill="#353dad" d="M956 1259l-5 5 9-12 4 10z"/>
<path fill="#0f5cdd" d="M1162 1196l-4-8 8-3 4-2z"/>
<path fill="#046de0" d="M1261 1143l-5 0 9-19 4-3z"/>
<path fill="#2053d4" d="M1132 1210l-5-2 9-19 4-4z"/>
<path fill="#0363e1" d="M1192 1183l-4-4 8-10 4-3z"/>
<path fill="#079ccf" d="M531 980l-4-11 9 1 4 17z"/>
<path fill="#0268e1" d="M694 1168l-4 1 8 1 5 9z"/>
<path fill="#046de0" d="M656 1145l-5-11 9 13 4 6z"/>
<path fill="#353dad" d="M857 1255l-4-2 8-6 5 8z"/>
<path fill="#0d75dc" d="M638 1124l-4-3 9 7 4 6z"/>
<path fill="#3637a0" d="M904 1267l-4-22 8 19 5-7z"/>
<path fill="#1079da" d="M1299 1109l-4 2 8-25 5 2z"/>
<path fill="#0faeb9" d="M472 881l-5-113 9 5 4 115z"/>
<path fill="#0268e1" d="M1226 1162l-4-7 8-12 5-6z"/>
<path fill="#0f5cdd" d="M711 1192l-4-17 8 5 5 14z"/>
<path fill="#3243ba" d="M836 1242l-5 4 9-13 4 14z"/>
<path fill="#0363e1" d="M1158 1188l-5 15 9-17 4-1z"/>
<path fill="#2c4ac7" d="M1067 1229l-4-1 9-10 4 7z"/>
<path fill="#1481d6" d="M1338 1079l-4 1 8-33 4 6z"/>
<path fill="#353dad" d="M1007 1258l-4-14 8 11 5-20z"/>
<path fill="#3243ba" d="M1037 1247l-4-11 8-3 5-4z"/>
<path fill="#1389d3" d="M574 1040l-4-3 8 4 5 14z"/>
<path fill="#353dad" d="M981 1256l-4-3 9-3 4-12z"/>
<path fill="#0f5cdd" d="M750 1203l-4-1 8 7 4 10z"/>
<path fill="#1079da" d="M621 1104l-4-7 9 13 4-3z"/>
<path fill="#0268e1" d="M673 1159l-5-2 9-5 4 9z"/>
<path fill="#2053d4" d="M1127 1208l-4 2 9-17 4-4z"/>
<path fill="#71bf80" d="M399 718l-4-370 8 4 5 375z"/>
<path fill="#0998d1" d="M544 1003l-4-16 8 5 5 8z"/>
<path fill="#0f5cdd" d="M728 1204l-4-16 9 7 4 9z"/>
<path fill="#2053d4" d="M1097 1217l-4 2 9-18 4-2z"/>
<path fill="#2c4ac7" d="M767 1223l-4-3 8 2 4 6z"/>
<path fill="#353dad" d="M926 1260l-5-6 9 3 4 5zM951 1264l-4-13 9 8 4-7z"/>
<path fill="#127dd8" d="M604 1082l-4-5 8 8 5 1z"/>
<path fill="#2c4ac7" d="M788 1233l-4-10 9-3 4 22z"/>
<path fill="#0363e1" d="M1188 1179l-5-1 9-15 4 6z"/>
<path fill="#3243ba" d="M810 1237l-4-6 8 2 4 11z"/>
<path fill="#046de0" d="M1256 1143l-4-9 9-17 4 7z"/>
<path fill="#0d75dc" d="M1295 1111l-4 2 8-29 4 2z"/>
<path fill="#046de0" d="M1222 1155l-4-1 8-6 4-5z"/>
<path fill="#3243ba" d="M900 1245l-4 20 8-12 4 11z"/>
<path fill="#353dad" d="M977 1253l-4 4 8-14 5 7z"/>
<path fill="#1485d4" d="M587 1063l-4-8 8 6 5 7z"/>
<path fill="#2053d4" d="M1093 1219l-4 8 8-22 5-4zM1123 1210l-4-1 8-16 5 0z"/>
<path fill="#3243ba" d="M1003 1244l-4 11 8-19 4 19z"/>
<path fill="#1481d6" d="M1334 1080l-5-2 9-27 4-4z"/>
<path fill="#0268e1" d="M690 1169l-4-7 8 1 4 7z"/>
<path fill="#2c4ac7" d="M1063 1228l-4 5 8-17 5 2z"/>
<path fill="#0f5cdd" d="M1153 1203l-4-11 8-17 5 11z"/>
<path fill="#0c93d2" d="M557 1019l-4-19 8 16 5 7z"/>
<path fill="#3243ba" d="M831 1246l-4-9 9 4 4-8z"/>
<path fill="#2c4ac7" d="M1033 1236l-4 6 8-19 4 10z"/>
<path fill="#0871de" d="M651 1134l-4 0 8-1 5 14z"/>
<path fill="#07a9c2" d="M501 920l-4-20 9 6 4 19z"/>
<path fill="#046de0" d="M668 1157l-4-4 9 0 4-1z"/>
<path fill="#353dad" d="M896 1265l-5-2 9-5 4-5z"/>
<path fill="#0d75dc" d="M634 1121l-4-14 8 10 5 11z"/>
<path fill="#2c4ac7" d="M1089 1227l-5-6 9-4 4-12z"/>
<path fill="#046de0" d="M1218 1154l-5 6 9-14 4 2z"/>
<path fill="#0d75dc" d="M1291 1113l-5 1 9-30 4 0z"/>
<path fill="#353dad" d="M921 1254l-4 5 9-6 4 4z"/>
<path fill="#2053d4" d="M763 1220l-5-1 9 2 4 1z"/>
<path fill="#06a7c6" d="M514 942l-4-17 9 6 4 15z"/>
<path fill="#2c4ac7" d="M1059 1233l-5 1 9-14 4-4z"/>
<path fill="#127dd8" d="M617 1097l-4-11 8 10 5 14z"/>
<path fill="#0871de" d="M1252 1134l-4 8 8-25 5 0z"/>
<path fill="#0363e1" d="M1183 1178l-4-1 8-16 5 2z"/>
<path fill="#3243ba" d="M947 1251l-4 0 8-9 5 17zM1029 1242l-5 0 9-7 4-12z"/>
<path fill="#1481d6" d="M1329 1078l-4 2 9-34 4 5z"/>
<path fill="#353dad" d="M999 1255l-5-2 9-10 4-7z"/>
<path fill="#1389d3" d="M570 1037l-4-14 8 5 4 13z"/>
<path fill="#2053d4" d="M1119 1209l-4 3 8-28 4 9z"/>
<path fill="#06a0cd" d="M527 969l-4-23 8 7 5 17z"/>
<path fill="#1481d6" d="M600 1077l-4-9 8 4 4 13z"/>
<path fill="#0f5cdd" d="M1149 1192l-4 8 8-18 4-7z"/>
<path fill="#0268e1" d="M1213 1160l-4 0 9-13 4-1z"/>
<path fill="#353dad" d="M973 1257l-4-14 8-6 4 6z"/>
<path fill="#0d75dc" d="M1286 1114l-4-1 9-22 4-7z"/>
<path fill="#2c4ac7" d="M1054 1234l-4-6 9 8 4-16z"/>
<path fill="#0363e1" d="M1179 1177l-4 13 8-24 4-5z"/>
<path fill="#2053d4" d="M1084 1221l-4 5 9-21 4 12z"/>
<path fill="#353dad" d="M917 1259l-4-2 8 0 5-4z"/>
<path fill="#2053d4" d="M741 1210l-4-6 8-11 5 12z"/>
<path fill="#0871de" d="M1248 1142l-5-9 9-8 4-8z"/>
<path fill="#0363e1" d="M703 1179l-5-9 9 10 4-2z"/>
<path fill="#079ccf" d="M540 987l-4-17 8 5 4 17z"/>
<path fill="#353dad" d="M891 1263l-4-10 9-3 4 8z"/>
<path fill="#0faeb9" d="M480 888l-4-115 8 7 5 115z"/>
<path fill="#2c4ac7" d="M780 1233l-5-5 9-6 4-1z"/>
<path fill="#046de0" d="M664 1153l-4-6 8-3 5 9z"/>
<path fill="#1481d6" d="M1325 1080l-4 1 8-29 5-6z"/>
<path fill="#1485d4" d="M583 1055l-5-14 9 7 4 13z"/>
<path fill="#3243ba" d="M1024 1242l-4-14 9 10 4-3z"/>
<path fill="#0f5cdd" d="M1145 1200l-5-15 9 6 4-9z"/>
<path fill="#0871de" d="M647 1134l-4-6 8-1 4 6z"/>
<path fill="#353dad" d="M939 1255l-5 7 9-6 4 10z"/>
<path fill="#0f5cdd" d="M720 1194l-5-14 9 13 4 2z"/>
<path fill="#0363e1" d="M1175 1190l-5-7 9-15 4-2z"/>
<path fill="#2053d4" d="M1115 1212l-5-3 9-16 4-9z"/>
<path fill="#1079da" d="M1282 1113l-4 5 8-27 5 0zM630 1107l-4 3 8 1 4 6z"/>
<path fill="#2053d4" d="M758 1219l-4-10 9 0 4 12z"/>
<path fill="#046de0" d="M1209 1160l-4 7 8-25 5 5z"/>
<path fill="#2c4ac7" d="M1050 1228l-4 1 8 2 5 5z"/>
<path fill="#353dad" d="M866 1255l-5-8 9 6 4 3z"/>
<path fill="#3243ba" d="M844 1247l-4-14 8 9 5 15z"/>
<path fill="#0998d1" d="M553 1000l-5-8 9 8 4 16z"/>
<path fill="#353dad" d="M994 1253l-4-15 9 0 4 5z"/>
<path fill="#0871de" d="M1243 1133l-4 1 9-1 4-8z"/>
<path fill="#353dad" d="M964 1262l-4-10 8 1 5-3z"/>
<path fill="#71bf80" d="M408 727l-5-375 9 3 4 377z"/>
<path fill="#2c4ac7" d="M1080 1226l-4-1 8-19 5-1z"/>
<path fill="#1481d6" d="M1321 1081l-5 2 9-33 4 2z"/>
<path fill="#127dd8" d="M613 1086l-5-1 9 1 4 10z"/>
<path fill="#046de0" d="M681 1161l-4-9 8 5 5 8z"/>
<path fill="#0363e1" d="M1170 1183l-4 2 9-7 4-10z"/>
<path fill="#0d75dc" d="M1278 1118l-5 0 9-23 4-4z"/>
<path fill="#0268e1" d="M1205 1167l-5-1 9-13 4-11z"/>
<path fill="#353dad" d="M913 1257l-5 7 9-31 4 24z"/>
<path fill="#0f5cdd" d="M737 1204l-4-9 8 8 4-10z"/>
<path fill="#2053d4" d="M1110 1209l-4-10 8 0 5-6z"/>
<path fill="#3243ba" d="M797 1242l-4-22 8 2 4 21z"/>
<path fill="#353dad" d="M934 1262l-4-5 8 4 5-5z"/>
<path fill="#0363e1" d="M1140 1185l-4 4 8-5 5 7z"/>
<path fill="#0c93d2" d="M566 1023l-5-7 9 2 4 10z"/>
<path fill="#3243ba" d="M818 1244l-4-11 9-3 4 15z"/>
<path fill="#2c4ac7" d="M1020 1228l-4 7 8-5 5 8zM775 1228l-4-6 9-7 4 7z"/>
<path fill="#0871de" d="M1239 1134l-4 3 8-12 5 8z"/>
<path fill="#1485d4" d="M596 1068l-5-7 9-3 4 14z"/>
<path fill="#0268e1" d="M698 1170l-4-7 9 5 4 12z"/>
<path fill="#2c4ac7" d="M1046 1229l-5 4 9-8 4 6z"/>
<path fill="#1481d6" d="M1316 1083l-4 0 9-27 4-6z"/>
<path fill="#07a9c2" d="M510 925l-4-19 8 4 5 21z"/>
<path fill="#3243ba" d="M960 1252l-4 7 8-13 4 7z"/>
<path fill="#2c4ac7" d="M1076 1225l-4-7 8-4 4-8z"/>
<path fill="#0268e1" d="M1200 1166l-4 3 9-20 4 4z"/>
<path fill="#0363e1" d="M1166 1185l-4 1 8-15 5 7z"/>
<path fill="#0d75dc" d="M1273 1118l-4 3 9-29 4 3z"/>
<path fill="#046de0" d="M660 1147l-5-14 9 4 4 7z"/>
<path fill="#2053d4" d="M754 1209l-4-4 8 5 5-1z"/>
<path fill="#1079da" d="M626 1110l-5-14 9 5 4 10z"/>
<path fill="#0363e1" d="M715 1180l-4-2 9 1 4 14z"/>
<path fill="#0d75dc" d="M643 1128l-5-11 9-3 4 13z"/>
<path fill="#06a7c6" d="M523 946l-4-15 8 7 4 15z"/>
<path fill="#3243ba" d="M861 1247l-4 2 8-11 5 15z"/>
<path fill="#353dad" d="M908 1264l-4-11 9 8 4-28zM1011 1255l-4-19 9 10 4-11z"/>
<path fill="#046de0" d="M677 1152l-4 1 8-2 4 6z"/>
<path fill="#1481d6" d="M1312 1083l-4 5 8-32 5 0z"/>
<path fill="#3243ba" d="M986 1250l-5-7 9-3 4 1z"/>
<path fill="#1389d3" d="M578 1041l-4-13 9 4 4 16z"/>
<path fill="#0871de" d="M1235 1137l-5 6 9-20 4 2z"/>
<path fill="#06a0cd" d="M536 970l-5-17 9 9 4 13z"/>
<path fill="#0f5cdd" d="M1102 1201l-5 4 9-4 4 16z"/>
<path fill="#353dad" d="M878 1264l-4-8 9 2 4 1zM930 1257l-4-4 8-4 4 12z"/>
<path fill="#2053d4" d="M1072 1218l-5-2 9 2 4-4z"/>
<path fill="#1481d6" d="M608 1085l-4-13 9 2 4 12z"/>
<path fill="#2c4ac7" d="M1041 1233l-4-10 9 5 4-3z"/>
<path fill="#2053d4" d="M771 1222l-4-1 8-6 5 0z"/>
<path fill="#0d75dc" d="M1269 1121l-4 3 8-30 5-2z"/>
<path fill="#0268e1" d="M1196 1169l-4-6 8-10 5-4z"/>
<path fill="#079ccf" d="M548 992l-4-17 9 7 4 18z"/>
<path fill="#0faeb9" d="M489 895l-5-115 9 7 4 113z"/>
<path fill="#0871de" d="M1230 1143l-4 5 9-21 4-4z"/>
<path fill="#353dad" d="M956 1259l-5-17 9 0 4 4z"/>
<path fill="#2c4ac7" d="M810 1239l-5 4 9-14 4 14z"/>
<path fill="#0268e1" d="M711 1178l-4 2 8-1 5 0z"/>
<path fill="#127dd8" d="M1308 1088l-5-2 9-32 4 2z"/>
<path fill="#0363e1" d="M728 1195l-4-2 9 4 4 4z"/>
<path fill="#0f5cdd" d="M750 1205l-5-12 9 15 4 2z"/>
<path fill="#1485d4" d="M591 1061l-4-13 8 6 5 4z"/>
<path fill="#353dad" d="M900 1258l-4-8 8 16 4-6z"/>
<path fill="#0363e1" d="M1162 1186l-5-11 9-10 4 6z"/>
<path fill="#3243ba" d="M831 1242l-4 3 8-4 5 7z"/>
<path fill="#2c4ac7" d="M1007 1236l-4 7 8-5 5 8z"/>
<path fill="#0c93d2" d="M561 1016l-4-16 9 0 4 18z"/>
<path fill="#0d75dc" d="M655 1133l-4-6 9 7 4 3z"/>
<path fill="#1079da" d="M638 1117l-4-6 9 7 4-4z"/>
<path fill="#2053d4" d="M1067 1216l-4 4 8-10 5 8z"/>
<path fill="#046de0" d="M673 1153l-5-9 9 7 4 0z"/>
<path fill="#0f5cdd" d="M1097 1205l-4 12 9-23 4 7z"/>
<path fill="#3243ba" d="M981 1243l-4-6 9 3 4 0z"/>
<path fill="#0d75dc" d="M1265 1124l-4-7 8-25 4 2z"/>
<path fill="#2053d4" d="M1037 1223l-4 12 8-16 5 9z"/>
<path fill="#65be86" d="M416 732l-4-377 8 3 5 381z"/>
<path fill="#2053d4" d="M767 1221l-4-12 8 11 4-5z"/>
<path fill="#046de0" d="M1192 1163l-5-2 9-7 4-1z"/>
<path fill="#0268e1" d="M690 1165l-5-8 9 10 4 2z"/>
<path fill="#3243ba" d="M874 1256l-4-3 8-3 5 8z"/>
<path fill="#127dd8" d="M621 1096l-4-10 8 6 5 9z"/>
<path fill="#0363e1" d="M1127 1193l-4-9 9 0 4 10z"/>
<path fill="#046de0" d="M1226 1148l-4-2 8-29 5 10z"/>
<path fill="#1481d6" d="M1303 1086l-4-2 9-24 4-6z"/>
<path fill="#2c4ac7" d="M1059 1236l-5-5 9-3 4-12z"/>
<path fill="#0363e1" d="M707 1180l-4-12 8 13 4-2z"/>
<path fill="#2c4ac7" d="M1033 1235l-4 3 8-17 4-2z"/>
<path fill="#0268e1" d="M1157 1175l-4 7 9-14 4-3z"/>
<path fill="#2053d4" d="M1093 1217l-4-12 8 0 5-11z"/>
<path fill="#3243ba" d="M1003 1243l-4-5 8 0 4 0z"/>
<path fill="#0363e1" d="M724 1193l-4-14 8 22 5-4z"/>
<path fill="#353dad" d="M947 1266l-4-10 8-5 5-17z"/>
<path fill="#108ed2" d="M574 1028l-4-10 8 0 5 14z"/>
<path fill="#3243ba" d="M805 1243l-4-21 9 17 4-10zM896 1250l-5-2 9 6 4 12z"/>
<path fill="#07a9c2" d="M519 931l-5-21 9 6 4 22z"/>
<path fill="#1485d4" d="M604 1072l-4-14 8 4 5 12z"/>
<path fill="#1079da" d="M1261 1117l-5 0 9-24 4-1z"/>
<path fill="#06a4ca" d="M531 953l-4-15 9 6 4 18z"/>
<path fill="#3243ba" d="M973 1250l-5 3 9-10 4-2z"/>
<path fill="#2053d4" d="M784 1222l-4-7 8 2 5 18z"/>
<path fill="#0363e1" d="M1153 1182l-4 9 8-25 5 2z"/>
<path fill="#2c4ac7" d="M1029 1238l-5-8 9 7 4-16z"/>
<path fill="#0871de" d="M1222 1146l-4 1 8-23 4-7z"/>
<path fill="#3243ba" d="M827 1245l-4-15 8-1 4 12z"/>
<path fill="#0871de" d="M668 1144l-4-7 9 5 4 9z"/>
<path fill="#353dad" d="M921 1257l-4-24 8 14 5 6z"/>
<path fill="#1079da" d="M634 1111l-4-10 8 1 5 16z"/>
<path fill="#1481d6" d="M1299 1084l-4 0 8-33 5 9z"/>
<path fill="#0d75dc" d="M651 1127l-4-13 8 9 5 11z"/>
<path fill="#0268e1" d="M1183 1166l-4 2 8-16 5 6z"/>
<path fill="#1079da" d="M1256 1117l-4 8 8-25 5-7z"/>
<path fill="#0f5cdd" d="M741 1203l-4-2 8-8 5 15z"/>
<path fill="#1389d3" d="M587 1048l-4-16 8 6 4 16z"/>
<path fill="#046de0" d="M685 1157l-4-6 9 6 4 10z"/>
<path fill="#06a0cd" d="M544 975l-4-13 8 0 5 20z"/>
<path fill="#3243ba" d="M943 1256l-5 5 9-21 4 11zM870 1253l-5-15 9 10 4 2z"/>
<path fill="#2c4ac7" d="M844 1241l-4 7 8-4 5 14z"/>
<path fill="#0d75dc" d="M1252 1125l-4 8 8-30 4-3z"/>
<path fill="#2c4ac7" d="M999 1238l-5 3 9-13 4 10z"/>
<path fill="#0871de" d="M1218 1147l-5-5 9-12 4-6z"/>
<path fill="#2c4ac7" d="M1024 1230l-4 5 8-2 5 4zM1054 1231l-4-6 9-21 4 24z"/>
<path fill="#0f5cdd" d="M1114 1199l-4 18 9-30 4 5z"/>
<path fill="#1481d6" d="M617 1086l-4-12 8 7 4 11z"/>
<path fill="#0363e1" d="M1149 1191l-5-7 9-20 4 2z"/>
<path fill="#0998d1" d="M557 1000l-4-18 8 6 5 12z"/>
<path fill="#0faeb9" d="M497 900l-4-113 8 4 5 115z"/>
<path fill="#3243ba" d="M968 1253l-4-7 9-10 4 7z"/>
<path fill="#353dad" d="M913 1261l-5-1 9-2 4-11z"/>
<path fill="#1481d6" d="M1295 1084l-4 7 8-38 4-2z"/>
<path fill="#0f5cdd" d="M1084 1206l-4 8 9-14 4 6zM758 1210l-4-2 8 2 5 4z"/>
<path fill="#0268e1" d="M1179 1168l-4 10 8-29 4 3zM720 1179l-5 0 9-7 4 29z"/>
<path fill="#2c4ac7" d="M1020 1235l-4 11 8-16 4 3z"/>
<path fill="#0871de" d="M1213 1142l-4 11 8-28 5 5z"/>
<path fill="#3243ba" d="M887 1259l-4-1 8-12 4 9z"/>
<path fill="#1389d3" d="M600 1058l-5-4 9 3 4 5z"/>
<path fill="#127dd8" d="M1291 1091l-5 0 9-28 4-10z"/>
<path fill="#0d75dc" d="M1248 1133l-5-8 9-26 4 4zM664 1137l-4-3 8 2 5 6z"/>
<path fill="#2c4ac7" d="M994 1241l-4-1 8-5 5-7zM797 1231l-4 4 8-12 4 11zM865 1238l-4 13 9-11 4 8z"/>
<path fill="#0f5cdd" d="M737 1201l-4-4 8-1 4-3z"/>
<path fill="#353dad" d="M938 1261l-4-12 9-6 4-3z"/>
<path fill="#0871de" d="M681 1151l-4 0 8 2 5 4z"/>
<path fill="#2053d4" d="M1110 1217l-4-16 8-15 5 1z"/>
<path fill="#0c93d2" d="M570 1018l-4-18 8 5 4 13z"/>
<path fill="#0268e1" d="M698 1169l-4-2 8-3 5 15z"/>
<path fill="#65be86" d="M425 739l-5-381 9 3 4 381z"/>
<path fill="#0363e1" d="M1144 1184l-4 6 9-26 4 0z"/>
<path fill="#1079da" d="M647 1114l-4 4 8-6 4 11z"/>
<path fill="#3243ba" d="M840 1248l-5-7 9 1 4 2z"/>
<path fill="#0268e1" d="M1175 1178l-5-7 9-14 4-8z"/>
<path fill="#353dad" d="M908 1260l-4 6 9-21 4 13z"/>
<path fill="#2053d4" d="M1050 1225l-4 3 8-10 5-14z"/>
<path fill="#127dd8" d="M630 1101l-5-9 9-2 4 12zM1286 1091l-4 4 8-33 5 1z"/>
<path fill="#0363e1" d="M1140 1190l-4 4 8-17 5-13z"/>
<path fill="#046de0" d="M1209 1153l-4-4 8-23 4-1z"/>
<path fill="#2c4ac7" d="M818 1243l-4-14 8-4 5 4z"/>
<path fill="#0f5cdd" d="M754 1208l-4 0 8-4 4 6z"/>
<path fill="#3243ba" d="M964 1246l-4-4 8-11 5 5z"/>
<path fill="#06a7c6" d="M527 938l-4-22 8 7 5 21z"/>
<path fill="#2053d4" d="M1076 1218l-5-8 9-9 4 11z"/>
<path fill="#108ed2" d="M583 1032l-5-14 9 9 4 11z"/>
<path fill="#3243ba" d="M1016 1246l-5-8 9-22 4 14z"/>
<path fill="#0363e1" d="M733 1197l-5 4 9-10 4 5z"/>
<path fill="#0d75dc" d="M1243 1125l-4-2 8-18 5-6z"/>
<path fill="#3243ba" d="M934 1249l-4 4 8-9 5-1z"/>
<path fill="#2053d4" d="M1046 1228l-5-9 9-4 4 3z"/>
<path fill="#1485d4" d="M613 1074l-5-12 9 6 4 13z"/>
<path fill="#3243ba" d="M883 1258l-5-8 9-7 4 3z"/>
<path fill="#06a4ca" d="M540 962l-4-18 8 3 4 15z"/>
<path fill="#0363e1" d="M1136 1194l-4-10 8-4 4-3z"/>
<path fill="#127dd8" d="M1282 1095l-4-3 8-28 4-2z"/>
<path fill="#2053d4" d="M771 1220l-4-6 8 1 5 6z"/>
<path fill="#0268e1" d="M1170 1171l-4-6 8-15 5 7z"/>
<path fill="#0d75dc" d="M660 1134l-5-11 9 6 4 7z"/>
<path fill="#2c4ac7" d="M986 1240l-5 1 9-8 4 7z"/>
<path fill="#0871de" d="M1205 1149l-5 4 9-28 4 1z"/>
<path fill="#353dad" d="M904 1266l-4-12 8-7 5-2z"/>
<path fill="#2c4ac7" d="M960 1242l-4-8 8 16 4-19z"/>
<path fill="#0871de" d="M677 1151l-4-9 8-5 4 16z"/>
<path fill="#0f5cdd" d="M1106 1201l-4-7 8-12 4 4z"/>
<path fill="#1389d3" d="M595 1054l-4-16 9 6 4 13z"/>
<path fill="#046de0" d="M694 1167l-4-10 8 8 4-1z"/>
<path fill="#2c4ac7" d="M793 1235l-5-18 9-4 4 10z"/>
<path fill="#06a0cd" d="M553 982l-5-20 9 8 4 18z"/>
<path fill="#2c4ac7" d="M956 1234l-5 17 9-1 4 0z"/>
<path fill="#1079da" d="M643 1118l-5-16 9 0 4 10z"/>
<path fill="#0d75dc" d="M1239 1123l-4 4 8-29 4 7z"/>
<path fill="#3243ba" d="M930 1253l-5-6 9-3 4 0z"/>
<path fill="#0f5cdd" d="M750 1208l-5-15 9 12 4-1zM1071 1210l-4 6 9-14 4-1z"/>
<path fill="#2c4ac7" d="M810 1239l-5-5 9-3 4 6zM1011 1238l-4 0 9-10 4-12z"/>
<path fill="#1481d6" d="M625 1092l-4-11 9 8 4 1z"/>
<path fill="#3243ba" d="M853 1258l-5-14 9 1 4 6z"/>
<path fill="#0871de" d="M1200 1153l-4 1 9-25 4-4z"/>
<path fill="#0aacbe" d="M506 906l-5-115 9 6 4 113z"/>
<path fill="#1481d6" d="M1278 1092l-5 2 9-32 4 2z"/>
<path fill="#3243ba" d="M878 1250l-4-2 8-1 5-4z"/>
<path fill="#079ccf" d="M566 1000l-5-12 9 0 4 17z"/>
<path fill="#2053d4" d="M1067 1216l-4 12 8-22 5-4z"/>
<path fill="#0363e1" d="M1102 1194l-5 11 9-18 4-5z"/>
<path fill="#0268e1" d="M1132 1184l-5 0 9-10 4 6z"/>
<path fill="#046de0" d="M1166 1165l-4 3 8-17 4-1z"/>
<path fill="#3243ba" d="M900 1254l-5 1 9-7 4-1z"/>
<path fill="#2c4ac7" d="M981 1241l-4 2 8-17 5 7z"/>
<path fill="#0f5cdd" d="M1097 1205l-4 1 8-14 5-5z"/>
<path fill="#0871de" d="M1196 1154l-4 4 8-25 5-4z"/>
<path fill="#0f5cdd" d="M728 1201l-4-29 8 6 5 13zM767 1214l-5-4 9-6 4 11z"/>
<path fill="#0d75dc" d="M1235 1127l-5-10 9-14 4-5z"/>
<path fill="#2c4ac7" d="M1007 1238l-4-10 8 0 5 0z"/>
<path fill="#1389d3" d="M608 1062l-4-5 8 0 5 11z"/>
<path fill="#3243ba" d="M951 1251l-4-11 8-7 5 17z"/>
<path fill="#0c93d2" d="M578 1018l-4-13 9 7 4 15z"/>
<path fill="#0268e1" d="M707 1179l-5-15 9 8 4 15z"/>
<path fill="#2c4ac7" d="M1033 1237l-5-4 9-19 4 13z"/>
<path fill="#127dd8" d="M1273 1094l-4-2 9-25 4-5z"/>
<path fill="#2c4ac7" d="M925 1247l-4 0 9-8 4 5z"/>
<path fill="#65be86" d="M433 742l-4-381 8 3 5 387z"/>
<path fill="#046de0" d="M1162 1168l-5-2 9-9 4-6z"/>
<path fill="#0871de" d="M673 1142l-5-6 9 4 4-3z"/>
<path fill="#0268e1" d="M1127 1184l-4 8 8-17 5-1z"/>
<path fill="#046de0" d="M690 1157l-5-4 9-6 4 18z"/>
<path fill="#3243ba" d="M874 1248l-4-8 8 6 4 1z"/>
<path fill="#0363e1" d="M745 1193l-4 3 9 1 4 8z"/>
<path fill="#2053d4" d="M1063 1228l-4-24 8 7 4-5z"/>
<path fill="#2c4ac7" d="M977 1243l-4-7 8 7 4-17z"/>
<path fill="#1079da" d="M655 1123l-4-11 9-3 4 20z"/>
<path fill="#0f5cdd" d="M1093 1206l-4-6 8 0 4-8z"/>
<path fill="#3243ba" d="M895 1255l-4-9 9 5 4-3z"/>
<path fill="#127dd8" d="M638 1102l-4-12 8 10 5 2z"/>
<path fill="#046de0" d="M1192 1158l-5-6 9-18 4-1z"/>
<path fill="#1079da" d="M1230 1117l-4 7 9-19 4-2z"/>
<path fill="#06a7c6" d="M536 944l-5-21 9 4 4 20z"/>
<path fill="#2053d4" d="M827 1229l-5-4 9 6 4 14z"/>
<path fill="#1481d6" d="M1269 1092l-4 1 8-29 5 3zM621 1081l-4-13 8 5 5 16z"/>
<path fill="#108ed2" d="M591 1038l-4-11 8-5 5 22z"/>
<path fill="#046de0" d="M1157 1166l-4-2 9-6 4-1z"/>
<path fill="#2053d4" d="M1003 1228l-5 7 9-12 4 5z"/>
<path fill="#0363e1" d="M1123 1192l-4-5 8-13 4 1z"/>
<path fill="#0f5cdd" d="M762 1210l-4-6 9 3 4-3z"/>
<path fill="#0363e1" d="M1089 1200l-5 12 9-18 4 6z"/>
<path fill="#06a4ca" d="M548 962l-4-15 9 3 4 20z"/>
<path fill="#2c4ac7" d="M1028 1233l-4-3 9-14 4-2zM870 1240l-5 10 9-12 4 8z"/>
<path fill="#2053d4" d="M780 1221l-5-6 9 4 4 11z"/>
<path fill="#0d75dc" d="M668 1136l-4-7 8 5 5 6z"/>
<path fill="#1079da" d="M1226 1124l-4 6 8-34 5 9z"/>
<path fill="#3243ba" d="M917 1258l-4-13 8 1 4-2z"/>
<path fill="#2c4ac7" d="M973 1236l-5-5 9-1 4 13z"/>
<path fill="#0871de" d="M1187 1152l-4-3 9-9 4-6z"/>
<path fill="#2c4ac7" d="M998 1235l-4 5 9-12 4-5z"/>
<path fill="#0363e1" d="M741 1196l-4-5 8-1 5 7z"/>
<path fill="#079ccf" d="M561 988l-4-18 8 2 5 16z"/>
<path fill="#1481d6" d="M1265 1093l-5 7 9-37 4 1z"/>
<path fill="#046de0" d="M702 1164l-4 1 9 0 4 7zM1153 1164l-4 0 8 0 5-6z"/>
<path fill="#1389d3" d="M604 1057l-4-13 8 2 4 11z"/>
<path fill="#2c4ac7" d="M891 1246l-4-3 8-1 5 9z"/>
<path fill="#0871de" d="M685 1153l-4-16 9 13 4-3z"/>
<path fill="#2c4ac7" d="M943 1243l-5 1 9-7 4 0z"/>
<path fill="#0f5cdd" d="M1054 1218l-4-3 8-3 5-2z"/>
<path fill="#0268e1" d="M1119 1187l-5-1 9-11 4-1z"/>
<path fill="#0aacbe" d="M514 910l-4-113 8 7 5 112z"/>
<path fill="#0f5cdd" d="M1084 1212l-4-11 8-2 5-5z"/>
<path fill="#2053d4" d="M968 1231l-4 19 9-11 4-9z"/>
<path fill="#0f5cdd" d="M758 1204l-4 1 8-2 5 4z"/>
<path fill="#1481d6" d="M634 1090l-4-1 8-4 4 15z"/>
<path fill="#3243ba" d="M865 1250l-4 1 9-17 4 4z"/>
<path fill="#1079da" d="M651 1112l-4-10 8 6 5 1z"/>
<path fill="#0998d1" d="M574 1005l-4-17 8 7 5 17z"/>
<path fill="#2c4ac7" d="M840 1243l-5 2 9-5 4 10z"/>
<path fill="#046de0" d="M1149 1164l-5 13 9-19 4 6z"/>
<path fill="#127dd8" d="M1260 1100l-4 3 9-39 4-1z"/>
<path fill="#3243ba" d="M964 1250l-4 0 8-13 5 2z"/>
<path fill="#0d75dc" d="M1222 1130l-5-5 9-24 4-5z"/>
<path fill="#2c4ac7" d="M994 1240l-4-7 8-6 5 1z"/>
<path fill="#0871de" d="M1183 1149l-4 8 8-30 5 13z"/>
<path fill="#2053d4" d="M1024 1230l-4-14 8 3 5-3z"/>
<path fill="#2c4ac7" d="M818 1237l-4-6 8-4 5 10z"/>
<path fill="#0f5cdd" d="M797 1213l-5 11 9 0 4 13z"/>
<path fill="#2c4ac7" d="M938 1244l-4 0 9-7 4 0z"/>
<path fill="#0363e1" d="M737 1191l-5-13 9 18 4-6z"/>
<path fill="#0268e1" d="M1144 1177l-4 3 9-17 4-5zM1114 1186l-4-4 9-2 4-5z"/>
<path fill="#0f5cdd" d="M775 1215l-4-11 9 13 4 2z"/>
<path fill="#1485d4" d="M617 1068l-5-11 9 6 4 10z"/>
<path fill="#65be86" d="M442 751l-5-387 9 4 4 388z"/>
<path fill="#0c93d2" d="M587 1027l-4-15 8 2 4 8z"/>
<path fill="#3243ba" d="M861 1251l-4-6 8-1 5-10z"/>
<path fill="#0f5cdd" d="M1050 1215l-4 4 8-20 4 13z"/>
<path fill="#0d75dc" d="M681 1137l-4 3 8 2 5 8z"/>
<path fill="#1079da" d="M1217 1125l-4 1 9-23 4-2z"/>
<path fill="#2c4ac7" d="M908 1247l-4 1 8-7 5 15z"/>
<path fill="#127dd8" d="M1256 1103l-4-4 8-35 5 0z"/>
<path fill="#0d75dc" d="M664 1129l-4-20 8 16 4 9z"/>
<path fill="#046de0" d="M698 1165l-4-18 8 12 5 6z"/>
<path fill="#0268e1" d="M715 1187l-4-15 8-5 5 14z"/>
<path fill="#0363e1" d="M1080 1201l-4 1 8-15 4 12z"/>
<path fill="#0871de" d="M1179 1157l-5-7 9-12 4-11z"/>
<path fill="#0f5cdd" d="M754 1205l-4-8 8 2 4 4z"/>
<path fill="#2053d4" d="M990 1233l-5-7 9 8 4-7z"/>
<path fill="#127dd8" d="M647 1102l-5-2 9 3 4 5z"/>
<path fill="#0268e1" d="M1110 1182l-4 5 8-9 5 2z"/>
<path fill="#2c4ac7" d="M835 1245l-4-14 9 8 4 1zM934 1244l-4-5 8 4 5-6z"/>
<path fill="#2053d4" d="M1016 1228l-5 0 9-6 4 3zM792 1224l-4 6 9-18 4 12z"/>
<path fill="#06a7c6" d="M544 947l-4-20 8 3 5 20z"/>
<path fill="#3243ba" d="M960 1250l-5-17 9 0 4 4z"/>
<path fill="#0268e1" d="M1140 1180l-4-6 8-17 5 6z"/>
<path fill="#1481d6" d="M630 1089l-5-16 9 6 4 6z"/>
<path fill="#108ed2" d="M600 1044l-5-22 9 10 4 14z"/>
<path fill="#127dd8" d="M1252 1099l-5 6 9-39 4-2z"/>
<path fill="#1079da" d="M1213 1126l-4-1 8-22 5 0z"/>
<path fill="#0871de" d="M1174 1150l-4 1 9-14 4 1z"/>
<path fill="#2c4ac7" d="M904 1248l-4 3 8-1 4-9z"/>
<path fill="#06a4ca" d="M557 970l-4-20 8 4 4 18z"/>
<path fill="#2053d4" d="M985 1226l-4 17 9-21 4 12z"/>
<path fill="#0363e1" d="M1076 1202l-5 4 9-20 4 1z"/>
<path fill="#0268e1" d="M1106 1187l-5 5 9-15 4 1z"/>
<path fill="#0d75dc" d="M677 1140l-5-6 9-2 4 10z"/>
<path fill="#2053d4" d="M1041 1227l-4-13 9-10 4 9z"/>
<path fill="#2c4ac7" d="M930 1239l-5 5 9-7 4 6z"/>
<path fill="#06a0cd" d="M570 988l-5-16 9 7 4 16z"/>
<path fill="#1079da" d="M1209 1125l-4 4 8-20 4-6z"/>
<path fill="#1389d3" d="M612 1057l-4-11 9 8 4 9z"/>
<path fill="#0363e1" d="M750 1197l-5-7 9 8 4 1z"/>
<path fill="#127dd8" d="M1247 1105l-4-7 9-30 4-2z"/>
<path fill="#0aacbe" d="M523 916l-5-112 9 5 4 114z"/>
<path fill="#0871de" d="M1170 1151l-4 6 8-21 5 1z"/>
<path fill="#0f5cdd" d="M1071 1206l-4 5 9-16 4-9z"/>
<path fill="#2053d4" d="M788 1230l-4-11 8-4 5-3z"/>
<path fill="#046de0" d="M711 1172l-4-7 8 3 4-1z"/>
<path fill="#2053d4" d="M1011 1228l-4-5 8-9 5 8z"/>
<path fill="#0871de" d="M694 1147l-4 3 8-6 4 15z"/>
<path fill="#127dd8" d="M642 1100l-4-15 9 11 4 7z"/>
<path fill="#046de0" d="M1136 1174l-5 1 9-23 4 5z"/>
<path fill="#127dd8" d="M660 1109l-5-1 9 5 4 12z"/>
<path fill="#0d75dc" d="M1205 1129l-5 4 9-20 4-4z"/>
<path fill="#0998d1" d="M583 1012l-5-17 9 4 4 15z"/>
<path fill="#2c4ac7" d="M981 1243l-4-13 8-4 5-4z"/>
<path fill="#2053d4" d="M955 1233l-4 4 9-14 4 10z"/>
<path fill="#2c4ac7" d="M900 1251l-5-9 9-9 4 17z"/>
<path fill="#0f5cdd" d="M1067 1211l-4-1 8-11 5-4z"/>
<path fill="#2c4ac7" d="M925 1244l-4 2 9-12 4 3z"/>
<path fill="#0363e1" d="M1097 1200l-4-6 8-13 5 6z"/>
<path fill="#046de0" d="M1131 1175l-4-1 9-5 4-17z"/>
<path fill="#1481d6" d="M1243 1098l-4 5 8-34 5-1z"/>
<path fill="#2053d4" d="M805 1237l-4-13 8-3 5 9z"/>
<path fill="#0871de" d="M1166 1157l-4 1 8-24 4 2z"/>
<path fill="#0f5cdd" d="M1037 1214l-4 2 8-5 5-7z"/>
<path fill="#2053d4" d="M827 1237l-5-10 9 12 4-2z"/>
<path fill="#2c4ac7" d="M848 1250l-4-10 8-6 5 13z"/>
<path fill="#0268e1" d="M745 1190l-4 6 8-7 5 9z"/>
<path fill="#1485d4" d="M625 1073l-4-10 9 2 4 14z"/>
<path fill="#0d75dc" d="M1200 1133l-4 1 8-23 5 2z"/>
<path fill="#65be86" d="M450 756l-4-388 8 3 5 389z"/>
<path fill="#2c4ac7" d="M921 1246l-4 10 8-18 5-4z"/>
<path fill="#0f5cdd" d="M1063 1210l-5 2 9-11 4-2z"/>
<path fill="#046de0" d="M707 1165l-5-6 9 5 4 4zM1127 1174l-4 1 8-6 5 0z"/>
<path fill="#0871de" d="M690 1150l-5-8 9 7 4-5z"/>
<path fill="#0998d1" d="M595 1022l-4-8 9 3 4 15z"/>
<path fill="#2053d4" d="M977 1230l-4 9 8-18 4 5z"/>
<path fill="#0d75dc" d="M672 1134l-4-9 9-4 4 11z"/>
<path fill="#2053d4" d="M1003 1228l-5-1 9-1 4-3z"/>
<path fill="#0871de" d="M1162 1158l-5 6 9-24 4-6z"/>
<path fill="#127dd8" d="M1239 1103l-4 2 8-34 4-2z"/>
<path fill="#0363e1" d="M762 1203l-4-4 9 7 4 6z"/>
<path fill="#0268e1" d="M724 1181l-5-14 9 11 4 12z"/>
<path fill="#127dd8" d="M655 1108l-4-5 8 3 5 7z"/>
<path fill="#0f5cdd" d="M1033 1216l-5 3 9-15 4 7z"/>
<path fill="#2053d4" d="M947 1237l-4 0 8-3 4 5z"/>
<path fill="#0d75dc" d="M1196 1134l-4 6 8-27 4-2z"/>
<path fill="#2c4ac7" d="M895 1242l-4-4 9 4 4-9z"/>
<path fill="#108ed2" d="M608 1046l-4-14 8 8 5 14z"/>
<path fill="#2053d4" d="M870 1234l-5 10 9-6 4 9z"/>
<path fill="#0f5cdd" d="M780 1217l-5-6 9 10 4 4z"/>
<path fill="#06a7c6" d="M553 950l-5-20 9 6 4 18z"/>
<path fill="#0363e1" d="M741 1196l-4-6 8 4 4-5z"/>
<path fill="#2053d4" d="M822 1227l-4 6 9-1 4 7z"/>
<path fill="#046de0" d="M1123 1175l-4 5 8-11 4 0z"/>
<path fill="#2c4ac7" d="M973 1239l-5-2 9-12 4-4z"/>
<path fill="#1485d4" d="M638 1085l-4-6 8-1 5 18z"/>
<path fill="#3243ba" d="M917 1256l-5-15 9-3 4 0z"/>
<path fill="#06a4ca" d="M565 972l-4-18 9 6 4 19z"/>
<path fill="#046de0" d="M1157 1164l-4-6 8-19 5 1z"/>
<path fill="#2053d4" d="M998 1227l-4 7 9-18 4 10z"/>
<path fill="#0f5cdd" d="M801 1224l-4-12 8 12 4-3zM1058 1212l-4-13 9-4 4 6z"/>
<path fill="#0363e1" d="M1088 1199l-4-12 9-4 4 7z"/>
<path fill="#127dd8" d="M1235 1105l-5-9 9-28 4 3z"/>
<path fill="#0d75dc" d="M1192 1140l-5-13 9-8 4-6z"/>
<path fill="#079ccf" d="M578 995l-4-16 8 5 5 15z"/>
<path fill="#2c4ac7" d="M865 1244l-4 1 8-6 5-1z"/>
<path fill="#0d75dc" d="M685 1142l-4-10 8 3 5 14z"/>
<path fill="#0aacbe" d="M531 923l-4-114 8 7 5 111z"/>
<path fill="#1389d3" d="M621 1063l-4-9 8 1 5 10z"/>
<path fill="#2053d4" d="M968 1237l-4-4 8-1 5-7z"/>
<path fill="#0363e1" d="M758 1199l-4-1 8-5 5 13z"/>
<path fill="#2c4ac7" d="M887 1253l-5-2 9-14 4 5z"/>
<path fill="#0268e1" d="M737 1190l-5 0 9-2 4 6zM1119 1180l-5-2 9-14 4 5z"/>
<path fill="#0871de" d="M1153 1158l-4 5 8-19 4-5z"/>
<path fill="#1079da" d="M668 1125l-4-12 8 5 5 3z"/>
<path fill="#0871de" d="M702 1159l-4-15 9 6 4 14z"/>
<path fill="#2053d4" d="M840 1239l-5-2 9-5 4 13zM1024 1225l-4-3 8-20 5 11z"/>
<path fill="#127dd8" d="M651 1103l-4-7 8 1 4 9z"/>
<path fill="#2053d4" d="M818 1233l-4-3 8-11 5 13z"/>
<path fill="#0f5cdd" d="M775 1211l-4 1 8-5 5 14z"/>
<path fill="#046de0" d="M719 1167l-4 1 9-4 4 14z"/>
<path fill="#2c4ac7" d="M938 1243l-4-6 8-7 5 13z"/>
<path fill="#2053d4" d="M994 1234l-4-12 8 6 5-12z"/>
<path fill="#2c4ac7" d="M861 1245l-4 2 8-6 4-2z"/>
<path fill="#0998d1" d="M591 1014l-4-15 8 3 5 15z"/>
<path fill="#1481d6" d="M1230 1096l-4 5 8-28 5-5z"/>
<path fill="#1079da" d="M1187 1127l-4 11 8-26 5 7z"/>
<path fill="#0268e1" d="M1084 1187l-4-1 8-8 5 5z"/>
<path fill="#0f5cdd" d="M1050 1213l-4-9 8-1 4-5z"/>
<path fill="#0871de" d="M1149 1163l-5-6 9-19 4 6z"/>
<path fill="#2053d4" d="M964 1233l-4-10 8 3 4 6z"/>
<path fill="#65be86" d="M459 760l-5-389 9 3 4 394z"/>
<path fill="#2c4ac7" d="M908 1250l-4-17 8 2 5 12z"/>
<path fill="#0363e1" d="M754 1198l-5-9 9 13 4-9z"/>
<path fill="#046de0" d="M1114 1178l-4-1 8-15 5 2z"/>
<path fill="#0c93d2" d="M604 1032l-4-15 8 4 4 19z"/>
<path fill="#2c4ac7" d="M882 1251l-4-4 9-12 4 2z"/>
<path fill="#1481d6" d="M1226 1101l-4 2 8-36 4 6z"/>
<path fill="#1485d4" d="M634 1079l-4-14 8-3 4 16z"/>
<path fill="#0f5cdd" d="M1020 1222l-5-8 9-2 4-10z"/>
<path fill="#0268e1" d="M732 1190l-4-12 9 5 4 5z"/>
<path fill="#0d75dc" d="M1183 1138l-4-1 8-26 4 1z"/>
<path fill="#0f5cdd" d="M771 1212l-4-6 8 6 4-5zM990 1222l-5 4 9-16 4 18z"/>
<path fill="#2053d4" d="M934 1237l-4-3 8 2 4-6z"/>
<path fill="#127dd8" d="M664 1113l-5-7 9 6 4 6z"/>
<path fill="#1079da" d="M681 1132l-4-11 8 8 4 6z"/>
<path fill="#046de0" d="M715 1168l-4-4 8-3 5 3z"/>
<path fill="#2c4ac7" d="M857 1247l-5-13 9-5 4 12z"/>
<path fill="#0f5cdd" d="M960 1223l-5 16 9-7 4-6z"/>
<path fill="#046de0" d="M1110 1177l-4 10 8-23 4-2z"/>
<path fill="#108ed2" d="M617 1054l-5-14 9 0 4 15z"/>
<path fill="#06a7c6" d="M561 954l-4-18 8 4 5 20z"/>
<path fill="#0363e1" d="M1046 1204l-5 7 9-15 4 7z"/>
<path fill="#0f5cdd" d="M788 1225l-4-4 8-1 5 0z"/>
<path fill="#127dd8" d="M1222 1103l-5 0 9-30 4-6z"/>
<path fill="#0268e1" d="M1076 1195l-5 4 9-15 4 1z"/>
<path fill="#2053d4" d="M831 1239l-4-7 8-3 4 15z"/>
<path fill="#06a4ca" d="M574 979l-4-19 8 5 4 19z"/>
<path fill="#0871de" d="M1144 1157l-4-5 8-9 5-5z"/>
<path fill="#1481d6" d="M647 1096l-5-18 9 5 4 14z"/>
<path fill="#0268e1" d="M749 1189l-4 5 9-4 4 12z"/>
<path fill="#0d75dc" d="M1179 1137l-5-1 9-21 4-4z"/>
<path fill="#2c4ac7" d="M878 1247l-4-9 8-4 5 1z"/>
<path fill="#2053d4" d="M930 1234l-5 4 9-8 4 6z"/>
<path fill="#0f5cdd" d="M1011 1223l-4 3 8-13 5 2z"/>
<path fill="#2053d4" d="M955 1239l-4-5 9-12 4 10z"/>
<path fill="#0268e1" d="M1106 1187l-5-6 9-18 4 1z"/>
<path fill="#1481d6" d="M1217 1103l-4 6 9-33 4-3z"/>
<path fill="#0871de" d="M1140 1152l-4 17 8-28 4 2z"/>
<path fill="#0363e1" d="M1071 1199l-4 2 8-9 5-8z"/>
<path fill="#0d75dc" d="M694 1149l-5-14 9 9 4 6z"/>
<path fill="#079ccf" d="M587 999l-5-15 9 0 4 18z"/>
<path fill="#0aacbe" d="M540 927l-5-111 9 2 4 112z"/>
<path fill="#0363e1" d="M1041 1211l-4-7 8-5 5-3zM767 1206l-5-13 9 8 4 11z"/>
<path fill="#046de0" d="M1136 1169l-5 0 9-21 4-7z"/>
<path fill="#1079da" d="M677 1121l-5-3 9 6 4 5z"/>
<path fill="#046de0" d="M728 1178l-4-14 8 12 5 7z"/>
<path fill="#0871de" d="M711 1164l-4-14 8 6 4 5z"/>
<path fill="#1389d3" d="M630 1065l-5-10 9 3 4 4z"/>
<path fill="#127dd8" d="M1213 1109l-4 4 8-36 5-1z"/>
<path fill="#0d75dc" d="M1174 1136l-4-2 9-24 4 5z"/>
<path fill="#127dd8" d="M659 1106l-4-9 9 2 4 13z"/>
<path fill="#2053d4" d="M925 1238l-4 0 8-5 5-3z"/>
<path fill="#046de0" d="M1101 1181l-4 9 9-23 4-4z"/>
<path fill="#0f5cdd" d="M805 1224l-4-7 8 4 5 11z"/>
<path fill="#0268e1" d="M745 1194l-4-6 8-1 5 3z"/>
<path fill="#0998d1" d="M600 1017l-5-15 9 5 4 14z"/>
<path fill="#2053d4" d="M874 1238l-5 1 9-4 4-1z"/>
<path fill="#0f5cdd" d="M1007 1226l-4-10 8-1 4-2zM784 1221l-5-14 9 2 4 11z"/>
<path fill="#0363e1" d="M1067 1201l-4-6 8-8 4 5z"/>
<path fill="#2c4ac7" d="M848 1245l-4-13 8-1 5 3z"/>
<path fill="#2053d4" d="M827 1232l-5-13 9 9 4 1z"/>
<path fill="#0363e1" d="M1037 1204l-4 9 8-19 4 5z"/>
<path fill="#0f5cdd" d="M977 1225l-5 7 9-14 4 8z"/>
<path fill="#2053d4" d="M895 1242l-4-5 8-1 5 10zM921 1238l-4 9 8-13 4-1z"/>
<path fill="#127dd8" d="M1209 1113l-5-2 9-33 4-1z"/>
<path fill="#59bd8c" d="M467 768l-4-394 9 3 4 396z"/>
<path fill="#1079da" d="M1170 1134l-4 6 8-25 5-5z"/>
<path fill="#0c93d2" d="M612 1040l-4-19 9 6 4 13z"/>
<path fill="#0268e1" d="M1097 1190l-4-7 8-18 5 2z"/>
<path fill="#046de0" d="M1131 1169l-4 0 9-35 4 14z"/>
<path fill="#2053d4" d="M947 1243l-5-13 9-2 4 3zM869 1239l-4 2 9-9 4 3z"/>
<path fill="#1485d4" d="M642 1078l-4-16 9 12 4 9z"/>
<path fill="#1079da" d="M689 1135l-4-6 9 5 4 10z"/>
<path fill="#0f5cdd" d="M1003 1216l-5 12 9-20 4 7z"/>
<path fill="#127dd8" d="M672 1118l-4-6 9 2 4 10z"/>
<path fill="#0d75dc" d="M1166 1140l-5-1 9-19 4-5zM707 1150l-5 0 9-3 4 9z"/>
<path fill="#0363e1" d="M1033 1213l-5-11 9-1 4-7z"/>
<path fill="#06a7c6" d="M570 960l-5-20 9 4 4 21z"/>
<path fill="#2053d4" d="M972 1232l-4-6 9-4 4-4z"/>
<path fill="#0268e1" d="M1063 1195l-5 3 9-20 4 9z"/>
<path fill="#127dd8" d="M1204 1111l-4 2 9-39 4 4z"/>
<path fill="#2c4ac7" d="M917 1247l-5-12 9-5 4 4z"/>
<path fill="#108ed2" d="M625 1055l-4-15 8 6 5 12z"/>
<path fill="#0268e1" d="M741 1188l-4-5 8-13 4 17z"/>
<path fill="#1481d6" d="M655 1097l-4-14 8 8 5 8z"/>
<path fill="#046de0" d="M1127 1169l-4-5 8-18 5-12z"/>
<path fill="#06a0cd" d="M582 984l-4-19 9 3 4 16z"/>
<path fill="#0363e1" d="M758 1202l-4-12 8 5 4 8z"/>
<path fill="#046de0" d="M1093 1183l-5-5 9-13 4 0z"/>
<path fill="#2053d4" d="M891 1237l-4-2 8-8 4 9z"/>
<path fill="#0d75dc" d="M1161 1139l-4 5 9-30 4 6z"/>
<path fill="#2053d4" d="M839 1244l-4-15 9 6 4 1z"/>
<path fill="#0f5cdd" d="M942 1230l-4 6 9-16 4 8zM797 1220l-5 0 9-5 4 9zM968 1226l-4 6 8-8 5-2z"/>
<path fill="#0268e1" d="M1058 1198l-4 5 9-16 4-9z"/>
<path fill="#2053d4" d="M865 1241l-4-12 8 1 5 2z"/>
<path fill="#127dd8" d="M1200 1113l-4 6 8-38 5-7z"/>
<path fill="#0f5cdd" d="M998 1228l-4-18 8-2 5 0z"/>
<path fill="#0363e1" d="M1028 1202l-4 10 8-19 5 8z"/>
<path fill="#079ccf" d="M595 1002l-4-18 8 7 5 16z"/>
<path fill="#0aacbe" d="M548 930l-4-112 8 4 5 114z"/>
<path fill="#0363e1" d="M775 1212l-4-11 8 2 5 11z"/>
<path fill="#0871de" d="M1123 1164l-5-2 9-16 4 0z"/>
<path fill="#0d75dc" d="M702 1150l-4-6 8-2 5 5z"/>
<path fill="#1079da" d="M685 1129l-4-5 8 1 5 9z"/>
<path fill="#108ed2" d="M638 1062l-4-4 8 6 5 10z"/>
<path fill="#0363e1" d="M1054 1203l-4-7 8-5 5-4z"/>
<path fill="#2053d4" d="M912 1235l-4 0 9-8 4 3z"/>
<path fill="#0871de" d="M719 1161l-4-5 9-1 4 15z"/>
<path fill="#2053d4" d="M938 1236l-4-6 8 3 5-13z"/>
<path fill="#0363e1" d="M1024 1212l-4 3 8-18 4-4z"/>
<path fill="#127dd8" d="M1196 1119l-5-7 9-31 4 0z"/>
<path fill="#2053d4" d="M887 1235l-5-1 9-1 4-6z"/>
<path fill="#0d75dc" d="M1157 1144l-4-6 8-23 5-1z"/>
<path fill="#127dd8" d="M668 1112l-4-13 8 1 5 14z"/>
<path fill="#2053d4" d="M964 1232l-4-10 8 3 4-1z"/>
<path fill="#0998d1" d="M608 1021l-4-14 8 3 5 17z"/>
<path fill="#046de0" d="M737 1183l-5-7 9-7 4 1z"/>
<path fill="#0268e1" d="M1084 1185l-4-1 8-16 5 3z"/>
<path fill="#2053d4" d="M814 1232l-5-11 9-3 4 8z"/>
<path fill="#0871de" d="M1118 1162l-4 2 9-16 4-2z"/>
<path fill="#0268e1" d="M754 1190l-5-3 9-3 4 11z"/>
<path fill="#0f5cdd" d="M835 1229l-4-1 8-4 5 11zM792 1220l-4-11 8 2 5 4z"/>
<path fill="#0363e1" d="M1020 1215l-5-2 9-12 4-4z"/>
<path fill="#59bd8c" d="M476 773l-4-396 8 4 4 399z"/>
<path fill="#0f5cdd" d="M934 1230l-5 3 9-6 4 6zM990 1220l-5 6 9-16 4 0z"/>
<path fill="#1485d4" d="M651 1083l-4-9 8 1 4 16z"/>
<path fill="#0c93d2" d="M621 1040l-4-13 8 2 4 17z"/>
<path fill="#0268e1" d="M1050 1196l-5 3 9-14 4 6z"/>
<path fill="#1079da" d="M1153 1138l-5 5 9-24 4-4z"/>
<path fill="#2053d4" d="M857 1234l-5-3 9-1 4 5z"/>
<path fill="#127dd8" d="M1191 1112l-4-1 9-31 4 1z"/>
<path fill="#046de0" d="M1080 1184l-5 8 9-22 4-2z"/>
<path fill="#0268e1" d="M771 1201l-5 2 9-9 4 9z"/>
<path fill="#0d75dc" d="M698 1144l-4-10 8 2 4 6z"/>
<path fill="#0f5cdd" d="M960 1222l-5 9 9-15 4 9z"/>
<path fill="#046de0" d="M732 1176l-4-6 8 4 5-5z"/>
<path fill="#0871de" d="M715 1156l-4-9 8 11 5-3zM1114 1164l-4-1 8-23 5 8z"/>
<path fill="#127dd8" d="M681 1124l-4-10 8-2 4 13z"/>
<path fill="#0363e1" d="M1015 1213l-4 2 9-15 4 1z"/>
<path fill="#2053d4" d="M904 1246l-5-10 9-15 4 11z"/>
<path fill="#06a7c6" d="M578 965l-4-21 8 2 5 22z"/>
<path fill="#0d75dc" d="M1148 1143l-4-2 9-24 4 2z"/>
<path fill="#2053d4" d="M929 1233l-4 1 9-10 4 3z"/>
<path fill="#108ed2" d="M634 1058l-5-12 9-2 4 20z"/>
<path fill="#0f5cdd" d="M985 1226l-4-8 8-8 5 0zM809 1221l-4 3 9-15 4 9zM955 1231l-4-3 8 1 5-13z"/>
<path fill="#06a4ca" d="M591 984l-4-16 8 6 4 17z"/>
<path fill="#127dd8" d="M1187 1111l-4 4 8-36 5 1z"/>
<path fill="#1481d6" d="M664 1099l-5-8 9 0 4 9z"/>
<path fill="#046de0" d="M749 1187l-4-17 9 20 4-6z"/>
<path fill="#0268e1" d="M1045 1199l-4-5 9-12 4 3zM1075 1192l-4-5 9-24 4 7z"/>
<path fill="#0f5cdd" d="M852 1231l-4 5 8-12 5 6z"/>
<path fill="#0268e1" d="M766 1203l-4-8 9 1 4-2z"/>
<path fill="#0871de" d="M1110 1163l-4 4 8-22 4-5z"/>
<path fill="#0363e1" d="M1011 1215l-4-7 8-4 5-4z"/>
<path fill="#079ccf" d="M604 1007l-5-16 9 2 4 17z"/>
<path fill="#0aacbe" d="M557 936l-5-114 9 4 4 114z"/>
<path fill="#1079da" d="M1144 1141l-4 7 8-35 5 4z"/>
<path fill="#1389d3" d="M647 1074l-5-10 9 2 4 9z"/>
<path fill="#0d75dc" d="M711 1147l-5-5 9 8 4 8z"/>
<path fill="#0363e1" d="M981 1218l-4 4 8-12 4 0z"/>
<path fill="#0871de" d="M1106 1167l-5-2 9-10 4-10z"/>
<path fill="#127dd8" d="M1183 1115l-4-5 8-32 4 1z"/>
<path fill="#0871de" d="M728 1170l-4-15 8 6 4 13z"/>
<path fill="#1079da" d="M694 1134l-5-9 9-1 4 12z"/>
<path fill="#0363e1" d="M784 1214l-5-11 9-1 4 9z"/>
<path fill="#0f5cdd" d="M951 1228l-4-8 8-2 4 11z"/>
<path fill="#2053d4" d="M899 1236l-4-9 9-3 4-3zM848 1236l-4-1 8-9 4-2z"/>
<path fill="#0f5cdd" d="M925 1234l-4-4 8-20 5 14z"/>
<path fill="#0998d1" d="M617 1027l-5-17 9 7 4 12z"/>
<path fill="#0f5cdd" d="M805 1224l-4-9 8-9 5 3z"/>
<path fill="#046de0" d="M1071 1187l-4-9 8-7 5-8z"/>
<path fill="#127dd8" d="M677 1114l-5-14 9 5 4 7z"/>
<path fill="#0871de" d="M745 1170l-4-1 8 9 5 12z"/>
<path fill="#0363e1" d="M1007 1208l-5 0 9-9 4 5z"/>
<path fill="#0268e1" d="M1037 1201l-5-8 9-8 4 6z"/>
<path fill="#59bd8c" d="M484 780l-4-399 9 3 4 403z"/>
<path fill="#0f5cdd" d="M977 1222l-5 2 9-19 4 5z"/>
<path fill="#0871de" d="M1101 1165l-4 0 8-14 5 4z"/>
<path fill="#0f5cdd" d="M869 1230l-4 5 9-10 4 11z"/>
<path fill="#0268e1" d="M762 1195l-4-11 8 6 5 6z"/>
<path fill="#0d75dc" d="M1140 1148l-4-14 8-22 4 1z"/>
<path fill="#0f5cdd" d="M822 1226l-4-8 8 5 5 6z"/>
<path fill="#1481d6" d="M1179 1110l-5 5 9-38 4 1z"/>
<path fill="#0f5cdd" d="M895 1227l-4 6 8-8 5-1z"/>
<path fill="#1485d4" d="M659 1091l-4-16 9 4 4 12z"/>
<path fill="#0f5cdd" d="M921 1230l-4-3 8 6 4-23z"/>
<path fill="#0c93d2" d="M629 1046l-4-17 9 2 4 13z"/>
<path fill="#0363e1" d="M801 1215l-5-4 9 5 4-10z"/>
<path fill="#0f5cdd" d="M972 1224l-4 1 9-7 4-13zM844 1235l-5-11 9-2 4 4z"/>
<path fill="#1079da" d="M706 1142l-4-6 9 3 4 11z"/>
<path fill="#0f5cdd" d="M917 1227l-5 5 9-6 4 7zM942 1233l-4-6 9-6 4 6zM891 1233l-4 1 8-5 4-4z"/>
<path fill="#046de0" d="M1063 1187l-5 4 9-22 4 6z"/>
<path fill="#0268e1" d="M779 1203l-4-9 9 10 4-2z"/>
<path fill="#127dd8" d="M1174 1115l-4 5 8-42 5-1z"/>
<path fill="#0871de" d="M1097 1165l-4 6 8-21 4 1z"/>
<path fill="#1079da" d="M1136 1134l-5 12 9-26 4-8z"/>
<path fill="#0363e1" d="M1002 1208l-4 2 9-16 4 5z"/>
<path fill="#06a7c6" d="M587 968l-5-22 9 5 4 23z"/>
<path fill="#0d75dc" d="M724 1155l-5 3 9-6 4 9z"/>
<path fill="#0268e1" d="M1032 1193l-4 4 9-13 4 1z"/>
<path fill="#0871de" d="M741 1169l-5 5 9-7 4 11z"/>
<path fill="#127dd8" d="M689 1125l-4-13 9 1 4 11z"/>
<path fill="#108ed2" d="M642 1064l-4-20 8 3 5 19z"/>
<path fill="#06a0cd" d="M599 991l-4-17 9 1 4 18z"/>
<path fill="#0f5cdd" d="M865 1235l-4-5 8-13 5 8z"/>
<path fill="#0d75dc" d="M1131 1146l-4 0 8-27 5 1z"/>
<path fill="#046de0" d="M758 1184l-4 6 8-8 4 8z"/>
<path fill="#0f5cdd" d="M968 1225l-4-9 8-3 5 5z"/>
<path fill="#1481d6" d="M672 1100l-4-9 8 3 5 11z"/>
<path fill="#0871de" d="M1093 1171l-5-3 9-12 4-6z"/>
<path fill="#127dd8" d="M1170 1120l-4-6 8-30 4-6z"/>
<path fill="#0f5cdd" d="M887 1234l-5 2 9-10 4 3z"/>
<path fill="#0363e1" d="M796 1211l-4 0 9-10 4 15zM998 1210l-4 0 8-7 5-9zM818 1218l-4-9 8 4 4 10z"/>
<path fill="#0aacbe" d="M565 940l-4-114 9 5 4 113z"/>
<path fill="#079ccf" d="M612 1010l-4-17 8 4 5 20z"/>
<path fill="#0268e1" d="M1058 1191l-4-6 8-16 5 0zM775 1194l-4 2 8 0 5 8z"/>
<path fill="#0f5cdd" d="M912 1232l-4-11 8 1 5 4z"/>
<path fill="#0d75dc" d="M719 1158l-4-8 9 4 4-2zM1127 1146l-4 2 8-26 4-3z"/>
<path fill="#1389d3" d="M655 1075l-4-9 8 2 5 11z"/>
<path fill="#0f5cdd" d="M835 1232l-4-3 8-3 5-1z"/>
<path fill="#0268e1" d="M1024 1201l-4-1 8-14 4 9z"/>
<path fill="#0f5cdd" d="M938 1227l-4-3 8-15 5 12z"/>
<path fill="#0363e1" d="M994 1210l-5 0 9-8 4 1zM964 1216l-5 13 9-19 4 3z"/>
<path fill="#127dd8" d="M1166 1114l-5 1 9-32 4 1z"/>
<path fill="#0f5cdd" d="M861 1230l-5-6 9-2 4-5z"/>
<path fill="#0998d1" d="M625 1029l-4-12 8-1 5 15z"/>
<path fill="#1079da" d="M702 1136l-4-12 8 1 5 14z"/>
<path fill="#0871de" d="M1088 1168l-4 2 8-26 5 12zM736 1174l-4-13 9-6 4 12z"/>
<path fill="#0f5cdd" d="M882 1236l-4 0 8-19 5 9z"/>
<path fill="#046de0" d="M754 1190l-5-12 9-4 4 8zM1054 1185l-4-3 8-9 4-4z"/>
<path fill="#59bd8c" d="M493 787l-4-403 8 3 4 404z"/>
<path fill="#1481d6" d="M685 1112l-4-7 8-1 5 9z"/>
<path fill="#0363e1" d="M792 1211l-4-9 8-4 5 3zM989 1210l-4 0 9-1 4-7z"/>
<path fill="#0d75dc" d="M1123 1148l-5-8 9-22 4 4z"/>
<path fill="#0268e1" d="M1020 1200l-5 4 9-12 4-6z"/>
<path fill="#127dd8" d="M1161 1115l-4 4 9-35 4-1z"/>
<path fill="#0268e1" d="M771 1196l-5-6 9 3 4 3z"/>
<path fill="#0363e1" d="M908 1221l-4 3 8-6 4 4z"/>
<path fill="#0f5cdd" d="M959 1229l-4-11 9-5 4-3z"/>
<path fill="#1485d4" d="M668 1091l-4-12 8 0 4 15z"/>
<path fill="#046de0" d="M1050 1182l-5 9 9-16 4-2z"/>
<path fill="#0f5cdd" d="M856 1224l-4 2 9-11 4 7z"/>
<path fill="#0c93d2" d="M638 1044l-4-13 8 5 4 11z"/>
<path fill="#0f5cdd" d="M831 1229l-5-6 9-11 4 14z"/>
<path fill="#0d75dc" d="M715 1150l-4-11 8 0 5 15z"/>
<path fill="#0871de" d="M1084 1170l-4-7 8-14 4-5z"/>
<path fill="#0f5cdd" d="M934 1224l-5-14 9 1 4-2z"/>
<path fill="#06a7c6" d="M595 974l-4-23 8 5 5 19z"/>
<path fill="#127dd8" d="M1157 1119l-4-2 8-28 5-5z"/>
<path fill="#1079da" d="M1118 1140l-4 5 9-14 4-13z"/>
<path fill="#0f5cdd" d="M878 1236l-4-11 8-4 4-4z"/>
<path fill="#0268e1" d="M809 1206l-4 10 8-11 5 10z"/>
<path fill="#0363e1" d="M985 1210l-4-5 8-3 5 7z"/>
<path fill="#0f5cdd" d="M904 1224l-5 1 9-8 4 1z"/>
<path fill="#0268e1" d="M788 1202l-4 2 8-3 4-3zM1015 1204l-4-5 8-16 5 9z"/>
<path fill="#046de0" d="M1045 1191l-4-6 9-12 4 2z"/>
<path fill="#0363e1" d="M955 1218l-4 9 8-24 5 10z"/>
<path fill="#0d75dc" d="M732 1161l-4-9 8 3 5 0z"/>
<path fill="#108ed2" d="M651 1066l-5-19 9 4 4 17z"/>
<path fill="#06a4ca" d="M608 993l-4-18 8 4 4 18z"/>
<path fill="#1079da" d="M1114 1145l-4 10 8-33 5 9z"/>
<path fill="#046de0" d="M749 1178l-4-11 8 3 5 4z"/>
<path fill="#0f5cdd" d="M852 1226l-4-4 8-2 5-5z"/>
<path fill="#127dd8" d="M698 1124l-4-11 8-1 4 13z"/>
<path fill="#0d75dc" d="M1080 1163l-5 8 9-25 4 3z"/>
<path fill="#046de0" d="M766 1190l-4-8 9 7 4 4z"/>
<path fill="#1481d6" d="M681 1105l-5-11 9 2 4 8z"/>
<path fill="#0f5cdd" d="M925 1233l-4-7 8-14 5 3z"/>
<path fill="#127dd8" d="M1153 1117l-5-4 9-27 4 3z"/>
<path fill="#07a9c2" d="M574 944l-4-113 8 1 4 114z"/>
<path fill="#079ccf" d="M621 1017l-5-20 9 1 4 18z"/>
<path fill="#0f5cdd" d="M899 1225l-4 4 9-15 4 3z"/>
<path fill="#0268e1" d="M1011 1199l-4-5 8 3 4-14z"/>
<path fill="#0363e1" d="M826 1223l-4-10 9 1 4-2zM805 1216l-4-15 8 7 4-3z"/>
<path fill="#0d75dc" d="M1110 1155l-5-4 9-24 4-5z"/>
<path fill="#0363e1" d="M874 1225l-5-8 9 2 4 2z"/>
<path fill="#0871de" d="M1075 1171l-4 4 9-31 4 2z"/>
<path fill="#0f5cdd" d="M951 1227l-4-6 8-14 4-4z"/>
<path fill="#046de0" d="M1041 1185l-4-1 8-8 5-3z"/>
<path fill="#0268e1" d="M784 1204l-5-8 9-5 4 10z"/>
<path fill="#1389d3" d="M664 1079l-5-11 9 5 4 6z"/>
<path fill="#0363e1" d="M848 1222l-4 3 8-12 4 7z"/>
<path fill="#1079da" d="M711 1139l-5-14 9 13 4 1z"/>
<path fill="#0363e1" d="M977 1218l-5-5 9-11 4 4z"/>
<path fill="#0998d1" d="M634 1031l-5-15 9 6 4 14z"/>
<path fill="#0d75dc" d="M728 1152l-4 2 8-12 4 13z"/>
<path fill="#046de0" d="M1007 1194l-5 9 9-11 4 5z"/>
<path fill="#0f5cdd" d="M895 1229l-4-3 8-9 5-3z"/>
<path fill="#59bd8c" d="M501 791l-4-404 9 3 4 407z"/>
<path fill="#0f5cdd" d="M921 1226l-5-4 9-5 4-5z"/>
<path fill="#1481d6" d="M1148 1113l-4-1 9-27 4 1z"/>
<path fill="#0871de" d="M745 1167l-4-12 8 7 4 8z"/>
<path fill="#0d75dc" d="M1105 1151l-4-1 9-27 4 4z"/>
<path fill="#0871de" d="M1071 1175l-4-6 8-22 5-3z"/>
<path fill="#046de0" d="M762 1182l-4-8 8 2 5 13z"/>
<path fill="#0363e1" d="M947 1221l-5-12 9 9 4-11zM822 1213l-4 2 8-5 5 4z"/>
<path fill="#1481d6" d="M694 1113l-5-9 9 2 4 6z"/>
<path fill="#0363e1" d="M844 1225l-5 1 9-11 4-2z"/>
<path fill="#0268e1" d="M801 1201l-5-3 9 4 4 6z"/>
<path fill="#0c93d2" d="M646 1047l-4-11 9 4 4 11z"/>
<path fill="#0268e1" d="M1002 1203l-4-1 9-13 4 3z"/>
<path fill="#1485d4" d="M676 1094l-4-15 9 4 4 13z"/>
<path fill="#1481d6" d="M1144 1112l-4 8 8-30 5-5z"/>
<path fill="#046de0" d="M1032 1195l-4-9 9-11 4 6zM779 1196l-4-3 8-4 5 2z"/>
<path fill="#0363e1" d="M972 1213l-4-3 8-11 5 3zM916 1222l-4-4 9-1 4 0z"/>
<path fill="#0d75dc" d="M1101 1150l-4 6 8-29 5-4z"/>
<path fill="#0871de" d="M1067 1169l-5 0 9-14 4-8z"/>
<path fill="#0363e1" d="M891 1226l-5-9 9-1 4 1z"/>
<path fill="#06a7c6" d="M604 975l-5-19 9 0 4 23z"/>
<path fill="#0d75dc" d="M724 1154l-5-15 9 4 4-1z"/>
<path fill="#0363e1" d="M865 1222l-4-7 8 2 4 5z"/>
<path fill="#127dd8" d="M1140 1120l-5-1 9-29 4 0z"/>
<path fill="#108ed2" d="M659 1068l-4-17 8 7 5 15z"/>
<path fill="#0268e1" d="M942 1209l-4 2 8-5 5 12z"/>
<path fill="#127dd8" d="M706 1125l-4-13 9 11 4 15z"/>
<path fill="#0268e1" d="M998 1202l-4 7 8-19 5-1z"/>
<path fill="#0871de" d="M1062 1169l-4 4 9-13 4-5z"/>
<path fill="#06a0cd" d="M616 997l-4-18 9 3 4 16z"/>
<path fill="#0363e1" d="M818 1215l-5-10 9 3 4 2zM839 1226l-4-14 8-4 5 7z"/>
<path fill="#0268e1" d="M796 1198l-4 3 9-6 4 7z"/>
<path fill="#0871de" d="M758 1174l-5-4 9 5 4 1z"/>
<path fill="#0268e1" d="M968 1210l-4 3 8-16 4 2z"/>
<path fill="#1485d4" d="M689 1104l-4-8 8 7 5 3z"/>
<path fill="#046de0" d="M1028 1186l-4 6 8-22 5 5z"/>
<path fill="#0363e1" d="M912 1218l-4-1 8-5 5 5z"/>
<path fill="#046de0" d="M775 1193l-4-4 8-8 4 8z"/>
<path fill="#0d75dc" d="M1097 1156l-5-12 9-23 4 6z"/>
<path fill="#0aacbe" d="M582 946l-4-114 9 3 4 116z"/>
<path fill="#079ccf" d="M629 1016l-4-18 9 4 4 20z"/>
<path fill="#1481d6" d="M1135 1119l-4 3 9-32 4 0z"/>
<path fill="#0268e1" d="M994 1209l-5-7 9-8 4-4z"/>
<path fill="#0871de" d="M1058 1173l-4 2 8-20 5 5z"/>
<path fill="#0363e1" d="M861 1215l-5 5 9-17 4 14z"/>
<path fill="#1389d3" d="M672 1079l-4-6 8-3 5 13z"/>
<path fill="#0363e1" d="M882 1221l-4-2 8 2 5 1z"/>
<path fill="#1079da" d="M719 1139l-4-1 8-8 5 13z"/>
<path fill="#0998d1" d="M642 1036l-4-14 8-2 5 20z"/>
<path fill="#0268e1" d="M813 1205l-4 3 9-8 4 8z"/>
<path fill="#046de0" d="M1024 1192l-5-9 9-4 4-9z"/>
<path fill="#4dbc92" d="M510 797l-4-407 8 4 4 410z"/>
<path fill="#0d75dc" d="M736 1155l-4-13 9 13 4 6z"/>
<path fill="#0363e1" d="M964 1213l-5-10 9-7 4 1zM908 1217l-4-3 8 3 4-5z"/>
<path fill="#127dd8" d="M1131 1122l-4-4 8-30 5 2z"/>
<path fill="#0268e1" d="M835 1212l-4 2 8-11 4 5z"/>
<path fill="#1079da" d="M1092 1144l-4 5 9-25 4-3z"/>
<path fill="#0268e1" d="M792 1201l-4-10 8-6 5 10z"/>
<path fill="#0363e1" d="M934 1215l-5-3 9-3 4 0z"/>
<path fill="#0268e1" d="M989 1202l-4 4 9-17 4 5z"/>
<path fill="#0871de" d="M753 1170l-4-8 9-5 4 18zM1054 1175l-4-2 8-22 4 4z"/>
<path fill="#1481d6" d="M702 1112l-4-6 8 5 5 12z"/>
<path fill="#046de0" d="M771 1189l-5-13 9 4 4 1z"/>
<path fill="#0871de" d="M1019 1183l-4 14 9-27 4 9z"/>
<path fill="#1485d4" d="M685 1096l-4-13 8 4 4 16z"/>
<path fill="#0c93d2" d="M655 1051l-4-11 8 1 4 17z"/>
<path fill="#0363e1" d="M856 1220l-4-7 9-2 4-8z"/>
<path fill="#1481d6" d="M1127 1118l-4 13 8-37 4-6z"/>
<path fill="#0363e1" d="M878 1219l-5 3 9-12 4 11z"/>
<path fill="#1079da" d="M1088 1149l-4-3 8-22 5 0z"/>
<path fill="#0268e1" d="M904 1214l-5 3 9-9 4 9zM809 1208l-4-6 8-7 5 5zM831 1214l-5-4 9-1 4-6zM985 1206l-4-4 8-11 5-2z"/>
<path fill="#06a7c6" d="M612 979l-4-23 8 5 5 21z"/>
<path fill="#0268e1" d="M929 1212l-4 5 8-17 5 9z"/>
<path fill="#0871de" d="M1050 1173l-5 3 9-26 4 1z"/>
<path fill="#046de0" d="M1015 1197l-4-5 8-18 5-4z"/>
<path fill="#0268e1" d="M955 1207l-4 11 8-20 5 5z"/>
<path fill="#127dd8" d="M1123 1131l-5-9 9-29 4 1z"/>
<path fill="#1079da" d="M732 1142l-4 1 8 0 5 12z"/>
<path fill="#0268e1" d="M852 1213l-4 2 8-4 5 0z"/>
<path fill="#127dd8" d="M715 1138l-4-15 8-6 4 13z"/>
<path fill="#06a4ca" d="M625 998l-4-16 8 4 5 16z"/>
<path fill="#108ed2" d="M668 1073l-5-15 9-1 4 13z"/>
<path fill="#0363e1" d="M925 1217l-4 0 8-1 4-16z"/>
<path fill="#0871de" d="M766 1176l-4-1 8 1 5 4z"/>
<path fill="#1485d4" d="M698 1106l-5-3 9 2 4 6z"/>
<path fill="#1079da" d="M1084 1146l-4-2 8-20 4 0z"/>
<path fill="#0268e1" d="M981 1202l-5-3 9-5 4-3z"/>
<path fill="#0871de" d="M1045 1176l-4 5 8-32 5 1z"/>
<path fill="#07a9c2" d="M591 951l-4-116 8 4 4 117z"/>
<path fill="#0363e1" d="M899 1217l-4-1 8-12 5 4zM873 1222l-4-5 9-14 4 7z"/>
<path fill="#079ccf" d="M638 1022l-4-20 8 4 4 14z"/>
<path fill="#0268e1" d="M826 1210l-4-2 9-10 4 11z"/>
<path fill="#046de0" d="M1011 1192l-4-3 8-12 4-3z"/>
<path fill="#1481d6" d="M1118 1122l-4 5 8-31 5-3z"/>
<path fill="#0363e1" d="M951 1218l-5-12 9-6 4-2z"/>
<path fill="#0268e1" d="M805 1202l-4-7 8-5 4 5z"/>
<path fill="#046de0" d="M783 1189l-4-8 9 1 4 14z"/>
<path fill="#0268e1" d="M848 1215l-5-7 9-1 4 4z"/>
<path fill="#1079da" d="M1080 1144l-5 3 9-21 4-2z"/>
<path fill="#0d75dc" d="M745 1161l-4-6 8 1 4 7z"/>
<path fill="#1389d3" d="M681 1083l-5-13 9 4 4 13z"/>
<path fill="#4dbc92" d="M518 804l-4-410 9 3 4 412z"/>
<path fill="#0871de" d="M1041 1181l-4-6 8-18 4-8z"/>
<path fill="#0363e1" d="M921 1217l-5-5 9-14 4 18z"/>
<path fill="#0268e1" d="M895 1216l-4 6 8-18 4 0z"/>
<path fill="#0998d1" d="M651 1040l-5-20 9 4 4 17z"/>
<path fill="#127dd8" d="M1114 1127l-4-4 8-27 4 0z"/>
<path fill="#1079da" d="M728 1143l-5-13 9 3 4 10z"/>
<path fill="#046de0" d="M1007 1189l-5 1 9-13 4 0zM976 1199l-4-2 9-11 4 8z"/>
<path fill="#1079da" d="M1075 1147l-4 8 8-26 5-3z"/>
<path fill="#0268e1" d="M869 1217l-4-14 8 10 5-10z"/>
<path fill="#0871de" d="M762 1175l-4-18 8 11 4 8z"/>
<path fill="#1481d6" d="M711 1123l-5-12 9 3 4 3z"/>
<path fill="#0268e1" d="M822 1208l-4-8 8 0 5-2zM946 1206l-4 3 9-16 4 7z"/>
<path fill="#1079da" d="M1071 1155l-4 5 8-29 4-2z"/>
<path fill="#0363e1" d="M891 1222l-5-1 9-15 4-2z"/>
<path fill="#1485d4" d="M693 1103l-4-16 9 0 4 18z"/>
<path fill="#046de0" d="M801 1195l-5-10 9 7 4-2z"/>
<path fill="#0c93d2" d="M663 1058l-4-17 9-1 4 17z"/>
<path fill="#046de0" d="M1002 1190l-4 4 8-17 5 0z"/>
<path fill="#0871de" d="M1037 1175l-5-5 9-19 4 6z"/>
<path fill="#0268e1" d="M843 1208l-4-5 9-5 4 9z"/>
<path fill="#1481d6" d="M1110 1123l-5 4 9-33 4 2z"/>
<path fill="#0871de" d="M779 1181l-4-1 8-4 5 6z"/>
<path fill="#0268e1" d="M916 1212l-4 5 9-14 4-5z"/>
<path fill="#046de0" d="M972 1197l-4-1 8-2 5-8z"/>
<path fill="#06a7c6" d="M621 982l-5-21 9 2 4 23z"/>
<path fill="#0268e1" d="M942 1209l-4 0 8-8 5-8z"/>
<path fill="#1079da" d="M741 1155l-5-12 9 1 4 12z"/>
<path fill="#0d75dc" d="M1067 1160l-5-5 9-24 4 0zM1032 1170l-4 9 8-22 5-6z"/>
<path fill="#06a4ca" d="M634 1002l-5-16 9-1 4 21z"/>
<path fill="#0871de" d="M796 1185l-4 11 8-13 5 9z"/>
<path fill="#046de0" d="M818 1200l-5-5 9-2 4 7z"/>
<path fill="#0363e1" d="M886 1221l-4-11 9-4 4 0z"/>
<path fill="#046de0" d="M998 1194l-4-5 8-15 4 3z"/>
<path fill="#1079da" d="M758 1157l-5 6 9-1 4 6z"/>
<path fill="#127dd8" d="M1105 1127l-4-6 9-25 4-2z"/>
<path fill="#108ed2" d="M676 1070l-4-13 9-2 4 19z"/>
<path fill="#046de0" d="M968 1196l-4 7 8-23 4 14z"/>
<path fill="#127dd8" d="M723 1130l-4-13 9 4 4 12z"/>
<path fill="#1485d4" d="M706 1111l-4-6 8-4 5 13z"/>
<path fill="#0268e1" d="M861 1211l-5 0 9-5 4 4zM912 1217l-4-9 8-14 5 9z"/>
<path fill="#07a9c2" d="M599 956l-4-117 9 3 4 114z"/>
<path fill="#0871de" d="M775 1180l-5-4 9-1 4 1z"/>
<path fill="#046de0" d="M839 1203l-4 6 8-18 5 7z"/>
<path fill="#0268e1" d="M938 1209l-5-9 9-3 4 4z"/>
<path fill="#0871de" d="M1028 1179l-4-9 8-8 4-5z"/>
<path fill="#079ccf" d="M646 1020l-4-14 9 2 4 16z"/>
<path fill="#1079da" d="M1062 1155l-4-4 9-23 4 3z"/>
<path fill="#4dbc92" d="M527 809l-4-412 8 3 4 416z"/>
<path fill="#046de0" d="M964 1203l-5-5 9-4 4-14z"/>
<path fill="#1481d6" d="M1101 1121l-4 3 8-32 5 4z"/>
<path fill="#046de0" d="M994 1189l-5 2 9-21 4 4z"/>
<path fill="#1389d3" d="M689 1087l-4-13 8-3 5 16z"/>
<path fill="#046de0" d="M813 1195l-4-5 9 5 4-2zM792 1196l-4-14 8-7 4 8zM933 1200l-4 16 9-20 4 1z"/>
<path fill="#0d75dc" d="M1024 1170l-5 4 9-12 4 0z"/>
<path fill="#0268e1" d="M835 1209l-4-11 8 1 4-8z"/>
<path fill="#0998d1" d="M659 1041l-4-17 8 1 5 15z"/>
<path fill="#0d75dc" d="M753 1163l-4-7 9-7 4 13z"/>
<path fill="#0268e1" d="M882 1210l-4-7 8-4 5 7zM856 1211l-4-4 8-8 5 7z"/>
<path fill="#127dd8" d="M736 1143l-4-10 8-2 5 13z"/>
<path fill="#0268e1" d="M908 1208l-5-4 9-7 4-3z"/>
<path fill="#0871de" d="M770 1176l-4-8 9-2 4 9z"/>
<path fill="#1079da" d="M1058 1151l-4-1 8-19 5-3z"/>
<path fill="#046de0" d="M989 1191l-4 3 9-20 4-4z"/>
<path fill="#1481d6" d="M1097 1124l-5 0 9-28 4-4z"/>
<path fill="#046de0" d="M959 1198l-4 2 8-16 5 10z"/>
<path fill="#1481d6" d="M719 1117l-4-3 8 0 5 7z"/>
<path fill="#0268e1" d="M929 1216l-4-18 8-1 5-1z"/>
<path fill="#1485d4" d="M702 1105l-4-18 8 1 4 13z"/>
<path fill="#0871de" d="M809 1190l-4 2 8-6 5 9z"/>
<path fill="#0d75dc" d="M1019 1174l-4 3 9-25 4 10z"/>
<path fill="#0c93d2" d="M672 1057l-4-17 8 4 5 11z"/>
<path fill="#046de0" d="M831 1198l-5 2 9-7 4 6zM903 1204l-4 0 9-8 4 1z"/>
<path fill="#06a7c6" d="M629 986l-4-23 8 2 5 20z"/>
<path fill="#046de0" d="M878 1203l-5 10 9-22 4 8z"/>
<path fill="#0268e1" d="M852 1207l-4-9 8 5 4-4z"/>
<path fill="#1079da" d="M1054 1150l-5-1 9-15 4-3z"/>
<path fill="#1481d6" d="M1092 1124l-4 0 9-33 4 5z"/>
<path fill="#046de0" d="M985 1194l-4-8 8-12 5 0z"/>
<path fill="#0871de" d="M788 1182l-5-6 9-2 4 1z"/>
<path fill="#06a4ca" d="M642 1006l-4-21 8 6 5 17z"/>
<path fill="#046de0" d="M955 1200l-4-7 8-5 4-4z"/>
<path fill="#1079da" d="M749 1156l-4-12 8-6 5 11z"/>
<path fill="#0268e1" d="M873 1213l-4-3 9-9 4-10z"/>
<path fill="#046de0" d="M899 1204l-4 2 8-7 5-3z"/>
<path fill="#0d75dc" d="M766 1168l-4-6 8-4 5 8z"/>
<path fill="#108ed2" d="M685 1074l-4-19 8 7 4 9z"/>
<path fill="#0871de" d="M1015 1177l-4 0 8-26 5 1z"/>
<path fill="#0aacbe" d="M608 956l-4-114 8 4 4 115z"/>
<path fill="#127dd8" d="M732 1133l-4-12 8 0 4 10z"/>
<path fill="#1481d6" d="M1088 1124l-4 2 8-25 5-10z"/>
<path fill="#046de0" d="M925 1198l-4 5 8-11 4 5z"/>
<path fill="#1079da" d="M1049 1149l-4 8 9-31 4 8z"/>
<path fill="#0871de" d="M805 1192l-5-9 9 0 4 3z"/>
<path fill="#046de0" d="M826 1200l-4-7 8-3 5 3z"/>
<path fill="#1485d4" d="M715 1114l-5-13 9 0 4 13z"/>
<path fill="#0871de" d="M981 1186l-5 8 9-19 4-1z"/>
<path fill="#079ccf" d="M655 1024l-4-16 8 2 4 15z"/>
<path fill="#046de0" d="M951 1193l-5 8 9-16 4 3z"/>
<path fill="#4dbc92" d="M535 816l-4-416 9 3 4 415z"/>
<path fill="#0d75dc" d="M783 1176l-4-1 9-5 4 4z"/>
<path fill="#046de0" d="M848 1198l-5-7 9-1 4 13zM895 1206l-4 0 8-11 4 4z"/>
<path fill="#1481d6" d="M1084 1126l-5 3 9-33 4 5z"/>
<path fill="#0871de" d="M1011 1177l-5 0 9-26 4 0z"/>
<path fill="#0268e1" d="M869 1210l-4-4 8-17 5 12z"/>
<path fill="#1389d3" d="M698 1087l-5-16 9 7 4 10z"/>
<path fill="#1079da" d="M1045 1157l-4-6 8-24 5-1z"/>
<path fill="#046de0" d="M976 1194l-4-14 9-1 4-4z"/>
<path fill="#0998d1" d="M668 1040l-5-15 9 4 4 15z"/>
<path fill="#0871de" d="M822 1193l-4 2 8-6 4 1z"/>
<path fill="#046de0" d="M921 1203l-5-9 9-11 4 9zM946 1201l-4-4 9-18 4 6z"/>
<path fill="#1079da" d="M762 1162l-4-13 8 3 4 6z"/>
<path fill="#127dd8" d="M745 1144l-5-13 9 3 4 4z"/>
<path fill="#1481d6" d="M1079 1129l-4 2 9-35 4 0z"/>
<path fill="#0d75dc" d="M1006 1177l-4-3 9-16 4-7z"/>
<path fill="#1481d6" d="M728 1121l-5-7 9 3 4 4z"/>
<path fill="#0871de" d="M800 1183l-4-8 9-4 4 12z"/>
<path fill="#1079da" d="M1041 1151l-5 6 9-25 4-5z"/>
<path fill="#046de0" d="M891 1206l-5-7 9-4 4 0z"/>
<path fill="#0998d1" d="M681 1055l-5-11 9 1 4 17z"/>
<path fill="#046de0" d="M865 1206l-5-7 9-3 4-7z"/>
<path fill="#0871de" d="M972 1180l-4 14 8-26 5 11z"/>
<path fill="#1389d3" d="M710 1101l-4-13 9 2 4 11z"/>
<path fill="#0d75dc" d="M779 1175l-4-9 8-16 5 20z"/>
<path fill="#06a7c6" d="M638 985l-5-20 9 2 4 24z"/>
<path fill="#1079da" d="M1036 1157l-4 5 9-30 4 0z"/>
<path fill="#1481d6" d="M1075 1131l-4 0 8-33 5-2z"/>
<path fill="#0871de" d="M916 1194l-4 3 8-9 5-5z"/>
<path fill="#046de0" d="M818 1195l-5-9 9-3 4 6zM942 1197l-4-1 8-15 5-2z"/>
<path fill="#0d75dc" d="M1002 1174l-4-4 8-15 5 3z"/>
<path fill="#06a4ca" d="M651 1008l-5-17 9-1 4 20z"/>
<path fill="#046de0" d="M839 1199l-4-6 8-10 5 9z"/>
<path fill="#0c93d2" d="M693 1071l-4-9 9 3 4 13z"/>
<path fill="#07a9c2" d="M616 961l-4-115 9 4 4 113z"/>
<path fill="#046de0" d="M860 1199l-4 4 9-15 4 8zM886 1199l-4-8 8 1 5 3z"/>
<path fill="#1079da" d="M1032 1162l-4 0 8-33 5 3z"/>
<path fill="#0d75dc" d="M796 1175l-4-1 8-5 5 2z"/>
<path fill="#046de0" d="M938 1196l-5 1 9-10 4-6z"/>
<path fill="#1481d6" d="M1071 1131l-4-3 8-26 4-4z"/>
<path fill="#0871de" d="M968 1194l-5-10 9-17 4 1z"/>
<path fill="#046de0" d="M912 1197l-4-1 8-11 4 3z"/>
<path fill="#1481d6" d="M740 1131l-4-10 9 0 4 13z"/>
<path fill="#1079da" d="M758 1149l-5-11 9 0 4 14z"/>
<path fill="#1485d4" d="M723 1114l-4-13 9 3 4 13z"/>
<path fill="#06a0cd" d="M663 1025l-4-15 9-4 4 23z"/>
<path fill="#4dbc92" d="M544 818l-4-415 8 3 4 416z"/>
<path fill="#0d75dc" d="M998 1170l-4 4 8-24 4 5zM775 1166l-5-8 9-1 4-7z"/>
<path fill="#1481d6" d="M1067 1128l-5 3 9-23 4-6z"/>
<path fill="#0871de" d="M813 1186l-4-3 8-7 5 7zM835 1193l-5-3 9-3 4-4zM908 1196l-5 3 9-11 4-3z"/>
<path fill="#046de0" d="M933 1197l-4-5 9-7 4 2z"/>
<path fill="#108ed2" d="M706 1088l-4-10 8-4 5 16z"/>
<path fill="#0871de" d="M963 1184l-4 4 9-19 4-2z"/>
<path fill="#1079da" d="M1028 1162l-4-10 8-18 4-5z"/>
<path fill="#0871de" d="M882 1191l-4 10 8-16 4 7z"/>
<path fill="#046de0" d="M856 1203l-4-13 8 2 5-4z"/>
<path fill="#0d75dc" d="M994 1174l-5 0 9-15 4-9z"/>
<path fill="#0998d1" d="M676 1044l-4-15 8-1 5 17z"/>
<path fill="#0d75dc" d="M792 1174l-4-4 8-17 4 16z"/>
<path fill="#1481d6" d="M1062 1131l-4 3 8-34 5 8z"/>
<path fill="#046de0" d="M903 1199l-4-4 9-5 4-2z"/>
<path fill="#1079da" d="M770 1158l-4-6 9-4 4 9z"/>
<path fill="#1481d6" d="M736 1121l-4-4 8-2 5 6z"/>
<path fill="#0871de" d="M830 1190l-4-1 9-9 4 7z"/>
<path fill="#0d75dc" d="M989 1174l-4 1 8-20 5 4z"/>
<path fill="#127dd8" d="M753 1138l-4-4 8-5 5 9z"/>
<path fill="#0871de" d="M959 1188l-4-3 8-22 5 6z"/>
<path fill="#0c93d2" d="M689 1062l-4-17 8 1 5 19z"/>
<path fill="#0871de" d="M929 1192l-4-9 8 8 5-6z"/>
<path fill="#046de0" d="M878 1201l-5-12 9 2 4-6z"/>
<path fill="#0871de" d="M809 1183l-4-12 8 6 4-1z"/>
<path fill="#1079da" d="M1024 1152l-5-1 9-21 4 4z"/>
<path fill="#1389d3" d="M719 1101l-4-11 8 1 5 13z"/>
<path fill="#06a7c6" d="M646 991l-4-24 8 0 5 23z"/>
<path fill="#0871de" d="M852 1190l-4 2 8-12 4 12zM899 1195l-4 0 8-9 5 4z"/>
<path fill="#0d75dc" d="M985 1175l-4 4 8-22 4-2z"/>
<path fill="#1481d6" d="M1058 1134l-4-8 8-30 4 4z"/>
<path fill="#06a4ca" d="M659 1010l-4-20 8 3 5 13z"/>
<path fill="#0aacbe" d="M625 963l-4-113 8 2 4 113z"/>
<path fill="#108ed2" d="M702 1078l-4-13 8 1 4 8z"/>
<path fill="#0871de" d="M873 1189l-4 7 8-12 5 7z"/>
<path fill="#0d75dc" d="M925 1183l-5 5 9-8 4 11z"/>
<path fill="#0871de" d="M955 1185l-4-6 8-11 4-5z"/>
<path fill="#0d75dc" d="M788 1170l-5-20 9 6 4-3z"/>
<path fill="#0871de" d="M826 1189l-4-6 8-5 5 2z"/>
<path fill="#127dd8" d="M1019 1151l-4 0 8-22 5 1z"/>
<path fill="#4dbc92" d="M552 822l-4-416 9 4 4 416z"/>
<path fill="#0d75dc" d="M805 1171l-5-2 9-4 4 12zM981 1179l-5-11 9-6 4-5z"/>
<path fill="#1485d4" d="M732 1117l-4-13 8-4 4 15z"/>
<path fill="#1481d6" d="M749 1134l-4-13 8 0 4 8z"/>
<path fill="#06a0cd" d="M672 1029l-4-23 8 4 4 18z"/>
<path fill="#127dd8" d="M766 1152l-4-14 8-5 5 15z"/>
<path fill="#1481d6" d="M1054 1126l-5 1 9-26 4-5z"/>
<path fill="#0871de" d="M848 1192l-5-9 9-5 4 2z"/>
<path fill="#0d75dc" d="M951 1179l-5 2 9-11 4-2z"/>
<path fill="#127dd8" d="M1015 1151l-4 7 8-31 4 2z"/>
<path fill="#0871de" d="M895 1195l-5-3 9-18 4 12zM869 1196l-4-8 8-2 4-2zM920 1188l-4-3 9-7 4 2z"/>
<path fill="#108ed2" d="M715 1090l-5-16 9 6 4 11z"/>
<path fill="#1481d6" d="M1049 1127l-4 5 9-33 4 2z"/>
<path fill="#127dd8" d="M783 1150l-4 7 8-10 5 9z"/>
<path fill="#079ccf" d="M685 1045l-5-17 9 3 4 15z"/>
<path fill="#0d75dc" d="M822 1183l-5-7 9-5 4 7z"/>
<path fill="#1079da" d="M1011 1158l-5-3 9-24 4-4z"/>
<path fill="#0d75dc" d="M843 1183l-4 4 8-8 5-1z"/>
<path fill="#1079da" d="M976 1168l-4-1 8-16 5 11z"/>
<path fill="#0871de" d="M865 1188l-5 4 9-12 4 6z"/>
<path fill="#1079da" d="M800 1169l-4-16 9 9 4 3z"/>
<path fill="#0871de" d="M890 1192l-4-7 9 1 4-12z"/>
<path fill="#0c93d2" d="M698 1065l-5-19 9 3 4 17z"/>
<path fill="#1481d6" d="M1045 1132l-4 0 8-35 5 2z"/>
<path fill="#0871de" d="M942 1187l-4-2 8-19 4 11z"/>
<path fill="#0d75dc" d="M916 1185l-4 3 8-19 5 9z"/>
<path fill="#1485d4" d="M745 1121l-5-6 9-9 4 15z"/>
<path fill="#1481d6" d="M762 1138l-5-9 9 2 4 2z"/>
<path fill="#06a7c6" d="M655 990l-5-23 9 4 4 22z"/>
<path fill="#1389d3" d="M728 1104l-5-13 9 1 4 8z"/>
<path fill="#1079da" d="M779 1157l-4-9 8-4 4 3z"/>
<path fill="#0871de" d="M839 1187l-4-7 8-2 4 1z"/>
<path fill="#0d75dc" d="M817 1176l-4 1 9-9 4 3z"/>
<path fill="#1079da" d="M1006 1155l-4-5 9-22 4 3zM972 1167l-4 2 8-13 4-5z"/>
<path fill="#0d75dc" d="M886 1185l-4 6 8-15 5 10z"/>
<path fill="#0871de" d="M912 1188l-4 2 8-9 4-12z"/>
<path fill="#0aacbe" d="M633 965l-4-113 9 1 4 114z"/>
<path fill="#06a4ca" d="M668 1006l-5-13 9 1 4 16z"/>
<path fill="#1481d6" d="M1041 1132l-5-3 9-26 4-6z"/>
<path fill="#0d75dc" d="M938 1185l-5 6 9-20 4-5z"/>
<path fill="#0871de" d="M860 1192l-4-12 9-4 4 4z"/>
<path fill="#0c93d2" d="M710 1074l-4-8 9-4 4 18z"/>
<path fill="#4dbc92" d="M561 826l-4-416 8 3 5 418z"/>
<path fill="#127dd8" d="M1002 1150l-4 9 8-24 5-7zM796 1153l-4 3 8-1 5 7z"/>
<path fill="#1079da" d="M968 1169l-5-6 9-7 4 0z"/>
<path fill="#1481d6" d="M1036 1129l-4 5 9-26 4-5z"/>
<path fill="#06a0cd" d="M680 1028l-4-18 9 4 4 17z"/>
<path fill="#0871de" d="M908 1190l-5-4 9-16 4 11zM882 1191l-5-7 9-5 4-3z"/>
<path fill="#1481d6" d="M757 1129l-4-8 9-2 4 12z"/>
<path fill="#0d75dc" d="M835 1180l-5-2 9-11 4 11z"/>
<path fill="#1485d4" d="M740 1115l-4-15 9 7 4-1z"/>
<path fill="#0d75dc" d="M813 1177l-4-12 8-7 5 10z"/>
<path fill="#0871de" d="M933 1191l-4-11 9-13 4 4z"/>
<path fill="#1079da" d="M998 1159l-5-4 9-28 4 8z"/>
<path fill="#108ed2" d="M723 1091l-4-11 8-1 5 13z"/>
<path fill="#127dd8" d="M775 1148l-5-15 9-7 4 18z"/>
<path fill="#079ccf" d="M693 1046l-4-15 8 2 5 16z"/>
<path fill="#0d75dc" d="M856 1180l-4-2 8-5 5 3z"/>
<path fill="#1481d6" d="M1032 1134l-4-4 8-32 5 10z"/>
<path fill="#1079da" d="M963 1163l-4 5 9-16 4 4z"/>
<path fill="#127dd8" d="M792 1156l-5-9 9 3 4 5z"/>
<path fill="#0d75dc" d="M877 1184l-4 2 9-17 4 10zM903 1186l-4-12 8 1 5-5z"/>
<path fill="#127dd8" d="M993 1155l-4 2 9-32 4 2z"/>
<path fill="#0d75dc" d="M929 1180l-4-2 8-11 5 0zM830 1178l-4-7 9-5 4 1z"/>
<path fill="#0c93d2" d="M706 1066l-4-17 8 0 5 13z"/>
<path fill="#1079da" d="M959 1168l-4 2 8-19 5 1zM809 1165l-4-3 8-4 4 0z"/>
<path fill="#06a7c6" d="M663 993l-4-22 8 0 5 23z"/>
<path fill="#0d75dc" d="M852 1178l-5 1 9-10 4 4z"/>
<path fill="#1481d6" d="M1028 1130l-5-1 9-27 4-4z"/>
<path fill="#1389d3" d="M736 1100l-4-8 8-3 5 18z"/>
<path fill="#1485d4" d="M753 1121l-4-15 8 5 5 8z"/>
<path fill="#127dd8" d="M989 1157l-4 5 8-32 5-5z"/>
<path fill="#1481d6" d="M770 1133l-4-2 8-2 5-3z"/>
<path fill="#1079da" d="M899 1174l-4 12 8-13 4 2z"/>
<path fill="#0d75dc" d="M873 1186l-4-6 8-6 5-5z"/>
<path fill="#127dd8" d="M787 1147l-4-3 9-3 4 9z"/>
<path fill="#06a4ca" d="M676 1010l-4-16 8 0 5 20z"/>
<path fill="#1079da" d="M955 1170l-5 7 9-28 4 2z"/>
<path fill="#0aacbe" d="M642 967l-4-114 8 0 4 114z"/>
<path fill="#4dbc92" d="M570 831l-5-418 9 3 4 416z"/>
<path fill="#1079da" d="M826 1171l-4-3 8-4 5 2z"/>
<path fill="#0d75dc" d="M925 1178l-5-9 9-7 4 5z"/>
<path fill="#0c93d2" d="M719 1080l-4-18 8 0 4 17z"/>
<path fill="#1481d6" d="M1023 1129l-4-2 9-27 4 2z"/>
<path fill="#1079da" d="M805 1162l-5-7 9-3 4 6z"/>
<path fill="#0d75dc" d="M847 1179l-4-1 9-16 4 7z"/>
<path fill="#1079da" d="M985 1162l-5-11 9-21 4 0z"/>
<path fill="#06a0cd" d="M689 1031l-4-17 8 0 4 19z"/>
<path fill="#0d75dc" d="M895 1186l-5-10 9-5 4 2zM950 1177l-4-11 9-11 4-6zM869 1180l-4-4 8-9 4 7z"/>
<path fill="#1485d4" d="M1019 1127l-4 4 8-25 5-6z"/>
<path fill="#1389d3" d="M749 1106l-4 1 8-7 4 11z"/>
<path fill="#1079da" d="M920 1169l-4 12 9-19 4 0z"/>
<path fill="#1481d6" d="M766 1131l-4-12 8-7 4 17z"/>
<path fill="#079ccf" d="M702 1049l-5-16 9 0 4 16z"/>
<path fill="#108ed2" d="M732 1092l-5-13 9 2 4 8z"/>
<path fill="#127dd8" d="M980 1151l-4 5 9-23 4-3z"/>
<path fill="#1481d6" d="M783 1144l-4-18 8 13 5 2z"/>
<path fill="#1079da" d="M822 1168l-5-10 9 2 4 4z"/>
<path fill="#0d75dc" d="M843 1178l-4-11 8-3 5-2z"/>
<path fill="#1481d6" d="M1015 1131l-4-3 8-25 4 3z"/>
<path fill="#1079da" d="M946 1166l-4 5 8-25 5 9z"/>
<path fill="#127dd8" d="M800 1155l-4-5 8-9 5 11z"/>
<path fill="#1079da" d="M890 1176l-4 3 9-21 4 13z"/>
<path fill="#0d75dc" d="M916 1181l-4-11 8-9 5 1z"/>
<path fill="#127dd8" d="M976 1156l-4 0 8-28 5 5z"/>
<path fill="#1079da" d="M865 1176l-5-3 9-10 4 4z"/>
<path fill="#0998d1" d="M715 1062l-5-13 9 3 4 10z"/>
<path fill="#06a7c6" d="M672 994l-5-23 9 0 4 23z"/>
<path fill="#1485d4" d="M1011 1128l-5 7 9-30 4-2z"/>
<path fill="#1079da" d="M942 1171l-4-4 8-12 4-9z"/>
<path fill="#1389d3" d="M745 1107l-5-18 9 1 4 10z"/>
<path fill="#127dd8" d="M817 1158l-4 0 9-10 4 12z"/>
<path fill="#1485d4" d="M762 1119l-5-8 9 0 4 1z"/>
<path fill="#06a4ca" d="M685 1014l-5-20 9 1 4 19z"/>
<path fill="#1079da" d="M912 1170l-5 5 9-15 4 1z"/>
<path fill="#1485d4" d="M779 1126l-5 3 9-8 4 18z"/>
<path fill="#1079da" d="M839 1167l-4-1 8-16 4 14z"/>
<path fill="#4dbc92" d="M578 832l-4-416 8 3 5 416z"/>
<path fill="#0aacbe" d="M650 967l-4-114 9 2 4 116z"/>
<path fill="#1079da" d="M860 1173l-4-4 8-2 5-4z"/>
<path fill="#0d75dc" d="M886 1179l-4-10 8-11 5 0z"/>
<path fill="#127dd8" d="M972 1156l-4-4 8-26 4 2z"/>
<path fill="#0c93d2" d="M727 1079l-4-17 9 5 4 14z"/>
<path fill="#127dd8" d="M796 1150l-4-9 8-9 4 9z"/>
<path fill="#1481d6" d="M1006 1135l-4-8 8-28 5 6z"/>
<path fill="#1079da" d="M938 1167l-5 0 9-23 4 11z"/>
<path fill="#06a0cd" d="M697 1033l-4-19 9 2 4 17z"/>
<path fill="#1079da" d="M907 1175l-4-2 9-21 4 8zM835 1166l-5-2 9-4 4-10zM882 1169l-5 5 9-14 4-2z"/>
<path fill="#127dd8" d="M968 1152l-5-1 9-20 4-5zM813 1158l-4-6 8-11 5 7z"/>
<path fill="#079ccf" d="M710 1049l-4-16 8 2 5 17z"/>
<path fill="#1079da" d="M856 1169l-4-7 8-8 4 13z"/>
<path fill="#1389d3" d="M757 1111l-4-11 9-5 4 16z"/>
<path fill="#108ed2" d="M740 1089l-4-8 8-1 5 10z"/>
<path fill="#1079da" d="M933 1167l-4-5 8-11 5-7z"/>
<path fill="#1485d4" d="M1002 1127l-4-2 8-24 4-2z"/>
<path fill="#1481d6" d="M792 1141l-5-2 9-3 4-4z"/>
<path fill="#1485d4" d="M774 1129l-4-17 9 2 4 7z"/>
<path fill="#1079da" d="M877 1174l-4-7 9-6 4-1z"/>
<path fill="#127dd8" d="M963 1151l-4-2 8-20 5 2z"/>
<path fill="#1079da" d="M903 1173l-4-2 8-16 5-3zM830 1164l-4-4 8-11 5 11z"/>
<path fill="#1485d4" d="M998 1125l-5 5 9-30 4 1z"/>
<path fill="#0998d1" d="M723 1062l-4-10 8 0 5 15z"/>
<path fill="#127dd8" d="M929 1162l-4 0 8-18 4 7z"/>
<path fill="#07a9c2" d="M680 994l-4-23 9 4 4 20z"/>
<path fill="#127dd8" d="M809 1152l-5-11 9-3 4 3zM852 1162l-5 2 9-17 4 7z"/>
<path fill="#1481d6" d="M959 1149l-4 6 8-31 4 5z"/>
<path fill="#4dbc92" d="M587 835l-5-416 9 4 4 416z"/>
<path fill="#1079da" d="M873 1167l-4-4 8-5 5 3z"/>
<path fill="#06a4ca" d="M693 1014l-4-19 8 2 5 19z"/>
<path fill="#1485d4" d="M993 1130l-4 0 9-28 4-2z"/>
<path fill="#1079da" d="M899 1171l-4-13 8-3 4 0z"/>
<path fill="#0aacbe" d="M659 971l-4-116 8 1 4 115z"/>
<path fill="#1481d6" d="M787 1139l-4-18 9-1 4 16z"/>
<path fill="#108ed2" d="M753 1100l-4-10 8-6 5 11z"/>
<path fill="#1389d3" d="M770 1112l-4-1 8-10 5 13z"/>
<path fill="#0c93d2" d="M736 1081l-4-14 8-2 4 15z"/>
<path fill="#127dd8" d="M925 1162l-5-1 9-20 4 3zM826 1160l-4-12 8-11 4 12z"/>
<path fill="#06a0cd" d="M706 1033l-4-17 8 0 4 19z"/>
<path fill="#1485d4" d="M989 1130l-4 3 8-30 5-1z"/>
<path fill="#127dd8" d="M955 1155l-5-9 9-24 4 2zM847 1164l-4-14 9 1 4-4zM869 1163l-5 4 9-11 4 2z"/>
<path fill="#1481d6" d="M804 1141l-4-9 9-5 4 11z"/>
<path fill="#127dd8" d="M895 1158l-5 0 9-11 4 8zM920 1161l-4-1 8-13 5-6z"/>
<path fill="#079ccf" d="M719 1052l-5-17 9-5 4 22z"/>
<path fill="#1481d6" d="M950 1146l-4 9 9-25 4-8z"/>
<path fill="#1485d4" d="M985 1133l-5-5 9-24 4-1z"/>
<path fill="#1481d6" d="M843 1150l-4 10 8-13 5 4z"/>
<path fill="#1389d3" d="M766 1111l-4-16 8 0 4 6z"/>
<path fill="#0c93d2" d="M749 1090l-5-10 9-9 4 13z"/>
<path fill="#1389d3" d="M783 1121l-4-7 8-4 5 10z"/>
<path fill="#1481d6" d="M822 1148l-5-7 9-8 4 4z"/>
<path fill="#127dd8" d="M890 1158l-4 2 8-11 5-2zM864 1167l-4-13 9-11 4 13zM946 1155l-4-11 8-19 5 5zM916 1160l-4-8 8-14 4 9z"/>
<path fill="#1485d4" d="M800 1132l-4 4 8-16 5 7zM980 1128l-4-2 9-24 4 2z"/>
<path fill="#0998d1" d="M732 1067l-5-15 9-7 4 20z"/>
<path fill="#07a9c2" d="M689 995l-4-20 8-2 4 24z"/>
<path fill="#4dbc92" d="M595 839l-4-416 8 3 5 416z"/>
<path fill="#127dd8" d="M839 1160l-5-11 9-15 4 13zM886 1160l-4 1 8-17 4 5z"/>
<path fill="#06a4ca" d="M702 1016l-5-19 9-1 4 20z"/>
<path fill="#0aacbe" d="M667 971l-4-115 9 1 4 114z"/>
<path fill="#1485d4" d="M976 1126l-4 5 8-28 5-1z"/>
<path fill="#1481d6" d="M912 1152l-5 3 9-10 4-7zM942 1144l-5 7 9-27 4 1zM817 1141l-4-3 8-10 5 5zM860 1154l-4-7 8 1 5-5z"/>
<path fill="#108ed2" d="M762 1095l-5-11 9-2 4 13z"/>
<path fill="#1389d3" d="M779 1114l-5-13 9-2 4 11z"/>
<path fill="#1485d4" d="M796 1136l-4-16 8-5 4 5z"/>
<path fill="#0c93d2" d="M744 1080l-4-15 9-2 4 8z"/>
<path fill="#06a0cd" d="M714 1035l-4-19 9-1 4 15z"/>
<path fill="#127dd8" d="M882 1161l-5-3 9-10 4-4z"/>
<path fill="#1485d4" d="M972 1131l-5-2 9-27 4 1z"/>
<path fill="#127dd8" d="M907 1155l-4 0 9-20 4 10z"/>
<path fill="#1481d6" d="M937 1151l-4-7 9-21 4 1zM834 1149l-4-12 9 4 4-7zM856 1147l-4 4 8-12 4 9z"/>
<path fill="#1485d4" d="M813 1138l-4-11 8-6 4 7z"/>
<path fill="#079ccf" d="M727 1052l-4-22 9 4 4 11z"/>
<path fill="#127dd8" d="M877 1158l-4-2 9-16 4 8z"/>
<path fill="#1485d4" d="M967 1129l-4-5 9-26 4 4z"/>
<path fill="#1481d6" d="M933 1144l-4-3 8-13 5-5z"/>
<path fill="#108ed2" d="M774 1101l-4-6 9-2 4 6z"/>
<path fill="#1481d6" d="M903 1155l-4-8 8-13 5 1z"/>
<path fill="#1389d3" d="M792 1120l-5-10 9-5 4 10z"/>
<path fill="#0c93d2" d="M757 1084l-4-13 8 0 5 11z"/>
<path fill="#4dbc92" d="M604 842l-5-416 9 3 4 417z"/>
<path fill="#1481d6" d="M852 1151l-5-4 9-9 4 1z"/>
<path fill="#07a9c2" d="M697 997l-4-24 9 2 4 21z"/>
<path fill="#1485d4" d="M830 1137l-4-4 8-8 5 16z"/>
<path fill="#0998d1" d="M740 1065l-4-20 8 3 5 15z"/>
<path fill="#1485d4" d="M929 1141l-5 6 9-26 4 7z"/>
<path fill="#0aacbe" d="M676 971l-4-114 8 2 5 116z"/>
<path fill="#1389d3" d="M963 1124l-4-2 8-23 5-1z"/>
<path fill="#06a7c6" d="M710 1016l-4-20 8 1 5 18z"/>
<path fill="#1481d6" d="M873 1156l-4-13 8-4 5 1z"/>
<path fill="#1485d4" d="M809 1127l-5-7 9-6 4 7z"/>
<path fill="#1481d6" d="M899 1147l-5 2 9-22 4 7z"/>
<path fill="#1389d3" d="M959 1122l-4 8 8-32 4 1z"/>
<path fill="#0c93d2" d="M770 1095l-4-13 8-1 5 12z"/>
<path fill="#1481d6" d="M847 1147l-4-13 8 0 5 4zM924 1147l-4-9 9-18 4 1z"/>
<path fill="#06a4ca" d="M723 1030l-4-15 8 0 5 19z"/>
<path fill="#108ed2" d="M787 1110l-4-11 8-6 5 12z"/>
<path fill="#1485d4" d="M826 1133l-5-5 9-8 4 5z"/>
<path fill="#0998d1" d="M753 1071l-4-8 8-7 4 15z"/>
<path fill="#1485d4" d="M869 1143l-5 5 9-18 4 9z"/>
<path fill="#1389d3" d="M804 1120l-4-5 9-1 4 0z"/>
<path fill="#1481d6" d="M894 1149l-4-5 9-16 4-1z"/>
<path fill="#1485d4" d="M955 1130l-5-5 9-29 4 2zM920 1138l-4 7 8-26 5 1z"/>
<path fill="#06a0cd" d="M736 1045l-4-11 8-5 4 19z"/>
<path fill="#1485d4" d="M843 1134l-4 7 8-12 4 5zM890 1144l-4 4 8-21 5 1z"/>
<path fill="#4dbc92" d="M612 846l-4-417 8 3 5 418z"/>
<path fill="#1481d6" d="M864 1148l-4-9 9-12 4 3z"/>
<path fill="#1389d3" d="M821 1128l-4-7 9-10 4 9zM950 1125l-4-1 8-28 5 0z"/>
<path fill="#0998d1" d="M766 1082l-5-11 9-2 4 12z"/>
<path fill="#07a9c2" d="M706 996l-4-21 8 0 4 22z"/>
<path fill="#108ed2" d="M783 1099l-4-6 8-10 4 10z"/>
<path fill="#1481d6" d="M916 1145l-4-10 8-19 4 3z"/>
<path fill="#1389d3" d="M800 1115l-4-10 8-8 5 17z"/>
<path fill="#0aacbe" d="M685 975l-5-116 9 1 4 113z"/>
<path fill="#079ccf" d="M749 1063l-5-15 9-4 4 12z"/>
<path fill="#06a7c6" d="M719 1015l-5-18 9-2 4 20z"/>
<path fill="#1485d4" d="M839 1141l-5-16 9-6 4 10z"/>
<path fill="#1481d6" d="M886 1148l-4-8 8-17 4 4z"/>
<path fill="#1389d3" d="M946 1124l-4-1 8-23 4-4z"/>
<path fill="#1485d4" d="M860 1139l-4-1 8-9 5-2z"/>
<path fill="#1389d3" d="M817 1121l-4-7 8-4 5 1z"/>
<path fill="#1485d4" d="M912 1135l-5-1 9-20 4 2z"/>
<path fill="#1389d3" d="M942 1123l-5 5 9-32 4 4z"/>
<path fill="#06a4ca" d="M732 1034l-5-19 9-1 4 15z"/>
<path fill="#0c93d2" d="M779 1093l-5-12 9-4 4 6z"/>
<path fill="#1485d4" d="M882 1140l-5-1 9-20 4 4z"/>
<path fill="#0998d1" d="M761 1071l-4-15 9-1 4 14z"/>
<path fill="#108ed2" d="M796 1105l-5-12 9 0 4 4z"/>
<path fill="#1485d4" d="M856 1138l-5-4 9-14 4 9z"/>
<path fill="#1389d3" d="M834 1125l-4-5 9-3 4 2z"/>
<path fill="#108ed2" d="M813 1114l-4 0 8-10 4 6z"/>
<path fill="#1485d4" d="M907 1134l-4-7 8-13 5 0z"/>
<path fill="#1389d3" d="M937 1128l-4-7 9-28 4 3z"/>
<path fill="#4dbc92" d="M621 850l-5-418 9 3 4 417z"/>
<path fill="#06a0cd" d="M744 1048l-4-19 9-3 4 18z"/>
<path fill="#1485d4" d="M877 1139l-4-9 8-18 5 7z"/>
<path fill="#07a9c2" d="M714 997l-4-22 9 1 4 19z"/>
<path fill="#1485d4" d="M851 1134l-4-5 9-15 4 6z"/>
<path fill="#0998d1" d="M774 1081l-4-12 9-7 4 15z"/>
<path fill="#1389d3" d="M903 1127l-4 1 8-21 4 7zM830 1120l-4-9 8-1 5 7z"/>
<path fill="#0faeb9" d="M693 973l-4-113 8 0 5 115z"/>
<path fill="#1389d3" d="M933 1121l-4-1 8-27 5 0z"/>
<path fill="#0c93d2" d="M791 1093l-4-10 9-4 4 14z"/>
<path fill="#06a7c6" d="M727 1015l-4-20 8-1 5 20z"/>
<path fill="#06a0cd" d="M757 1056l-4-12 8-4 5 15z"/>
<path fill="#108ed2" d="M809 1114l-5-17 9-9 4 16z"/>
<path fill="#1389d3" d="M873 1130l-4-3 8-14 4-1zM929 1120l-5-1 9-24 4-2zM899 1128l-5-1 9-18 4-2zM847 1129l-4-10 8-7 5 2z"/>
<path fill="#108ed2" d="M826 1111l-5-1 9-9 4 9z"/>
<path fill="#06a4ca" d="M740 1029l-4-15 8-4 5 16z"/>
<path fill="#1389d3" d="M869 1127l-5 2 9-23 4 7z"/>
<path fill="#0998d1" d="M787 1083l-4-6 8-9 5 11z"/>
<path fill="#1389d3" d="M924 1119l-4-3 9-28 4 7z"/>
<path fill="#079ccf" d="M770 1069l-4-14 8-6 5 13z"/>
<path fill="#1389d3" d="M894 1127l-4-4 9-21 4 7z"/>
<path fill="#4dbc92" d="M629 852l-4-417 8 4 5 414z"/>
<path fill="#0c93d2" d="M804 1097l-4-4 8-9 5 4z"/>
<path fill="#108ed2" d="M843 1119l-4-2 8-12 4 7z"/>
<path fill="#06a0cd" d="M753 1044l-4-18 8-4 4 18z"/>
<path fill="#1389d3" d="M864 1129l-4-9 8-9 5-5z"/>
<path fill="#108ed2" d="M821 1110l-4-6 9-16 4 13z"/>
<path fill="#0aacbe" d="M723 995l-4-19 8-2 4 20z"/>
<path fill="#1389d3" d="M890 1123l-4-4 8-14 5-3z"/>
<path fill="#108ed2" d="M920 1116l-4-2 8-29 5 3z"/>
<path fill="#0faeb9" d="M702 975l-5-115 9 3 4 112z"/>
<path fill="#0998d1" d="M783 1077l-4-15 8-1 4 7z"/>
<path fill="#0c93d2" d="M800 1093l-4-14 8-5 4 10z"/>
<path fill="#07a9c2" d="M736 1014l-5-20 9-2 4 18z"/>
<path fill="#108ed2" d="M839 1117l-5-7 9-12 4 7zM916 1114l-5 0 9-26 4-3z"/>
<path fill="#06a0cd" d="M766 1055l-5-15 9-5 4 14z"/>
<path fill="#108ed2" d="M860 1120l-4-6 8-11 4 8zM886 1119l-5-7 9-16 4 9z"/>
<path fill="#0c93d2" d="M817 1104l-4-16 8 1 5-1z"/>
<path fill="#06a7c6" d="M749 1026l-5-16 9-5 4 17z"/>
<path fill="#108ed2" d="M911 1114l-4-7 9-24 4 5z"/>
<path fill="#4dbc92" d="M638 853l-5-414 9 3 4 411z"/>
<path fill="#108ed2" d="M834 1110l-4-9 8-6 5 3zM856 1114l-5-2 9-17 4 8z"/>
<path fill="#0998d1" d="M796 1079l-5-11 9-5 4 11z"/>
<path fill="#06a0cd" d="M779 1062l-5-13 9-5 4 17z"/>
<path fill="#108ed2" d="M881 1112l-4 1 9-24 4 7z"/>
<path fill="#0998d1" d="M813 1088l-5-4 9-6 4 11z"/>
<path fill="#0c93d2" d="M907 1107l-4 2 8-26 5 0z"/>
<path fill="#06a4ca" d="M761 1040l-4-18 9 0 4 13z"/>
<path fill="#0faeb9" d="M710 975l-4-112 8 0 5 113z"/>
<path fill="#0aacbe" d="M731 994l-4-20 9-3 4 21z"/>
<path fill="#108ed2" d="M877 1113l-4-7 8-18 5 1zM851 1112l-4-7 9-14 4 4z"/>
<path fill="#0c93d2" d="M830 1101l-4-13 8-4 4 11zM903 1109l-4-7 8-20 4 1z"/>
<path fill="#07a9c2" d="M744 1010l-4-18 8-3 5 16z"/>
<path fill="#079ccf" d="M791 1068l-4-7 9-9 4 11z"/>
<path fill="#0998d1" d="M808 1084l-4-10 9-10 4 14z"/>
<path fill="#06a4ca" d="M774 1049l-4-14 8-3 5 12z"/>
<path fill="#0c93d2" d="M873 1106l-5 5 9-29 4 6zM899 1102l-5 3 9-27 4 4z"/>
<path fill="#4dbc92" d="M646 853l-4-411 8 3 5 410z"/>
<path fill="#0c93d2" d="M847 1105l-4-7 8-16 5 9z"/>
<path fill="#0998d1" d="M826 1088l-5 1 9-15 4 10z"/>
<path fill="#06a7c6" d="M757 1022l-4-17 8-2 5 19z"/>
<path fill="#0c93d2" d="M868 1111l-4-8 9-21 4 0z"/>
<path fill="#06a0cd" d="M787 1061l-4-17 8-4 5 12z"/>
<path fill="#0c93d2" d="M894 1105l-4-9 8-20 5 2z"/>
<path fill="#079ccf" d="M804 1074l-4-11 8-7 5 8z"/>
<path fill="#0faeb9" d="M719 976l-5-113 9-2 4 113z"/>
<path fill="#0c93d2" d="M843 1098l-5-3 9-16 4 3z"/>
<path fill="#06a7c6" d="M770 1035l-4-13 8-4 4 14z"/>
<path fill="#0aacbe" d="M740 992l-4-21 8 0 4 18z"/>
<path fill="#0998d1" d="M821 1089l-4-11 8-11 5 7z"/>
<path fill="#0c93d2" d="M864 1103l-4-8 8-16 5 3z"/>
<path fill="#0998d1" d="M890 1096l-4-7 8-16 4 3z"/>
<path fill="#0aacbe" d="M753 1005l-5-16 9-3 4 17z"/>
<path fill="#0998d1" d="M838 1095l-4-11 9-12 4 7z"/>
<path fill="#4dbc92" d="M655 855l-5-410 9 3 4 408z"/>
<path fill="#06a0cd" d="M800 1063l-4-11 8-6 4 10z"/>
<path fill="#06a4ca" d="M783 1044l-5-12 9-5 4 13z"/>
<path fill="#0998d1" d="M860 1095l-4-4 8-19 4 7z"/>
<path fill="#079ccf" d="M817 1078l-4-14 8-2 4 5z"/>
<path fill="#0998d1" d="M886 1089l-5-1 9-19 4 4z"/>
<path fill="#07a9c2" d="M766 1022l-5-19 9-3 4 18z"/>
<path fill="#079ccf" d="M834 1084l-4-10 8-11 5 9z"/>
<path fill="#0998d1" d="M856 1091l-5-9 9-13 4 3zM881 1088l-4-6 9-19 4 6z"/>
<path fill="#0faeb9" d="M727 974l-4-113 8 1 5 109z"/>
<path fill="#06a4ca" d="M796 1052l-5-12 9-8 4 14z"/>
<path fill="#0faeb9" d="M748 989l-4-18 9-4 4 19z"/>
<path fill="#06a0cd" d="M813 1064l-5-8 9-6 4 12z"/>
<path fill="#06a7c6" d="M778 1032l-4-14 9-5 4 14z"/>
<path fill="#079ccf" d="M877 1082l-4 0 8-20 5 1zM830 1074l-5-7 9-8 4 4zM851 1082l-4-3 8-15 5 5z"/>
<path fill="#4dbc92" d="M663 856l-4-408 8 4 5 405z"/>
<path fill="#0aacbe" d="M761 1003l-4-17 8-3 5 17z"/>
<path fill="#06a7c6" d="M791 1040l-4-13 8-5 5 10z"/>
<path fill="#06a4ca" d="M808 1056l-4-10 9-7 4 11z"/>
<path fill="#079ccf" d="M873 1082l-5-3 9-19 4 2zM847 1079l-4-7 8-14 4 6z"/>
<path fill="#07a9c2" d="M774 1018l-4-18 8-4 5 17z"/>
<path fill="#06a0cd" d="M825 1067l-4-5 9-12 4 9z"/>
<path fill="#15b1b4" d="M736 971l-5-109 9 1 4 108z"/>
<path fill="#079ccf" d="M868 1079l-4-7 9-19 4 7z"/>
<path fill="#0faeb9" d="M757 986l-4-19 8-3 4 19z"/>
<path fill="#06a4ca" d="M804 1046l-4-14 8-4 5 11z"/>
<path fill="#07a9c2" d="M787 1027l-4-14 8-7 4 16z"/>
<path fill="#06a0cd" d="M843 1072l-5-9 9-17 4 12zM821 1062l-4-12 8-11 5 11z"/>
<path fill="#59bd8c" d="M672 857l-5-405 9 3 4 404z"/>
<path fill="#06a0cd" d="M864 1072l-4-3 8-23 5 7z"/>
<path fill="#0aacbe" d="M770 1000l-5-17 9-3 4 16z"/>
<path fill="#06a0cd" d="M838 1063l-4-4 9-18 4 5z"/>
<path fill="#06a7c6" d="M800 1032l-5-10 9-6 4 12z"/>
<path fill="#06a4ca" d="M817 1050l-4-11 8-8 4 8z"/>
<path fill="#06a0cd" d="M860 1069l-5-5 9-25 4 7z"/>
<path fill="#0aacbe" d="M783 1013l-5-17 9-4 4 14z"/>
<path fill="#15b1b4" d="M744 971l-4-108 8-2 5 106z"/>
<path fill="#06a4ca" d="M834 1059l-4-9 8-15 5 6z"/>
<path fill="#06a0cd" d="M855 1064l-4-6 9-21 4 2z"/>
<path fill="#59bd8c" d="M680 859l-4-404 8 3 5 402z"/>
<path fill="#15b1b4" d="M765 983l-4-19 9-6 4 22z"/>
<path fill="#07a9c2" d="M795 1022l-4-16 9-4 4 14z"/>
<path fill="#06a7c6" d="M813 1039l-5-11 9-11 4 14z"/>
<path fill="#0faeb9" d="M778 996l-4-16 9-5 4 17z"/>
<path fill="#06a4ca" d="M830 1050l-5-11 9-11 4 7zM851 1058l-4-12 8-15 5 6z"/>
<path fill="#07a9c2" d="M808 1028l-4-12 8-10 5 11z"/>
<path fill="#0aacbe" d="M791 1006l-4-14 8-5 5 15z"/>
<path fill="#1db3af" d="M753 967l-5-106 9-2 4 105z"/>
<path fill="#06a7c6" d="M825 1039l-4-8 9-13 4 10zM847 1046l-4-5 8-15 4 5z"/>
<path fill="#59bd8c" d="M689 860l-5-402 9 3 4 399z"/>
<path fill="#15b1b4" d="M774 980l-4-22 8 0 5 17z"/>
<path fill="#0aacbe" d="M804 1016l-4-14 8-8 4 12z"/>
<path fill="#06a7c6" d="M843 1041l-5-6 9-18 4 9z"/>
<path fill="#07a9c2" d="M821 1031l-4-14 8-10 5 11z"/>
<path fill="#0faeb9" d="M787 992l-4-17 8-5 4 17z"/>
<path fill="#07a9c2" d="M838 1035l-4-7 8-17 5 6z"/>
<path fill="#59bd8c" d="M697 860l-4-399 8 4 5 398z"/>
<path fill="#1db3af" d="M761 964l-4-105 8 2 5 97z"/>
<path fill="#0faeb9" d="M800 1002l-5-15 9-8 4 15z"/>
<path fill="#0aacbe" d="M817 1017l-5-11 9-12 4 13z"/>
<path fill="#1db3af" d="M783 975l-5-17 9-4 4 16z"/>
<path fill="#07a9c2" d="M834 1028l-4-10 8-16 4 9z"/>
<path fill="#0faeb9" d="M812 1006l-4-12 9-10 4 10z"/>
<path fill="#15b1b4" d="M795 987l-4-17 9-5 4 14z"/>
<path fill="#0aacbe" d="M830 1018l-5-11 9-14 4 9z"/>
<path fill="#59bd8c" d="M706 863l-5-398 9 3 4 395z"/>
<path fill="#25b5a9" d="M770 958l-5-97 9 0 4 97z"/>
<path fill="#15b1b4" d="M808 994l-4-15 8-8 5 13z"/>
<path fill="#1db3af" d="M791 970l-4-16 8-4 5 15z"/>
<path fill="#0faeb9" d="M825 1007l-4-13 9-11 4 10z"/>
<path fill="#59bd8c" d="M714 863l-4-395 8 3 5 390z"/>
<path fill="#1db3af" d="M804 979l-4-14 8-9 4 15z"/>
<path fill="#15b1b4" d="M821 994l-4-10 8-12 5 11z"/>
<path fill="#25b5a9" d="M778 958l-4-97 8-2 5 95z"/>
<path fill="#1db3af" d="M817 984l-5-13 9-10 4 11z"/>
<path fill="#25b5a9" d="M800 965l-5-15 9-8 4 14z"/>
<path fill="#65be86" d="M723 861l-5-390 9 3 4 388z"/>
<path fill="#2eb7a4" d="M787 954l-5-95 9 0 4 91z"/>
<path fill="#25b5a9" d="M812 971l-4-15 9-8 4 13z"/>
<path fill="#65be86" d="M731 862l-4-388 9 3 4 386z"/>
<path fill="#2eb7a4" d="M808 956l-4-14 8-8 5 14zM795 950l-4-91 8 0 5 83z"/>
<path fill="#65be86" d="M740 863l-4-386 8 4 4 380z"/>
<path fill="#38b99e" d="M804 942l-5-83 9 0 4 75z"/>
<path fill="#65be86" d="M748 861l-4-380 9 3 4 375z"/>
<path fill="#71bf80" d="M757 859l-4-375 8 3 4 374zM765 861l-4-374 9 3 4 371zM774 861l-4-371 8 4 4 365zM782 859l-4-365 9 3 4 362z"/>
<path fill="#7cbf7b" d="M791 859l-4-362 8 3 4 359zM799 859l-4-359 9 3 4 356z"/>
</g>
<g transform="scale(0.5)">
<path fill="#87bf77" d="M1048 446l-5 10 9 8 4-9z"/>
<path fill="#92bf73" d="M1052 435l-4 11 8 9 5-11z"/>
<path fill="#87bf77" d="M1043 456l-4 7 9 9 4-8z"/>
<path fill="#9cbf6f" d="M1056 425l-4 10 9 9 4-12z"/>
<path fill="#7cbf7b" d="M1039 463l-4 7 8 11 5-9zM1035 470l-5 11 9 7 4-7z"/>
<path fill="#71bf80" d="M1030 481l-4 7 9 9 4-9zM1026 488l-4 6 8 8 5-5z"/>
<path fill="#65be86" d="M1022 494l-4 5 8 9 4-6zM1018 499l-5 7 9 9 4-7zM1013 506l-4 5 8 10 5-6z"/>
<path fill="#59bd8c" d="M1009 511l-4 6 8 10 4-6zM1005 517l-5 5 9 10 4-5z"/>
<path fill="#c0bc60" d="M1061 362l-5 63 9 7 4-63z"/>
<path fill="#59bd8c" d="M1000 522l-4 5 8 12 5-7z"/>
<path fill="#4dbc92" d="M996 527l-4 6 8 11 4-5zM992 533l-5 3 9 12 4-4zM987 536l-4 4 9 10 4-2zM983 540l-4 6 8 9 5-5z"/>
<path fill="#42bb98" d="M979 546l-5 3 9 13 4-7z"/>
<path fill="#c0bc60" d="M1069 369l-4 63 8 10 5-66z"/>
<path fill="#42bb98" d="M974 549l-4 3 9 11 4-1zM970 552l-4 4 8 11 5-4zM966 556l-4 5 8 10 4-4z"/>
<path fill="#38b99e" d="M962 561l-5 2 9 13 4-5z"/>
<path fill="#c0bc60" d="M1078 376l-5 66 9 10 4-67z"/>
<path fill="#38b99e" d="M957 563l-4 4 8 11 5-2zM953 567l-4 4 8 10 4-3zM949 571l-5 2 9 12 4-4zM944 573l-4 3 8 9 5 0z"/>
<path fill="#b7bd64" d="M1086 385l-4 67 8 13 5-75z"/>
<path fill="#38b99e" d="M940 576l-4 4 8 10 4-5z"/>
<path fill="#2eb7a4" d="M936 580l-5 3 9 10 4-3zM931 583l-4 4 9 10 4-4zM927 587l-4 2 8 10 5-2zM923 589l-5 2 9 12 4-4z"/>
<path fill="#b7bd64" d="M1095 390l-5 75 9 14 4-81z"/>
<path fill="#2eb7a4" d="M918 591l-4 2 9 11 4-1zM914 593l-4 3 8 11 5-3zM910 596l-4 2 8 12 4-3z"/>
<path fill="#b7bd64" d="M1103 398l-4 81 8 13 5-85z"/>
<path fill="#25b5a9" d="M906 598l-5 2 9 13 4-3zM901 600l-4 3 8 11 5-1zM897 603l-4 1 8 13 4-3zM893 604l-5 3 9 13 4-3z"/>
<path fill="#aebe67" d="M1112 407l-5 85 9 13 4-90z"/>
<path fill="#25b5a9" d="M888 607l-4 1 8 14 5-2zM884 608l-4 5 8 12 4-3zM880 613l-5 0 9 13 4-1z"/>
<path fill="#aebe67" d="M1120 415l-4 90 8 12 5-94z"/>
<path fill="#25b5a9" d="M875 613l-4 1 9 13 4-1zM871 614l-4 3 8 14 5-4zM867 617l-5 4 9 11 4-1z"/>
<path fill="#1db3af" d="M862 621l-4 2 9 11 4-2z"/>
<path fill="#aebe67" d="M1129 423l-5 94 9 13 4-98z"/>
<path fill="#1db3af" d="M858 623l-4 0 8 13 5-2zM854 623l-4 2 8 11 4 0zM850 625l-5 3 9 11 4-3z"/>
<path fill="#a5be6b" d="M1137 432l-4 98 8 13 5-102z"/>
<path fill="#1db3af" d="M845 628l-4 2 8 11 5-2zM841 630l-4 0 8 14 4-3zM837 630l-5 2 9 12 4 0z"/>
<path fill="#a5be6b" d="M1146 441l-5 102 9 11 4-105z"/>
<path fill="#1db3af" d="M832 632l-4 1 8 12 5-1zM828 633l-4 4 8 11 4-3zM824 637l-5 1 9 13 4-3zM819 638l-4 2 9 11 4 0z"/>
<path fill="#9cbf6f" d="M1154 449l-4 105 8 9 5-105z"/>
<path fill="#1db3af" d="M815 640l-4-1 8 15 5-3zM811 639l-5 3 9 12 4 0zM806 642l-4 2 9 10 4 0z"/>
<path fill="#9cbf6f" d="M1163 458l-5 105 9 10 4-107zM1171 466l-4 107 9 12 4-110z"/>
<path fill="#92bf73" d="M1180 475l-4 110 8 8 4-110zM1188 483l-4 110 9 9 4-111zM1197 491l-4 111 8 8 4-112z"/>
<path fill="#87bf77" d="M1205 498l-4 112 9 8 4-112zM1214 506l-4 112 8 9 4-114zM1222 513l-4 114 9 8 4-115z"/>
<path fill="#7cbf7b" d="M1231 520l-4 115 8 8 4-116zM1239 527l-4 116 9 6 4-117zM1248 532l-4 117 8 10 4-121zM1256 538l-4 121 9 5 4-116z"/>
<path fill="#71bf80" d="M1265 548l-4 116 8 6 5-116zM1274 554l-5 116 9 8 4-120zM1282 558l-4 120 8 5 5-118zM1291 565l-5 118 9 7 4-120zM1299 570l-4 120 8 5 5-119zM1308 576l-5 119 9 6 4-121z"/>
<path fill="#65be86" d="M1316 580l-4 121 8 5 5-117zM1325 589l-5 117 9 5 4-117zM1333 594l-4 117 8 6 5-120zM1342 597l-5 120 9 7 4-121zM1350 603l-4 121 8 6 5-121zM1359 609l-5 121 9 2 4-117z"/>
<path fill="#59bd8c" d="M1367 615l-4 117 8 7 5-117zM1376 622l-5 117 9 6 4-120zM1384 625l-4 120 8 4 5-120zM1393 629l-5 120 9 5 4-119zM1401 635l-4 119 8 4 5-118zM1410 640l-5 118 9 5 4-119zM1418 644l-4 119 8 5 5-119zM1427 649l-5 119 9 5 4-120z"/>
<path fill="#4dbc92" d="M1435 653l-4 120 9 3 4-118zM1444 658l-4 118 8 6 4-119zM1452 663l-4 119 9 3 4-117zM1461 668l-4 117 8 2 4-117zM1469 670l-4 117 9 5 4-121zM1478 671l-4 121 8 3 4-122zM1486 673l-4 122 9-1 4-118zM1495 676l-4 118 8 0 4-117z"/>
<path fill="#59bd8c" d="M1503 677l-4 117 9 5 4-120z"/>
<path fill="#71bf80" d="M238 643l-5-7 9 12 4 5z"/>
<path fill="#59bd8c" d="M1512 679l-4 120 8 2 4-121z"/>
<path fill="#71bf80" d="M233 636l-4-6 9 11 4 7z"/>
<path fill="#7cbf7b" d="M229 630l-4-5 8 9 5 7z"/>
<path fill="#0c93d2" d="M396 918l-4-3 8 8 4 12z"/>
<path fill="#71bf80" d="M242 648l-4-7 8 13 4 8z"/>
<path fill="#59bd8c" d="M1520 680l-4 121 9 0 4-118z"/>
<path fill="#7cbf7b" d="M225 625l-4-8 8 11 4 6z"/>
<path fill="#87bf77" d="M221 617l-5-7 9 10 4 8z"/>
<path fill="#108ed2" d="M404 935l-4-12 9 13 4 4z"/>
<path fill="#87bf77" d="M216 610l-4-9 8 11 5 8z"/>
<path fill="#59bd8c" d="M1529 683l-4 118 8 3 5-121z"/>
<path fill="#7cbf7b" d="M229 628l-4-8 8 14 5 7z"/>
<path fill="#3243ba" d="M1335 1150l-4 23 8-14 5 17z"/>
<path fill="#92bf73" d="M212 601l-4-9 8 11 4 9z"/>
<path fill="#06a0cd" d="M362 875l-5-4 9 8 4 8z"/>
<path fill="#87bf77" d="M225 620l-5-8 9 13 4 9z"/>
<path fill="#71bf80" d="M238 641l-5-7 9 11 4 11z"/>
<path fill="#079ccf" d="M374 891l-4-4 9 12 4 11z"/>
<path fill="#59bd8c" d="M1538 683l-5 121 9 1 4-119z"/>
<path fill="#06a4ca" d="M357 871l-4-12 9 16 4 4z"/>
<path fill="#06a0cd" d="M370 887l-4-8 8 14 5 6z"/>
<path fill="#7cbf7b" d="M233 634l-4-9 8 12 5 8z"/>
<path fill="#353dad" d="M1344 1176l-5-17 9 0 4 0z"/>
<path fill="#59bd8c" d="M259 679l-4-7 8 18 4 9z"/>
<path fill="#2eb7a4" d="M285 736l-5-10 9 17 4 9z"/>
<path fill="#0c93d2" d="M400 927l-4-9 8 13 5 6z"/>
<path fill="#0998d1" d="M383 910l-4-11 8 11 4 11z"/>
<path fill="#1485d4" d="M430 967l-4-1 8 3 5 9z"/>
<path fill="#9cbf6f" d="M208 592l-5-59 9 8 4 62z"/>
<path fill="#07a9c2" d="M336 836l-4-9 8 13 4 10z"/>
<path fill="#06a0cd" d="M366 879l-4-4 8 8 4 10z"/>
<path fill="#06a7c6" d="M349 857l-5-7 9 12 4 8z"/>
<path fill="#59bd8c" d="M1546 686l-4 119 8 0 5-117z"/>
<path fill="#4dbc92" d="M267 699l-4-9 9 18 4 9z"/>
<path fill="#0faeb9" d="M319 805l-5-9 9 14 4 10z"/>
<path fill="#0aacbe" d="M332 827l-5-7 9 14 4 6z"/>
<path fill="#0998d1" d="M391 921l-4-11 9 12 4 4z"/>
<path fill="#353dad" d="M1326 1178l-4-13 9 0 4 16z"/>
<path fill="#1485d4" d="M439 978l-5-9 9 10 4 4z"/>
<path fill="#06a7c6" d="M344 850l-4-10 9 14 4 8z"/>
<path fill="#079ccf" d="M374 893l-4-10 9 13 4 10z"/>
<path fill="#7cbf7b" d="M237 637l-4-8 9 14 4 11z"/>
<path fill="#65be86" d="M250 664l-4-10 9 15 4 12z"/>
<path fill="#59bd8c" d="M263 690l-4-9 8 17 5 10z"/>
<path fill="#1db3af" d="M302 770l-5-8 9 16 4 11z"/>
<path fill="#2053d4" d="M1387 1136l-5-6 9 11 4 10z"/>
<path fill="#0c93d2" d="M404 931l-4-5 8 6 5 15z"/>
<path fill="#06a4ca" d="M357 870l-4-8 8 11 5 7z"/>
<path fill="#15b1b4" d="M314 796l-4-7 9 10 4 11z"/>
<path fill="#1481d6" d="M451 996l-4-13 9 12 4 8z"/>
<path fill="#0aacbe" d="M327 820l-4-10 8 13 5 11z"/>
<path fill="#353dad" d="M1313 1173l-4 4 9-1 4 11z"/>
<path fill="#07a9c2" d="M340 840l-4-6 8 10 5 10z"/>
<path fill="#59bd8c" d="M1555 688l-5 117 9-2 4-116z"/>
<path fill="#4dbc92" d="M272 708l-5-10 9 16 4 12z"/>
<path fill="#38b99e" d="M284 734l-4-8 9 16 4 9z"/>
<path fill="#71bf80" d="M246 654l-4-11 8 16 5 10z"/>
<path fill="#59bd8c" d="M259 681l-4-12 8 16 4 13z"/>
<path fill="#25b5a9" d="M297 762l-4-11 8 14 5 13z"/>
<path fill="#2053d4" d="M1408 1126l-4 2 8-7 4 11z"/>
<path fill="#06a7c6" d="M353 862l-4-8 8 10 4 9z"/>
<path fill="#0871de" d="M516 1059l-5 1 9-3 4-5z"/>
<path fill="#079ccf" d="M383 906l-4-10 8 11 4 11z"/>
<path fill="#15b1b4" d="M310 789l-4-11 8 13 5 8z"/>
<path fill="#0faeb9" d="M323 810l-4-11 8 14 4 10z"/>
<path fill="#108ed2" d="M413 947l-5-15 9 15 4 11z"/>
<path fill="#353dad" d="M1335 1181l-4-16 8 4 4 3z"/>
<path fill="#06a0cd" d="M366 880l-5-7 9 8 4 11z"/>
<path fill="#1079da" d="M494 1033l-4-1 8 5 5 18z"/>
<path fill="#07a9c2" d="M336 834l-5-11 9 13 4 8z"/>
<path fill="#0871de" d="M511 1060l-4-15 8 12 5 0z"/>
<path fill="#1389d3" d="M426 966l-5-8 9 9 4 7z"/>
<path fill="#2c4ac7" d="M1395 1151l-4-10 8-7 5 5z"/>
<path fill="#42bb98" d="M280 726l-4-12 8 16 5 12z"/>
<path fill="#4dbc92" d="M267 698l-4-13 9 17 4 12z"/>
<path fill="#3243ba" d="M1361 1163l-5-7 9-1 4 2z"/>
<path fill="#2eb7a4" d="M293 751l-4-9 8 15 4 8z"/>
<path fill="#1db3af" d="M306 778l-5-13 9 16 4 10z"/>
<path fill="#0998d1" d="M391 918l-4-11 9 14 4 5z"/>
<path fill="#1481d6" d="M456 995l-5-11 9 17 4 11z"/>
<path fill="#1485d4" d="M438 976l-4-2 9 6 4 5z"/>
<path fill="#353dad" d="M1322 1187l-4-11 8-3 5-1z"/>
<path fill="#59bd8c" d="M1563 687l-4 116 8 0 5-116z"/>
<path fill="#1389d3" d="M421 958l-4-11 9 10 4 10z"/>
<path fill="#06a0cd" d="M374 892l-4-11 8 15 5 5z"/>
<path fill="#3243ba" d="M1348 1170l-5 2 9-4 4-2z"/>
<path fill="#2053d4" d="M1416 1132l-4-11 9 9 4-10z"/>
<path fill="#0363e1" d="M1455 1098l-4-2 8-5 5 1z"/>
<path fill="#38b99e" d="M289 742l-5-12 9 13 4 14z"/>
<path fill="#42bb98" d="M276 714l-4-12 8 13 4 15z"/>
<path fill="#0871de" d="M503 1055l-5-18 9 8 4 1z"/>
<path fill="#1389d3" d="M434 974l-4-7 8 7 5 6z"/>
<path fill="#3243ba" d="M1343 1172l-4-3 9-4 4 3z"/>
<path fill="#127dd8" d="M464 1012l-4-11 8 9 5 3z"/>
<path fill="#2c4ac7" d="M1374 1153l-5 4 9-16 4 10z"/>
<path fill="#0998d1" d="M400 926l-4-5 8 8 4 6z"/>
<path fill="#1389d3" d="M430 967l-4-10 8 14 4 3z"/>
<path fill="#2c4ac7" d="M1365 1155l-4 5 8-3 4 7z"/>
<path fill="#363093" d="M1163 1220l-4-16 8 7 5 18z"/>
<path fill="#1485d4" d="M443 980l-5-6 9 12 4 13z"/>
<path fill="#0268e1" d="M1472 1085l-4-7 9 3 4-2z"/>
<path fill="#65be86" d="M1572 687l-5 116 9-2 4-114z"/>
<path fill="#0f5cdd" d="M1425 1120l-4 10 8-15 5 4z"/>
<path fill="#3243ba" d="M1356 1166l-4 2 8-12 5 2z"/>
<path fill="#2053d4" d="M618 1140l-4-11 9-4 4 24z"/>
<path fill="#127dd8" d="M473 1013l-5-3 9 3 4 7z"/>
<path fill="#1389d3" d="M438 974l-4-3 9 9 4 6z"/>
<path fill="#0f5cdd" d="M1421 1130l-5-4 9-5 4-6z"/>
<path fill="#0268e1" d="M1459 1091l-4 2 9-3 4 0z"/>
<path fill="#2c4ac7" d="M1382 1151l-4-10 8 11 5-10z"/>
<path fill="#363093" d="M1227 1217l-4-5 9 4 4-8z"/>
<path fill="#1481d6" d="M451 999l-4-13 8 11 5 2z"/>
<path fill="#0268e1" d="M554 1090l-4 2 8 2 4 11z"/>
<path fill="#0871de" d="M1494 1060l-5-6 9 0 4 2z"/>
<path fill="#2c4ac7" d="M1343 1159l-4 12 9-3 4 13z"/>
<path fill="#3243ba" d="M1373 1164l-4-7 9 7 4-19z"/>
<path fill="#1389d3" d="M434 971l-4-12 8 12 5 9z"/>
<path fill="#352a87" d="M1172 1229l-5-18 9 11 4-11z"/>
<path fill="#3637a0" d="M1279 1204l-4-3 8 0 4-11z"/>
<path fill="#65be86" d="M1580 687l-4 114 8-1 5-112z"/>
<path fill="#2053d4" d="M1403 1143l-4-5 9 1 4-5z"/>
<path fill="#2c4ac7" d="M1369 1157l-4 1 8-1 5 7z"/>
<path fill="#046de0" d="M1481 1079l-4 2 8-12 4 4z"/>
<path fill="#1485d4" d="M447 986l-4-6 8 6 4 11z"/>
<path fill="#0268e1" d="M550 1092l-5-7 9 3 4 6z"/>
<path fill="#2053d4" d="M627 1149l-4-24 8 22 4-6z"/>
<path fill="#3637a0" d="M1275 1201l-5-12 9 4 4 8z"/>
<path fill="#c0bc60" d="M203 533l-4-259 9 3 4 264z"/>
<path fill="#046de0" d="M1477 1081l-5-3 9 0 4-9z"/>
<path fill="#0871de" d="M511 1059l-4-5 8 8 5 2z"/>
<path fill="#0363e1" d="M1434 1119l-5-4 9 0 4 2z"/>
<path fill="#2c4ac7" d="M644 1158l-4-11 8-2 4 6z"/>
<path fill="#2053d4" d="M1395 1148l-4-6 8 3 4-7z"/>
<path fill="#3243ba" d="M1330 1178l-4-2 9-4 4 5z"/>
<path fill="#046de0" d="M1472 1078l-4 12 8-14 5 2z"/>
<path fill="#353dad" d="M1300 1190l-4-5 9-8 4 15z"/>
<path fill="#0871de" d="M528 1069l-4-7 8 6 5 10z"/>
<path fill="#1389d3" d="M443 980l-5-9 9 15 4 0z"/>
<path fill="#353dad" d="M1240 1194l-4 14 8-9 5 18z"/>
<path fill="#0268e1" d="M562 1105l-4-11 9 4 4 6zM1468 1090l-4 0 8-13 4-1z"/>
<path fill="#0d75dc" d="M507 1054l-5-9 9 11 4 6z"/>
<path fill="#1079da" d="M490 1034l-5-5 9 3 4 13z"/>
<path fill="#1481d6" d="M473 1011l-5-6 9 9 4 16z"/>
<path fill="#363093" d="M1232 1216l-5-8 9 10 4-4z"/>
<path fill="#3243ba" d="M1352 1181l-4-13 8-5 4-3z"/>
<path fill="#2053d4" d="M1386 1152l-4-7 8-9 5 10z"/>
<path fill="#0d75dc" d="M1502 1056l-4-2 8-6 5-1z"/>
<path fill="#0f5cdd" d="M1421 1128l-5-4 9 4 4-18z"/>
<path fill="#1389d3" d="M438 971l-4-2 8 6 5 11z"/>
<path fill="#65be86" d="M1589 688l-5 112 9-2 4-110z"/>
<path fill="#3243ba" d="M1322 1170l-4 7 8-4 4 7z"/>
<path fill="#c0bc60" d="M212 541l-4-264 8 4 4 271z"/>
<path fill="#353dad" d="M1257 1192l-4 16 9-11 4 16z"/>
<path fill="#0f5cdd" d="M1416 1124l-4 10 8-20 5 14z"/>
<path fill="#3637a0" d="M1283 1201l-4-8 8 11 5-6z"/>
<path fill="#0363e1" d="M592 1118l-4-6 9 10 4 12z"/>
<path fill="#046de0" d="M537 1078l-5-10 9 14 4 3z"/>
<path fill="#3243ba" d="M1313 1182l-4 10 8-19 5 9z"/>
<path fill="#2c4ac7" d="M1378 1164l-5-7 9-11 4-16z"/>
<path fill="#3637a0" d="M1253 1208l-4 9 8-22 5 2zM1227 1208l-4-5 9-9 4 24z"/>
<path fill="#0363e1" d="M1446 1110l-4 7 9-24 4 10z"/>
<path fill="#2053d4" d="M1408 1139l-5-1 9-5 4-5z"/>
<path fill="#0871de" d="M1489 1073l-4-4 9-11 4-8z"/>
<path fill="#0d75dc" d="M515 1062l-4-6 9 9 4 4z"/>
<path fill="#0363e1" d="M1442 1117l-4-2 8-2 5-20z"/>
<path fill="#353dad" d="M1279 1193l-4 0 8-1 4 12z"/>
<path fill="#127dd8" d="M481 1030l-4-16 8 14 5 3z"/>
<path fill="#1079da" d="M498 1045l-4-13 8 12 5 3z"/>
<path fill="#3243ba" d="M1339 1177l-4-5 8-10 4 6z"/>
<path fill="#363093" d="M1249 1217l-5-18 9-1 4-3z"/>
<path fill="#353dad" d="M1309 1192l-4-15 8-2 4-2z"/>
<path fill="#0363e1" d="M1438 1115l-5 0 9-10 4 8z"/>
<path fill="#0871de" d="M1481 1078l-5-2 9-10 4-4zM532 1068l-4-2 9 5 4 11z"/>
<path fill="#046de0" d="M550 1091l-5-6 9 1 4 1z"/>
<path fill="#1389d3" d="M447 986l-5-11 9 5 4 4z"/>
<path fill="#2c4ac7" d="M1365 1164l-5-4 9-1 4-4z"/>
<path fill="#3243ba" d="M1335 1172l-5 8 9-18 4 0z"/>
<path fill="#2053d4" d="M1399 1145l-4 1 8-26 5 14z"/>
<path fill="#b7bd64" d="M220 552l-4-271 9 3 4 280z"/>
<path fill="#0d75dc" d="M511 1056l-4-9 8 13 5 5z"/>
<path fill="#3637a0" d="M1189 1211l-5-5 9 10 4 13z"/>
<path fill="#65be86" d="M1597 688l-4 110 8-3 5-109z"/>
<path fill="#0f5cdd" d="M601 1134l-4-12 8 15 4-5z"/>
<path fill="#3637a0" d="M1266 1213l-4-16 8-1 4 7z"/>
<path fill="#046de0" d="M545 1085l-4-3 8 0 5 4z"/>
<path fill="#3243ba" d="M1330 1180l-4-7 9-14 4 3z"/>
<path fill="#353dad" d="M1292 1198l-5 6 9-17 4 6z"/>
<path fill="#363093" d="M1236 1218l-4-24 8 9 4 11z"/>
<path fill="#0f5cdd" d="M1425 1128l-5-14 9 3 4-6z"/>
<path fill="#0871de" d="M524 1069l-4-4 8 0 4 5z"/>
<path fill="#046de0" d="M1463 1093l-4-7 9-5 4 0z"/>
<path fill="#0363e1" d="M597 1122l-5-3 9 7 4 11z"/>
<path fill="#2c4ac7" d="M1352 1169l-5-1 9-6 4-1z"/>
<path fill="#0871de" d="M541 1082l-4-11 8 13 4-2z"/>
<path fill="#3637a0" d="M1287 1204l-4-12 9-3 4-2z"/>
<path fill="#0363e1" d="M1416 1128l-4 5 8-13 5 4z"/>
<path fill="#0268e1" d="M1455 1103l-4-10 8-1 4-6z"/>
<path fill="#aebe67" d="M229 564l-4-280 8 3 4 288z"/>
<path fill="#0d75dc" d="M520 1065l-5-5 9 3 4 2z"/>
<path fill="#363093" d="M1197 1229l-4-13 8-3 5 6z"/>
<path fill="#0f5cdd" d="M1412 1133l-4 1 8-8 4-6z"/>
<path fill="#127dd8" d="M485 1028l-4-16 8 15 5 1z"/>
<path fill="#0268e1" d="M1446 1113l-4-8 8-9 5 2zM571 1104l-4-5 8 9 4 11z"/>
<path fill="#71bf80" d="M1606 686l-5 109 9-3 4-107z"/>
<path fill="#127dd8" d="M1532 1023l-4 0 8-14 5 5z"/>
<path fill="#3243ba" d="M1309 1187l-5-3 9-14 4 14z"/>
<path fill="#0f5cdd" d="M605 1137l-4-11 8 5 5 5z"/>
<path fill="#353dad" d="M1274 1203l-4-7 9-2 4-1z"/>
<path fill="#0871de" d="M549 1082l-4 2 9 3 4 12z"/>
<path fill="#3637a0" d="M1244 1214l-4-11 9 6 4-10zM1214 1213l-4 2 9-2 4 5z"/>
<path fill="#363093" d="M1184 1228l-4-2 8-1 5-12z"/>
<path fill="#aebe67" d="M237 575l-4-288 9 3 4 293z"/>
<path fill="#353dad" d="M1300 1193l-4-6 8-6 5-6z"/>
<path fill="#1079da" d="M1511 1048l-5 7 9-16 4 1z"/>
<path fill="#0363e1" d="M1429 1117l-4 7 8-13 5-5z"/>
<path fill="#3637a0" d="M1210 1215l-4 4 8-15 5 9z"/>
<path fill="#2053d4" d="M1360 1161l-4 1 8-7 5-14z"/>
<path fill="#1079da" d="M1506 1055l-4-2 9-7 4-7z"/>
<path fill="#0363e1" d="M579 1119l-4-11 9-1 4 13z"/>
<path fill="#363093" d="M1180 1226l-4-9 8 0 4 8z"/>
<path fill="#0363e1" d="M1425 1124l-5-4 9-17 4 8z"/>
<path fill="#1389d3" d="M1554 992l-5 9 9-15 4-5z"/>
<path fill="#2c4ac7" d="M1322 1178l-5 6 9-16 4-3z"/>
<path fill="#046de0" d="M1459 1092l-4 6 8-16 5-4zM558 1099l-4-12 8 10 4-2z"/>
<path fill="#71bf80" d="M1614 685l-4 107 8-4 5-104z"/>
<path fill="#353dad" d="M1262 1199l-5 2 9-15 4 7z"/>
<path fill="#1485d4" d="M1549 1001l-4 1 9-17 4 1z"/>
<path fill="#3243ba" d="M1317 1184l-4-14 9 5 4-7z"/>
<path fill="#aebe67" d="M246 583l-4-293 8 3 4 304z"/>
<path fill="#1481d6" d="M1541 1014l-5-5 9-4 4-7z"/>
<path fill="#0871de" d="M537 1077l-5-9 9 2 4 15z"/>
<path fill="#0363e1" d="M609 1131l-4-1 9-1 4 15z"/>
<path fill="#3637a0" d="M1223 1218l-4-5 8-13 4 15z"/>
<path fill="#0871de" d="M1485 1074l-4 3 8-15 4-2z"/>
<path fill="#1481d6" d="M1532 1021l-4 8 8-18 5-7z"/>
<path fill="#127dd8" d="M1528 1029l-5 4 9-16 4-6z"/>
<path fill="#0268e1" d="M588 1120l-4-13 8 0 4 19z"/>
<path fill="#3637a0" d="M1163 1224l-5-3 9 3 4 3z"/>
<path fill="#127dd8" d="M1523 1033l-4 7 9-17 4-6z"/>
<path fill="#3637a0" d="M1188 1225l-4-8 9 3 4-2z"/>
<path fill="#0998d1" d="M1584 948l-5 4 9-14 4-7z"/>
<path fill="#127dd8" d="M1519 1040l-4-1 8-19 5 3z"/>
<path fill="#353dad" d="M1214 1204l-4 1 8 3 5 15z"/>
<path fill="#0998d1" d="M1579 952l-4 1 9-7 4-8z"/>
<path fill="#a5be6b" d="M254 597l-4-304 9 4 4 308z"/>
<path fill="#71bf80" d="M1623 684l-5 104 9-3 4-103z"/>
<path fill="#0d75dc" d="M528 1068l-4-11 8 11 4 2z"/>
<path fill="#0c93d2" d="M1575 953l-4 13 8-16 5-4z"/>
<path fill="#0871de" d="M1472 1084l-4-6 8-10 4-2z"/>
<path fill="#046de0" d="M562 1097l-4-6 8 10 5 12z"/>
<path fill="#0871de" d="M545 1085l-4-15 8 22 5-14z"/>
<path fill="#1079da" d="M1511 1046l-5 5 9-18 4 0z"/>
<path fill="#0c93d2" d="M1571 966l-5 2 9-11 4-7z"/>
<path fill="#352a87" d="M1098 1246l-4-21 9 6 4 5z"/>
<path fill="#3637a0" d="M1206 1222l-5-3 9-7 4 4z"/>
<path fill="#0f5cdd" d="M618 1144l-4-15 8-1 4 18zM635 1147l-4 7 8-5 5 8z"/>
<path fill="#1389d3" d="M1558 986l-4-1 8-10 4 3z"/>
<path fill="#363093" d="M1176 1230l-5-3 9-6 4-4z"/>
<path fill="#0363e1" d="M596 1126l-4-19 9 23 4-1z"/>
<path fill="#0d75dc" d="M541 1070l-5 0 9 5 4 17z"/>
<path fill="#1389d3" d="M1549 998l-4 7 8-13 5-11z"/>
<path fill="#353dad" d="M1231 1215l-4-15 9-2 4 4z"/>
<path fill="#0f5cdd" d="M631 1154l-5-8 9 9 4-6z"/>
<path fill="#1079da" d="M1498 1057l-5 3 9-17 4-4z"/>
<path fill="#3637a0" d="M1171 1227l-4-3 8-5 5 2z"/>
<path fill="#1485d4" d="M1545 1005l-4-1 8-10 4-2z"/>
<path fill="#1079da" d="M1493 1060l-4 2 9-11 4-8z"/>
<path fill="#9cbf6f" d="M263 605l-4-308 8 3 4 318z"/>
<path fill="#0268e1" d="M571 1113l-5-12 9 4 4 8z"/>
<path fill="#3637a0" d="M1111 1231l-4 5 8-7 5 17zM1223 1223l-5-15 9-7 4-5zM1193 1220l-5-3 9-3 4 1z"/>
<path fill="#7cbf7b" d="M1631 682l-4 103 8-4 5-97z"/>
<path fill="#3637a0" d="M1163 1225l-5 5 9-10 4 5z"/>
<path fill="#2053d4" d="M644 1157l-5-8 9 12 4-2z"/>
<path fill="#3637a0" d="M1133 1229l-5 13 9-14 4 10z"/>
<path fill="#0871de" d="M549 1092l-4-17 8 11 5 4z"/>
<path fill="#06a7c6" d="M1609 890l-4 9 9-11 4-11z"/>
<path fill="#06a0cd" d="M1597 922l-5 9 9-22 4-3z"/>
<path fill="#07a9c2" d="M1618 867l-4 15 8-14 5-13z"/>
<path fill="#0268e1" d="M584 1117l-5-4 9 3 4 10z"/>
<path fill="#079ccf" d="M1592 931l-4 7 8-21 5-8z"/>
<path fill="#353dad" d="M1214 1216l-4-4 8 1 5-6z"/>
<path fill="#0998d1" d="M1584 946l-5 4 9-17 4-6z"/>
<path fill="#3637a0" d="M1051 1231l-4 2 8 6 5 17z"/>
<path fill="#0998d1" d="M1579 950l-4 7 9-18 4-6z"/>
<path fill="#9cbf6f" d="M271 618l-4-318 9 3 4 326z"/>
<path fill="#0998d1" d="M1575 957l-4 7 8-18 5-7z"/>
<path fill="#108ed2" d="M1566 978l-4-3 9-20 4 0z"/>
<path fill="#127dd8" d="M1510 1047l-4-8 9-10 4-3z"/>
<path fill="#0f5cdd" d="M635 1155l-4-4 8 8 4-10z"/>
<path fill="#363093" d="M1120 1246l-5-17 9 14 4-9z"/>
<path fill="#3637a0" d="M1145 1231l-4 7 9-19 4 23z"/>
<path fill="#1389d3" d="M1553 992l-4 2 9-21 4-2z"/>
<path fill="#7cbf7b" d="M1640 684l-5 97 9-8 4-92z"/>
<path fill="#0f5cdd" d="M631 1151l-5-18 9 15 4 11z"/>
<path fill="#352a87" d="M1060 1256l-5-17 9-6 4 21z"/>
<path fill="#0268e1" d="M592 1126l-4-10 8-3 5 4z"/>
<path fill="#363093" d="M1141 1238l-4-10 8-11 5 2z"/>
<path fill="#92bf73" d="M280 629l-4-326 8 3 4 330z"/>
<path fill="#353dad" d="M1167 1220l-4-3 8 6 4 7z"/>
<path fill="#0aacbe" d="M1627 855l-5 13 9-16 4-11z"/>
<path fill="#07a9c2" d="M1618 877l-4 11 8-19 4-10z"/>
<path fill="#06a7c6" d="M1614 888l-5 8 9-19 4-8zM1609 896l-4 10 9-19 4-10z"/>
<path fill="#0faeb9" d="M1631 844l-4 11 8-14 4-11z"/>
<path fill="#06a4ca" d="M1605 906l-4 3 8-15 5-7z"/>
<path fill="#0268e1" d="M605 1128l-4-11 8 16 4 5z"/>
<path fill="#15b1b4" d="M1635 829l-4 15 8-14 5-13z"/>
<path fill="#06a4ca" d="M1601 909l-5 8 9-18 4-5z"/>
<path fill="#2053d4" d="M661 1173l-5-8 9 10 4-17z"/>
<path fill="#363093" d="M1102 1241l-4 4 9-12 4 8z"/>
<path fill="#1db3af" d="M1640 815l-5 14 9-12 4-13z"/>
<path fill="#06a0cd" d="M1596 917l-4 10 9-21 4-7z"/>
<path fill="#25b5a9" d="M1644 801l-4 14 8-11 4-13z"/>
<path fill="#06a0cd" d="M1592 927l-4 6 8-23 5-4z"/>
<path fill="#0f5cdd" d="M639 1159l-4-11 8 7 5-3z"/>
<path fill="#363093" d="M1154 1242l-4-23 8 5 4 5z"/>
<path fill="#2eb7a4" d="M1648 785l-4 16 8-10 5-15z"/>
<path fill="#363093" d="M1098 1245l-4 6 8-19 5 1z"/>
<path fill="#2053d4" d="M656 1165l-4-5 8 6 5 9z"/>
<path fill="#363093" d="M1068 1254l-4-21 8 20 5 2z"/>
<path fill="#7cbf7b" d="M1648 681l-4 92 8-6 5-88z"/>
<path fill="#38b99e" d="M1652 767l-4 18 9-9 4-17z"/>
<path fill="#92bf73" d="M288 636l-4-330 9 4 4 331z"/>
<path fill="#363093" d="M1120 1243l-5-11 9 7 4 12zM1094 1251l-5-14 9 1 4-6z"/>
<path fill="#3637a0" d="M1175 1230l-4-7 9-9 4 11z"/>
<path fill="#2053d4" d="M673 1177l-4-19 9 20 4 0z"/>
<path fill="#353dad" d="M1201 1223l-4-18 8 6 5 11z"/>
<path fill="#0363e1" d="M613 1138l-4-5 9-5 4 2z"/>
<path fill="#3637a0" d="M1141 1234l-4 1 8-2 4-3z"/>
<path fill="#0f5cdd" d="M631 1153l-5-14 9 7 4-2z"/>
<path fill="#3637a0" d="M1111 1241l-4-8 8 10 4-12zM1137 1235l-5 8 9-24 4 14z"/>
<path fill="#2053d4" d="M665 1175l-5-9 9 2 4-1z"/>
<path fill="#92bf73" d="M297 641l-4-331 8 3 5 336z"/>
<path fill="#3637a0" d="M1132 1243l-4 8 9-21 4-11z"/>
<path fill="#363093" d="M1077 1255l-5-2 9-18 4 11z"/>
<path fill="#3637a0" d="M1162 1229l-4-5 9 0 4-11z"/>
<path fill="#0f5cdd" d="M643 1155l-4-11 9 8 4 19z"/>
<path fill="#3637a0" d="M806 1233l-4-3 8-3 5 17z"/>
<path fill="#87bf77" d="M1657 679l-5 88 9-8 4-79z"/>
<path fill="#363093" d="M1128 1251l-4-12 8-9 5 0zM1072 1253l-4-10 8 5 5-13z"/>
<path fill="#353dad" d="M1184 1225l-4-11 8 3 4-2z"/>
<path fill="#3243ba" d="M759 1214l-4 0 8 3 5 11z"/>
<path fill="#2053d4" d="M656 1170l-4 1 8-9 5 12zM678 1178l-5-11 9 11 4 6z"/>
<path fill="#353dad" d="M1210 1222l-5-11 9-5 4-16z"/>
<path fill="#3243ba" d="M733 1212l-4-9 9 4 4 13z"/>
<path fill="#2c4ac7" d="M712 1197l-4-4 8 9 4 5z"/>
<path fill="#87bf77" d="M306 649l-5-336 9 3 4 339z"/>
<path fill="#2053d4" d="M690 1186l-4-2 9-5 4 18zM652 1171l-4-19 8 3 4 7z"/>
<path fill="#3637a0" d="M1145 1233l-4-14 8 1 5 3zM1085 1246l-4-11 8 6 5 8z"/>
<path fill="#2c4ac7" d="M703 1191l-4 6 8 0 5 11z"/>
<path fill="#2053d4" d="M665 1174l-5-12 9 17 4-8z"/>
<path fill="#353dad" d="M768 1228l-5-11 9 3 4-2zM1107 1231l-5 20 9-14 4 12zM1167 1224l-5-6 9 2 4-7zM742 1220l-4-13 8 0 4 12z"/>
<path fill="#3637a0" d="M1076 1248l-4-4 9-8 4 11z"/>
<path fill="#3243ba" d="M720 1207l-4-5 9-2 4-1z"/>
<path fill="#87bf77" d="M314 655l-4-339 8 3 5 343z"/>
<path fill="#363093" d="M1102 1251l-4-10 8-14 5 10z"/>
<path fill="#2c4ac7" d="M699 1197l-4-18 8 13 4 5z"/>
<path fill="#0f5cdd" d="M660 1162l-4-7 9 7 4 17z"/>
<path fill="#2c4ac7" d="M716 1202l-4 6 8-15 5 7z"/>
<path fill="#3637a0" d="M1094 1249l-5-8 9-3 4 2z"/>
<path fill="#3243ba" d="M712 1208l-5-11 9-3 4-1z"/>
<path fill="#363093" d="M1012 1258l-4-24 8 14 5 15z"/>
<path fill="#3637a0" d="M1059 1251l-4 4 8-10 5 5zM1115 1249l-4-12 8-1 5-12z"/>
<path fill="#87bf77" d="M323 662l-5-343 9 3 4 347z"/>
<path fill="#2053d4" d="M669 1179l-4-17 8 11 4-2z"/>
<path fill="#3637a0" d="M1085 1247l-4-11 8 10 4-10z"/>
<path fill="#363093" d="M1055 1255l-4-6 8-2 4-2z"/>
<path fill="#2c4ac7" d="M725 1200l-5-7 9 5 4 22z"/>
<path fill="#353dad" d="M1162 1227l-4-4 8-10 5 7z"/>
<path fill="#363093" d="M1021 1263l-5-15 9 10 4 2z"/>
<path fill="#353dad" d="M780 1231l-4-6 9 2 4 10z"/>
<path fill="#3637a0" d="M969 1256l-4-9 8 0 5 12z"/>
<path fill="#87bf77" d="M331 669l-4-347 8 4 5 350z"/>
<path fill="#0f5cdd" d="M677 1171l-4 2 9 2 4 15z"/>
<path fill="#2053d4" d="M695 1185l-5 4 9-5 4 13zM716 1194l-4 1 8-8 4 22z"/>
<path fill="#3243ba" d="M733 1220l-4-22 8 7 5 11z"/>
<path fill="#2c4ac7" d="M755 1205l-5 6 9 0 4 20z"/>
<path fill="#3637a0" d="M862 1253l-5-4 9 2 4 10z"/>
<path fill="#2053d4" d="M690 1189l-4 1 8-1 5-5z"/>
<path fill="#363093" d="M1008 1261l-5-7 9 0 4 1zM1029 1260l-4-2 8-9 5 8z"/>
<path fill="#7cbf7b" d="M340 676l-5-350 9 3 4 355z"/>
<path fill="#2053d4" d="M686 1190l-4-15 8 2 4 12z"/>
<path fill="#3637a0" d="M978 1259l-5-12 9 17 4-14z"/>
<path fill="#353dad" d="M789 1237l-4-10 8 8 4-10z"/>
<path fill="#2c4ac7" d="M724 1209l-4-22 9 22 4 3z"/>
<path fill="#2053d4" d="M703 1197l-4-13 8 17 5-1z"/>
<path fill="#3637a0" d="M1055 1252l-4-17 8 4 4 12zM973 1247l-4 16 8-15 5 16z"/>
<path fill="#353dad" d="M763 1231l-4-20 8 11 5-6z"/>
<path fill="#363093" d="M870 1261l-4-10 8-4 5 4z"/>
<path fill="#0f5cdd" d="M699 1184l-5 5 9-9 4 21z"/>
<path fill="#363093" d="M969 1263l-4-13 8 2 4-4z"/>
<path fill="#3637a0" d="M1042 1250l-4 7 8-21 4 16z"/>
<path fill="#7cbf7b" d="M348 684l-4-355 8 3 5 355z"/>
<path fill="#2053d4" d="M712 1200l-5 1 9-13 4 14z"/>
<path fill="#363093" d="M982 1264l-5-16 9 13 4-5z"/>
<path fill="#3243ba" d="M814 1228l-4 11 9-2 4 18z"/>
<path fill="#353dad" d="M1008 1248l-5 7 9-3 4 7z"/>
<path fill="#3637a0" d="M1038 1257l-5-8 9-25 4 12z"/>
<path fill="#353dad" d="M836 1244l-4-1 8 2 4 7z"/>
<path fill="#2c4ac7" d="M729 1209l-5-12 9 7 4 3z"/>
<path fill="#3637a0" d="M857 1250l-4-6 9 5 4 9z"/>
<path fill="#2053d4" d="M707 1201l-4-21 8 14 5-6z"/>
<path fill="#363093" d="M999 1271l-4-8 8-14 4 9z"/>
<path fill="#3637a0" d="M1055 1250l-5 2 9-12 4-2z"/>
<path fill="#7cbf7b" d="M357 687l-5-355 9 3 4 361z"/>
<path fill="#3243ba" d="M1025 1237l-5 24 9-22 4 24z"/>
<path fill="#3637a0" d="M995 1263l-5-7 9 6 4-13zM1050 1252l-4-16 9 4 4 0zM849 1255l-5-3 9-17 4 12zM823 1255l-4-18 8 13 4 3zM1020 1261l-4-2 9-21 4 1zM866 1258l-4-9 8 6 4-5zM844 1252l-4-7 9 3 4-13zM965 1253l-5-3 9 3 4 5zM1016 1259l-4-7 8-10 5-4zM986 1261l-4-6 8 5 5-4z"/>
<path fill="#7cbf7b" d="M365 696l-4-361 8 4 5 362z"/>
<path fill="#3637a0" d="M1037 1254l-4 9 9-21 4-10zM909 1256l-5-12 9 5 4 19zM982 1255l-5-3 9 0 4 8zM1033 1263l-4-24 8 2 5 1z"/>
<path fill="#0268e1" d="M669 1161l-5 11 9-14 4 20z"/>
<path fill="#3243ba" d="M810 1233l-4 8 8-6 5 18z"/>
<path fill="#2c4ac7" d="M767 1220l-4-4 8 4 5 18z"/>
<path fill="#353dad" d="M831 1253l-4-3 9-14 4-3z"/>
<path fill="#3637a0" d="M973 1258l-4-5 8-3 5 4z"/>
<path fill="#7cbf7b" d="M374 701l-5-362 9 3 4 365z"/>
<path fill="#2053d4" d="M741 1208l-4-6 9 6 4 12z"/>
<path fill="#3243ba" d="M780 1233l-4 5 8-9 5 4z"/>
<path fill="#3637a0" d="M917 1268l-4-19 8-1 5 14zM990 1260l-4-8 8-5 5 1z"/>
<path fill="#0363e1" d="M677 1178l-4-20 8 11 5 6z"/>
<path fill="#3243ba" d="M776 1238l-5-18 9 3 4 6z"/>
<path fill="#353dad" d="M819 1253l-5-18 9 0 4 14z"/>
<path fill="#3637a0" d="M887 1258l-4-4 8-3 5 8z"/>
<path fill="#353dad" d="M934 1256l-4 2 9-7 4 21z"/>
<path fill="#3637a0" d="M861 1259l-4-15 9 9 4-5z"/>
<path fill="#2c4ac7" d="M750 1220l-4-12 8 11 4 0z"/>
<path fill="#71bf80" d="M382 707l-4-365 8 3 5 368z"/>
<path fill="#3637a0" d="M952 1264l-5-14 9 9 4 10z"/>
<path fill="#2053d4" d="M746 1208l-5 1 9-6 4 16z"/>
<path fill="#3637a0" d="M926 1262l-5-14 9 1 4 1z"/>
<path fill="#2c4ac7" d="M784 1229l-4-6 8 10 5 6zM763 1222l-5-3 9 4 4 0z"/>
<path fill="#353dad" d="M896 1259l-5-8 9-6 4 22z"/>
<path fill="#3637a0" d="M943 1272l-4-21 8 0 4 13z"/>
<path fill="#71bf80" d="M391 713l-5-368 9 3 4 370z"/>
<path fill="#353dad" d="M964 1258l-4 11 9-26 4 14zM866 1253l-5 5 9-18 4 15z"/>
<path fill="#3637a0" d="M960 1269l-4-10 8 3 5-19z"/>
<path fill="#2c4ac7" d="M754 1219l-4-16 8 16 5 1z"/>
<path fill="#353dad" d="M861 1258l-4-3 9 0 4-15z"/>
<path fill="#3243ba" d="M793 1239l-5-6 9 9 4-5z"/>
<path fill="#353dad" d="M956 1259l-5 5 9-12 4 10zM857 1255l-4-2 8-6 5 8z"/>
<path fill="#3637a0" d="M904 1267l-4-22 8 19 5-7z"/>
<path fill="#71bf80" d="M399 718l-4-370 8 4 5 375z"/>
<path fill="#353dad" d="M926 1260l-5-6 9 3 4 5zM951 1264l-4-13 9 8 4-7z"/>
<path fill="#2c4ac7" d="M788 1233l-4-10 9-3 4 22z"/>
<path fill="#353dad" d="M896 1265l-5-2 9-5 4-5zM973 1257l-4-14 8-6 4 6zM891 1263l-4-10 9-3 4 8z"/>
<path fill="#2c4ac7" d="M780 1233l-5-5 9-6 4-1z"/>
<path fill="#2053d4" d="M758 1219l-4-10 9 0 4 12z"/>
<path fill="#353dad" d="M866 1255l-5-8 9 6 4 3z"/>
<path fill="#3243ba" d="M844 1247l-4-14 8 9 5 15z"/>
<path fill="#353dad" d="M964 1262l-4-10 8 1 5-3z"/>
<path fill="#71bf80" d="M408 727l-5-375 9 3 4 377z"/>
<path fill="#353dad" d="M913 1257l-5 7 9-31 4 24z"/>
<path fill="#3243ba" d="M797 1242l-4-22 8 2 4 21z"/>
<path fill="#353dad" d="M934 1262l-4-5 8 4 5-5zM908 1264l-4-11 9 8 4-28zM878 1264l-4-8 9 2 4 1zM930 1257l-4-4 8-4 4 12z"/>
<path fill="#2c4ac7" d="M810 1239l-5 4 9-14 4 14z"/>
<path fill="#3243ba" d="M831 1242l-4 3 8-4 5 7z"/>
<path fill="#65be86" d="M416 732l-4-377 8 3 5 381z"/>
<path fill="#3243ba" d="M874 1256l-4-3 8-3 5 8zM805 1243l-4-21 9 17 4-10zM896 1250l-5-2 9 6 4 12z"/>
<path fill="#2c4ac7" d="M844 1241l-4 7 8-4 5 14z"/>
<path fill="#353dad" d="M913 1261l-5-1 9-2 4-11z"/>
<path fill="#3243ba" d="M887 1259l-4-1 8-12 4 9z"/>
<path fill="#65be86" d="M425 739l-5-381 9 3 4 381z"/>
<path fill="#3243ba" d="M840 1248l-5-7 9 1 4 2z"/>
<path fill="#353dad" d="M908 1260l-4 6 9-21 4 13zM904 1266l-4-12 8-7 5-2z"/>
<path fill="#2c4ac7" d="M810 1239l-5-5 9-3 4 6z"/>
<path fill="#3243ba" d="M853 1258l-5-14 9 1 4 6z"/>
<path fill="#65be86" d="M433 742l-4-381 8 3 5 387zM442 751l-5-387 9 4 4 388z"/>
<path fill="#2c4ac7" d="M835 1245l-4-14 9 8 4 1z"/>
<path fill="#65be86" d="M450 756l-4-388 8 3 5 389zM459 760l-5-389 9 3 4 394z"/>
<path fill="#59bd8c" d="M467 768l-4-394 9 3 4 396zM476 773l-4-396 8 4 4 399zM484 780l-4-399 9 3 4 403zM493 787l-4-403 8 3 4 404zM501 791l-4-404 9 3 4 407z"/>
<path fill="#4dbc92" d="M510 797l-4-407 8 4 4 410zM518 804l-4-410 9 3 4 412zM527 809l-4-412 8 3 4 416zM535 816l-4-416 9 3 4 415zM544 818l-4-415 8 3 4 416zM552 822l-4-416 9 4 4 416zM561 826l-4-416 8 3 5 418zM570 831l-5-418 9 3 4 416zM578 832l-4-416 8 3 5 416zM587 835l-5-416 9 4 4 416zM595 839l-4-416 8 3 5 416zM604 842l-5-416 9 3 4 417zM612 846l-4-417 8 3 5 418zM621 850l-5-418 9 3 4 417zM629 852l-4-417 8 4 5 414zM638 853l-5-414 9 3 4 411zM646 853l-4-411 8 3 5 410zM655 855l-5-410 9 3 4 408zM663 856l-4-408 8 4 5 405z"/>
<path fill="#59bd8c" d="M672 857l-5-405 9 3 4 404zM680 859l-4-404 8 3 5 402zM689 860l-5-402 9 3 4 399zM697 860l-4-399 8 4 5 398zM706 863l-5-398 9 3 4 395zM714 863l-4-395 8 3 5 390z"/>
<path fill="#65be86" d="M723 861l-5-390 9 3 4 388zM731 862l-4-388 9 3 4 386zM740 863l-4-386 8 4 4 380zM748 861l-4-380 9 3 4 375z"/>
<path fill="#71bf80" d="M757 859l-4-375 8 3 4 374zM765 861l-4-374 9 3 4 371zM774 861l-4-371 8 4 4 365zM782 859l-4-365 9 3 4 362z"/>
<path fill="#7cbf7b" d="M791 859l-4-362 8 3 4 359zM799 859l-4-359 9 3 4 356z"/>
</g>
<line x1="99.5" y1="586.2" x2="99.5" y2="117.5" stroke="#262626" stroke-width="2"/>
<line x1="99.5" y1="586.2" x2="409.7" y2="703.8" stroke="#262626" stroke-width="2"/>
<line x1="409.7" y1="703.8" x2="840.5" y2="619.0" stroke="#262626" stroke-width="2"/>
<line x1="99.5" y1="586.2" x2="87.5" y2="581.7" stroke="#262626" stroke-width="2"/>
<line x1="99.5" y1="508.1" x2="87.5" y2="503.5" stroke="#262626" stroke-width="2"/>
<line x1="99.5" y1="430.0" x2="87.5" y2="425.4" stroke="#262626" stroke-width="2"/>
<line x1="99.5" y1="351.8" x2="87.5" y2="347.3" stroke="#262626" stroke-width="2"/>
<line x1="99.5" y1="273.7" x2="87.5" y2="269.2" stroke="#262626" stroke-width="2"/>
<line x1="99.5" y1="195.6" x2="87.5" y2="191.1" stroke="#262626" stroke-width="2"/>
<line x1="99.5" y1="117.5" x2="87.5" y2="113.0" stroke="#262626" stroke-width="2"/>
<line x1="99.5" y1="586.2" x2="86.9" y2="588.7" stroke="#262626" stroke-width="2"/>
<line x1="177.0" y1="615.6" x2="164.5" y2="618.1" stroke="#262626" stroke-width="2"/>
<line x1="254.6" y1="645.0" x2="242.0" y2="647.5" stroke="#262626" stroke-width="2"/>
<line x1="332.1" y1="674.4" x2="319.6" y2="676.9" stroke="#262626" stroke-width="2"/>
<line x1="409.7" y1="703.8" x2="397.1" y2="706.3" stroke="#262626" stroke-width="2"/>
<line x1="840.5" y1="619.0" x2="852.5" y2="623.5" stroke="#262626" stroke-width="2"/>
<line x1="754.3" y1="636.0" x2="766.3" y2="640.5" stroke="#262626" stroke-width="2"/>
<line x1="668.2" y1="652.9" x2="680.1" y2="657.5" stroke="#262626" stroke-width="2"/>
<line x1="582.0" y1="669.9" x2="594.0" y2="674.4" stroke="#262626" stroke-width="2"/>
<line x1="495.9" y1="686.8" x2="507.8" y2="691.4" stroke="#262626" stroke-width="2"/>
<line x1="409.7" y1="703.8" x2="421.7" y2="708.3" stroke="#262626" stroke-width="2"/>
<text transform="translate(80.5,587.6) scale(1,1.1)" text-anchor="end" style="font-family:'Liberation Sans',sans-serif;font-size:21px;fill:#262626">-3</text>
<text transform="translate(80.5,509.5) scale(1,1.1)" text-anchor="end" style="font-family:'Liberation Sans',sans-serif;font-size:21px;fill:#262626">-2.5</text>
<text transform="translate(80.5,431.4) scale(1,1.1)" text-anchor="end" style="font-family:'Liberation Sans',sans-serif;font-size:21px;fill:#262626">-2</text>
<text transform="translate(80.5,353.2) scale(1,1.1)" text-anchor="end" style="font-family:'Liberation Sans',sans-serif;font-size:21px;fill:#262626">-1.5</text>
<text transform="translate(80.5,275.1) scale(1,1.1)" text-anchor="end" style="font-family:'Liberation Sans',sans-serif;font-size:21px;fill:#262626">-1</text>
<text transform="translate(80.5,197.0) scale(1,1.1)" text-anchor="end" style="font-family:'Liberation Sans',sans-serif;font-size:21px;fill:#262626">-0.5</text>
<text transform="translate(80.5,118.9) scale(1,1.1)" text-anchor="end" style="font-family:'Liberation Sans',sans-serif;font-size:21px;fill:#262626">0</text>
<text transform="translate(80.0,610.8) scale(1,1.1)" text-anchor="end" style="font-family:'Liberation Sans',sans-serif;font-size:21px;fill:#262626">0</text>
<text transform="translate(157.5,640.2) scale(1,1.1)" text-anchor="end" style="font-family:'Liberation Sans',sans-serif;font-size:21px;fill:#262626">0.2</text>
<text transform="translate(235.1,669.6) scale(1,1.1)" text-anchor="end" style="font-family:'Liberation Sans',sans-serif;font-size:21px;fill:#262626">0.4</text>
<text transform="translate(312.6,699.0) scale(1,1.1)" text-anchor="end" style="font-family:'Liberation Sans',sans-serif;font-size:21px;fill:#262626">0.6</text>
<text transform="translate(390.2,728.4) scale(1,1.1)" text-anchor="end" style="font-family:'Liberation Sans',sans-serif;font-size:21px;fill:#262626">0.8</text>
<text transform="translate(427.2,732.3) scale(1,1.1)" text-anchor="start" style="font-family:'Liberation Sans',sans-serif;font-size:21px;fill:#262626">1</text>
<text transform="translate(513.4,715.3) scale(1,1.1)" text-anchor="start" style="font-family:'Liberation Sans',sans-serif;font-size:21px;fill:#262626">0.8</text>
<text transform="translate(599.5,698.4) scale(1,1.1)" text-anchor="start" style="font-family:'Liberation Sans',sans-serif;font-size:21px;fill:#262626">0.6</text>
<text transform="translate(685.7,681.4) scale(1,1.1)" text-anchor="start" style="font-family:'Liberation Sans',sans-serif;font-size:21px;fill:#262626">0.4</text>
<text transform="translate(771.8,664.5) scale(1,1.1)" text-anchor="start" style="font-family:'Liberation Sans',sans-serif;font-size:21px;fill:#262626">0.2</text>
<text transform="translate(858.0,647.5) scale(1,1.1)" text-anchor="start" style="font-family:'Liberation Sans',sans-serif;font-size:21px;fill:#262626">0</text>
<g shape-rendering="crispEdges"><rect x="893.4" y="693.02" width="36.2" height="11.08" fill="#352a87"/>
<rect x="893.4" y="682.53" width="36.2" height="11.08" fill="#363093"/>
<rect x="893.4" y="672.05" width="36.2" height="11.08" fill="#3637a0"/>
<rect x="893.4" y="661.57" width="36.2" height="11.08" fill="#353dad"/>
<rect x="893.4" y="651.09" width="36.2" height="11.08" fill="#3243ba"/>
<rect x="893.4" y="640.60" width="36.2" height="11.08" fill="#2c4ac7"/>
<rect x="893.4" y="630.12" width="36.2" height="11.08" fill="#2053d4"/>
<rect x="893.4" y="619.64" width="36.2" height="11.08" fill="#0f5cdd"/>
<rect x="893.4" y="609.15" width="36.2" height="11.08" fill="#0363e1"/>
<rect x="893.4" y="598.67" width="36.2" height="11.08" fill="#0268e1"/>
<rect x="893.4" y="588.19" width="36.2" height="11.08" fill="#046de0"/>
<rect x="893.4" y="577.71" width="36.2" height="11.08" fill="#0871de"/>
<rect x="893.4" y="567.22" width="36.2" height="11.08" fill="#0d75dc"/>
<rect x="893.4" y="556.74" width="36.2" height="11.08" fill="#1079da"/>
<rect x="893.4" y="546.26" width="36.2" height="11.08" fill="#127dd8"/>
<rect x="893.4" y="535.77" width="36.2" height="11.08" fill="#1481d6"/>
<rect x="893.4" y="525.29" width="36.2" height="11.08" fill="#1485d4"/>
<rect x="893.4" y="514.81" width="36.2" height="11.08" fill="#1389d3"/>
<rect x="893.4" y="504.33" width="36.2" height="11.08" fill="#108ed2"/>
<rect x="893.4" y="493.84" width="36.2" height="11.08" fill="#0c93d2"/>
<rect x="893.4" y="483.36" width="36.2" height="11.08" fill="#0998d1"/>
<rect x="893.4" y="472.88" width="36.2" height="11.08" fill="#079ccf"/>
<rect x="893.4" y="462.40" width="36.2" height="11.08" fill="#06a0cd"/>
<rect x="893.4" y="451.91" width="36.2" height="11.08" fill="#06a4ca"/>
<rect x="893.4" y="441.43" width="36.2" height="11.08" fill="#06a7c6"/>
<rect x="893.4" y="430.95" width="36.2" height="11.08" fill="#07a9c2"/>
<rect x="893.4" y="420.46" width="36.2" height="11.08" fill="#0aacbe"/>
<rect x="893.4" y="409.98" width="36.2" height="11.08" fill="#0faeb9"/>
<rect x="893.4" y="399.50" width="36.2" height="11.08" fill="#15b1b4"/>
<rect x="893.4" y="389.02" width="36.2" height="11.08" fill="#1db3af"/>
<rect x="893.4" y="378.53" width="36.2" height="11.08" fill="#25b5a9"/>
<rect x="893.4" y="368.05" width="36.2" height="11.08" fill="#2eb7a4"/>
<rect x="893.4" y="357.57" width="36.2" height="11.08" fill="#38b99e"/>
<rect x="893.4" y="347.08" width="36.2" height="11.08" fill="#42bb98"/>
<rect x="893.4" y="336.60" width="36.2" height="11.08" fill="#4dbc92"/>
<rect x="893.4" y="326.12" width="36.2" height="11.08" fill="#59bd8c"/>
<rect x="893.4" y="315.64" width="36.2" height="11.08" fill="#65be86"/>
<rect x="893.4" y="305.15" width="36.2" height="11.08" fill="#71bf80"/>
<rect x="893.4" y="294.67" width="36.2" height="11.08" fill="#7cbf7b"/>
<rect x="893.4" y="284.19" width="36.2" height="11.08" fill="#87bf77"/>
<rect x="893.4" y="273.70" width="36.2" height="11.08" fill="#92bf73"/>
<rect x="893.4" y="263.22" width="36.2" height="11.08" fill="#9cbf6f"/>
<rect x="893.4" y="252.74" width="36.2" height="11.08" fill="#a5be6b"/>
<rect x="893.4" y="242.26" width="36.2" height="11.08" fill="#aebe67"/>
<rect x="893.4" y="231.77" width="36.2" height="11.08" fill="#b7bd64"/>
<rect x="893.4" y="221.29" width="36.2" height="11.08" fill="#c0bc60"/>
<rect x="893.4" y="210.81" width="36.2" height="11.08" fill="#c8bc5d"/>
<rect x="893.4" y="200.33" width="36.2" height="11.08" fill="#d1bb59"/>
<rect x="893.4" y="189.84" width="36.2" height="11.08" fill="#d9ba56"/>
<rect x="893.4" y="179.36" width="36.2" height="11.08" fill="#e1b952"/>
<rect x="893.4" y="168.88" width="36.2" height="11.08" fill="#e9b94e"/>
<rect x="893.4" y="158.39" width="36.2" height="11.08" fill="#f1b94a"/>
<rect x="893.4" y="147.91" width="36.2" height="11.08" fill="#f8bb44"/>
<rect x="893.4" y="137.43" width="36.2" height="11.08" fill="#fdbe3d"/>
<rect x="893.4" y="126.95" width="36.2" height="11.08" fill="#ffc337"/>
<rect x="893.4" y="116.46" width="36.2" height="11.08" fill="#fec832"/>
<rect x="893.4" y="105.98" width="36.2" height="11.08" fill="#fcce2e"/>
<rect x="893.4" y="95.50" width="36.2" height="11.08" fill="#fad32a"/>
<rect x="893.4" y="85.01" width="36.2" height="11.08" fill="#f7d826"/>
<rect x="893.4" y="74.53" width="36.2" height="11.08" fill="#f5de21"/>
<rect x="893.4" y="64.05" width="36.2" height="11.08" fill="#f5e41d"/>
<rect x="893.4" y="53.57" width="36.2" height="11.08" fill="#f5eb18"/>
<rect x="893.4" y="43.08" width="36.2" height="11.08" fill="#f6f313"/>
<rect x="893.4" y="32.60" width="36.2" height="11.08" fill="#f9fb0e"/></g>
<rect x="893.4" y="32.6" width="36.2" height="670.9" fill="none" stroke="#262626" stroke-width="1.2"/>
<line x1="922.1" y1="120.7" x2="929.6" y2="120.7" stroke="#262626" stroke-width="1.2"/>
<text transform="translate(937.3,128.0) scale(1,1.12)" text-anchor="start" style="font-family:'Liberation Sans',sans-serif;font-size:19px;fill:#262626">-0.5</text>
<line x1="922.1" y1="237.5" x2="929.6" y2="237.5" stroke="#262626" stroke-width="1.2"/>
<text transform="translate(937.3,244.8) scale(1,1.12)" text-anchor="start" style="font-family:'Liberation Sans',sans-serif;font-size:19px;fill:#262626">-1</text>
<line x1="922.1" y1="354.2" x2="929.6" y2="354.2" stroke="#262626" stroke-width="1.2"/>
<text transform="translate(937.3,361.6) scale(1,1.12)" text-anchor="start" style="font-family:'Liberation Sans',sans-serif;font-size:19px;fill:#262626">-1.5</text>
<line x1="922.1" y1="471.0" x2="929.6" y2="471.0" stroke="#262626" stroke-width="1.2"/>
<text transform="translate(937.3,478.3) scale(1,1.12)" text-anchor="start" style="font-family:'Liberation Sans',sans-serif;font-size:19px;fill:#262626">-2</text>
<line x1="922.1" y1="587.8" x2="929.6" y2="587.8" stroke="#262626" stroke-width="1.2"/>
<text transform="translate(937.3,595.1) scale(1,1.12)" text-anchor="start" style="font-family:'Liberation Sans',sans-serif;font-size:19px;fill:#262626">-2.5</text>
<text x="351" y="23.8" style="font-family:'Liberation Sans',sans-serif;font-size:23.6px;font-weight:bold;fill:#000">QRD BPSK: SER(<tspan style="font-family:'Liberation Serif',serif;font-style:italic;font-weight:bold">&#946;,&#952;</tspan>)</text>
<text x="91" y="729" style="font-family:'Liberation Sans',sans-serif;font-size:23.5px;fill:#262626">Rotation angle <tspan style="font-family:'Liberation Serif',serif;font-style:italic">&#952;</tspan> (rad)</text>
<text x="585.5" y="741.5" style="font-family:'Liberation Sans',sans-serif;font-size:23.8px;fill:#262626">Power split <tspan style="font-family:'Liberation Serif',serif;font-style:italic">&#946;</tspan></text>
<text transform="translate(21.7,406.8) rotate(-90)" style="font-family:'Liberation Sans',sans-serif;font-size:23.5px;fill:#262626">log<tspan dx="3" dy="9" style="font-size:16.5px">10</tspan><tspan dx="2.5" dy="-9" style="font-size:24.2px"> SER</tspan></text>
<text x="556" y="638.5" style="font-family:'Liberation Sans',sans-serif;font-size:21.8px;fill:#ff0000"><tspan style="font-family:'Liberation Serif',serif;font-style:italic">&#946;</tspan>=0.49, <tspan style="font-family:'Liberation Serif',serif;font-style:italic">&#952;</tspan>=31.7<tspan dx="1" dy="-9" style="font-size:23px">&#176;</tspan></text>
</svg>
</body></html>
